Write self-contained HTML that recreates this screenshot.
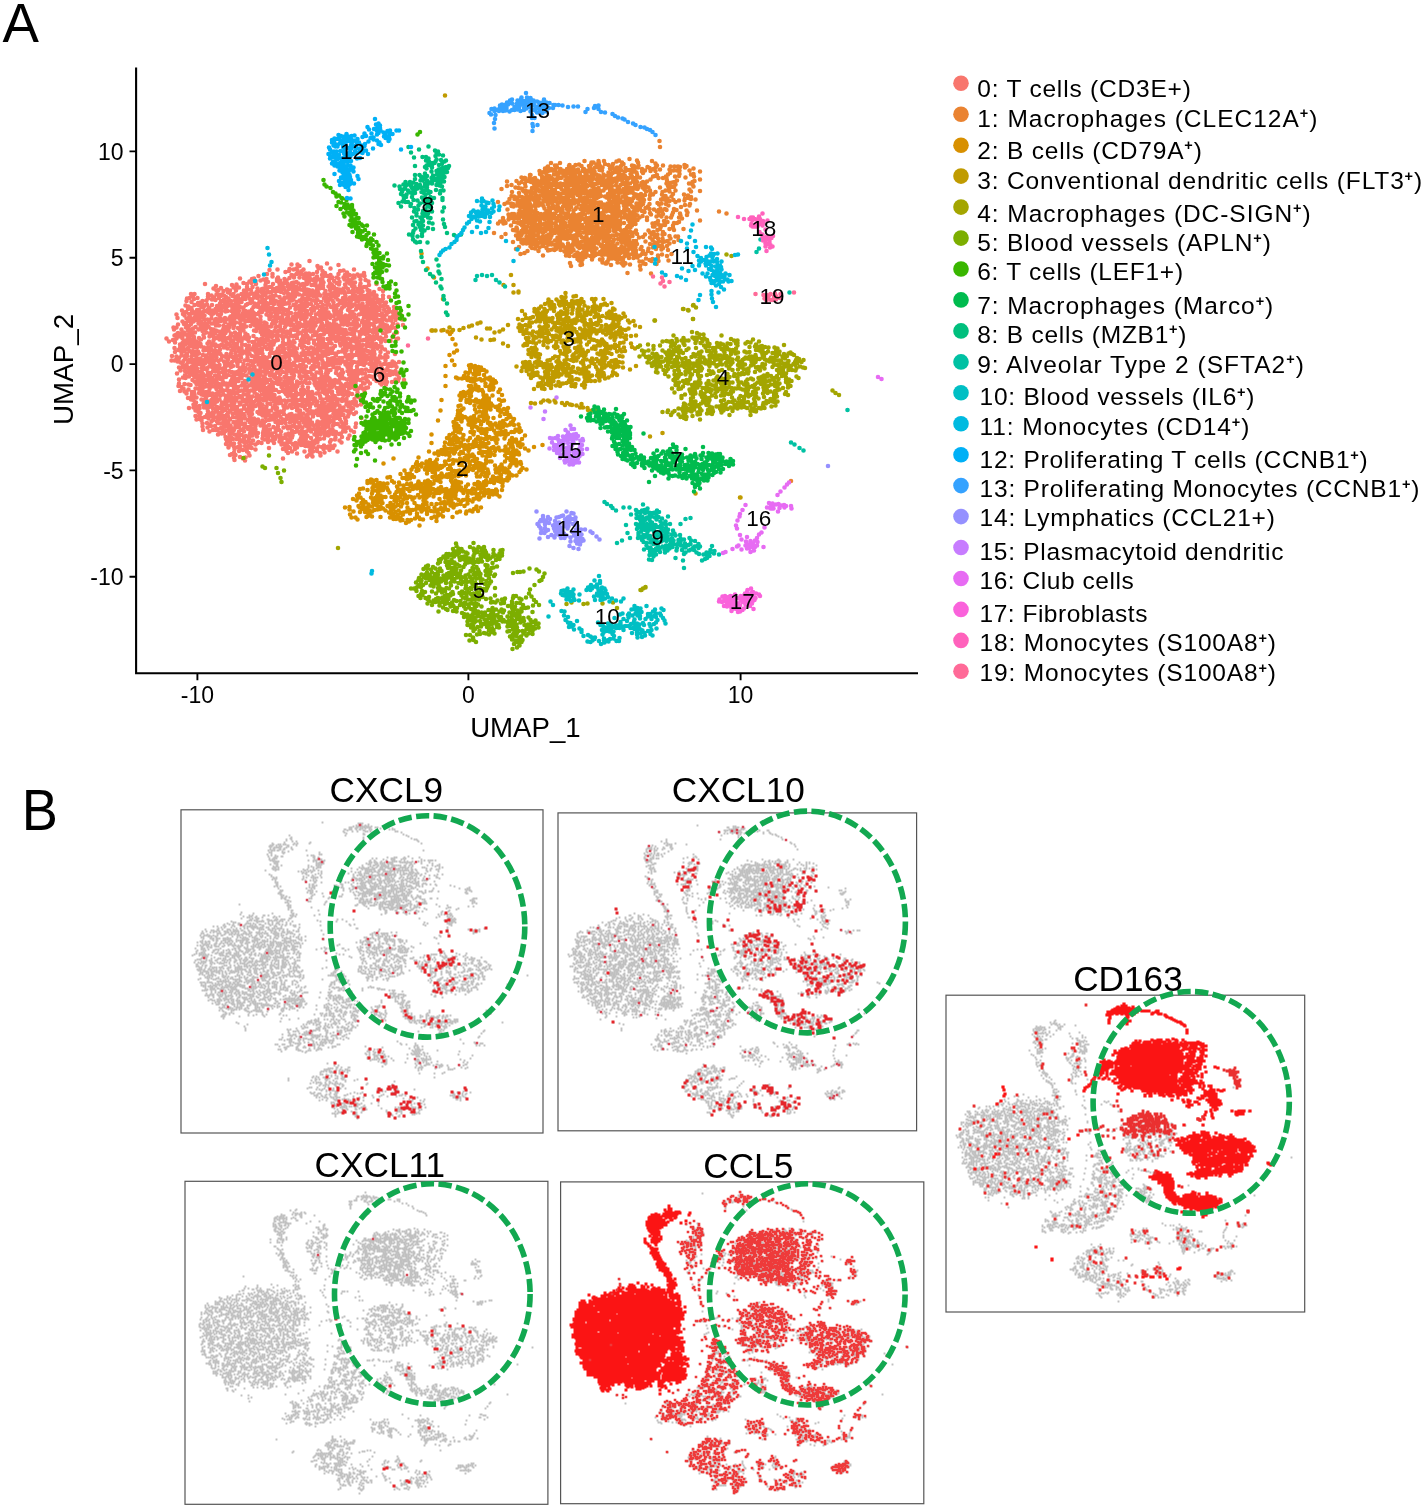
<!DOCTYPE html>
<html lang="en"><head><meta charset="utf-8"><title>UMAP clusters and chemokine expression</title>
<style>html,body{margin:0;padding:0;background:#fff}svg{display:block}text{font-family:"Liberation Sans", Arial, sans-serif;fill:#000}</style></head>
<body>
<svg width="1424" height="1508" viewBox="0 0 1424 1508">
<rect width="1424" height="1508" fill="#fff"/>
<text x="2.6" y="41.6" font-size="54.6">A</text>
<text transform="translate(21.7 829.8) scale(.957 1)" font-size="56.6">B</text>
<path d="M136.1 67.5V673.2H918" fill="none" stroke="#000" stroke-width="2.1"/>
<path d="M129.5 151.4H136M129.5 257.8H136M129.5 364.1H136M129.5 470.4H136M129.5 576.7H136M197.4 673.2V680.3M468.4 673.2V680.3M740.6 673.2V680.3" stroke="#000" stroke-width="1.9" fill="none"/>
<text x="123.6" y="159.7" font-size="23" text-anchor="end">10</text>
<text x="123.6" y="266.1" font-size="23" text-anchor="end">5</text>
<text x="123.6" y="372.4" font-size="23" text-anchor="end">0</text>
<text x="123.6" y="478.7" font-size="23" text-anchor="end">-5</text>
<text x="123.6" y="585.0" font-size="23" text-anchor="end">-10</text>
<text x="197.4" y="703.2" font-size="23" text-anchor="middle">-10</text>
<text x="468.4" y="703.2" font-size="23" text-anchor="middle">0</text>
<text x="740.6" y="703.2" font-size="23" text-anchor="middle">10</text>
<text x="525.4" y="737.4" font-size="27.6" text-anchor="middle">UMAP_1</text>
<text transform="translate(73.2 369.5) rotate(-90)" font-size="27.8" text-anchor="middle">UMAP_2</text>
<g fill="none" stroke-linecap="round" stroke-width="4.6">
<path stroke="#F8766D" d="M327 263.5h0m-17.5-2.5h0m-32 8.5h0m12-.5h0m2-4.5h0m2 5h0m3-1h0m1-4h0m2 1.5h0m4 3.5h0m14-3.5h0m1 2.5h0m2.5-1h0m9.5 1h0m8-3.5h0m15.5 4.5h0m10 3.5h0m-3 2.5h0m-3.5-1h0m-4 1h0m-4-.5h0m-2.5-2.5h0m-2 2.5h0m-1.5-4.5h0m-3.5 .5h0m-1.5 3h0m-8 1h0m-5.5-2h0m-2.5-2h0m-.5 4h0m-5-3h0m-4 2h0m-4-.5h0m-3 0h0m-2.5 1.5h0m-1.5-4h0m-1.5 3h0m-2-1.5h0m-1-2h0m-1 3.5h0m-2.5 1.5h0m-2.5-.5h0m-2.5-4h0m-3.5 1h0m-13 2h0m-3-4h0m-2.5 4h0m-27 4.5h0m9.5 3h0m2.5-2.5h0m2-.5h0m1.5 2.5h0m3-5h0m2 4.5h0m3-1h0m3-.5h0m6-2.5h0m4.5 2.5h0m0 2h0m1-3.5h0m2 3h0m4.5-1.5h0m2 1.5h0m3-2.5h0m4.5-.5h0m5.5 0h0m4.5 .5h0m2.5-1h0m0 4h0m2.5-3h0m0 3.5h0m.5-5.5h0m2 3.5h0m2 1h0m1.5-2h0m1.5 1.5h0m.5-3.5h0m2.5 3h0m3-2h0m0 3h0m1.5-4.5h0m3.5 0h0m1.5 4.5h0m1.5-2.5h0m2-.5h0m1.5 3.5h0m3-3.5h0m1.5 1h0m5-1h0m1 2h0m3-3h0m1 3.5h0m4-1.5h0m2-1h0m4.5-1.5h0m1.5 3.5h0m4-3.5h0m1 4h0m3 1.5h0m8 2.5h0m-7.5 1h0m-3 2h0m-2 0h0m-3.5-3.5h0m-.5 2h0m0 2h0m-5-5h0m-.5 4h0m-2-2.5h0m-.5 2h0m-.5-4h0m-2 1.5h0m-2-1.5h0m-2 4.5h0m-.5-2h0m-5.5-2.5h0m-.5 2.5h0m-2.5-1.5h0m-2.5 4h0m-2-2h0m-2-1.5h0m-1.5 3h0m-5-4h0m-.5 3h0m-2-3h0m-.5 2h0m-.5 2h0m-3.5-.5h0m-1-3h0m-1.5 2h0m-2.5 0h0m-4.5-1h0m-3 2.5h0m-1-2.5h0m-2 1h0m-2.5-1.5h0m-2-1.5h0m-.5 5h0m-2-4.5h0m-.5 3h0m-1 2h0m-.5-4.5h0m-1 2.5h0m-3.5-2h0m0 3h0m-3.5-3.5h0m-1 3.5h0m-1-3h0m-.5 2h0m-2-2h0m0 3h0m-6.5-2.5h0m-1.5 3h0m-2 0h0m-1.5-5h0m-2 1h0m-.5 2h0m-9.5-1h0m-3.5 3h0m-1-4h0m-4.5 1h0m0 3h0m-3.5-4h0m-4.5 4.5h0m-2.5-3h0m-3 3h0m-1.5-2.5h0m-16 1h0m-11-2h0m8.5 4.5h0m3 2h0m2-.5h0m2.5-2h0m2.5 3h0m3.5-1.5h0m1 3h0m2-2h0m6 0h0m.5-2.5h0m7.5 2.5h0m2 2h0m2-3h0m3 .5h0m1.5 3.5h0m4-1.5h0m1-3.5h0m1.5 3h0m3-2.5h0m0 3.5h0m2-4h0m0 4h0m3-4h0m.5 3h0m2 1h0m2-.5h0m1.5-2h0m2-1h0m.5 2.5h0m1.5-3.5h0m1.5 1.5h0m.5 1.5h0m2-3h0m0 4h0m3-3h0m0 4h0m2.5-1.5h0m1.5 2h0m1-4.5h0m4 2h0m.5 2h0m1.5-4.5h0m1.5 4h0m.5-2.5h0m2.5-2h0m1 1.5h0m2.5 .5h0m1.5-1h0m0 4h0m2.5-3.5h0m.5 3h0m1.5-2.5h0m1.5 2.5h0m2-2h0m2.5 1.5h0m2-2.5h0m1 3h0m1.5-4h0m3.5-.5h0m1.5 5.5h0m1-2.5h0m4.5-1h0m1-1.5h0m1.5 5h0m1.5-5h0m.5 4h0m2 .5h0m.5-4h0m2 2h0m.5-1.5h0m2 3h0m.5-2h0m1.5-2h0m.5 3h0m4-2.5h0m.5 3h0m2 0h0m2.5-2h0m.5 3.5h0m2.5-2h0m1.5-2.5h0m1 1.5h0m0 2h0m2.5-3h0m1.5 2h0m5-1.5h0m2 1h0m1 2.5h0m3.5-1.5h0m5.5-3h0m3.5 2h0m6 6h0m-6-1.5h0m0 3h0m-6.5-3h0m0 2.5h0m-2-1h0m-1 2h0m-1-4.5h0m-1.5 5h0m-1.5-2.5h0m-1.5-3h0m-1.5 2.5h0m-2-.5h0m-.5 3h0m-2-3h0m-.5 3h0m-.5-5h0m-2 3h0m-1.5 1.5h0m-2-2.5h0m-.5 3.5h0m-2-4h0m0 2.5h0m-3-.5h0m-3.5 1.5h0m-1-3h0m-.5-2h0m-2 4h0m-5-3h0m-.5 4.5h0m-1.5-4.5h0m0 2.5h0m-2.5-1.5h0m-3 1h0m-.5-3h0m-1 5h0m-2.5-4.5h0m0 3.5h0m-1.5-1.5h0m-1 2h0m-3.5-3h0m-1.5-1h0m-2.5 2.5h0m-.5-3h0m-2.5 2h0m-1-2h0m-2 5.5h0m-.5-4.5h0m-1.5 4.5h0m-.5-2h0m-1.5-3h0m-1.5 4.5h0m-2.5-3.5h0m-.5 3.5h0m-3-4.5h0m-2-.5h0m-2 2.5h0m-1.5 2.5h0m-1.5-5h0m-.5 2h0m-1.5 2h0m-2-1.5h0m-1.5 1h0m-2 0h0m-3 2h0m-2-2.5h0m-4-1.5h0m-2.5 3.5h0m-.5-3h0m-2.5 1h0m-3 .5h0m-1.5-3h0m-2.5 1h0m-1 2h0m-2.5-1h0m-2-1h0m0 2.5h0m-3-4h0m-.5 3.5h0m-4-3.5h0m0 5h0m-1.5-2.5h0m-1-2h0m-1.5 2.5h0m-.5 2h0m-1.5-5h0m-1 3.5h0m-1 2h0m-.5-5.5h0m-3 4h0m-.5-2.5h0m-3 1.5h0m-1.5-3h0m-1 2h0m-1.5-1.5h0m-2.5 4h0m-2.5-1.5h0m-2-1.5h0m0 4h0m-2-5h0m-1.5 1.5h0m-1.5 2h0m-.5-3.5h0m-2 0h0m-2.5 3h0m-2 2h0m-.5-4h0m-3.5-1.5h0m0 2.5h0m0 2h0m-10.5-.5h0m-3-4h0m-.5 5h0m-1-3h0m-2-2h0m-1.5 4h0m-2.5 .5h0m-1.5 7h0m1-4.5h0m5 1h0m3 3h0m3.5-2h0m.5 2h0m2-2.5h0m2-1.5h0m0 3.5h0m2 1h0m2-5h0m.5 4h0m5 .5h0m3.5-5h0m4.5 3.5h0m1-2.5h0m0 4.5h0m2.5-4h0m1.5 2.5h0m2-2.5h0m1.5 3h0m2 1h0m.5-4.5h0m1 3.5h0m3-4h0m.5 3h0m3 1.5h0m.5-4h0m2.5 1h0m4.5 3h0m1.5-1h0m3-3h0m0 2h0m1.5-3h0m0 2h0m2.5 1.5h0m3.5 .5h0m1.5-2.5h0m2 1h0m.5-2h0m2.5 2.5h0m.5-3h0m.5 5h0m1-2h0m2 1h0m2-1h0m.5-3h0m1.5 2.5h0m1.5 1.5h0m1-3.5h0m2.5 1h0m1 3h0m2-2.5h0m.5 2.5h0m3-3.5h0m0 3h0m2.5-.5h0m2.5 0h0m.5-2.5h0m2.5-.5h0m1.5 4.5h0m3-3h0m3-1.5h0m1.5 1h0m.5 2h0m3 2h0m.5-2h0m.5-2.5h0m2.5 3h0m3 0h0m1-3.5h0m2 0h0m2 2.5h0m1.5-3h0m0 5h0m3.5-3h0m2 3h0m2.5-4h0m1.5 4h0m1-4h0m1 3.5h0m3.5-4h0m1 2h0m0 3h0m4.5-.5h0m1.5-1.5h0m1-2.5h0m1.5 2.5h0m1-2.5h0m1.5 2h0m.5-2.5h0m1.5 4.5h0m1.5-1.5h0m1.5-2h0m1.5-1h0m0 3.5h0m3.5 .5h0m2-3.5h0m2 0h0m0 4h0m4-1.5h0m0 1.5h0m5-4.5h0m0 2h0m2-1h0m.5 2.5h0m3-2h0m2 2.5h0m2-2.5h0m2-2h0m.5 3h0m2.5-1.5h0m3 3.5h0m1-2.5h0m10.5 5.5h0m-.5 3.5h0m-2-4.5h0m0 3.5h0m-5-1.5h0m-1.5-2h0m-1.5 4.5h0m-2-2h0m-1-3.5h0m-3 1h0m-.5 3h0m-2.5-3h0m-.5 4h0m-2-1h0m-1-2h0m-1.5-2h0m-.5 4h0m-2.5-1.5h0m0 2h0m-2-4.5h0m-2 4h0m-.5-3.5h0m-2 2.5h0m-1 1.5h0m-1.5-2.5h0m-3-.5h0m-1 2h0m-3.5-3.5h0m-2 1.5h0m-.5 4h0m-1.5-5.5h0m-.5 4h0m-4-3.5h0m-2 1.5h0m-1 2h0m-3.5 1.5h0m-1-3h0m-.5-2.5h0m-2 4.5h0m-.5-3h0m-2.5-.5h0m-4.5 1.5h0m-3.5 0h0m-1 1.5h0m-.5-3.5h0m-1.5 4.5h0m-2.5-3.5h0m-2.5 .5h0m-1 2.5h0m-1-4h0m-1 4.5h0m-1-2h0m-4-3h0m0 5h0m-2.5-3h0m-.5 2.5h0m-2-1h0m-.5-3.5h0m-2 3.5h0m-.5-3.5h0m-3.5 0h0m0 3h0m-5.5-1.5h0m-2 2.5h0m-2 0h0m-2.5-1h0m0 2h0m-1.5-3h0m-2-.5h0m0 2h0m-3 1.5h0m-.5-2h0m-2 2h0m-.5-2h0m-1.5-1.5h0m-1 2h0m-1.5-1.5h0m-1.5 1.5h0m-1 2h0m-1.5-4.5h0m-1.5 2.5h0m-1.5-3h0m-2 1h0m-.5 2.5h0m-2-3h0m-2-.5h0m-3 .5h0m-1.5 2.5h0m-3 2h0m-3.5-.5h0m-2-3.5h0m0 2h0m-3.5-2.5h0m-1 3.5h0m-2-3.5h0m-.5 3.5h0m-1.5-4h0m-.5 3.5h0m-2-1.5h0m-1 2.5h0m-4 0h0m-.5-4.5h0m-1 3h0m-.5 2h0m-.5-4.5h0m-3 1h0m-.5 3h0m-2-2.5h0m-1 1.5h0m-1.5-4h0m-1.5 3h0m-3.5 1.5h0m-2 .5h0m-1-3.5h0m-1 2h0m-1.5 1.5h0m-3-3.5h0m0 4h0m-2-4.5h0m-2.5 3h0m-2 0h0m-5 .5h0m-.5-2.5h0m-3-1.5h0m-.5 2.5h0m-6 1.5h0m-5.5 4h0m6.5-.5h0m1.5 1.5h0m1.5-3.5h0m3 2h0m.5 2h0m2-2.5h0m3-1h0m.5 5h0m.5-2h0m2 2h0m1-4h0m1-1.5h0m.5 3.5h0m1-1.5h0m.5 3h0m3-1.5h0m3.5-3.5h0m1.5 1h0m2 2h0m2-1.5h0m2.5-1.5h0m2 2.5h0m1.5 1h0m1.5-1.5h0m9.5 2.5h0m2.5-2h0m1.5-2h0m.5 4h0m1-2.5h0m1 3h0m1.5-4.5h0m0 2h0m2 1h0m2.5-2.5h0m0 4.5h0m1.5-1.5h0m1.5-2h0m1.5 2h0m.5-2h0m2 3h0m.5-2h0m.5-3h0m2.5 .5h0m.5 4h0m3-2.5h0m2-1.5h0m1.5 4h0m1.5-4.5h0m4.5 2.5h0m2.5 1.5h0m2-2.5h0m0 3.5h0m3.5 0h0m1-3.5h0m2 1.5h0m1.5-3h0m3 5h0m.5-3.5h0m3.5 1h0m2-1.5h0m0 2.5h0m3-2.5h0m2 4h0m2-.5h0m.5-3h0m2.5 3h0m1.5-4.5h0m0 3h0m1 2h0m.5-4h0m1.5 2h0m2 0h0m2-1h0m0 3.5h0m3.5-3h0m1.5-1.5h0m4.5 1.5h0m2.5-1.5h0m1.5 2.5h0m1-2h0m1 2.5h0m2-4h0m.5 3.5h0m1.5-3h0m1 4h0m.5-2.5h0m1-1.5h0m1.5 2.5h0m3.5 1h0m1-3h0m1.5 1.5h0m3-1.5h0m0 3h0m2-3.5h0m0 3.5h0m3 .5h0m1.5-1h0m1 1.5h0m3-1.5h0m2.5-1h0m.5-2.5h0m1.5 5h0m.5-2.5h0m1.5 3h0m3-3h0m2-.5h0m2.5-.5h0m.5-1.5h0m0 5.5h0m2-.5h0m.5-4.5h0m.5 2h0m1.5 1.5h0m2-3.5h0m0 3h0m2-3h0m.5 3h0m1 2h0m1.5-5h0m0 4h0m2-2h0m2.5 .5h0m2-1.5h0m0 2.5h0m2.5 0h0m2-1.5h0m2-2.5h0m1.5 5.5h0m2.5-5.5h0m.5 4h0m1 1.5h0m1-4h0m1.5 1.5h0m4-.5h0m1.5 5h0m-5-1.5h0m-1.5 2h0m-2.5 3.5h0m-2-3h0m-4 0h0m-2.5-1.5h0m-2 1.5h0m0 2.5h0m-1.5-3h0m-1 2h0m-1.5-2h0m-2-1.5h0m-.5 3.5h0m-1.5-1h0m-2-2.5h0m-3.5-.5h0m-.5 2.5h0m0 2.5h0m-2-1.5h0m-4-1h0m-.5 1.5h0m-4-2.5h0m-1 4h0m-1-1.5h0m-1-2h0m-1.5 2h0m-3-3.5h0m-2 4h0m-.5-2.5h0m-2 0h0m0 3h0m-2.5-1.5h0m-.5-2.5h0m-1.5 3h0m-1-2.5h0m-2-1.5h0m-2.5 1.5h0m-2 1h0m0 3h0m-4-5.5h0m-1 5.5h0m-2-1.5h0m-1-3.5h0m-2.5 .5h0m-1.5 4.5h0m-1-1.5h0m-.5-4h0m-2 1.5h0m-1.5 2.5h0m-2-4h0m-.5 5.5h0m-1-2h0m-1.5-3.5h0m-1 2h0m0 3h0m-3-.5h0m-3-1.5h0m-.5-2.5h0m-3.5 .5h0m-1.5 4h0m-2.5-.5h0m-1-2.5h0m-2.5-.5h0m-2.5 .5h0m0 2h0m-2.5-4h0m0 2.5h0m-2-1.5h0m-.5 2.5h0m-1.5 1.5h0m-.5-2.5h0m-2.5-.5h0m-.5 1.5h0m-2-3.5h0m-2.5 3.5h0m-1-3h0m-.5 5h0m-2-2.5h0m-3.5-2h0m-3 4.5h0m-2-1h0m-4-2.5h0m0 2.5h0m-3-1h0m-1-2h0m-2 1.5h0m-1.5-3h0m-.5 5.5h0m-.5-3h0m-3 .5h0m-.5-2h0m-3 2.5h0m-1-1.5h0m-2-.5h0m-2 1.5h0m-.5 2h0m-.5-4.5h0m-3.5 4h0m-1.5-4h0m-1.5 2h0m-.5 2h0m-.5-4.5h0m-1.5 3.5h0m-1-3.5h0m-3 1.5h0m-1.5-1.5h0m0 4h0m-2-2h0m-2 1h0m-.5-3h0m-1.5 1.5h0m-1.5 2.5h0m-1.5-3h0m-1 2h0m-1 2.5h0m-2 0h0m-.5-5h0m-2.5 3h0m-1.5-2h0m-2.5 4h0m-.5-4h0m-3.5 2h0m-1.5-1.5h0m-1 3.5h0m-2.5-3.5h0m-2.5 1.5h0m-1.5-3h0m-.5 2h0m-2.5-2h0m-.5 2.5h0m-2-2.5h0m-.5 4.5h0m-3.5-1.5h0m-5-3.5h0m-4 9.5h0m.5 2h0m2.5-2h0m1.5-3h0m3.5 5h0m2.5-5.5h0m1.5 1h0m.5 2.5h0m2.5 1h0m.5-2.5h0m2-2h0m2 4.5h0m2.5-1.5h0m3 2.5h0m2-2h0m1-2h0m1.5-1.5h0m1 5h0m1-2.5h0m1.5 1.5h0m1-4h0m1 2.5h0m2.5 2.5h0m2.5 .5h0m2.5-4h0m1.5-1.5h0m1.5 1.5h0m4.5 0h0m0 3h0m2-1.5h0m1.5 2.5h0m1.5-5h0m.5 3h0m2-3h0m2.5 3.5h0m.5-2h0m4 2h0m1.5 1.5h0m1.5-3.5h0m2.5 2h0m.5-3.5h0m2 2h0m4.5-.5h0m4.5-.5h0m1.5-1.5h0m.5 2.5h0m0 2h0m2.5-4h0m.5 2h0m.5 2.5h0m2 .5h0m.5-3.5h0m2 .5h0m2 2.5h0m.5-2.5h0m3.5 0h0m1-2.5h0m3.5 3.5h0m3-1h0m1.5 .5h0m.5-3h0m4.5 3h0m2.5-2.5h0m3.5 1h0m2-1h0m1 2h0m2.5 2.5h0m.5-3h0m2 1.5h0m2-3h0m1.5 1.5h0m2.5-2h0m1 3h0m3-1.5h0m1 4h0m1-3h0m1.5-2h0m1 4h0m2-3h0m4.5 2.5h0m1-2h0m2 .5h0m3-1h0m1.5 2h0m2-.5h0m0 2h0m2-1.5h0m0 2h0m.5-5h0m1.5 4.5h0m2-1.5h0m1-3h0m1 4h0m.5-2.5h0m1.5 1.5h0m2-3.5h0m1 5.5h0m1-5h0m4 .5h0m2.5 4h0m1-4.5h0m2.5 4h0m1-4h0m2 3h0m2.5-2h0m3 4h0m1.5-5.5h0m0 4.5h0m.5-2.5h0m1.5 3.5h0m.5-4h0m1 2h0m2-1.5h0m0 3.5h0m1.5-5.5h0m2 .5h0m1.5 1.5h0m1.5 3h0m3-1.5h0m2-3.5h0m0 5h0m.5-2.5h0m1.5 2h0m1-1.5h0m1.5-2h0m.5 4h0m1.5-3.5h0m2 2h0m2.5 .5h0m.5-2h0m3.5 2h0m2-3.5h0m5.5 .5h0m-6 7.5h0m-3 2h0m-4.5-3.5h0m-2 .5h0m-2 1.5h0m-2.5 0h0m-5-3h0m-1 4h0m-1-2.5h0m-3-1.5h0m0 2.5h0m-4-1h0m-1.5 1.5h0m-1-1.5h0m-1 2.5h0m-1.5-2h0m-1.5 1.5h0m-2.5 1.5h0m-.5-3h0m-4-1.5h0m-1.5 3h0m-1.5-2.5h0m-1 3h0m-2.5-.5h0m-2.5 .5h0m-.5-2h0m-.5-2h0m-2.5 3.5h0m-3-.5h0m-.5-3h0m-1 5.5h0m-2-3h0m-2.5-1.5h0m-1 3.5h0m-2.5-1.5h0m-.5 2h0m-2.5-4.5h0m-.5 1.5h0m-2-2h0m-.5 2h0m-.5 2h0m-1-3.5h0m-2.5 4.5h0m-1.5-5h0m-2.5 2.5h0m-1.5 2.5h0m-1.5-4h0m-.5 4.5h0m-1-5.5h0m-1.5 1.5h0m-4-1h0m-.5 2.5h0m-2.5-2.5h0m-2 2h0m-2.5 1h0m-1.5-2.5h0m0 3.5h0m-2.5 1h0m-.5-5.5h0m-3.5 0h0m0 5.5h0m-1-2.5h0m-3-1.5h0m-.5 3h0m-1.5-3h0m-2-1.5h0m-.5 2.5h0m-1.5-2.5h0m-2.5 1h0m-.5 4.5h0m-.5-2.5h0m-2 2.5h0m-1-4.5h0m-2.5 3h0m-1.5-2h0m-.5 3.5h0m-1.5-5h0m-.5 2h0m-2.5 1h0m-1-3.5h0m-1 3h0m0 2.5h0m-1.5-1h0m-1.5-2.5h0m-4.5-1h0m-2-.5h0m-6.5 4.5h0m-2-1.5h0m-2-3h0m-3.5 2.5h0m0 2.5h0m-3.5-1.5h0m-1.5-1.5h0m-4 1h0m-2.5-3h0m-3 2.5h0m-.5-2h0m-1 4h0m-.5-2h0m-1-2.5h0m-2 3.5h0m-2-2.5h0m-2.5-1h0m-1 3h0m-1-2.5h0m-2 2.5h0m0 2h0m-.5-4h0m-1.5 2h0m-3.5-1h0m-1.5-2h0m-1.5 4.5h0m-1-4h0m-7.5 1.5h0m-3-.5h0m0 2.5h0m-1-4h0m-1.5 2.5h0m-1.5-2.5h0m-2 4h0m-2-2h0m-2 .5h0m-4 0h0m-1.5 1.5h0m-2 1h0m-8 3h0m2.5 3h0m4-1.5h0m3.5-1.5h0m3.5-2h0m2.5-.5h0m0 2.5h0m1.5 2.5h0m3-1h0m.5-4h0m2 1h0m1 2.5h0m2 1.5h0m1.5-4h0m.5 3h0m4.5-2h0m2 1.5h0m3-2h0m5 4h0m.5-5h0m4 4h0m.5-3h0m2.5 .5h0m2-2h0m1 3.5h0m2.5-3h0m1 4h0m1.5-2.5h0m1 3h0m2.5-3h0m2.5-2h0m0 3.5h0m.5 2h0m2-1h0m1.5-4h0m2.5 2.5h0m1.5-2h0m1 3.5h0m1.5-2.5h0m.5 3.5h0m2-3h0m1.5-2h0m2 2.5h0m1.5 2h0m.5-3.5h0m4.5-1.5h0m3 3h0m3.5 .5h0m2-1h0m3 1.5h0m1-4h0m2 4h0m.5-3h0m2 4.5h0m1.5-4.5h0m1 4h0m3-.5h0m1-2.5h0m1 2h0m3.5-4h0m1.5 2.5h0m1.5-2h0m4 1.5h0m.5 3h0m4-4.5h0m.5 4.5h0m3.5-3h0m3.5 3h0m1.5-2h0m1-3h0m1 3.5h0m1-2.5h0m2.5-1h0m1 4h0m2-1.5h0m3.5 2h0m4-4.5h0m0 3h0m2.5-1.5h0m.5 3h0m2-2h0m0 2h0m4.5-1.5h0m2.5 2h0m1-4h0m2 1.5h0m3 2.5h0m.5-4h0m1 3h0m2-1h0m2-1.5h0m1.5 1h0m1-2.5h0m2 3h0m2-.5h0m2 1h0m1 2h0m2-3h0m1.5-2h0m.5 5h0m1.5-3h0m2.5 3h0m.5-4.5h0m2.5 3.5h0m2-.5h0m3-2h0m2.5-2h0m0 3.5h0m1.5-1.5h0m.5 2h0m2-3.5h0m.5 3h0m1.5-1.5h0m1.5-2h0m2 3h0m1.5-1.5h0m2 1.5h0m3 2h0m.5-4.5h0m4.5 4.5h0m2-4h0m4 2h0m1.5-.5h0m-16.5 8h0m-.5-4.5h0m-2 4h0m-3-2h0m-1 3h0m-2-2.5h0m-.5 2.5h0m-.5-4.5h0m-1.5 1.5h0m0 2.5h0m-3-4.5h0m-.5 2h0m0 2h0m-4-1h0m-1.5 2.5h0m-1.5-2.5h0m-3-2.5h0m-.5 3h0m-4 1h0m-2-1.5h0m-.5 2h0m-1.5-3h0m-2.5-1.5h0m0 2h0m-1 1.5h0m-2-2h0m-.5-2h0m-2 3.5h0m-.5-2h0m-5 2.5h0m-3.5-2.5h0m-2.5-.5h0m-2 2h0m0 2h0m-2-3h0m0 3.5h0m-2-4h0m-1 4h0m-1-2.5h0m-1-1.5h0m-1-1.5h0m-1 5.5h0m-.5-2.5h0m-2-.5h0m-1.5-1.5h0m-3 4.5h0m-2.5-4.5h0m-3.5-1h0m-1 4.5h0m-1.5-3.5h0m-.5 4.5h0m-2-2.5h0m-5.5-2.5h0m-.5 4.5h0m-2-1h0m-1.5-3h0m-1 2h0m-1-2h0m0 4h0m-3.5-3h0m-1.5 3h0m-.5-5h0m-1 3.5h0m-2 1h0m-6-4h0m-.5 2h0m-2-1h0m0 2.5h0m-2 1.5h0m-1-3h0m-3.5-2h0m0 4.5h0m-2-2.5h0m-1-2.5h0m-2 3h0m-1-2.5h0m-2 2.5h0m-2.5-3h0m-.5 4h0m-1.5-4h0m-3.5 3.5h0m-1 2h0m-2.5-2.5h0m-3.5-.5h0m-4.5 2.5h0m-.5-3.5h0m-1.5 4h0m-1-3.5h0m-1-1h0m-.5 4.5h0m-2.5-1.5h0m-1.5-2h0m-2.5-1.5h0m-.5 2.5h0m-2 2.5h0m-2-3h0m-2 1h0m-2.5 .5h0m-2-1.5h0m0 2h0m-3.5-3h0m-.5 2h0m-3.5 2h0m-.5-4h0m-3.5 4h0m-3-1h0m-.5-2.5h0m-2-1.5h0m0 2.5h0m-1.5-3h0m0 5.5h0m-1.5-3h0m-1-2.5h0m-1 5h0m-1-4h0m-1 3h0m-1.5 .5h0m-1-3h0m-3 .5h0m-2.5 2.5h0m-1-3.5h0m-.5 2.5h0m-2-1h0m0 3h0m-5-5h0m-.5 5.5h0m.5 4h0m3.5-2h0m3 2.5h0m1.5-3h0m1.5 2h0m1.5-2h0m2-1.5h0m1.5 3h0m2.5 2h0m1-2h0m1.5 .5h0m1 2h0m2.5-2h0m1 2h0m4.5-3h0m2.5-.5h0m3 0h0m0 3.5h0m2-4.5h0m1 1.5h0m2 0h0m2 .5h0m3.5 1.5h0m.5-3h0m7.5-1h0m3.5 5h0m.5-3h0m3-1h0m1 2.5h0m3.5-2.5h0m.5 2h0m2-3.5h0m1 5.5h0m1-2h0m3 1.5h0m.5-4h0m1 2h0m1.5-2h0m0 4.5h0m2.5-4h0m1-1.5h0m1.5 2h0m1 2h0m1-3.5h0m1.5 4h0m.5-2h0m1 2.5h0m.5-4h0m2 0h0m0 1.5h0m5-1.5h0m3 4.5h0m1-3h0m.5-2h0m2 4.5h0m3-1.5h0m1.5-3h0m.5 2h0m1.5 2h0m2.5-2.5h0m1 2h0m1-3h0m1 4h0m3.5-3.5h0m0 3.5h0m1.5-1.5h0m1.5-1.5h0m.5 3h0m2-1h0m.5-1.5h0m1.5 2.5h0m.5-4.5h0m4.5 5h0m2-2.5h0m3 2h0m.5-5h0m1.5 1.5h0m1 3h0m4-4h0m0 2.5h0m.5 2.5h0m1.5-2.5h0m1.5-1.5h0m0 4h0m3-3h0m2.5 1.5h0m2.5-.5h0m2.5-2h0m1.5 2h0m1.5-3h0m1 4.5h0m.5-3h0m1-2h0m2 5.5h0m3.5-1.5h0m3.5-.5h0m1-2h0m2 3.5h0m1.5-2.5h0m.5-2.5h0m4.5 2.5h0m2.5-2h0m2 0h0m1 3.5h0m2.5-3h0m0 3h0m1.5-1.5h0m0 2.5h0m2.5-3.5h0m0 3.5h0m2-3.5h0m2 1.5h0m2 .5h0m.5 1.5h0m3-3h0m1 1.5h0m3.5-3h0m3 3.5h0m1.5-3.5h0m3 1h0m3 3h0m7 1.5h0m-7.5 3h0m-2-2h0m-1 2.5h0m-3 0h0m-1.5-1.5h0m-1.5 2.5h0m-3 1h0m-1-5.5h0m0 3h0m-1.5 1.5h0m-1-4h0m-1.5 5h0m-.5-2.5h0m-2.5 2.5h0m-1-4h0m-2 1h0m0 2h0m-3-2h0m0 2.5h0m-1.5-4h0m-.5 3h0m-2-3h0m-2.5 0h0m-3 2h0m-.5-3h0m-1 4.5h0m-1.5-3.5h0m-1 4h0m-2.5-2.5h0m-3.5 1.5h0m-2.5 0h0m-3 1.5h0m-.5-4.5h0m-2.5 3h0m-2 .5h0m-3-4.5h0m-.5 5h0m-2.5-3.5h0m-2.5 0h0m-1 1.5h0m-2-1.5h0m0 3h0m-2-3h0m-.5 2.5h0m-2 1h0m-3-2h0m-1-3h0m-2.5 .5h0m-1.5 4.5h0m-1.5-.5h0m-1-3h0m-2-.5h0m-2.5 1.5h0m-2.5 .5h0m-1-1.5h0m-1.5 3h0m-2-3h0m-3-.5h0m-1.5 2h0m-2.5-1.5h0m-1.5 2h0m-2-1h0m-1 2h0m-2.5-.5h0m-.5-2.5h0m-2-1.5h0m0 3.5h0m-2-.5h0m-5.5-.5h0m-2.5 1.5h0m-2.5-1h0m-1 2.5h0m-1-5.5h0m-1.5 4h0m-2 0h0m-1.5-2h0m-1-1.5h0m-1.5 5h0m-.5-3h0m-2.5-.5h0m-4.5-1h0m0 2.5h0m-6.5 0h0m-1-2.5h0m-2.5 4.5h0m-1-3.5h0m-1-2h0m-.5 3h0m-2.5 0h0m-3.5-.5h0m-1 3h0m-1.5-5.5h0m0 3.5h0m-2-1h0m-2.5-.5h0m-1 3.5h0m-.5-5.5h0m-3.5 0h0m-.5 3.5h0m-2.5-1.5h0m-1-2h0m-.5 3h0m-2-2h0m-1.5 3h0m-3-2.5h0m0 2h0m-3-2.5h0m-2.5 3.5h0m-4-3h0m0 2h0m-2.5-2.5h0m-2.5 1.5h0m-4.5-2.5h0m0 2h0m-2 0h0m0 3h0m-3.5-3.5h0m-2.5 2.5h0m-2.5-1.5h0m0 2h0m-4.5-2.5h0m-.5 4.5h0m3 0h0m3 1h0m1-1.5h0m2 2.5h0m2 1.5h0m1-3h0m3 4h0m1.5-2.5h0m1-2.5h0m2 .5h0m1 2h0m1-2.5h0m1 3h0m1 1.5h0m.5-4h0m1.5 2.5h0m1-2h0m1 3h0m3-2h0m.5 2.5h0m2-4.5h0m.5 3.5h0m2-3.5h0m2 2h0m1.5-2h0m.5 4h0m2.5-1h0m1-2.5h0m.5 5h0m3.5-4.5h0m1 4h0m4.5-3.5h0m1 2.5h0m1.5-1.5h0m1 3h0m1.5-2h0m3-1.5h0m2-2h0m2.5 1.5h0m1 2.5h0m2.5-3h0m3.5 3h0m1-3.5h0m3.5-.5h0m0 4.5h0m2.5 1h0m.5-4.5h0m2.5 2h0m2-1.5h0m1.5-1.5h0m1.5 4.5h0m1.5-2.5h0m1 2.5h0m2.5-3h0m0 2.5h0m2.5 .5h0m.5-4.5h0m2 2h0m3 0h0m.5 3.5h0m1-5h0m0 3h0m2.5-3.5h0m.5 3h0m1.5 2h0m.5-2.5h0m.5-2.5h0m2.5 2h0m.5 2.5h0m1.5-2h0m2.5-1h0m.5 2h0m3-1h0m0 1.5h0m.5-4h0m1.5 4h0m1.5 1h0m1.5-2.5h0m1 3h0m1.5-5h0m2 0h0m1.5 4.5h0m2-5h0m1 4h0m.5-2.5h0m2.5-1h0m3 2h0m2.5-2h0m3 2h0m2.5-2.5h0m1.5 3.5h0m4-2.5h0m.5 3.5h0m2-1h0m1.5 2h0m1.5-4h0m.5 3.5h0m1-4.5h0m1.5 2h0m0 2h0m2.5 .5h0m.5-5h0m.5 2.5h0m2.5 1h0m2.5-2h0m.5 2h0m1.5-3h0m1.5 1h0m2.5 3h0m.5-3h0m1.5 2h0m2 0h0m2-2.5h0m.5 2.5h0m2-1.5h0m3 .5h0m2 1.5h0m.5-3h0m2 3h0m1-1.5h0m1.5-1.5h0m0 4h0m1.5-2h0m4 1h0m1.5-3h0m1 2.5h0m0 2h0m3-2.5h0m1.5-1h0m0 3.5h0m3-3h0m1.5 2.5h0m3-1h0m1.5-3.5h0m2 4h0m2-.5h0m3-2.5h0m1 4h0m.5-3h0m1.5 1.5h0m3.5-2h0m1.5 9.5h0m-4-4.5h0m-1 4h0m-4-5h0m-.5 5.5h0m-2-5.5h0m0 5h0m-1.5-3h0m-1.5 2.5h0m-2.5 0h0m-1.5-2h0m-4.5 0h0m-.5 2h0m-3-3.5h0m0 3h0m-2 1h0m-.5-3.5h0m-2.5 3.5h0m-3-1.5h0m-4 .5h0m-2 .5h0m-3-4h0m0 3h0m-2 1.5h0m-4-5h0m0 3.5h0m-2 2h0m-1.5-4.5h0m0 4h0m-5.5-1h0m-3-2h0m-2 0h0m-.5 2h0m-3-3h0m-3 3h0m-2 .5h0m-2 .5h0m-.5-3h0m-3-.5h0m-2 4h0m-1-3h0m-1.5-2h0m-2.5 0h0m-2.5 2.5h0m-1-3h0m-1.5 2h0m-5-1.5h0m-1.5 3h0m-3-2.5h0m-.5 2h0m0 2h0m-3 .5h0m-.5-5h0m-1.5 2.5h0m-1 2.5h0m-3-2h0m-1.5-2h0m-.5 3.5h0m-1-1.5h0m-1-3h0m-1 4.5h0m-1-3h0m-2-1h0m-2.5 .5h0m-.5 2h0m-2.5 2h0m-1-2.5h0m-3-3h0m0 2.5h0m-2 1h0m-1 2h0m-1-3.5h0m-1-2h0m-2.5 0h0m0 3.5h0m-1 2h0m-1-1.5h0m-.5-2.5h0m-2.5 4h0m-1.5-4h0m-1.5 3h0m-2.5 0h0m-2-3.5h0m-1 2h0m-2.5 1h0m-2-1h0m-4-1.5h0m0 3.5h0m-1-1.5h0m-1.5-2.5h0m-1.5 4.5h0m-1-3h0m-1 2.5h0m-1.5-5h0m-4.5 0h0m-2 1h0m-2 4h0m-4-4.5h0m0 2.5h0m-2-.5h0m-3.5-.5h0m-1.5 2.5h0m-1-4.5h0m0 3h0m-1.5 2h0m-1.5-1.5h0m-1 1.5h0m-1-4h0m-2.5-1h0m-2 2h0m-1 1.5h0m-3-2.5h0m0 2h0m-1.5 1.5h0m-.5-2.5h0m-3.5 3.5h0m-1-3h0m-1-1.5h0m-1.5 2h0m-2 2.5h0m-.5-5h0m0 2.5h0m-3 0h0m-1-1.5h0m-3 0h0m0 3.5h0m-3-3.5h0m-1.5 3h0m-1.5-3h0m-2 6h0m6 4h0m2-2.5h0m2-2.5h0m2 .5h0m0 3.5h0m3-2h0m2 1.5h0m1-3.5h0m1 4.5h0m1-1.5h0m1.5 1.5h0m2-5h0m.5 2.5h0m2-.5h0m2 1.5h0m3-3h0m0 3.5h0m2-.5h0m1-2.5h0m4 2.5h0m2 1h0m1.5-2h0m1-2h0m0 4h0m3-4.5h0m.5 5.5h0m1-3h0m1-2.5h0m1 3h0m0 2h0m2.5-2h0m3.5-3h0m0 4h0m2.5-3.5h0m.5 2h0m2-2.5h0m1.5 2h0m2.5 1h0m2.5 0h0m3 .5h0m3-3h0m2 1.5h0m2.5-.5h0m0 2.5h0m2-3.5h0m.5 4h0m1.5-2.5h0m1-1.5h0m1.5 2h0m3 2h0m2-2.5h0m4-1h0m.5 2.5h0m3.5-1h0m0 2h0m1.5-1.5h0m2-2.5h0m3 2h0m3-2.5h0m1.5 5h0m2-3h0m5-.5h0m2.5 2h0m5.5-2h0m0 3h0m2 0h0m2.5-4h0m1 3.5h0m1-2.5h0m1.5-1.5h0m0 4.5h0m3-4.5h0m1.5 2.5h0m3 1h0m1.5-3h0m2 0h0m3 2h0m0 2.5h0m3 0h0m1.5-3.5h0m1 2h0m1-3h0m0 5h0m8-4.5h0m2.5 2h0m2-1.5h0m1.5 1.5h0m1-2.5h0m6 2h0m2.5-1.5h0m.5 4h0m2.5-1.5h0m.5-2h0m2-1h0m0 4.5h0m1-3h0m4-.5h0m3 0h0m1 3.5h0m3-1h0m2 .5h0m3 0h0m1-4.5h0m4.5 3.5h0m.5-3h0m1.5 4h0m2.5-1.5h0m.5-2.5h0m1.5 2.5h0m2 0h0m2 0h0m3-3h0m0 2h0m2-1h0m2 1.5h0m2-1h0m5 6.5h0m-5-2h0m-1 3h0m-2.5-1.5h0m-3.5 2.5h0m-5 0h0m-1-3.5h0m-1 4h0m-1-3.5h0m-2 2h0m-1.5-3h0m-.5 5h0m-3.5-2h0m-2.5-2h0m-4 4.5h0m-2-2h0m-1.5-2h0m-2 4h0m-1.5-5h0m0 4.5h0m-3-3h0m-4-1h0m0 2h0m-.5 2.5h0m-1.5-3.5h0m-1 2h0m-2-1.5h0m-1.5-2h0m-1 5h0m-1.5-4h0m-3-1h0m-2.5-.5h0m-1 5.5h0m-.5-5h0m-1 2h0m-1.5 2h0m-2.5-2.5h0m-1 2.5h0m-2.5-2h0m-1.5 3h0m-.5-5h0m-2 2h0m-2-1.5h0m-.5 4h0m-2.5-2.5h0m-2.5 .5h0m-.5-2h0m-2 4h0m-2-5h0m0 4h0m-1 1.5h0m-.5-3.5h0m-1.5-1.5h0m-3 0h0m0 4.5h0m-3 0h0m-1-3h0m-3 2.5h0m-1.5-4h0m-1.5 4.5h0m-2.5-1.5h0m0 2h0m-3.5-5.5h0m-1.5 2h0m0 3h0m-1-5h0m-1 5.5h0m-.5-4h0m-1.5-1.5h0m-1 3h0m0 2h0m-2.5-2h0m-2 2.5h0m-2-4.5h0m-1 2.5h0m-1-3.5h0m-2 2h0m-1.5-2h0m0 5h0m-3-1h0m-1.5-2h0m-3 0h0m-.5 2.5h0m-2-4.5h0m0 4h0m-2-2.5h0m-1.5 2h0m-1.5 1.5h0m-.5-2.5h0m-.5-2.5h0m-2 2.5h0m-2-2h0m-1 3.5h0m-2.5 1h0m-.5-4h0m-1.5-1h0m-3 4.5h0m-1.5-1.5h0m-2 1.5h0m-1.5-4.5h0m-3 .5h0m0 2.5h0m-3.5-1h0m0 3.5h0m-.5-5.5h0m-1.5 5.5h0m-1-4h0m-1 1.5h0m-2 2.5h0m-3 0h0m-3-1h0m-.5-2.5h0m-2-1h0m-3.5 0h0m-.5 2.5h0m-.5 1.5h0m-2.5-3h0m-1 2.5h0m-.5-4.5h0m-2 3.5h0m-1-2h0m-2 .5h0m-2 1h0m-1-2h0m-1 3.5h0m-.5-4.5h0m-1.5 1h0m-.5 2h0m-3.5 0h0m-2.5 .5h0m-2-1.5h0m-7-2h0m-6.5 1.5h0m0 4h0m-.5 2.5h0m3 1h0m2 1.5h0m1-4.5h0m4 .5h0m0 5h0m2-4.5h0m5 3.5h0m1-4.5h0m1 4.5h0m2.5-4h0m0 3h0m2-3.5h0m.5 2.5h0m0 2.5h0m3-2.5h0m1-2h0m2.5 0h0m0 2h0m.5 2.5h0m2-2.5h0m3 0h0m2 2.5h0m.5-2.5h0m2-2.5h0m0 3h0m2 1h0m1.5-4h0m1.5 .5h0m3.5 2.5h0m4-2h0m2.5 .5h0m0 3h0m3.5 .5h0m.5-2h0m3.5-1.5h0m3 .5h0m.5 3h0m2-2h0m2.5-1.5h0m2 0h0m2.5 0h0m0 3h0m2 .5h0m.5-2.5h0m1-2h0m1 2.5h0m2.5-1h0m.5 3h0m2-1.5h0m.5-3h0m3 3.5h0m2-1h0m.5 2h0m1-4h0m2.5-1h0m0 3.5h0m5-3.5h0m2.5 0h0m1 3h0m1.5 2h0m1-3.5h0m1-1.5h0m2 2.5h0m0 2.5h0m4-2h0m2 .5h0m2-2h0m1 2.5h0m1.5-2h0m5 .5h0m5.5 1h0m7.5-2h0m1.5 2.5h0m1-3h0m.5 4.5h0m2-2.5h0m1-2.5h0m1.5 5h0m.5-4h0m1.5 4h0m1.5-4h0m2.5 4h0m.5-4h0m2.5 1.5h0m2-2h0m2.5 3h0m3.5-.5h0m3-2h0m0 3.5h0m1-1.5h0m1.5-1.5h0m.5-2h0m1.5 1.5h0m1.5 3h0m1.5-4.5h0m.5 3.5h0m3.5-2h0m.5 3.5h0m1-2h0m2.5 1.5h0m2.5-2.5h0m1.5 2.5h0m3.5-.5h0m2-.5h0m13.5-3h0m4.5 0h0m-21.5 7.5h0m-7 .5h0m-5.5 1.5h0m-3-1h0m-1 2.5h0m-1.5-3.5h0m-2-1.5h0m-.5 4.5h0m-1.5-3.5h0m-.5 2.5h0m-1-4h0m-2.5 4h0m-.5-4h0m0 2h0m-6-.5h0m0 2h0m-2.5-2h0m-2-.5h0m-.5 4h0m-2-1.5h0m-2.5-1.5h0m-4 1.5h0m-2 0h0m-4 1h0m-.5-2.5h0m-2 .5h0m-2-1.5h0m0 3h0m-1.5-1.5h0m-2.5-2.5h0m-.5 4h0m-2-1.5h0m-.5-2.5h0m-2 4h0m-3-2h0m0 3.5h0m-2-.5h0m-.5-5h0m-3 2.5h0m0 3h0m-.5-5.5h0m-2.5 2.5h0m-1.5 1.5h0m-1-1.5h0m-2.5-1.5h0m-3.5 1h0m-3-2h0m-1.5 5h0m-1.5-4.5h0m-1.5 1.5h0m-.5 3h0m-2-4h0m0 3.5h0m-2.5-2.5h0m-2.5-.5h0m0 3h0m-2.5 0h0m-1.5-4h0m-3 4h0m-2.5-2h0m-3.5-2h0m-2.5 2.5h0m0 2h0m-1-4.5h0m-1.5 4h0m-2-4h0m-.5 4h0m-2-4h0m-2 .5h0m-2.5 2h0m-2.5 .5h0m-1-2.5h0m-2 3h0m-1.5-3h0m-.5 4h0m-1-3h0m-1.5-2h0m-3.5 .5h0m0 4h0m-2.5-3.5h0m-.5 4.5h0m-1.5-3.5h0m-2.5 1.5h0m0 2h0m-4-2h0m-2 1.5h0m-1-2h0m-1.5-1h0m-.5 3.5h0m-1.5-3.5h0m-2.5 0h0m0 3h0m-2-.5h0m-1.5-3.5h0m-1 2h0m-4.5 1.5h0m-.5-2.5h0m-2 0h0m0 2h0m-5.5-2.5h0m0 2h0m-2-2h0m-4.5-.5h0m8 7h0m3 1.5h0m.5-2.5h0m2 3h0m.5-2h0m2.5-.5h0m5 2h0m2 .5h0m2.5-2h0m2.5 3.5h0m3-1.5h0m1.5-1.5h0m1 2.5h0m.5-4h0m2 2h0m.5 2.5h0m2.5-2h0m6 .5h0m.5-2h0m.5-2h0m2 2.5h0m1 2h0m1.5-3.5h0m0 2h0m1.5 1.5h0m2.5-3h0m1 3h0m2.5-3h0m1-1.5h0m2.5 2h0m.5 3.5h0m2.5-1.5h0m1 1.5h0m1.5-3h0m1 3h0m2.5-3.5h0m0 2.5h0m1.5-4h0m3.5 4h0m.5-3.5h0m1 2h0m1.5 2.5h0m.5-5.5h0m2 3h0m2 1.5h0m1-3h0m1.5 2.5h0m.5-3.5h0m2 2h0m2 1h0m2.5-1h0m.5 2.5h0m1.5-2.5h0m1 2.5h0m1.5-2.5h0m.5 2h0m1.5-3h0m.5 1.5h0m1.5 2h0m3-.5h0m3-4.5h0m1 4.5h0m3 0h0m1-3.5h0m1 2h0m1.5 2.5h0m.5-3.5h0m1.5 2h0m3 0h0m1.5-2h0m.5-2h0m1 3.5h0m1 1.5h0m1.5-1h0m1.5 1.5h0m1-5h0m1 3.5h0m1.5-4h0m1.5 3h0m.5-2.5h0m1.5 5h0m1-3h0m2.5 3h0m2.5-5.5h0m.5 2h0m2 1.5h0m4-1h0m1.5 2h0m.5-3.5h0m2.5 .5h0m0 2.5h0m2-.5h0m1.5-3.5h0m1 2h0m1.5 2.5h0m1.5-1h0m3.5 1.5h0m.5-2.5h0m2.5 2h0m1.5-1.5h0m8 0h0m2-3h0m2.5 1.5h0m2 7h0m-4 1h0m-1-3.5h0m-1 2.5h0m-2.5-2.5h0m-1 1.5h0m-.5 4h0m-1.5-5h0m-1 4h0m-2-4.5h0m0 2.5h0m-3 3h0m-4-2h0m-2-3h0m0 2h0m-3 2.5h0m-.5-3.5h0m-2 1.5h0m0 2.5h0m-1-5.5h0m-1 5h0m-1.5-2h0m-3 2h0m-1-4h0m-1 3h0m-1.5-4h0m0 2h0m-2 2h0m-2-.5h0m-2-3.5h0m0 3.5h0m-4-2h0m-2 3.5h0m-1-3h0m-3 1h0m-3.5-1.5h0m-.5 2.5h0m-2.5-1h0m-2 2h0m-.5-3h0m-1.5 3h0m-.5-3h0m-2.5 0h0m-2.5 1h0m-2.5 2.5h0m-1.5-5h0m-.5 2h0m-2 1.5h0m-2.5-3h0m-3 .5h0m-3 1.5h0m-2 2.5h0m-2.5-3.5h0m-3-.5h0m-1 3h0m-4-1.5h0m-2.5-1.5h0m0 4h0m-2-3h0m-2.5 1.5h0m-1.5-4h0m-.5 2h0m-.5 3h0m-1.5-1h0m-.5-3h0m-2 3.5h0m-2.5-2.5h0m-2.5 2h0m-4-1.5h0m-.5-2h0m-2.5 4.5h0m-2.5-4.5h0m-.5 3h0m-2.5-3.5h0m-1.5 3.5h0m-3 0h0m-.5-3h0m-2.5 1.5h0m-2-1.5h0m-.5 2.5h0m-4.5 2h0m-2.5-3h0m-2 2h0m-1.5-2h0m-1.5 1h0m-.5 2h0m-2-2h0m-1-2h0m-2-1h0m0 5.5h0m-.5-3.5h0m-4 2h0m-1.5 1h0m-2-4.5h0m-.5 3h0m-2-1h0m0 3h0m-4.5 .5h0m6.5 2.5h0m2-1.5h0m1 3.5h0m1-4h0m1 4.5h0m7-4h0m.5 2.5h0m4.5 1h0m.5-4h0m3 3h0m1-2h0m2-1.5h0m0 5h0m2.5-4h0m1 2.5h0m1.5-3h0m1 1.5h0m2-1.5h0m1 4.5h0m2-2.5h0m2-1.5h0m.5 4.5h0m.5-5.5h0m2.5 2h0m0 3h0m1.5-1h0m.5-2h0m3.5 .5h0m0 2h0m3-4h0m2.5 1h0m.5 2h0m1.5 2h0m.5-4h0m2.5 1.5h0m1-1.5h0m5 2.5h0m1.5 1.5h0m1-3h0m1.5-2.5h0m2.5 1h0m0 2.5h0m2 2h0m.5-4h0m2 1.5h0m0 2.5h0m2.5-3h0m3.5 3h0m1-4.5h0m1.5-1h0m.5 3.5h0m2 2h0m1-2h0m2.5 .5h0m1-2h0m.5-1.5h0m7.5-.5h0m5 2.5h0m2.5 3h0m.5-3h0m3.5 3h0m1.5-5h0m2 1.5h0m3.5 1h0m1 2.5h0m1.5-2h0m2 1.5h0m1.5-2.5h0m1 1.5h0m1.5-3.5h0m0 2.5h0m1 2h0m.5-3.5h0m1.5-1.5h0m0 4h0m2.5-3h0m1 3.5h0m2-1h0m.5-3.5h0m1 2.5h0m3-.5h0m1.5 3.5h0m.5-4h0m2 2.5h0m2-1.5h0m2-2.5h0m0 2.5h0m0 2.5h0m2-2h0m2-.5h0m3.5 .5h0m3 0h0m0 1.5h0m2.5-4h0m3 4h0m5.5 5.5h0m-7.5-4h0m-5.5 .5h0m-.5 2h0m-3 1.5h0m-1.5-3h0m-2 0h0m-1.5 4.5h0m-1-2h0m-1.5-3h0m-1 3.5h0m-2-1h0m-.5 2h0m-3.5-2.5h0m-1.5 1.5h0m-2.5-3h0m-1 3h0m-1.5-4h0m-2 3.5h0m-1-2h0m-3-.5h0m-5 1.5h0m-3 3h0m-2-5.5h0m0 4h0m-1.5-2h0m-1 2h0m-2 .5h0m-2-2h0m-3 2h0m-1-3h0m-2 0h0m0 3h0m-3.5-1h0m-.5-3.5h0m-2 .5h0m-.5 1.5h0m-2 0h0m-.5 3h0m-2.5-5h0m-1 5.5h0m-2.5-2.5h0m-2.5-2h0m-2 2.5h0m-1-2h0m-1 4h0m-1.5-3.5h0m-1.5 3.5h0m-.5-4h0m0 1.5h0m-3-1.5h0m-2 1.5h0m-3-1.5h0m-1.5-1.5h0m-3 5.5h0m-4-1h0m-2-4.5h0m-1 4h0m-1.5-1.5h0m-4.5 2h0m-.5-2.5h0m-1-2h0m-2.5 4h0m-1-2.5h0m-1.5 2h0m-1.5-3.5h0m-1 3.5h0m-3-.5h0m-3 2h0m-2-2.5h0m-1-2h0m-1 2.5h0m-.5 2.5h0m-2-3.5h0m-2 1h0m-.5-2h0m-1.5 4h0m-1-4h0m-2 2.5h0m-3-3.5h0m-.5 3h0m-2.5-3h0m-1 2h0m-1 2.5h0m-1.5-3.5h0m-2 2h0m-3 1h0m-2 1h0m-.5-3h0m-3 3.5h0m-1-3.5h0m6 4.5h0m1 3h0m4.5-.5h0m2.5 1.5h0m2-3h0m1.5-1.5h0m4 1.5h0m1 1.5h0m2.5 .5h0m2-.5h0m1-3h0m1.5 4.5h0m.5-3h0m2 1.5h0m1-1.5h0m2 4h0m3-3.5h0m2 3h0m1-3h0m1.5 1.5h0m1-3h0m1 4h0m1-4h0m2 3.5h0m2-.5h0m3-3.5h0m1.5 2h0m2 2.5h0m.5-4h0m1.5 2.5h0m2-1.5h0m.5 2.5h0m1-1.5h0m3.5 0h0m0 3h0m2-5h0m1.5 2h0m1.5-1.5h0m3.5-1h0m0 5h0m6.5-3h0m2.5 2h0m.5-3h0m1.5 .5h0m1.5 1.5h0m4 0h0m4.5-.5h0m.5-2.5h0m2 1h0m2 2h0m1.5-1.5h0m3 1.5h0m.5 2h0m2.5-5h0m1.5 2.5h0m2-1.5h0m0 4h0m1-2h0m1.5-2.5h0m1 3h0m3-1h0m.5 2h0m1.5 1h0m3-1.5h0m.5-2.5h0m2 1h0m1.5 2h0m1.5-3h0m1.5 4h0m.5-4.5h0m1 2h0m2-2.5h0m1.5 2.5h0m2.5-2h0m1.5 4.5h0m.5-4.5h0m0 2h0m2 1h0m2 0h0m4-2h0m1.5 2h0m1.5 1.5h0m1.5-4.5h0m0 2.5h0m10 0h0m-.5 3.5h0m-4.5 3.5h0m-2.5-3h0m-2 .5h0m-1 3.5h0m-2-2.5h0m-.5 2.5h0m-2.5-5h0m-6.5 5h0m-1.5-2h0m-2 0h0m-1.5 2h0m-.5-5h0m-2.5 .5h0m-1.5 2.5h0m-2-2h0m-2 1.5h0m-2 2h0m-.5-5h0m0 2h0m-3.5 1h0m-3 .5h0m-.5 2h0m-1.5-5.5h0m-1 3.5h0m-1.5-3h0m-.5 5h0m-4-4h0m-1 3h0m-3-3.5h0m-.5 4.5h0m-1-3h0m-1.5-1.5h0m-2.5-1h0m-1 4.5h0m-2-3.5h0m-2 1.5h0m-1-2h0m-3.5 1h0m-2.5 4h0m-2-1.5h0m-1-3.5h0m-2 3.5h0m-.5-1.5h0m-2-1.5h0m-3.5 2.5h0m-2 1h0m-1.5-1.5h0m-.5-2.5h0m-2 2h0m-.5-2.5h0m0 5h0m-8-5h0m0 3.5h0m-1.5 1.5h0m-.5-2.5h0m-3 2h0m-.5-3h0m-2-.5h0m0 2h0m-3.5-2.5h0m-.5 5h0m-.5-3h0m-2.5 1.5h0m-2-3h0m0 4.5h0m-3.5-4h0m-1.5 2.5h0m-1-1.5h0m-.5 2.5h0m-2.5-2h0m-1.5 1.5h0m-.5-3.5h0m-2.5-.5h0m0 4.5h0m-2-4h0m-1 3.5h0m-1.5-2.5h0m-3.5 1h0m-1.5 1h0m-1-4h0m-2 4h0m-2-4h0m-1.5 5.5h0m-2-4h0m-4.5 2.5h0m-.5-3.5h0m15.5 8h0m1.5-2h0m2 1h0m2.5 0h0m1.5 3.5h0m2.5 .5h0m1.5-3.5h0m1.5 3.5h0m.5-4h0m3 1h0m2.5 1h0m1.5-2h0m.5 3h0m2.5-1.5h0m2.5 1.5h0m2-.5h0m4-2.5h0m0 2.5h0m2-2.5h0m.5 2h0m3-2.5h0m1.5 3.5h0m1-3.5h0m5 0h0m0 2.5h0m2-3h0m1.5 3h0m1.5-2.5h0m2 2.5h0m2-2h0m1 3.5h0m2.5-5h0m1 3.5h0m4-.5h0m5-.5h0m3-1h0m1 2.5h0m2-2.5h0m.5 4h0m.5-2h0m2.5-3.5h0m5 1.5h0m1.5 2h0m.5-2.5h0m2-1h0m.5 5h0m1-3h0m2 2h0m7-1.5h0m1.5-2.5h0m1 4h0m1.5-2h0m2 .5h0m2-2h0m2.5 3h0m1-3h0m2.5 1h0m0 2h0m2.5-2h0m2 .5h0m2 .5h0m.5 3h0m.5-5.5h0m3 2h0m2-.5h0m1 3.5h0m7.5-1.5h0m4.5-3.5h0m-6 6.5h0m-6.5 4h0m-2-2h0m-4.5-1h0m-4 .5h0m-1 2h0m-6-3.5h0m-4 .5h0m-2.5 3h0m-.5-3.5h0m-1.5 2h0m-1 3h0m-2-2h0m-1.5-3.5h0m-.5 5h0m-2-.5h0m-2.5-4h0m-.5 2.5h0m-1 1.5h0m-2-4h0m0 4h0m-1.5-4.5h0m-1.5 2.5h0m-1 3h0m-3-.5h0m-5-3h0m-1.5 2h0m-1.5-2h0m-.5 3h0m-1.5-5h0m-2 0h0m0 5.5h0m-2-3h0m-2-2.5h0m0 3.5h0m-4.5-2.5h0m-1 4h0m-2-2.5h0m-4-2h0m0 3.5h0m-3.5-2.5h0m-2-1h0m-1 4.5h0m-3-1h0m-1 1h0m-4.5-2.5h0m-1.5 3h0m-2.5-5h0m-.5 2.5h0m-2 1h0m-2.5-3h0m0 3h0m-2-1h0m-2-1h0m-.5 3h0m-3-4h0m-2.5 4.5h0m-1-4.5h0m-3 2h0m-3 0h0m-1-2h0m0 5h0m2.5 3.5h0m1-2.5h0m2.5-.5h0m2 2.5h0m.5 2h0m3.5-2h0m2 2h0m.5-3h0m4.5 0h0m1 3.5h0m3-4h0m0 2h0m2.5 .5h0m4-3.5h0m0 5h0m13.5-1.5h0m12.5-3.5h0m1.5 4.5h0m2.5-2.5h0m.5 2h0m2-2h0m2 1.5h0m2.5-4h0m2 2h0m.5 3h0m1.5-3.5h0m.5 2h0m4-2.5h0m2.5 0h0m2 1h0m2-2h0m1.5 2.5h0m2.5-1h0m1-1.5h0m0 4.5h0m1-1.5h0m3.5 1.5h0m1.5-2h0m3.5 .5h0m1.5 2h0m.5-3.5h0m2.5 2h0m2-1h0m2-.5h0m2.5 2h0m1.5-2.5h0m3 6h0m-8-1.5h0m-5 2.5h0m-4 3h0m-.5-2.5h0m-3-2h0m-4 .5h0m-1.5 2.5h0m-1.5-3.5h0m-.5 4h0m-5-3h0m-7.5 2h0m-5-2h0m-4 1.5h0m-1.5-2h0m-37 4.5h0m-1-2.5h0m-1.5-1.5h0m-4-1.5h0m-4 1h0m-3.5 4h0m-1.5-2.5h0m-2 1.5h0m-2 1h0m4 3h0m.5 2h0m5.5-3h0m3 1.5h0m2 2h0m.5-3h0m37.5 1h0m24-2h0m5.5 0h0"/>
<path stroke="#EA8331" d="M659.5 141h0m.5 6h0m-75.5 14h0m14 0h0m5.5 0h0m12.5 .5h0m2.5-1h0m10.5-1.5h0m7.5 1.5h0m15 .5h0m34.5 5h0m-1.5 1.5h0m-.5-2.5h0m-4.5 2h0m-2-.5h0m-3.5 0h0m-4 0h0m-7.5-1h0m-6 0h0m-1 1.5h0m-.5-3.5h0m-8 3.5h0m-9-1.5h0m-.5-3h0m0 5h0m-2 0h0m-2-1.5h0m-2-.5h0m-8.5-1.5h0m-1.5-1.5h0m-1 3.5h0m-1.5 1.5h0m-2.5 0h0m-4-3.5h0m-.5 2.5h0m0 1h0m-4-2.5h0m-3.5-1h0m-2.5 3.5h0m-2.5-1.5h0m0 1.5h0m-1-4.5h0m-1 4h0m-1.5-2.5h0m-1.5 3h0m-1.5-5h0m-2 0h0m-.5 2h0m-2 1.5h0m-7.5 0h0m-2.5-1.5h0m-3.5 .5h0m-2 2h0m-4-2h0m-.5 1h0m-9-3h0m-3 4.5h0m-.5-2h0m-1.5 0h0m-4-2.5h0m-3 3.5h0m-.5 .5h0m-8 4h0m3 1.5h0m2-1h0m.5-3h0m0 3.5h0m2.5-2h0m0 1.5h0m2.5-1h0m1.5-1.5h0m1 1.5h0m2-.5h0m1-1h0m1 3.5h0m2 1h0m1.5-2.5h0m.5-2h0m.5 3.5h0m1.5-2h0m2.5 .5h0m.5 0h0m0 2.5h0m1.5-4.5h0m1 2.5h0m1-2.5h0m0 3h0m0 1.5h0m1.5-5h0m.5 .5h0m1.5 2h0m3-.5h0m1 2h0m1-1h0m.5-2h0m1 2.5h0m4-2.5h0m0 1.5h0m1-2h0m2 2h0m.5 2h0m1-2.5h0m1.5 1h0m1-2.5h0m.5-1h0m2 2h0m2 1.5h0m5-1.5h0m2.5 .5h0m6.5 2h0m1.5-4h0m1 .5h0m1.5 4h0m2.5-3.5h0m0 1h0m0 1.5h0m1.5-1.5h0m.5 .5h0m1 1.5h0m1-1h0m1-1.5h0m1 0h0m3.5 1.5h0m.5 0h0m.5-3.5h0m0 .5h0m2 1.5h0m2.5 0h0m1.5 3h0m1-3h0m.5-1.5h0m1.5 .5h0m0 2.5h0m2 1h0m5.5-3.5h0m0 2.5h0m1 1.5h0m2-2.5h0m4.5-2.5h0m1 3h0m3-2h0m2 2h0m4.5-1.5h0m9.5 0h0m.5 3.5h0m3.5-2.5h0m3.5 0h0m2.5 0h0m10 0h0m4-2h0m6.5 3h0m0 8h0m-6-3h0m-.5-2.5h0m-2.5 .5h0m-5.5 3h0m-6-3.5h0m-.5 2h0m-4 .5h0m-7-2h0m-1.5 3.5h0m-.5-1.5h0m-3 1.5h0m-4.5 0h0m-1.5-3h0m-2 1h0m-2 .5h0m-2.5 3h0m-10.5-2h0m-2.5 0h0m-.5-3h0m-1.5 3.5h0m-3 0h0m-.5-1.5h0m-1-1.5h0m-.5-1h0m-2 4.5h0m-1-.5h0m-2.5-2h0m-2-.5h0m0 3h0m-.5 0h0m-1.5-4h0m0 3h0m-.5-3h0m-1 5h0m-1-5.5h0m0 2h0m0 2h0m-3 .5h0m-2.5 .5h0m-1 0h0m-1-4h0m-2.5 2h0m-1-1.5h0m-4-1h0m0 1h0m0 1.5h0m-1.5 2.5h0m-1.5-1.5h0m-1 1.5h0m-.5-4h0m-1 2h0m-1.5-3h0m0 5h0m-.5-5h0m-2.5 1h0m0 3h0m-1.5-4.5h0m0 2h0m-2 1.5h0m-1 2h0m-.5-3h0m-1.5 2h0m-1.5-4.5h0m0 2h0m-2 1h0m-.5 2h0m-1.5-1.5h0m-1.5-3h0m0 4h0m-2.5-1h0m-2-1.5h0m-2-2h0m0 2.5h0m-.5-2.5h0m0 5.5h0m-1.5-3h0m-1-1.5h0m-2.5 3h0m0 .5h0m-2.5-2.5h0m-2-1.5h0m-2 3h0m-.5 .5h0m-3-1.5h0m-.5 2.5h0m-1.5-4.5h0m-.5 5h0m-1.5-5h0m-1.5 4.5h0m-1.5-1.5h0m-1.5-1.5h0m-1.5 2h0m-1.5-3h0m0 1.5h0m-1 1.5h0m-1.5 0h0m-2-1.5h0m0 3h0m-2-5.5h0m-5 4h0m-2 1h0m-2.5-4h0m-.5 0h0m-.5 3h0m-4.5 0h0m-.5 0h0m-1.5 1h0m-1.5-1.5h0m-14.5 4h0m4.5 3.5h0m5-4h0m2.5 2.5h0m2.5-1.5h0m3.5 2h0m1-3.5h0m2.5 .5h0m2.5 1h0m3 2h0m1-3h0m1.5 1h0m.5-1.5h0m0 3h0m1.5-2h0m1 2.5h0m2-.5h0m.5-.5h0m2-2h0m1 2.5h0m1-3.5h0m1 2h0m0 .5h0m2-2.5h0m0 5.5h0m.5-2h0m1.5 .5h0m1.5 1h0m.5 0h0m.5-4h0m.5 2h0m.5 0h0m1-2.5h0m.5 3.5h0m.5-1h0m4 .5h0m2 1.5h0m1-1h0m2-4h0m1.5 2.5h0m.5 3h0m.5-5.5h0m1 3.5h0m.5-2h0m0 4h0m1.5-5.5h0m0 4.5h0m1-2.5h0m.5 3.5h0m.5-1.5h0m.5-3.5h0m2.5 2.5h0m0 2.5h0m.5-5.5h0m1.5 3h0m2.5-2.5h0m0 2h0m2.5 1h0m2.5-2.5h0m1 3.5h0m.5-4.5h0m0 5.5h0m3-4.5h0m0 .5h0m1 3h0m0 1h0m1-5.5h0m1.5 4h0m1 0h0m1.5 0h0m1.5-.5h0m1.5-3.5h0m.5 3h0m1.5-1h0m.5-2h0m.5 2h0m0 3h0m1.5-2h0m1-1.5h0m0 4h0m1.5 0h0m.5-5h0m0 1h0m0 4h0m2-5.5h0m0 .5h0m.5 4h0m1.5-1h0m.5 0h0m1.5-1.5h0m3.5 3.5h0m.5-3.5h0m4 3h0m2-3.5h0m0 2.5h0m1.5-1h0m1 .5h0m2-3.5h0m0 5h0m.5-1h0m2.5-.5h0m3-2h0m2 2h0m.5-3.5h0m0 .5h0m1.5 1.5h0m0 3.5h0m4-.5h0m.5-2h0m1.5-1h0m0 3h0m2-1.5h0m2-2h0m19.5 2h0m.5-3h0m3.5 2.5h0m2-.5h0m2-.5h0m1 2.5h0m1.5-4h0m12 3h0m3.5-1.5h0m0 2.5h0m2-3.5h0m5.5 10h0m-6.5-4.5h0m-2.5 5h0m-1.5-2h0m-14 1h0m-1.5-3.5h0m-2.5 0h0m-2 4.5h0m-.5-3h0m-1-2.5h0m-2.5 4.5h0m-5.5-3h0m-10 3h0m-1.5-3h0m-2.5-1h0m0 5h0m-1.5-2h0m-2-2h0m-4.5 .5h0m-.5 1h0m-2-.5h0m-.5-2.5h0m-2.5 5.5h0m-.5-3.5h0m-2.5 0h0m-.5 .5h0m-1 2.5h0m-1 0h0m-1-4h0m-2.5 2h0m-2.5 1.5h0m-2-3h0m-1-.5h0m-1 3h0m-3.5 .5h0m-1.5-4.5h0m-.5 2.5h0m0 2.5h0m-1.5 0h0m-.5-5h0m-.5 2h0m-4 .5h0m-1.5 2h0m-3 1h0m-1-1h0m-1-2.5h0m-.5 .5h0m-1 3h0m-2-2.5h0m-1 2.5h0m-.5-4.5h0m-1.5-1h0m-1 4.5h0m-1.5 1h0m-2.5-5h0m-.5 4.5h0m-1-2.5h0m-1-2.5h0m0 .5h0m-.5 3h0m-1.5-3h0m-.5 4.5h0m-.5-2h0m-.5 2.5h0m-1-4.5h0m-1.5 2.5h0m0 2h0m-.5-5h0m-.5 0h0m-1 4h0m-2 1h0m-.5-4.5h0m-2 3h0m-2 1h0m-2-3h0m-1 3h0m-1-4h0m-2.5 3.5h0m-2-1.5h0m-2-2h0m-1-1h0m-1.5 .5h0m-.5 .5h0m-1.5 3h0m-2.5 1h0m-1-2.5h0m-2-1.5h0m-2.5 2h0m-1-3h0m-1.5 4.5h0m-.5-1.5h0m-.5-1.5h0m-2.5-1.5h0m0 4h0m-1.5 1.5h0m-1-1.5h0m-.5 0h0m-.5-4h0m-1 0h0m-.5 3h0m-.5 2h0m-.5-2.5h0m-2.5-.5h0m-.5 0h0m-1 3.5h0m-2 0h0m-3-.5h0m-.5-4.5h0m-1.5 5h0m-1-1h0m-1-1.5h0m-1-.5h0m-2.5-.5h0m-3-.5h0m-8.5-1.5h0m-5.5 3h0m10 7h0m.5-4h0m2 4.5h0m2.5 1h0m2.5-4.5h0m.5 3.5h0m2.5 .5h0m4-3h0m.5 2.5h0m4-1.5h0m1 1.5h0m1.5-4h0m2-.5h0m.5 2.5h0m0 3h0m1-2h0m1.5 1.5h0m2-1h0m2.5-3.5h0m0 2h0m1-2h0m.5 4.5h0m.5-3.5h0m2.5 3.5h0m.5-5h0m0 2h0m1.5-2h0m.5 .5h0m.5 3h0m1 1.5h0m.5-3h0m.5 3.5h0m.5-3h0m2.5-1h0m3-.5h0m.5 3.5h0m2-1.5h0m1-1.5h0m2-.5h0m2 4.5h0m1-5.5h0m0 2h0m1 2h0m1.5-2.5h0m1.5 1.5h0m1-2.5h0m.5 4h0m1 .5h0m.5-4h0m1 .5h0m3 0h0m0 1.5h0m3 0h0m4-1.5h0m2.5 .5h0m.5 .5h0m0 2h0m2-1.5h0m.5-2.5h0m.5 4h0m2-2h0m.5 2h0m2.5-4h0m0 2.5h0m2-1h0m1 2.5h0m0 .5h0m1.5-2.5h0m1 1.5h0m4 .5h0m1.5 1h0m1-1.5h0m.5-2h0m1 1.5h0m2-1.5h0m0 2.5h0m2-2h0m1 .5h0m.5-2h0m2 4h0m.5 .5h0m1.5-5h0m0 3.5h0m2-3.5h0m2.5 4h0m1.5-3.5h0m1 2h0m1-2.5h0m0 5h0m1.5-4.5h0m3-.5h0m3 1.5h0m2 .5h0m1.5 2h0m2-1.5h0m1.5-1h0m.5 3.5h0m1 0h0m2.5-2.5h0m5 .5h0m.5-2.5h0m2.5 1.5h0m2.5-2.5h0m6.5 2.5h0m.5-2.5h0m1 5h0m2-1h0m6 .5h0m1.5-2.5h0m11 .5h0m4 1h0m3 1.5h0m4.5 2.5h0m-4.5-.5h0m-2.5-1h0m-3.5 .5h0m-.5 2h0m-5.5 0h0m-3.5 1.5h0m-2-2h0m-4 1h0m-2-2.5h0m-1 2.5h0m-2-1.5h0m-3 4h0m-.5-4h0m-3.5 3.5h0m-8-4h0m-5.5 1h0m-.5 2h0m-3-1h0m0 2.5h0m-2 0h0m-.5-5h0m-1.5 5h0m-3-5.5h0m-1.5 3h0m-1.5 1.5h0m-1-3.5h0m-.5 4h0m-1 .5h0m-.5-2.5h0m-2-1.5h0m-1 4h0m-2-1.5h0m-.5 0h0m-1.5-2.5h0m-.5 0h0m-1.5 2.5h0m0 1.5h0m-2-2h0m-.5 0h0m-.5 2h0m-2-5h0m-1 4h0m-2.5-1h0m-1-3h0m0 1h0m-1.5 4h0m-6.5-1h0m-1.5 0h0m-3-4h0m0 4.5h0m-2-3h0m-.5-1h0m0 4.5h0m-.5-2h0m-3-.5h0m0 2h0m-.5-1h0m-1.5 .5h0m-1-3h0m-2-1.5h0m-.5 3h0m-1-3h0m0 3.5h0m-.5-3h0m-1.5 2.5h0m-.5-.5h0m-1.5-2h0m-.5 1.5h0m-1 .5h0m-.5 2h0m-1-2h0m-1 1.5h0m-2 1.5h0m-.5-5h0m-1 2h0m0 2.5h0m-3-2h0m0 2h0m-1.5-4.5h0m0 3h0m0 2h0m-.5-4.5h0m-2 .5h0m-1.5 3.5h0m-.5-5h0m-1.5 1h0m0 2.5h0m-2-3h0m0 .5h0m-.5 3.5h0m-2-4.5h0m0 4.5h0m-1.5-1h0m-.5-2.5h0m-1-1h0m-1 3h0m-1-1h0m-.5-1.5h0m-1.5 1.5h0m0 2h0m-1-1h0m-1.5 2h0m-1-4h0m-1 2.5h0m-2.5-1h0m-1 2.5h0m-3-4.5h0m-1 3h0m-1-2h0m-.5 3.5h0m-2-1.5h0m-1-1.5h0m-2.5-1.5h0m-2-.5h0m0 3h0m-.5 2h0m-1-1.5h0m-.5-1h0m-.5 2.5h0m-1.5-3h0m-.5 3h0m0 .5h0m-.5-5.5h0m-1.5 2h0m0 .5h0m0 3h0m-2 0h0m-.5-2.5h0m-3 2h0m-.5-3.5h0m-2.5-.5h0m-3.5 4.5h0m-1.5-4.5h0m-2 3.5h0m-9.5-.5h0m6.5 2h0m3 5.5h0m4-3.5h0m1.5-2h0m.5 2.5h0m3-1h0m3 .5h0m1 1.5h0m2.5-.5h0m2 2.5h0m1-3.5h0m1 2.5h0m1-2.5h0m0 2.5h0m2-4.5h0m1 4.5h0m0 1h0m.5-3h0m3-1.5h0m1 1.5h0m3-1h0m2.5-1h0m2.5 1.5h0m1 2.5h0m3.5-4h0m1 3h0m3.5-2.5h0m0 3h0m1-2h0m2 3h0m2-3.5h0m.5 1.5h0m2.5 2h0m2.5-2.5h0m2.5-1h0m1.5 2.5h0m0 1h0m.5-3h0m1.5 2h0m1-2.5h0m1 1.5h0m4.5 2h0m1-1.5h0m2-3h0m2 4.5h0m1-3h0m1 3h0m.5-4.5h0m2-.5h0m.5 2.5h0m1 0h0m0 2.5h0m1.5-1.5h0m1 0h0m1 1h0m.5-3h0m1 3h0m1.5-2h0m.5 2h0m1-3h0m.5 2.5h0m2 0h0m.5 1.5h0m1.5-4.5h0m1.5 2h0m1-1h0m2.5-1.5h0m0 5h0m1.5-3h0m2-2h0m0 3.5h0m3 0h0m.5-3.5h0m.5 4h0m2-1.5h0m1 .5h0m2-2h0m0 4h0m1-1h0m1-1.5h0m0 2.5h0m5-5.5h0m.5 2h0m.5 2.5h0m2.5-3.5h0m0 4h0m3.5-4.5h0m1.5 2h0m1 1h0m2 .5h0m.5-1h0m1-3h0m2 3h0m1 1.5h0m.5 0h0m1-3h0m2-1.5h0m2.5 4h0m2.5-1.5h0m1.5-2.5h0m0 5h0m4.5 .5h0m5-5h0m1.5 4h0m4.5 .5h0m1-5h0m2.5 1.5h0m5.5 3.5h0m7-2h0m4-2h0m4.5 .5h0m.5-1.5h0m36.5 9.5h0m-7.5-2h0m-22-1h0m-9.5 2h0m-.5 2.5h0m-.5-4.5h0m-6 5h0m-.5-2h0m-3.5-3.5h0m-3.5 2.5h0m-1 2.5h0m-5.5-5h0m-3.5 4h0m-1-3h0m-2 0h0m-1 4h0m-.5-5h0m-1.5 1.5h0m-6 3h0m-1-1.5h0m-5.5-1h0m-2.5-1h0m-4.5-.5h0m0 5h0m-2-1h0m-1-3h0m-.5-.5h0m0 3.5h0m-1.5-2h0m0 1.5h0m-1 1h0m-1.5-2.5h0m-.5-.5h0m-1-2h0m0 5h0m-2.5-5h0m-1 4h0m0 .5h0m-.5-2.5h0m-.5-1.5h0m-2 1.5h0m-1.5 2h0m-2-2h0m-1 2.5h0m-1-3h0m0 3.5h0m-1.5-3h0m-1-1.5h0m0 4.5h0m-1.5-1h0m-1-2.5h0m-1.5-.5h0m-3.5 0h0m-.5 .5h0m-2 4h0m-1-3h0m-2.5 1h0m0 1h0m-2.5-3h0m-.5-1h0m-2 4h0m-.5-2h0m-.5 2.5h0m-2-3.5h0m0 2h0m-.5-3.5h0m-1.5 2.5h0m-2 0h0m-1-2h0m-2.5 4h0m-1.5-3h0m-1.5-1.5h0m-1 4h0m-2 .5h0m-4 .5h0m-1.5-4.5h0m0 .5h0m0 2.5h0m-.5 1h0m-3 1h0m-1-5.5h0m-1 3h0m-3 .5h0m-2.5-3.5h0m-1.5 3.5h0m-.5-3.5h0m-3.5 1h0m-1.5 2h0m-1 .5h0m-2 1h0m-.5-.5h0m-2-3h0m-.5 3h0m-2 1h0m-.5-2h0m-.5-2h0m-1.5 2.5h0m-4 .5h0m-3.5-1h0m-2-3h0m-.5 3.5h0m-1-2h0m-3.5-1h0m0 3.5h0m-2.5-1.5h0m-1 3h0m-1-3.5h0m-2.5 1.5h0m-.5-2h0m-1.5 1h0m-2-2h0m-1 3h0m0 1h0m-4.5-.5h0m-2 0h0m-3.5 .5h0m-8.5 7h0m3-3.5h0m1 3h0m4.5-1.5h0m.5-3h0m2.5 1.5h0m3 0h0m.5-1.5h0m2 1.5h0m2 .5h0m1-2.5h0m2 .5h0m2 .5h0m0 1.5h0m1.5-.5h0m.5-.5h0m0 3h0m3-3h0m.5 3h0m1.5-2h0m.5 .5h0m1.5-3h0m0 4.5h0m2-2.5h0m.5 3h0m1.5-4.5h0m1 2.5h0m2 .5h0m.5-2.5h0m2.5-1h0m0 2h0m1.5 1.5h0m.5-2h0m2 1h0m1.5 1h0m.5-3.5h0m.5 0h0m1 3.5h0m.5 0h0m1.5-1h0m1.5-2h0m1 2h0m1.5 2h0m.5-3h0m1.5 3h0m.5-4.5h0m2.5 1h0m0 2.5h0m1.5 1h0m1-3h0m2.5 1h0m1-1.5h0m2 .5h0m2 1h0m1.5 1.5h0m1-3h0m.5 .5h0m1.5 2.5h0m1.5-2.5h0m1 2.5h0m1.5-3h0m0 3.5h0m1.5-4h0m2 2.5h0m3-1h0m1.5 2.5h0m1.5 1h0m.5-4h0m2-1.5h0m0 3.5h0m2-2.5h0m0 2.5h0m2.5-3h0m0 4h0m0 1h0m2-3h0m0 1.5h0m2.5-1.5h0m.5 .5h0m1 2.5h0m.5 0h0m2-3h0m.5 2.5h0m1-2h0m1.5-2.5h0m.5 4h0m1-2h0m2-2h0m0 3.5h0m2-.5h0m0 .5h0m1.5-3h0m1 3.5h0m.5-2h0m1 2.5h0m.5-5h0m2 4.5h0m2-3h0m2.5 0h0m3-.5h0m.5 2.5h0m2-.5h0m.5 .5h0m.5-3h0m0 4h0m1.5-4h0m2 1.5h0m3 2h0m2-2.5h0m3-1.5h0m4.5 1.5h0m0 2.5h0m9.5-3.5h0m1.5 4.5h0m3.5-4.5h0m2.5 4.5h0m2.5-3.5h0m4.5 0h0m8 0h0m3 1h0m18 2h0m-21 1.5h0m-2 1h0m-3 0h0m-1 2.5h0m0 2h0m-5.5-5.5h0m-2.5 3h0m-.5-2.5h0m-3 3h0m-1 2h0m-2-3h0m-3-1.5h0m-1 3.5h0m-1.5 0h0m-.5-3h0m-17 .5h0m-1.5-2h0m-2 3.5h0m-1.5 2h0m-.5-4.5h0m-.5-1h0m-1 4h0m-.5 0h0m-1 1.5h0m-3-4.5h0m-4-.5h0m0 2.5h0m-.5 2.5h0m-1.5-1h0m-1-2.5h0m0 3h0m-1-4h0m-2-1h0m-1 3.5h0m-1-2h0m-1.5 0h0m-.5 3.5h0m-2.5-2.5h0m0 3h0m-.5-4h0m-.5 2.5h0m-1.5 0h0m-1.5-1.5h0m-1-.5h0m-2-1.5h0m-3 1h0m0 2.5h0m-1-2h0m0 2.5h0m-3 .5h0m-1-4h0m-1.5 .5h0m0 4h0m-1-1h0m-.5 0h0m-.5-1.5h0m-.5-.5h0m-1 3h0m-.5-5.5h0m-.5 4h0m-1-4h0m-3.5 3h0m-1 1.5h0m-1.5-2.5h0m-.5 1.5h0m-.5-3h0m-.5 3h0m-2-3h0m0 4h0m-1.5-1.5h0m-1-2h0m-.5 3h0m-.5-1.5h0m-2.5 .5h0m-.5-3h0m0 4h0m-3 1h0m-.5-1.5h0m-1-2.5h0m-.5 2h0m-.5 1h0m-2-2.5h0m0 4h0m-1-4h0m-1.5 3h0m-3.5-1.5h0m-.5-2h0m0 4h0m-3-3.5h0m-.5 0h0m-1-1.5h0m0 4.5h0m-1-2h0m-1 2.5h0m-1.5-.5h0m-.5-3.5h0m-.5 4h0m-1.5 .5h0m-.5-3h0m-.5-.5h0m-3 .5h0m-1-2.5h0m0 1h0m0 4h0m-2-2h0m0 1h0m-2-.5h0m-1-3h0m-1 3h0m-.5 2h0m-.5-.5h0m-.5-4h0m-2 4.5h0m-.5-4h0m-2-1h0m-1 4h0m-2.5-4.5h0m-1 2.5h0m-1-2h0m-.5 3h0m-.5-3.5h0m-1 2h0m-2-1h0m-1.5-.5h0m-.5 5h0m-2.5-5.5h0m-3 3.5h0m-5.5-2.5h0m-2 .5h0m-5.5 0h0m-4 9.5h0m19-3h0m2.5 .5h0m1.5-1.5h0m1.5 3.5h0m3-1.5h0m1.5-1.5h0m.5 3h0m1-4h0m1.5 1h0m0 3h0m2.5-.5h0m2-2h0m0 2.5h0m1.5 1h0m1-2h0m.5 1.5h0m2-2.5h0m2-1.5h0m1 4h0m1.5-2.5h0m2.5-2h0m.5 4.5h0m1.5-2.5h0m1 .5h0m1.5-1.5h0m2.5-.5h0m1.5 3h0m2-2h0m2 3h0m1-4h0m1.5 2h0m.5-1.5h0m0 .5h0m1 3.5h0m.5-5.5h0m0 5.5h0m1-3.5h0m0 .5h0m.5 2.5h0m1.5-2h0m1-3h0m0 4.5h0m1-1.5h0m1 1h0m2.5-1h0m.5 0h0m2-2.5h0m.5 2h0m0 .5h0m2-1.5h0m1.5-1.5h0m1.5 2h0m1-2h0m0 5.5h0m1.5-4.5h0m0 3.5h0m.5-2h0m.5 .5h0m1.5-2.5h0m2.5-.5h0m0 4.5h0m2-2.5h0m1 3h0m.5-.5h0m.5-3.5h0m2 1h0m0 3h0m.5-2.5h0m1 1h0m1.5 2h0m1.5-5h0m0 1h0m0 2.5h0m1 1.5h0m1.5-1h0m1.5-2h0m.5-2h0m1 0h0m0 4.5h0m2 0h0m.5-5h0m0 3h0m.5-1.5h0m1 0h0m2 1.5h0m0 2h0m1 0h0m2-2h0m1-2h0m0 2h0m4.5-2.5h0m0 2.5h0m.5-3h0m1 3h0m1.5-2h0m3 .5h0m.5 .5h0m1.5 3.5h0m1-1.5h0m1.5-2h0m0 2h0m4-.5h0m2 .5h0m1.5 1.5h0m2-1h0m2-2h0m12.5 0h0m1.5 2h0m3.5-.5h0m4-2h0m2.5-1h0m3 3h0m6.5-3h0m4.5 1h0m9.5-1h0m-5.5 7.5h0m-2.5 0h0m-5 2h0m-1-2.5h0m-5-2h0m-2 .5h0m0 4h0m-4.5 0h0m-.5-4h0m-1 2h0m-1.5-2h0m-.5 2.5h0m-3-3h0m-1.5 3.5h0m-5-3h0m-2 2.5h0m-4 .5h0m-2-3.5h0m-4.5 2h0m-1-2h0m-1 2.5h0m-1.5 .5h0m0 2.5h0m-2-5.5h0m-.5 3h0m-1.5-.5h0m0 3h0m-.5-.5h0m-.5-4.5h0m-1.5 4.5h0m-.5-4.5h0m-1 2.5h0m-.5-2.5h0m-2.5 4.5h0m-.5-4.5h0m-.5 .5h0m-3 .5h0m0 4h0m-2-4h0m-1.5 1.5h0m-2.5-2h0m-.5 3h0m-3-3h0m-1 2h0m-1.5-1h0m-1 1.5h0m-1.5-.5h0m-.5 2h0m-1.5-4h0m-2 1.5h0m0 1h0m-3.5 0h0m-3.5 2h0m-2-3.5h0m-1 1.5h0m-1 1h0m-3-1.5h0m-1.5-2h0m-2.5-.5h0m-1 3h0m-2-2h0m0 1.5h0m-1.5 0h0m-2.5-2h0m-.5 3h0m-2.5-3h0m-.5 4h0m-1-2.5h0m-.5 2h0m-.5-4.5h0m-.5 4.5h0m-1.5-2.5h0m-1 2h0m-1.5-3h0m-1 3h0m-2-.5h0m-6-2h0m-1 2.5h0m-1-2h0m-.5-1.5h0m0 2h0m-2-1h0m0 3h0m-3-.5h0m-1-1.5h0m-2 3h0m-1-2h0m-1.5 .5h0m-1-3h0m-2 4.5h0m-1-4.5h0m-1 4h0m-2.5-2.5h0m0 2h0m-1-4h0m-2 2.5h0m0 2h0m-.5-.5h0m-1-2h0m-3.5 3h0m-1.5-4.5h0m-1.5 1h0m-1.5 .5h0m-.5 2.5h0m-2-3.5h0m-10.5-1.5h0m-4 3h0m11.5 5h0m8-2h0m.5 2.5h0m1.5 1h0m2.5-2h0m.5-1h0m.5 3h0m2.5-1h0m1-1.5h0m.5 3.5h0m1.5-4h0m.5 3.5h0m2.5-.5h0m2-1.5h0m.5 3h0m.5-1.5h0m3-1.5h0m.5 .5h0m1 2h0m1-3h0m.5-1h0m0 2h0m1.5-.5h0m1 1.5h0m2-2.5h0m.5 3.5h0m1.5-.5h0m1-1.5h0m0 2h0m3.5-4h0m0 4.5h0m2.5-5h0m.5 2.5h0m2-1.5h0m.5 3h0m2 .5h0m.5 1h0m5-2h0m0 2h0m2 0h0m3-1.5h0m.5-3.5h0m.5 4h0m1.5-3.5h0m0 2h0m1.5-3h0m0 3.5h0m.5 1h0m2 .5h0m.5-2.5h0m2-1h0m2 4h0m2-3.5h0m2 2.5h0m.5-1.5h0m.5-.5h0m0 2h0m2.5-1h0m.5-3.5h0m2.5 3.5h0m1-3h0m1 1h0m1.5-.5h0m.5 2h0m0 .5h0m3.5 1h0m1.5-3.5h0m2.5 4.5h0m.5-5.5h0m.5 .5h0m0 2h0m2.5-2h0m0 4.5h0m2 .5h0m1-2.5h0m1-2h0m.5 4.5h0m3.5-2h0m3.5-3h0m1 2h0m1.5-1h0m2 2h0m3-3h0m0 5h0m1-3h0m3 3h0m.5-3h0m.5-1.5h0m1.5 4h0m1-4h0m1 3h0m8.5-2.5h0m4.5 2.5h0m2.5-4h0m.5 4.5h0m2-2h0m1.5 3h0m1-2h0m1.5-2h0m3 4h0m1-3.5h0m2-.5h0m2.5-.5h0m2 2.5h0m4.5-1.5h0m4.5-2h0m-10.5 10h0m-1-4h0m-4 2h0m-1.5 1.5h0m-2.5-3.5h0m-3 3h0m-3-1.5h0m-4.5 1h0m-.5 2.5h0m-5 0h0m-1.5-4h0m-1 2h0m-4.5 1.5h0m-.5-3.5h0m-2.5-1h0m0 4.5h0m-1-2h0m0 .5h0m-1.5-2.5h0m-1.5 2h0m-1 1.5h0m-.5 0h0m-3-2.5h0m-.5 1.5h0m-1.5 0h0m-1-2.5h0m-.5 2h0m0 2h0m-1.5-1.5h0m-2.5 2h0m-1.5-3.5h0m-.5 2.5h0m-2.5-.5h0m-.5 2h0m-.5-2.5h0m-2.5-2.5h0m-.5 2h0m-1.5 1h0m-2 2h0m-1-5h0m0 2h0m-1.5 1h0m0 .5h0m-1.5-4h0m-4.5 2.5h0m-2-.5h0m0 2.5h0m0 .5h0m-.5-4h0m-2 0h0m0 4.5h0m-2-5.5h0m-.5 2h0m0 1.5h0m-1.5-1.5h0m-1-1h0m-.5 4h0m-1.5-1.5h0m-.5 .5h0m-1-2h0m-2-2h0m-.5 .5h0m-1.5 1.5h0m-.5-.5h0m-1.5-1h0m-4 3.5h0m0 .5h0m-1-4h0m0 2h0m-3-.5h0m0 2h0m-2 1.5h0m-.5-4h0m-.5 4h0m-1-2h0m-1 2h0m-1-5h0m-3 3.5h0m-.5-3h0m0 1h0m-3-1.5h0m-1 2.5h0m-.5-3h0m-1 4h0m-1.5-.5h0m-3 .5h0m-2 .5h0m-1.5-2.5h0m-3.5-2h0m-3.5 1.5h0m-1 3.5h0m-2.5-5h0m-1 2.5h0m-3-.5h0m-1.5-1.5h0m-3 4.5h0m-8.5-4h0m-3 2h0m4.5 5h0m4-1h0m18.5 2.5h0m23 0h0m2.5-2h0m.5-.5h0m.5 3h0m1.5-4h0m3 4h0m1-1h0m2.5-2.5h0m0 4h0m3-2.5h0m2 1.5h0m.5-3h0m.5 .5h0m1 3.5h0m1 .5h0m1-3.5h0m.5 2h0m3.5 .5h0m1.5-1h0m1.5-2h0m0 3.5h0m2-1.5h0m1-1.5h0m2.5 .5h0m1-2h0m1 1h0m1 2h0m2.5-.5h0m1.5-2.5h0m1 2.5h0m1.5-2.5h0m0 4h0m1.5-1h0m.5-.5h0m1-1h0m2 2h0m.5-3h0m.5 2h0m.5 3h0m.5-2.5h0m.5-1.5h0m.5-1.5h0m.5 5.5h0m1-3.5h0m1-2h0m0 4h0m1.5-3h0m2.5-1h0m.5 5.5h0m1-5h0m.5 2h0m0 1.5h0m2-1.5h0m.5-1.5h0m2 1.5h0m3-.5h0m1.5 1h0m1 2h0m1-3.5h0m1.5 3.5h0m0 .5h0m2.5-2h0m2-1.5h0m3.5 0h0m6-1h0m6.5 2.5h0m0 2h0m4-3h0m5 1.5h0m4.5-2h0m-3 6.5h0m-10 .5h0m-6-2h0m-1 2h0m-2-1h0m-3.5-1.5h0m-2.5 5h0m-1-2h0m-3 0h0m-6-3.5h0m-4.5 0h0m-3.5 5.5h0m-.5-.5h0m-2-3.5h0m-.5 1h0m-1 2.5h0m-.5-5h0m-2 1h0m-1.5 3.5h0m-1.5-3.5h0m-2-1h0m-2 .5h0m-3.5 1h0m-1 2.5h0m-.5 0h0m-.5 1.5h0m-1 0h0m-3-4.5h0m0 3.5h0m-2.5-3h0m-8 0h0m-9.5 0h0m-1 0h0m0 3h0m-2.5-4.5h0m0 2.5h0m-1.5-1.5h0m-7.5 4h0m1 3h0m9.5-1h0m1.5-.5h0m29 .5h0m11.5-1h0m1 1.5h0m6.5-1h0m10 1.5h0m.5 3.5h0m5-5.5h0m11 0h0m-5.5 9.5h0m-23.5-.5h0m163.5 208h0"/>
<path stroke="#D89000" d="M421.5 253.5h0m6 15h0m6.5 9h0m9 21.5h0m8.5 33h0m-1.5 2h0m-2.5-2.5h0m-6-1h0m-10 0h0m21 8.5h0m3 5.5h0m-1.5 8h0m3-2h0m-7.5 4.5h0m2.5 5.5h0m2.5 4.5h0m14.5 .5h0m2-.5h0m15.5 6.5h0m-2.5-1.5h0m-2.5 0h0m-.5-2.5h0m-1.5 2h0m-.5 2h0m-.5-4.5h0m-2.5 2h0m-1-3h0m0 4.5h0m-1.5-3h0m-3.5 1h0m0 3h0m-24.5-5.5h0m0 10h0m10.5 1.5h0m8-1.5h0m1.5-3.5h0m2.5 4.5h0m.5-4h0m5 1h0m2 1.5h0m1.5-3.5h0m2 2h0m5 1h0m6 2.5h0m6 5h0m-1-1.5h0m-1.5 2.5h0m-.5-4h0m-1.5 3h0m-2-3h0m-2-1h0m-2 0h0m0 5h0m-1.5-3.5h0m-2.5 .5h0m-1.5-1.5h0m-3 .5h0m-2.5 1.5h0m-.5-2h0m-1.5 2.5h0m-.5-3h0m-1.5 2.5h0m-1-2h0m-2 1h0m-2-2h0m-3.5 .5h0m-4 0h0m-12.5 7.5h0m23.5 0h0m2 0h0m3 2.5h0m1.5-3.5h0m.5 4.5h0m2.5-2.5h0m7-1h0m3.5 1h0m1.5-2h0m1 3h0m1.5 1.5h0m.5-2h0m6.5 2h0m2 5.5h0m-3.5-3h0m-6 3.5h0m-3-5.5h0m-3 5.5h0m-3-.5h0m-.5-3h0m-1-2h0m-3.5 .5h0m-6.5 0h0m-1 2h0m-1-2.5h0m-1 3.5h0m-.5-2h0m-2.5 1.5h0m-2.5-1h0m-1 3.5h0m-1.5-2.5h0m-1.5 2.5h0m-18 4.5h0m19 0h0m1-2h0m3.5-2h0m1.5 4h0m2 1.5h0m1-5h0m0 2h0m1.5-2.5h0m0 5h0m3.5 0h0m1.5-1.5h0m3 1.5h0m4-1h0m1-1.5h0m2 0h0m3 0h0m0 3h0m10-2h0m2.5 1.5h0m2.5-.5h0m-4 4.5h0m-2.5 1.5h0m-2 .5h0m-3-1.5h0m-1.5-2h0m-1.5 1.5h0m0 2h0m-2.5-.5h0m-1-4.5h0m-.5 2h0m-1 2h0m-1-2.5h0m-1.5 3.5h0m-1.5-4h0m0 2.5h0m-1.5 1.5h0m-1.5-4.5h0m-3 3h0m-4.5-2.5h0m-3.5-1h0m-6 3.5h0m-2 .5h0m-18 4.5h0m17.5 0h0m0 3h0m2 0h0m1.5-3.5h0m2-1.5h0m11.5 1h0m1.5 3h0m3-1h0m3 1h0m1.5-1.5h0m1.5-2.5h0m.5 3h0m1.5-3h0m3 1h0m7.5 .5h0m1.5-1h0m1 3h0m1-1.5h0m2.5-1.5h0m2 .5h0m1 2h0m1-3.5h0m6 11h0m-3.5-2h0m-1-2h0m-1 2.5h0m-1.5-3.5h0m-.5 5h0m-2-5h0m-4.5 2h0m-6.5 2h0m-5.5-.5h0m-1.5-2.5h0m-2-1h0m0 2.5h0m-.5 2h0m-2-2.5h0m-2.5 .5h0m-2.5 3h0m-2 0h0m-1-3.5h0m-1 2h0m-2-.5h0m-3.5 1h0m-2.5-1.5h0m-3-1h0m0 3h0m-2-2.5h0m-1 2.5h0m-1.5-3h0m-1.5 3h0m-18 1.5h0m15.5 1.5h0m3 1.5h0m5-2h0m7-1h0m0 4h0m1-1.5h0m1 2h0m1-2.5h0m1-2h0m1 4h0m2-2.5h0m4-1h0m1.5 3.5h0m2.5-3.5h0m4-1h0m.5 3h0m2 2h0m.5-2h0m2 2h0m3-1.5h0m1 2h0m3 0h0m.5-3h0m1 1.5h0m2-3h0m1.5 2.5h0m2.5 2h0m3-1h0m1-2h0m2-1.5h0m1 4h0m4.5-.5h0m2.5 6.5h0m-1.5-3h0m-2 2.5h0m-2-1h0m-10 1.5h0m-2.5-4h0m-1 4.5h0m-2-3.5h0m-2.5-.5h0m-3.5 3h0m-2-3h0m-2 1.5h0m-3 0h0m-3 .5h0m-2.5-.5h0m-1 2h0m-2-1h0m-1-2.5h0m-2-1h0m-3.5-.5h0m0 2h0m-11 1h0m-2.5-3h0m-1.5 2.5h0m-.5-2.5h0m-1.5 5h0m-.5-3h0m-.5-2h0m-22.5 8.5h0m18 .5h0m3.5-1.5h0m2.5 2.5h0m2.5-4h0m2 .5h0m3.5 2.5h0m7-3h0m3 2.5h0m.5-2.5h0m4 5h0m3.5-4h0m2 0h0m2.5 2h0m.5-3h0m3 5h0m6-4h0m1 3h0m2.5-3.5h0m1.5 2h0m2.5-.5h0m2.5 0h0m0 2h0m2.5-2h0m3.5-2h0m2.5 0h0m5.5 0h0m5.5 3.5h0m-3 3.5h0m-2.5 3.5h0m-2 1h0m-1.5-4h0m-1 2h0m-1.5-1h0m-1.5-2.5h0m0 5h0m-2-2.5h0m-1 3h0m-4.5-5h0m-7 1h0m-1 3.5h0m-1-2.5h0m-2-2.5h0m-2 1h0m-3 4h0m-1.5-4h0m-2.5 0h0m-1.5 4h0m-2-4.5h0m-.5 4h0m-.5-2.5h0m-4-.5h0m0 3h0m-2-1h0m-4-3.5h0m-2 2.5h0m-4.5-1h0m-1-1.5h0m-1.5 4.5h0m-2.5-3.5h0m-1.5-1h0m0 4h0m-3-1.5h0m-.5-2.5h0m-2 3.5h0m-1.5-.5h0m-.5-2h0m-2.5-1h0m-2 4.5h0m-13.5 .5h0m13 3.5h0m3 2.5h0m1.5-5h0m1.5 4.5h0m1-4.5h0m2 .5h0m0 4.5h0m3-2.5h0m0 2.5h0m2.5-1.5h0m1.5-2.5h0m2.5 1h0m1.5 3h0m.5-4h0m1 2.5h0m2.5-.5h0m.5-2h0m.5 4h0m3-4.5h0m.5 2.5h0m2.5-1h0m2.5 0h0m1.5 2.5h0m2-3.5h0m1.5 1.5h0m2.5-2.5h0m1 3h0m2.5 2h0m2.5-1h0m2-1h0m2.5 2h0m2.5-1.5h0m7-1h0m0 2h0m3 1h0m2.5-3h0m1.5-.5h0m.5 2h0m5-2.5h0m1.5-1h0m1 2.5h0m2-2.5h0m2.5 4h0m9-1.5h0m8.5-2h0m-14 5.5h0m-9.5 4h0m-.5-2h0m-1.5 1.5h0m-.5-3.5h0m-1.5 2.5h0m-2-2h0m-2 3h0m-1.5-1h0m-3-2h0m0 2h0m-1.5 2.5h0m-1-5h0m-4 0h0m-5 .5h0m-.5 4h0m-3.5-1.5h0m-.5-2h0m-3 1.5h0m0 2h0m-1.5-3h0m-2.5 0h0m-1 3.5h0m-1.5-4h0m-2 1.5h0m-6.5 1.5h0m-4-3.5h0m0 4h0m-2 .5h0m-3.5-2.5h0m-2-1h0m-1.5 2h0m-4.5-2h0m-1 1.5h0m-2.5-2.5h0m-2 2h0m-2 .5h0m-2 1h0m-.5-4.5h0m0 2h0m-2.5 2h0m-1-4h0m-1 2h0m-2 3h0m-.5-3.5h0m-3.5 2h0m-5.5-2h0m-35.5 7h0m25-1h0m8 4h0m3.5-1.5h0m5.5 1.5h0m1.5-2h0m8 2h0m4-1.5h0m.5-4h0m3.5 4h0m3 .5h0m4-2h0m1 2h0m3 1h0m.5-3.5h0m.5 2h0m3 .5h0m.5-3h0m2-1.5h0m2 4.5h0m1.5-4h0m.5 4.5h0m2.5-2h0m9 1h0m.5-3h0m3 4.5h0m.5-5.5h0m1.5 5.5h0m13.5 0h0m2-3.5h0m2 .5h0m1.5 2h0m.5-3.5h0m2.5-.5h0m0 2.5h0m2.5 1h0m5 4h0m-.5-2h0m-2.5 .5h0m-1.5 3h0m-1-3.5h0m-.5 1.5h0m-2-.5h0m-2.5 2h0m-1 2h0m-7.5 0h0m-.5-2.5h0m-1.5 2.5h0m-5-1.5h0m-9-2.5h0m-1.5 3h0m-2-1.5h0m-1.5 2.5h0m-.5-3.5h0m-1 2h0m-1-2.5h0m-.5 4.5h0m-2-3.5h0m-2 2h0m-4-1h0m-.5-2h0m-1.5 4.5h0m-3 0h0m-3.5-2.5h0m-2-2.5h0m0 2.5h0m-6.5-1.5h0m-3 2h0m-4-1.5h0m-2 1.5h0m-2 1.5h0m-1.5-1h0m-2 1.5h0m-2-3.5h0m-1.5 3.5h0m-2-2.5h0m-.5 2.5h0m-.5-4.5h0m-2 2.5h0m-.5 2h0m-.5-5.5h0m-3 2h0m0 3.5h0m-4-4h0m-.5 3h0m-2.5-1.5h0m-2-3h0m-1 2h0m-3 3h0m-29.5-3.5h0m21 7h0m5.5 3h0m1.5-4h0m5 1.5h0m.5-3h0m1.5 2h0m6.5-.5h0m2 4h0m1.5-3.5h0m3.5-.5h0m.5 2.5h0m2-1h0m.5 2h0m3-3.5h0m2.5-1.5h0m1 5.5h0m6.5-4.5h0m3 0h0m1 3h0m2.5-1h0m1.5 2.5h0m1.5-2.5h0m2-.5h0m0 2.5h0m4-1h0m.5-2h0m2 3h0m2-2h0m3-2h0m2 1h0m2-2h0m1.5 5.5h0m2.5-3h0m1.5-1.5h0m2.5 .5h0m0 2.5h0m1.5-4h0m1.5 5h0m1.5-3.5h0m.5 2h0m.5 2h0m7-4h0m.5 3h0m1.5-4h0m1.5 2.5h0m.5 2h0m1-4.5h0m1.5 1h0m2 2.5h0m1-3.5h0m1 4h0m1.5-2h0m1.5 2h0m10.5-.5h0m1.5-2h0m1.5-2h0m4 1.5h0m-10 6h0m-4 0h0m-2-1h0m-1.5 1h0m0 3h0m-1.5-1h0m-6.5-2.5h0m0 3h0m-2.5-.5h0m-3.5 .5h0m-2-1.5h0m-2 3h0m-4-3h0m-2-.5h0m-3.5-1.5h0m-1.5 2h0m-3 0h0m-11-1h0m-5-.5h0m-2.5 1h0m-4 0h0m-2.5 1.5h0m-.5-3h0m-1.5 2h0m-.5-2.5h0m-2 3h0m-.5-2.5h0m-2 2h0m-2.5-1h0m-1 2h0m-2-1.5h0m0 3h0m-2.5-1.5h0m-1.5-1.5h0m-3 1h0m-18.5 0h0m-2-2h0m-2 3.5h0m-1-2h0m-2 3h0m-.5-5.5h0m-1.5 4h0m-2.5 0h0m-2-4h0m-10.5 3h0m-2.5 .5h0m-16.5 2h0m-3.5 1.5h0m0 2h0m3-.5h0m2.5-2h0m.5 3h0m3-3.5h0m1.5 3.5h0m2-.5h0m3.5 .5h0m.5 2h0m3.5-2h0m4.5-2.5h0m2 1.5h0m5 0h0m.5 2h0m4 1h0m3.5-1.5h0m4-.5h0m4.5 2h0m2.5-2h0m.5-2h0m2.5 2.5h0m3.5-.5h0m.5-2h0m1.5 .5h0m1 2h0m.5-3.5h0m2 1.5h0m.5 3.5h0m3-2h0m1-3h0m3.5 0h0m2.5 1.5h0m10.5-1.5h0m1 1.5h0m1 2h0m2.5-3.5h0m.5 2h0m2.5-.5h0m0 3.5h0m2.5-3h0m7 2h0m6.5-.5h0m2.5 0h0m1-2h0m1.5 1h0m1 1.5h0m3.5-2.5h0m0 3.5h0m2-5h0m0 4.5h0m1.5-2.5h0m3-.5h0m2-1.5h0m1.5 2.5h0m1-2.5h0m3.5 .5h0m2.5 1h0m1.5 1h0m1-2.5h0m2-.5h0m2 .5h0m-5 5.5h0m-.5 4h0m-5 1h0m-1-1.5h0m-2 1.5h0m-2 0h0m-3.5-1h0m-4-.5h0m-3-1h0m-1.5-2h0m-1 2h0m-1.5-1.5h0m-2 3h0m-2.5-1.5h0m-1 1.5h0m-3.5 1h0m-2.5-4.5h0m-.5 3.5h0m-2 0h0m-2 .5h0m-.5-3h0m-2.5 2h0m-1.5-2.5h0m-1.5-1h0m-1 4.5h0m-.5-2h0m-1.5-1.5h0m-1.5 3h0m-2.5 1h0m-2-2h0m-2 .5h0m-2.5 2h0m-1-4.5h0m0 2h0m-2.5-.5h0m0 2h0m-3.5-.5h0m-2-1h0m-2 1h0m-1.5-1.5h0m-1.5-2.5h0m0 5h0m-1-3.5h0m-1-1.5h0m-1.5 2h0m0 2h0m-2-2.5h0m-1.5 2h0m0 2h0m-.5-4h0m-2-1.5h0m-1.5 2.5h0m-3.5-2h0m-.5 2.5h0m-2.5-2.5h0m-1 4.5h0m-2-2h0m-3-.5h0m-2.5 1h0m-2 2h0m-2-2.5h0m-1-2.5h0m-9 3.5h0m-1-2h0m-4 0h0m0 2h0m-2-3h0m-.5 3.5h0m-2.5-4h0m-.5 3.5h0m-2.5-4h0m-.5 4.5h0m-1-4.5h0m-1 2h0m0 3h0m-5-1h0m-4.5-1.5h0m-3 .5h0m-3 6.5h0m2-2h0m1.5 4h0m10.5 0h0m1-4h0m5 2.5h0m1-3.5h0m2.5 3h0m2.5 1.5h0m2.5 0h0m4-4.5h0m2 4.5h0m3 .5h0m.5-3h0m1.5-2.5h0m0 5h0m3.5 0h0m1-3h0m2.5-2h0m1 4.5h0m.5-1.5h0m4 1.5h0m2 .5h0m3.5 .5h0m3.5-2.5h0m1.5 2.5h0m3-1h0m1.5-3h0m1 3h0m1.5-2.5h0m0 3.5h0m2.5-2h0m1.5-2.5h0m3 3.5h0m1-3h0m2.5-.5h0m2.5 0h0m5.5 4.5h0m.5-2.5h0m.5-2h0m2.5 2.5h0m.5 2h0m1.5-3h0m.5-2h0m1.5 4h0m1-2.5h0m2 1h0m.5-3h0m7.5 1h0m4 3.5h0m.5-3.5h0m4 .5h0m3.5 0h0m1.5 3.5h0m2-3h0m1.5 3.5h0m.5-5h0m3 .5h0m0 2.5h0m3-2.5h0m2-1h0m0 5h0m1-3h0m3 .5h0m2-1.5h0m2 1.5h0m2.5 2h0m-20.5 3h0m-3.5-1h0m-2 .5h0m-1 2.5h0m-3.5-1.5h0m-1.5 3.5h0m-1.5-4h0m-3 .5h0m-2 1.5h0m-2.5-1.5h0m-3-2h0m-2.5 5.5h0m-1.5-3.5h0m-.5 2h0m-2 0h0m-.5-2h0m-2 3.5h0m-2-1.5h0m-2.5 .5h0m-1.5 1h0m-1-4.5h0m-13 3.5h0m-1.5-3.5h0m-.5 3.5h0m-1-2h0m-9 2.5h0m-2-3.5h0m-5.5-1h0m0 4.5h0m-3.5-3.5h0m-1 4h0m-2-2h0m-2-3h0m-2.5 3h0m-1.5-1h0m-4 2.5h0m-8 0h0m-1-3h0m-1.5 2h0m-.5-3h0m-2 3.5h0m-1-3h0m-1 2.5h0m-.5-4h0m-2 4.5h0m-.5-3.5h0m-7 3h0m-2.5-2h0m-1.5 3h0m-4-5h0m-1 2.5h0m-3.5-1.5h0m-8 8.5h0m4.5-.5h0m0 2.5h0m9-3.5h0m1 1.5h0m2.5-.5h0m0 2h0m1.5-4h0m.5 2.5h0m2 2h0m2-2.5h0m.5-2.5h0m3.5 2h0m2.5-2h0m2.5 1h0m.5 4h0m2.5-.5h0m.5-2.5h0m2.5 2h0m4.5-2.5h0m3 2h0m.5-2.5h0m2.5-.5h0m0 4h0m2-2.5h0m2.5-1.5h0m3 1.5h0m6.5 1h0m8 2h0m1.5-3.5h0m0 2.5h0m2.5-2h0m1 2.5h0m2.5-4.5h0m0 2.5h0m2 2h0m1.5-4.5h0m2 3h0m3-3.5h0m3 3.5h0m2-3.5h0m2.5 5.5h0m2-1.5h0m3.5-4h0m0 5.5h0m.5-2h0m5.5-2h0m3 2h0m1-2h0m2.5-1h0m3.5-.5h0m4 2h0m9.5 3h0m2.5-2.5h0m0 2h0m4.5-1h0m-3 3.5h0m-5.5 .5h0m-2.5-1h0m-3.5 1h0m-.5 2h0m-6-2h0m-3 1h0m-9-2.5h0m-5 1h0m-2.5 3.5h0m-2.5 1h0m-.5-3.5h0m-2-2h0m-1.5 1.5h0m-3-.5h0m-4 .5h0m0 2.5h0m-4.5-4h0m-1 1.5h0m-4.5 2h0m0 2h0m-4.5-5.5h0m-2 0h0m-.5 3.5h0m-3.5-2h0m-3 1h0m-.5 2h0m-2-1.5h0m-2.5-2.5h0m-1 4.5h0m-2-3h0m-2.5 2h0m-2-2.5h0m0 2h0m-2-1h0m-3.5-2h0m-11-.5h0m-2.5 1.5h0m-2.5-1h0m0 4h0m-2.5-2h0m-2-.5h0m-5 0h0m-6.5-.5h0m-3.5 3h0m1.5 3h0m4 0h0m2 2h0m9-2.5h0m1.5-1h0m4 .5h0m8.5 .5h0m9.5 .5h0m3.5 1.5h0m.5-2.5h0m2 2.5h0m1-2h0m1.5 1.5h0m2-1h0m0 3h0m2-.5h0m5 0h0m1.5 1.5h0m2-1.5h0m4-1.5h0m4-1h0m1 1.5h0m3 .5h0m8.5-1.5h0m3-1.5h0m2 1h0m0 3.5h0m6.5-4.5h0m9.5 .5h0m-33 8.5h0m-13.5-2.5h0"/>
<path stroke="#C09B00" d="M445 95.5h0m66 179.5h0m2.5 10h0m-10 0h0m10 7.5h0m5-1h0m0 1h0m47 .5h0m38 6h0m-8 0h0m-3.5 0h0m-10.5 0h0m-5.5-3h0m-2.5 .5h0m-8 .5h0m-3 2h0m-1-2h0m-5 2.5h0m-8 0h0m-3.5 4.5h0m3-1.5h0m1.5 3h0m2-3.5h0m2.5 3h0m4.5-3.5h0m.5 2.5h0m1 1.5h0m1.5-4h0m2.5-.5h0m0 2.5h0m0 2h0m2-4h0m1.5 2.5h0m3 0h0m1.5-3h0m1 3h0m2-2.5h0m1.5 2h0m1-2.5h0m1.5 0h0m1 3h0m1-2h0m2.5 0h0m1 3.5h0m9.5-4h0m.5 3.5h0m6.5 0h0m2.5-.5h0m1.5-1h0m2 1.5h0m4.5-2h0m81.5 2.5h0m-5 4.5h0m-5-1h0m-68.5 .5h0m-1.5-1h0m-3.5 3h0m-9.5-4h0m-.5 2.5h0m-3-3.5h0m-1 3h0m-3-2.5h0m0 2.5h0m-.5 2h0m-4-4h0m-.5 3.5h0m-5-1.5h0m-3 1.5h0m-.5-4h0m-1.5 2.5h0m-4.5-2h0m-.5 2.5h0m-3.5-3.5h0m-1.5 4h0m-2.5-2h0m-4 3h0m-6.5-4h0m-.5 3.5h0m-1.5-2.5h0m-1-2.5h0m-1 2.5h0m-3.5 2.5h0m-2.5-2h0m-3.5-2.5h0m-2 2h0m-2.5 1.5h0m-2-1h0m0 2.5h0m-12.5-.5h0m3 3.5h0m8 2.5h0m4-2.5h0m1-2h0m0 4h0m3-2h0m1.5-2h0m.5 3.5h0m2.5-.5h0m.5-3h0m11 2.5h0m1.5-1.5h0m1.5 3h0m2.5-2.5h0m2.5-1.5h0m1.5 3h0m1-2.5h0m4.5 .5h0m5.5-1.5h0m0 2h0m0 2.5h0m2.5-2.5h0m1.5 3h0m2.5-1h0m.5-3h0m2 2h0m2-2h0m2 1h0m4 3h0m1-4h0m1 3h0m1.5-1.5h0m.5 2h0m4-.5h0m4 1.5h0m.5-4h0m2 2h0m2.5-3.5h0m.5 2.5h0m0 3h0m3.5-2.5h0m1 2h0m2.5-.5h0m4.5-3h0m1.5 3h0m68 2.5h0m-38 1.5h0m-21.5 .5h0m-4 1.5h0m-1.5-2h0m-6.5-2.5h0m-2 1.5h0m-1 2h0m0 2h0m-.5-5h0m-3 .5h0m-1.5 2h0m-3.5-3h0m-9.5 3h0m-1.5-2.5h0m0 2h0m-1 2.5h0m-2 0h0m-5-.5h0m-.5-2.5h0m-5.5 2.5h0m-.5-3h0m-1.5 2h0m-1.5-1h0m-4 0h0m-2 2.5h0m-.5-3.5h0m-2 3h0m-.5-2h0m-2 1h0m-2-3.5h0m-1 3h0m-2-2h0m-1.5 3h0m-2-2.5h0m-2 4h0m-2-5.5h0m0 3h0m-1.5 2h0m-3.5-.5h0m-.5-4.5h0m-1 2h0m-2.5-1.5h0m0 3h0m-2.5-.5h0m-.5-3h0m-1 4.5h0m-1-3h0m-3.5-.5h0m-.5 2.5h0m-2.5-2h0m-1.5 2h0m-4 1h0m-1.5-4.5h0m-1 4.5h0m-.5-4h0m-3-.5h0m-3.5 2h0m-4.5-1h0m-37.5 3.5h0m-3 1h0m-28 4h0m14 .5h0m5.5-1.5h0m3-1h0m15 3h0m3 0h0m13 1h0m5-4.5h0m10.5 2.5h0m1-3h0m2.5 1.5h0m0 2h0m3.5-3h0m1 4.5h0m1.5-4h0m2 1h0m9.5 0h0m3.5 1h0m0 2h0m1.5-2.5h0m1.5-2.5h0m2 1.5h0m3.5 3.5h0m2.5-2.5h0m1-2h0m2 3h0m3.5 0h0m1.5-4h0m2 5h0m.5-3.5h0m1.5 1h0m1.5-1.5h0m0 3h0m2 1.5h0m1-2h0m1-2.5h0m1 3h0m2 1h0m5.5-.5h0m4.5-3.5h0m0 4h0m2.5-5h0m1.5 2h0m1 3.5h0m1.5-3.5h0m1 2.5h0m2 .5h0m.5-5h0m2.5 1h0m3.5 4h0m1-3h0m4 2.5h0m.5-3.5h0m3 1.5h0m.5 3h0m1.5-3.5h0m.5 3.5h0m1-5.5h0m1 4.5h0m1-4h0m.5 2.5h0m2-1h0m3 1.5h0m2.5 2h0m6-1h0m6.5-3h0m5 1.5h0m-4 8.5h0m-10 0h0m-.5-5.5h0m-3.5 3.5h0m-3-3h0m0 4h0m-3-2h0m-.5 2.5h0m-3-1.5h0m-.5 2h0m-2-2h0m-2.5-2h0m-1.5 3h0m-2.5-4h0m-.5 2h0m-4-1.5h0m-2-.5h0m-.5 3h0m-1.5-2h0m-3.5 .5h0m-1 2h0m-1-2h0m-1 3.5h0m-1-5h0m-.5 3h0m-1 2h0m-1.5-3.5h0m-1.5 1.5h0m-.5-3h0m-1.5 4h0m-3 0h0m-1.5-2.5h0m-4.5 0h0m0 2h0m-2 .5h0m-3.5-1h0m-1.5-2.5h0m-2 1h0m-1-2h0m-1.5 4h0m-1.5-2.5h0m-2.5-1h0m-.5 5h0m-7-1.5h0m-1-1.5h0m-1-2.5h0m-1 3h0m-3.5-1h0m0 3h0m-2.5-4.5h0m-1 3.5h0m-2-1.5h0m-4-1h0m-.5 4h0m-.5-2h0m-3 0h0m-2-.5h0m-3.5 1h0m-.5-2.5h0m-3-.5h0m-20.5 .5h0m-5 1h0m-35-2.5h0m-6.5 0h0m-9.5 0h0m-8 .5h0m-3 0h0m43.5 7h0m5.5 2h0m9 .5h0m3.5-.5h0m32-1.5h0m1 1.5h0m.5 2h0m1-3.5h0m5 1.5h0m1.5-2.5h0m1.5 .5h0m3 4h0m1-5h0m3.5 5h0m.5-3.5h0m1.5 2.5h0m1-3h0m.5 1.5h0m3.5 2h0m1.5-5h0m1 3h0m4-1.5h0m2 1.5h0m.5-2.5h0m3 4h0m4.5-2h0m0 2h0m.5-4.5h0m2.5 4h0m2.5 0h0m2-.5h0m2.5 2h0m1-4h0m1.5 2.5h0m1.5-2.5h0m2.5-1.5h0m1.5 2.5h0m4.5-1h0m2 2h0m2 .5h0m3 1h0m4 0h0m1-1.5h0m1 1.5h0m7.5-3.5h0m3-1h0m1 3.5h0m1-2.5h0m5-1h0m4 1h0m1.5 1.5h0m5-3h0m1 11h0m-1-3.5h0m-7 4h0m-.5-5h0m-3.5 .5h0m-1.5 3h0m-3.5-1.5h0m-3.5 2h0m-3 0h0m-2-2.5h0m-.5 3h0m-1.5-4.5h0m0 2.5h0m-2-2h0m-2.5 2.5h0m-1-2.5h0m-1.5 2.5h0m-3.5 1h0m-5-4.5h0m-2 2.5h0m-6.5-2h0m0 4h0m-2 0h0m-4.5-4.5h0m-5.5 5h0m-2 0h0m-1.5-5h0m-1.5 4.5h0m-2-4h0m-4 4.5h0m-1-5h0m-.5 2.5h0m-2 2h0m-6-4h0m-.5 5h0m-4-2.5h0m-7.5-1.5h0m-1 4h0m-2-5h0m-3.5-.5h0m-2.5 3h0m-2-1h0m-1.5 1.5h0m-15.5 .5h0m-5-2.5h0m25.5 6.5h0m3-2h0m.5 4.5h0m1-1.5h0m3 2h0m.5-3.5h0m19-1.5h0m4.5 3h0m1 2.5h0m3.5-5h0m.5 3h0m2.5-2h0m0 2.5h0m2-1h0m5.5-3h0m1 4.5h0m1-2.5h0m3 0h0m0 2h0m2.5-2.5h0m1 2.5h0m2.5 1h0m2-2h0m4-2.5h0m3.5 .5h0m2 4.5h0m3.5-2.5h0m3 .5h0m1-1.5h0m1.5 2h0m2-3.5h0m.5 4.5h0m1.5-4.5h0m4.5-.5h0m2 3.5h0m3-2h0m1.5 2h0m3.5-.5h0m10-2.5h0m-12.5 8h0m-3-.5h0m-8-2h0m-5 4h0m-1.5-4h0m-.5 3h0m-2 .5h0m-.5-3.5h0m-2.5 .5h0m-3 4.5h0m-4.5-.5h0m-5.5 1h0m-1-4.5h0m-1.5 1.5h0m-.5-2.5h0m-2 1h0m-2 .5h0m-1.5 2h0m-2 0h0m-1 2h0m-1.5-5h0m0 3.5h0m-1-2h0m-5.5 3.5h0m-.5-3.5h0m-2.5-2h0m-5.5 3h0m-3.5-.5h0m-2 1.5h0m-13-3.5h0m-1 3.5h0m-.5-4h0m-2.5 2.5h0m-2-2.5h0m-2.5 3h0m-.5-2h0m-2.5-1h0m-5.5 8.5h0m1 2h0m1.5-2.5h0m1 3.5h0m2-1.5h0m1-2h0m1 2.5h0m4.5-2h0m2-1h0m.5 2.5h0m1-4h0m1.5 5h0m1-2.5h0m2 2.5h0m1.5-1h0m2.5 0h0m.5-3.5h0m2.5-.5h0m1 4.5h0m5.5-3h0m1.5 4h0m.5-5h0m1.5 2.5h0m2.5 2.5h0m1-1.5h0m1-3.5h0m2 3.5h0m2 1h0m2.5-5h0m2.5 1h0m3-.5h0m4.5 2h0m2-2h0m0 2h0m.5 2.5h0m7-4h0m1 2h0m1-2.5h0m2 3.5h0m3.5-3h0m1.5 2.5h0m2-3.5h0m0 4.5h0m2.5-1.5h0m.5-2h0m2.5 4.5h0m2-2.5h0m1 2h0m1.5-4h0m2.5-.5h0m.5 2.5h0m1.5-3h0m1 3h0m2-1h0m3.5 .5h0m13.5 3.5h0m-6 3.5h0m-7-2h0m-4.5-1h0m-3 .5h0m-2-.5h0m0 1.5h0m-2.5-1.5h0m-6.5 1h0m-2.5-.5h0m-.5 3h0m-2 1h0m-2-1.5h0m-1.5-2.5h0m-7-.5h0m-2.5 4.5h0m-.5-3h0m-3 1h0m-.5 2h0m-2.5-1.5h0m-2-1h0m-4 3h0m-1-4.5h0m-2 2h0m-2-.5h0m-2-.5h0m-1 3.5h0m-.5-2h0m-2.5-2h0m-.5 2h0m-3-2h0m-1.5 3h0m-1.5-3.5h0m0 4.5h0m-.5-2.5h0m-4-2h0m-1.5 2h0m-1.5-3h0m-.5 5h0m-1.5-2.5h0m-1.5-1h0m-2 0h0m-7-.5h0m-4-1h0m0 3.5h0m-3-2.5h0m0 2.5h0m-2-1h0m-1 2.5h0m-1-3.5h0m-3 0h0m-1 3.5h0m-5-4.5h0m12.5 8h0m2.5 .5h0m1-2.5h0m.5 3.5h0m2-1h0m.5-2h0m2-.5h0m0 2.5h0m3 2.5h0m4 0h0m.5-5.5h0m.5 3h0m3-1h0m0 3h0m3.5 .5h0m1-5.5h0m0 2.5h0m2 2.5h0m1.5-2h0m2 1.5h0m.5-3h0m2.5 1h0m2-2h0m3 3h0m2.5-2h0m.5 3h0m2-4.5h0m0 5h0m5-4.5h0m3.5 1h0m2 0h0m2.5 3.5h0m1-4h0m1 3.5h0m1.5-2h0m.5-2h0m1.5 4h0m2-1h0m5 0h0m1-2.5h0m1.5 1.5h0m1.5 2h0m2.5-3.5h0m.5 2h0m4.5 2.5h0m3.5-2h0m1-3.5h0m2.5 1.5h0m1.5 1.5h0m-12 3.5h0m-5.5 2h0m-.5-2.5h0m-4 3h0m-4 0h0m-2-2.5h0m-1.5 2.5h0m-2-2h0m-.5 2h0m-1 2h0m-5.5-3.5h0m-2-.5h0m-4 1h0m-2.5 2h0m-1-1.5h0m-2.5 2.5h0m-3.5 .5h0m-2.5 0h0m-2-1.5h0m-5-1h0m-3-1.5h0m0 3.5h0m-2.5-4h0m0 2.5h0m-5-1h0m-2 2.5h0m-2.5 .5h0m-7.5-5.5h0m3 11h0m4-3h0m3-.5h0m1 3h0m1-3h0m1.5 3.5h0m1-5h0m3 1h0m2.5 3h0m.5-3h0m4.5 .5h0m4 .5h0m11.5 0h0m.5-2h0m3 2.5h0m.5-2.5h0m6.5 1h0m2.5 2.5h0m.5-2.5h0m-41.5 15.5h0m4.5 0h0m1.5 1h0m5-1h0m28.5 7h0m-1.5-3.5h0m-1.5 3.5h0m-3.5-2h0m-4.5-.5h0m-2-.5h0m-3-1.5h0m-2 2h0m-3-2h0m-6.5-.5h0m-14.5 0h0m-6 1h0m-4-.5h0m56.5 5h0m.5 2h0m4 .5h0m3.5-1h0m1 3h0m53.5 24h0m12.5-3.5h0m33 60.5h0m44.5 4h0m.5 0h0"/>
<path stroke="#A3A500" d="M726.5 254.5h0m5 1.5h0m-38 49h0m2.5 2.5h0m-7.5 3h0m-5-1.5h0m9.5 10h0m-38.5 1.5h0m67 15h0m-18-1h0m-4 0h0m-2.5-1.5h0m-5-1h0m-18.5 3.5h0m-11 6h0m4-.5h0m2.5 .5h0m3-.5h0m4.5-2h0m.5 2h0m4.5-.5h0m2-2.5h0m0 2h0m2 .5h0m3 0h0m4-3h0m2 1.5h0m1.5-1.5h0m.5 3h0m2.5-3h0m3 1.5h0m.5 2h0m2-2.5h0m2.5 1.5h0m24-1h0m3 1.5h0m3.5 0h0m15.5-1h0m6 2h0m25 3.5h0m-9.5 2.5h0m-6 0h0m-3.5-.5h0m-3-1h0m-2 .5h0m-3 1h0m-1-3h0m-1 2h0m-4.5-4h0m-1 4.5h0m-2-5h0m-2 1.5h0m-8-.5h0m0 2.5h0m-1.5-2h0m-5.5 .5h0m-3-.5h0m-.5 4h0m-2-1h0m-2-2h0m-2.5-1h0m-1 3.5h0m-2-1.5h0m-.5-2.5h0m-7.5 1h0m-.5 2.5h0m-1.5-4.5h0m-.5 3.5h0m-1.5 2h0m-1.5-2h0m-3.5-2.5h0m-5 0h0m-11 2h0m-1-1.5h0m-4.5 3h0m-4-3h0m-.5 2h0m-3-1.5h0m-.5 2.5h0m-11-1h0m-6.5 .5h0m-5.5-1.5h0m-8 1h0m-2 1.5h0m4 3.5h0m2.5 1h0m4-1h0m4 3h0m1-4.5h0m9 1.5h0m3 2h0m3.5-2h0m0 3h0m2-1.5h0m2.5-2h0m2.5-2h0m.5 3h0m2-1.5h0m.5 3.5h0m1.5-2.5h0m2.5 2.5h0m3.5-3h0m2-1.5h0m7.5-.5h0m3 4.5h0m2.5-1h0m5.5-.5h0m2.5 0h0m1.5 2h0m2-5h0m1 2.5h0m1.5-2.5h0m0 4h0m6-3h0m2 1.5h0m1-1.5h0m0 3.5h0m2.5-3.5h0m2 .5h0m2 2.5h0m1.5-2h0m2 1h0m1 2.5h0m.5-5h0m2 4h0m6.5-1h0m2 1h0m3-.5h0m6.5-2h0m3.5 .5h0m2 1.5h0m1-2h0m1.5 3h0m2 0h0m2-1.5h0m4.5 1.5h0m3.5-2h0m1.5-2.5h0m2 3h0m9 2h0m2-1h0m8.5 6.5h0m-2-1h0m-3-3h0m-2-1h0m-5 2h0m-2 2.5h0m-1-4.5h0m-1.5 2.5h0m-3.5-2.5h0m-2 2h0m-1.5-1.5h0m-1.5 3.5h0m-3-.5h0m-1.5 2h0m-4.5 0h0m-1-3.5h0m-1.5-1.5h0m0 3h0m-3 1.5h0m-3 .5h0m-.5-2.5h0m-.5-2h0m-2.5 3.5h0m-1.5-2h0m-1.5 2.5h0m-.5-2.5h0m-2 2h0m-2-1h0m-1.5 1.5h0m-6-1.5h0m-1 2h0m-4.5 0h0m-1.5-5.5h0m-1.5 3.5h0m-2 0h0m-1-1.5h0m-1 2h0m-1-2.5h0m-2 3h0m-2-3h0m-2 0h0m0 4h0m-1.5-2.5h0m-1.5-2h0m-1.5 .5h0m-1 2h0m-3.5-2h0m0 3.5h0m-6-1.5h0m-2 0h0m-1.5-2.5h0m-.5 3.5h0m-2.5-4h0m-1.5 2h0m-2-2.5h0m-2 3h0m-6 1h0m-3.5 1h0m-3-2h0m-2 0h0m-3.5-3h0m-2 0h0m0 2h0m-.5 2h0m-1.5-2.5h0m-2 2h0m-.5-3h0m-1 4.5h0m-4.5-2h0m-3.5 .5h0m-.5-2h0m-1-1.5h0m-1 5h0m-1-2.5h0m-3.5 1.5h0m-2-1.5h0m0 3h0m-3-2.5h0m-2.5-2.5h0m-4 2h0m8 6h0m4 1h0m2.5-1.5h0m.5 2h0m1.5-2h0m0 3.5h0m2-5.5h0m2 3.5h0m.5-2h0m2.5 0h0m4.5 0h0m.5 3.5h0m1.5-4.5h0m0 2h0m3 0h0m2.5-2.5h0m1 3.5h0m1-3.5h0m1 3h0m4 2.5h0m.5-3h0m3 2h0m.5-2.5h0m1.5 3h0m1.5-4h0m2.5 2.5h0m2.5 0h0m3.5-2.5h0m0 3.5h0m2 1h0m.5-4.5h0m1 1.5h0m2.5 0h0m1.5-2.5h0m.5 3.5h0m2-2h0m1 3h0m1.5-3h0m2 1.5h0m2 .5h0m1-3.5h0m3 5h0m2-1h0m.5-3h0m1.5 3.5h0m4-1.5h0m.5 2.5h0m1-4.5h0m2 1h0m1.5 2h0m1.5-1.5h0m5.5 2.5h0m1-3.5h0m1 2.5h0m2.5-4h0m0 3.5h0m2.5 1h0m6 1h0m.5-4h0m2 3h0m2-2.5h0m7 2h0m2.5 .5h0m2-4h0m2.5 1h0m2.5 0h0m1.5 1.5h0m.5 2h0m.5-4.5h0m2.5 0h0m.5 4.5h0m1.5-4.5h0m.5 4h0m1.5-4h0m2.5 3h0m2.5 0h0m2.5-2.5h0m0 4h0m5-1h0m1.5-2h0m.5 3h0m.5-5h0m1 3.5h0m1-2.5h0m3.5 1h0m2-2h0m1.5 8h0m-2-.5h0m-3-1h0m-3.5 1.5h0m-1 2.5h0m-3.5-.5h0m-1-4h0m-1.5 2h0m-1 2h0m-3-3.5h0m-2.5 3.5h0m-.5-2.5h0m-3 .5h0m-2.5 2h0m-4.5-3h0m-8 1.5h0m-3-2h0m-1.5 4h0m-1.5-1.5h0m-.5-2h0m-2 .5h0m-7.5 1h0m0 3h0m-2.5-2h0m-2.5-.5h0m-1-3h0m-2 1h0m-2.5 2.5h0m-5.5 .5h0m-3-3.5h0m-.5 2h0m-7 1.5h0m-3 1h0m-2.5-4.5h0m-4 5h0m-3-5.5h0m-.5 4.5h0m-7-2h0m-1-1.5h0m0 3.5h0m-2 0h0m-.5-2h0m-1.5-2.5h0m-2 5h0m-1.5-5h0m-1 2h0m-3 2.5h0m-.5-3.5h0m-2 2.5h0m-1.5 2h0m-1-4.5h0m-5.5 4h0m-.5-4.5h0m-.5 2h0m-3.5-2.5h0m0 5h0m-2.5-4h0m-4 2h0m-1.5 2h0m-.5-5h0m-2.5 4h0m-2.5-3.5h0m-3 0h0m-1.5 2h0m-4.5-2.5h0m4 6h0m1.5 .5h0m7.5 1.5h0m3.5 2.5h0m6-2h0m2 1h0m2-1h0m0 2h0m2.5-2.5h0m4.5 .5h0m4-2h0m1 4h0m1.5-2h0m6-2h0m0 2.5h0m1 2h0m2-1h0m6-1h0m3.5-1h0m3-1h0m4 3.5h0m10-2.5h0m2 3h0m4.5-1h0m.5-2h0m3 3.5h0m1-3.5h0m2 .5h0m1.5-1.5h0m2 1h0m2.5-1.5h0m1.5 1h0m7-1.5h0m5.5 5.5h0m2-1h0m1.5-1h0m3 1h0m.5-2.5h0m3.5 2h0m6 0h0m2-3h0m1.5-1h0m1.5 1h0m0 3h0m1.5-.5h0m.5-2h0m2 0h0m0 4h0m10.5-1h0m2 1.5h0m-7 3h0m-2.5-1.5h0m0 2.5h0m-3-2.5h0m0 2.5h0m-6.5 1.5h0m-1-4.5h0m-1.5 3.5h0m-2 .5h0m-.5-5h0m-.5 2h0m-2-.5h0m-2.5 1h0m-2.5 1h0m-2.5-2h0m0 4h0m-3-2.5h0m-2 .5h0m-1-3.5h0m-1 4.5h0m-4.5-3h0m-2-1h0m-3.5 1h0m-1.5 2h0m-4.5 1h0m-3-.5h0m-1-2.5h0m-5 3h0m-3.5 1h0m-.5-2h0m-1-3.5h0m-1 2.5h0m-1.5-1.5h0m0 4.5h0m-2 0h0m-1-5h0m-.5 3h0m-.5 2h0m-2.5-2h0m-2-3.5h0m0 3.5h0m-3-1h0m-5 .5h0m-2 2.5h0m-6-.5h0m-1-3.5h0m-1 2h0m-3.5 1h0m-5-3.5h0m-1.5 2h0m-.5 2.5h0m-1.5-3.5h0m-2 3h0m-1.5-2h0m-4 1.5h0m-1.5-4.5h0m-2 4h0m-.5-3.5h0m-1.5 1.5h0m-1.5 8.5h0m3.5-3.5h0m2.5 .5h0m.5 3.5h0m2.5-.5h0m2-2h0m6.5 3h0m2.5-4.5h0m.5 2.5h0m1.5-1.5h0m1 2h0m2-2.5h0m.5 2h0m2-2.5h0m3 3h0m3 0h0m.5 1.5h0m1-4h0m2.5 3.5h0m1-4.5h0m2.5 1h0m2.5 3.5h0m.5-4h0m1.5 3.5h0m2.5 .5h0m1.5-2h0m2 2.5h0m.5-3h0m2.5 1h0m0 2h0m2.5-2.5h0m2.5 1h0m3 .5h0m2 0h0m2-3h0m1.5 3h0m2.5 1h0m1.5-5h0m2.5 3.5h0m1-4h0m2.5 3h0m2.5-1h0m1.5 1.5h0m1-3h0m3 4h0m3-4.5h0m2.5 3.5h0m1.5-2h0m1 2h0m2.5-1.5h0m2.5-1.5h0m4 1.5h0m2.5 1.5h0m.5-2.5h0m1.5 4.5h0m3.5-1.5h0m5-3.5h0m0 3h0m2.5-1.5h0m48.5 9h0m-3.5-2h0m-3-2.5h0m-44.5 4.5h0m-2-3h0m-1 2h0m-8-3.5h0m-1 3h0m-1-2.5h0m-1 2.5h0m-3.5-2h0m-3 1.5h0m-.5-3h0m-2 1.5h0m-1-1.5h0m-1 3.5h0m-7-.5h0m-.5-2.5h0m-1 4.5h0m-1.5-3h0m-2.5 3h0m-2.5-5h0m0 4h0m-2 .5h0m-.5-3.5h0m-12.5 .5h0m-2 0h0m0 2h0m-2.5 .5h0m-2.5-.5h0m-2 2h0m-1.5-3h0m-1.5 3h0m-3.5-4.5h0m-2 2h0m-3.5 2.5h0m-.5-5.5h0m-1 2h0m-3-1h0m-3 2.5h0m-3.5-1.5h0m-.5 2.5h0m-5-1h0m-.5-2h0m-2-.5h0m0 4h0m-2-1.5h0m-1-2.5h0m-5 3.5h0m-10.5-2h0m7 3.5h0m0 2h0m9.5 .5h0m0 2.5h0m2-3.5h0m2.5 4h0m6.5-4.5h0m1 3.5h0m1.5-1.5h0m1-2h0m1.5 3h0m2-2h0m.5 2h0m6.5-3h0m5 4h0m3-1h0m8-2.5h0m2.5 3h0m4.5-2h0m1.5-2.5h0m2 5h0m1.5-4h0m0 2h0m4.5-2.5h0m5.5 2.5h0m2.5-2h0m2 1.5h0m5.5-1.5h0m2.5 4h0m4-2h0m2 2.5h0m1.5-5.5h0m.5 2.5h0m2.5-2h0m.5 5h0m-2 4h0m-.5-3h0m-3.5 4h0m-3-4.5h0m-2.5 1.5h0m-2.5-.5h0m-.5 2h0m-.5 2h0m-7-2h0m-.5-3h0m-1.5 1.5h0m-3 1.5h0m-2.5-3h0m-3 .5h0m-.5 4.5h0m-1-3.5h0m-2 4h0m-.5-5h0m0 2h0m-3-2h0m-.5 3.5h0m-3-1h0m0 2.5h0m-2.5-5.5h0m-1.5 5.5h0m-2-5.5h0m-2.5 2h0m-.5 3h0m-3.5-2.5h0m-3 2h0m-2.5 0h0m-4.5 1h0m-2.5-1h0m-1-4h0m-2 2.5h0m-2.5-2.5h0m-3 1h0m-2 1.5h0m-3 1.5h0m-.5-2h0m-3-2.5h0m0 4h0m-.5-2h0m-2 .5h0m-4 2.5h0m-.5-2.5h0m-1.5-1h0m-.5 3h0m-21 5.5h0m5 0h0m.5-1.5h0m4.5 2h0m2-1.5h0m4-2.5h0m3.5 .5h0m1 2h0m1.5-2.5h0m1 4.5h0m1.5-2.5h0m2.5 0h0m.5-2h0m1.5 3h0m2.5-2h0m3.5 3h0m2-.5h0m.5-3.5h0m1.5 2h0m5.5 3h0m1-3.5h0m1.5 3h0m1-4h0m2 .5h0m.5 2h0m7-3h0m1 2h0m.5 2h0m1.5-4.5h0m.5 2.5h0m4-1.5h0m5 2h0m5-2.5h0m9.5-.5h0m3.5 3h0m1-3h0m2 .5h0m.5 2.5h0m2-1.5h0m0 2h0m3-3.5h0m2 .5h0m3.5-.5h0m-14 7h0m-21 0h0m-17.5-1h0m-12 0h0m0 5.5h0m-2.5-5h0m-5 1.5h0m-6 1h0m-.5 2h0m-2-1h0m-.5-3.5h0m-3 2.5h0m-2-2.5h0m-7.5 .5h0m-333 133h0m307.5 39h0m0 .5h0m-5 2.5h0m1 0h0m1.5-1.5h0m-76.5 15.5h0m5-1.5h0m12 1.5h0m4-.5h0m15 0h0m10.5-1h0m4 5.5h0"/>
<path stroke="#7CAE00" d="M269 455.5h0m-25.5 2.5h0m19 8.5h0m2.5 1.5h0m11.5 0h0m1.5 5h0m6-2.5h0m-3.5 7.5h0m1 4h0m174.5 61.5h0m17.5-.5h0m29 7h0m-2 .5h0m-7-.5h0m-8.5 .5h0m-1-3.5h0m-2.5 1.5h0m0 2.5h0m-3-4h0m-1.5 2.5h0m-3 1h0m-.5-2h0m-3.5-1.5h0m-7 4.5h0m-1.5-2.5h0m-3-.5h0m0 2.5h0m-2-5h0m-.5 5.5h0m-2 0h0m-1-2.5h0m-9.5 7.5h0m3-2.5h0m1 3.5h0m1.5-3.5h0m2 1.5h0m2-2h0m1 3h0m1-3.5h0m2 1.5h0m2-1.5h0m.5 4.5h0m2-.5h0m2.5-.5h0m2-4h0m.5 5h0m1-4h0m6 2.5h0m1-2.5h0m3-1.5h0m3 3h0m3.5 1h0m.5-2.5h0m1 3.5h0m.5-4.5h0m2.5 3h0m4.5 1h0m.5-3h0m2 2h0m2.5 1h0m1.5-3h0m.5 3h0m2-3.5h0m0 2.5h0m-2.5 3.5h0m-3.5 1h0m-3.5 3h0m-2.5-4.5h0m-2 0h0m-.5 1.5h0m-5.5 1.5h0m-1-3h0m-2.5 3.5h0m-.5-2.5h0m-3 2.5h0m-1.5-3.5h0m-.5 2h0m-2.5 1.5h0m-1-3.5h0m-1.5 4h0m-1-2.5h0m-1.5 1h0m-3-2h0m-2.5 1h0m-5.5 2.5h0m-2 .5h0m-1-3h0m-2 3.5h0m-1-1.5h0m-3-3.5h0m0 3.5h0m-4.5-3h0m-1 3h0m-1-2h0m-1 3.5h0m-14.5 5.5h0m2.5-2.5h0m1.5 2h0m.5-3h0m3 4h0m2-2.5h0m2.5 1.5h0m4.5 0h0m7-3h0m1 2.5h0m2-.5h0m3 .5h0m2.5-3h0m1 4h0m1-4.5h0m2 1.5h0m4 1h0m1.5-2.5h0m7.5 3.5h0m1-4h0m3 3h0m1.5 2.5h0m7.5-4.5h0m1.5 3h0m.5-2.5h0m0 4h0m4-1.5h0m2-.5h0m3.5-1h0m32.5 2h0m7 1h0m8 4h0m-5.5-2h0m-15.5 0h0m-3.5 .5h0m-2.5 0h0m-4.5 1h0m-18 1.5h0m-4.5-3h0m-.5 2.5h0m-2-1.5h0m-2 2.5h0m-.5-4h0m-5 3h0m-1.5-2h0m-.5 2.5h0m-3-1.5h0m0 2.5h0m-2-5.5h0m0 4h0m-3-3h0m-2 3.5h0m-3 1h0m-4.5-5h0m-1 2.5h0m-2.5 2h0m-1.5-2.5h0m-2-2h0m0 3.5h0m-1.5 1h0m-1-3.5h0m-1.5 4h0m-1-2.5h0m-2 1h0m-3.5 1.5h0m-2-4.5h0m-3.5 .5h0m0 3h0m-3-.5h0m-3-1.5h0m-2.5 2.5h0m-2.5-2.5h0m-1.5 2h0m-4 0h0m-3 5.5h0m.5-2h0m2.5 2.5h0m2-3.5h0m2.5 1.5h0m1-2.5h0m2 2h0m.5 2h0m2-1h0m1-1.5h0m0 3h0m2.5-4.5h0m0 4h0m2-2.5h0m1 3h0m2-2h0m1 3h0m2.5-3.5h0m.5 2h0m2 0h0m.5-4h0m2.5 1.5h0m3 .5h0m0 2.5h0m2-1.5h0m.5 2.5h0m2.5-4h0m3.5-1h0m.5 3h0m1.5-2h0m3.5 1.5h0m4-2h0m0 4.5h0m2.5-3h0m0 3h0m4-3h0m3.5-2h0m.5 2.5h0m2 .5h0m4 1.5h0m2-5h0m.5 2h0m2 3.5h0m3-5.5h0m45.5 5h0m2-1h0m1.5-3h0m-8.5 8h0m-45-1.5h0m-1.5 2.5h0m-3-2h0m-4-2h0m-5 2h0m-1-1.5h0m-.5 3.5h0m-2-2h0m-5.5-2h0m-1 3.5h0m-3-3.5h0m-1.5 2h0m-3-1h0m-1.5 4.5h0m-6-2h0m-.5-2.5h0m-4.5 0h0m-7 3h0m-.5-2.5h0m-2 0h0m-2-.5h0m-1 3.5h0m-1.5-3h0m-1.5 2h0m-4.5-2.5h0m-3 2h0m-2-2h0m0 4h0m-1.5-2h0m-1.5 1.5h0m-1.5 1h0m-.5-5h0m-5 6h0m3 0h0m2.5 2.5h0m5.5 0h0m3 1h0m7-.5h0m4 2h0m2-5.5h0m.5 2.5h0m2-2h0m1.5 4h0m1-3h0m2 2h0m1.5-3.5h0m2.5 .5h0m2 5h0m1.5-1.5h0m7 1h0m2.5-1.5h0m0 2h0m3.5-5h0m0 4.5h0m2-4h0m1.5 3.5h0m1.5-4.5h0m1 1h0m2 4.5h0m3-5.5h0m.5 4h0m2 1h0m1-5h0m1 2h0m2.5-1h0m2.5 1.5h0m1-2.5h0m8 0h0m34 5.5h0m1-4h0m1.5 7h0m-5.5 1h0m-4.5 2h0m-2-1h0m-3.5-2.5h0m-2.5 0h0m-.5 2h0m-8 .5h0m-3 1h0m-7-4h0m-4.5 3h0m-4.5 .5h0m-3.5-2h0m-2-1.5h0m-1.5 4h0m-1-4h0m-3 4h0m-.5-3h0m-2 0h0m-1 3h0m-.5-5.5h0m-3 5.5h0m-1.5-3.5h0m-1.5 2h0m-2-.5h0m-1.5-2h0m-8.5-1.5h0m-2.5 1.5h0m-2 3.5h0m-1-4h0m-1.5 3.5h0m-1-2.5h0m-2.5 1.5h0m-1.5 1h0m-3-.5h0m-2 1h0m-7-2h0m-1.5 2h0m-2-1h0m-3-3h0m-1.5-1h0m-.5 2h0m0 2h0m-2-2h0m9 7.5h0m1.5-2.5h0m3 4h0m.5-2.5h0m1-2h0m2 1.5h0m2.5-.5h0m1.5 4h0m1.5-3h0m2-.5h0m2 2h0m.5-4h0m2 3h0m2.5 1h0m2-1.5h0m.5 2h0m1.5-4.5h0m2.5 1h0m3.5 4h0m.5-4h0m2 3h0m2.5-1.5h0m3 2h0m2.5-1h0m2 0h0m3.5 0h0m2 1h0m13-2h0m2-.5h0m2.5 .5h0m2-2h0m3.5 3h0m3-3h0m0 2.5h0m7.5 2.5h0m.5-4h0m0 2h0m4.5-.5h0m3.5 0h0m3 2h0m10 .5h0m1-5.5h0m2 2h0m3 3h0m-11 2.5h0m-2.5 .5h0m-2 0h0m-2 .5h0m0 3h0m-4-1h0m-2.5-4h0m-.5 2.5h0m-1.5 2h0m-1-3h0m-4-2h0m-4 4.5h0m-2.5-1h0m-2 2h0m-3.5-2h0m-3 2h0m-.5-3.5h0m-1 2.5h0m-3-.5h0m-7-3.5h0m-3.5 5h0m-1.5-5.5h0m-1.5 0h0m0 4h0m-.5-2h0m-3.5 1h0m-2-1.5h0m-3.5 1.5h0m-1.5-2.5h0m-7 1.5h0m-.5 3.5h0m-1.5-3h0m-1.5-2.5h0m-.5 5h0m-2.5-4.5h0m-3 3.5h0m-1.5-1h0m-3-1.5h0m-4.5 4h0m23.5 1.5h0m2 1h0m0 3h0m3.5-2.5h0m2.5 2h0m2.5-2h0m1-2.5h0m0 5h0m2.5-4h0m1 3.5h0m1.5-1h0m2.5 1.5h0m.5-4.5h0m2 3h0m1.5-3h0m.5 2.5h0m3 1h0m2.5-2h0m0 2.5h0m2.5-2.5h0m.5 3.5h0m1.5-2h0m2-.5h0m1 2h0m2.5 0h0m2-4.5h0m4.5 4h0m2-4h0m2 4.5h0m.5-3h0m3 1.5h0m1-2h0m.5 4h0m3-4h0m0 2.5h0m9 1.5h0m4-5.5h0m6 11.5h0m-3-3h0m-2 1.5h0m-2 0h0m-1-2h0m-6.5 1h0m-.5-3h0m-3 4.5h0m-.5-3h0m-3-.5h0m-2 2h0m-1.5 2h0m-1.5-3.5h0m-.5 4h0m-2.5-3h0m-1 2.5h0m-3-1.5h0m-1.5-1.5h0m-1 1.5h0m-3-1.5h0m-3 2h0m-2-2h0m-1 2.5h0m-1.5-2.5h0m-2-1.5h0m0 4.5h0m-2 0h0m-1-3.5h0m-1.5 3.5h0m-1-3.5h0m-3.5 4h0m-1-2.5h0m-4 0h0m-1.5-2h0m0 3.5h0m-2-1.5h0m-2-.5h0m-2.5-2.5h0m-.5 3.5h0m0 3.5h0m3.5 0h0m0 2.5h0m2-1.5h0m2 3h0m2.5-2h0m3.5-.5h0m3-2.5h0m3 .5h0m0 2.5h0m1.5-1h0m2 3.5h0m1.5-5.5h0m0 4h0m4.5-3.5h0m.5 2.5h0m1.5-2h0m.5 2.5h0m8.5-1h0m3.5-.5h0m2 3h0m2-3h0m0 2.5h0m1.5-4h0m.5 3h0m7.5-2.5h0m2 4h0m1-2h0m.5-2.5h0m2.5 .5h0m0 2.5h0m2 1.5h0m1-2h0m1.5 1.5h0m1-4.5h0m2.5 3.5h0m-6 3.5h0m0 3h0m-2.5-4h0m-1.5 3.5h0m-2 2h0m-2-4h0m-1 2h0m-1-2.5h0m-4 0h0m-1.5 2h0m-.5-2.5h0m-2.5 2h0m-1.5 2.5h0m-3-4h0m-2 .5h0m-13 2h0m-1-3.5h0m-1.5 2h0m-3-1.5h0m0 4h0m-3-1h0m-2-.5h0m-4 1h0m-.5-3h0m-2.5 3.5h0m-3.5-3.5h0m-3.5 4h0m-4 0h0m3.5 5.5h0m3.5-3h0m.5 2.5h0m36.5-3.5h0m2 3h0m.5-2h0m3 3h0m1-4.5h0m2 4.5h0m1-2h0m1.5-2h0m1.5 3.5h0m-1 2h0m-2 3.5h0m-1.5-3h0m-1 5h0m-3-3.5h0m-38-2h0m36.5 7h0"/>
<path stroke="#39B600" d="M417.5 134.5h0m2.5-2.5h0m-96.5 48h0m1 4.5h0m6 3.5h0m-4-1.5h0m6.5 5.5h0m2.5 1.5h0m1 3h0m2.5-1h0m7.5 4.5h0m-4-1.5h0m-1-.5h0m-.5 4.5h0m-2.5-.5h0m-2 4h0m4 3h0m3.5-2h0m.5-3h0m1 2.5h0m.5 2h0m1.5-4h0m1 1.5h0m0 1.5h0m1.5 1h0m2-3.5h0m0 2h0m4 7h0m-2.5-3.5h0m-.5 4h0m-3-2h0m-.5 2h0m-2.5-2h0m-3.5 1h0m1 3h0m6 4h0m1-3h0m3 2h0m0 2h0m2-3.5h0m2 0h0m8.5 7.5h0m-4 .5h0m-1.5-1.5h0m-2.5-2h0m-1.5 1h0m-1 2.5h0m-.5-4h0m-.5 2h0m-2.5 1.5h0m-.5-3.5h0m-1 4.5h0m-2-1.5h0m3 7h0m3.5-3.5h0m2 2h0m0 2.5h0m.5-5h0m2.5 3h0m1.5 .5h0m2.5-1.5h0m3.5 3h0m5.5 1.5h0m-3 4h0m-4.5-3.5h0m-.5 4h0m-1.5-.5h0m-1.5-1.5h0m-1 2.5h0m-2-4.5h0m-1 2h0m-2-.5h0m10 7.5h0m1-3h0m2-1h0m.5 2h0m0 2h0m2-4h0m.5 5.5h0m3.5-3.5h0m2 3.5h0m-2 4h0m-4-.5h0m-1.5-.5h0m-4.5-2.5h0m7 6.5h0m0 5h0m1-3h0m1 2.5h0m1.5-4h0m.5 4h0m2-4h0m4 3.5h0m3.5-3h0m1 6.5h0m-5-1.5h0m-2-.5h0m-.5 4.5h0m-1.5-3.5h0m0 2.5h0m-2 2h0m-4.5 .5h0m2.5 3.5h0m3 0h0m2-1.5h0m0 3.5h0m2.5-2h0m.5-3.5h0m1.5 1.5h0m1.5-.5h0m3 .5h0m-2.5 5h0m-4.5 1.5h0m-2.5 2.5h0m-.5-2.5h0m-1.5-2h0m-.5 3h0m-.5-1.5h0m-1.5 1h0m-1.5 1.5h0m0 3.5h0m4 0h0m3 1h0m1.5 .5h0m9 2.5h0m4.5 2.5h0m-6 1.5h0m-.5-2.5h0m-1.5 4.5h0m-.5-1.5h0m-3.5 .5h0m-1-4.5h0m-6 .5h0m9.5 6h0m3.5 0h0m5.5 5h0m1.5-3h0m1.5 6h0m-3 .5h0m-4 3.5h0m5.5 2.5h0m2.5-1h0m9.5 4h0m-7.5 4.5h0m-1-2.5h0m-3 0h0m2.5 5.5h0m2.5 2.5h0m6.5-1.5h0m-4 5h0m-4.5-1h0m-2 8h0m7 1h0m-9 4.5h0m-15.5-1.5h0m8.5 10.5h0m4-4.5h0m2.5 5.5h0m0 3.5h0m-3.5 .5h0m.5 5h0m3.5 1h0m5.5-.5h0m2 11h0m3 7.5h0m-5-.5h0m-1 3h0m3 0h0m0 3h0m2 8h0m-3 0h0m-6.5-1h0m-40.5 3.5h0m29 2h0m1.5 1h0m4 .5h0m4.5-2.5h0m3 2.5h0m5.5-4h0m1 1.5h0m-4 6.5h0m-3-1.5h0m-4.5-.5h0m-2 2.5h0m-5.5-1.5h0m-1.5 2h0m-2.5-3.5h0m-.5 3h0m-15.5-.5h0m-3 1.5h0m-4.5 .5h0m3.5 5h0m2-1.5h0m1-3h0m9 3h0m1.5 1.5h0m3-1.5h0m0 2h0m2-2h0m2-3h0m2 5.5h0m4-5.5h0m3 5h0m2-3.5h0m2-.5h0m0 3.5h0m1.5-2h0m4-2h0m0 5h0m7 0h0m1-2h0m.5-2.5h0m2.5 3.5h0m3.5 0h0m-3.5 2h0m-6 5h0m-3-2.5h0m-1.5 2.5h0m-3-3h0m-.5-2.5h0m-5 4.5h0m-1.5-1.5h0m-2.5-2h0m0 4h0m-8.5-.5h0m-6.5 1h0m-2.5-3.5h0m-1 3h0m-1.5-2h0m-2-2.5h0m-.5 4.5h0m-1.5-4.5h0m4 8.5h0m7 2h0m2.5-2h0m2 2h0m2 .5h0m2.5-3h0m1-2.5h0m1 5h0m2-.5h0m3 0h0m1-2h0m2.5 1h0m.5 2h0m.5-5h0m4 2.5h0m2.5 2h0m4-2h0m1.5-3h0m.5 3h0m3 0h0m2.5-1h0m2.5 4.5h0m-7.5 5h0m-3.5-.5h0m-5-.5h0m-.5-.5h0m-1 0h0m-1.5 0h0m-.5 1.5h0m-2.5-4h0m0 4h0m-3.5 0h0m-1-2.5h0m0 2.5h0m-1-3.5h0m-1-1.5h0m-.5 3h0m-.5-1.5h0m0 2h0m-2.5-1.5h0m-1-1.5h0m0 4h0m-1.5-2.5h0m-1 .5h0m-6 1h0m-1.5-.5h0m-.5-3h0m-.5 4.5h0m-5.5-2.5h0m-5.5 1h0m.5 5.5h0m2 1.5h0m2-3h0m.5 4h0m1.5-1h0m1-1h0m.5-1.5h0m2 3.5h0m.5-4.5h0m.5 2h0m1-1h0m1-1h0m.5 4h0m1-1.5h0m0 1h0m.5-4h0m0 1.5h0m2 .5h0m.5 .5h0m1 1.5h0m.5-4.5h0m0 2.5h0m.5 2h0m1.5-2h0m1.5 1.5h0m1 1.5h0m1-3.5h0m0 2.5h0m.5-4.5h0m0 2.5h0m.5-2.5h0m3 3.5h0m2-1.5h0m.5-.5h0m0 4h0m2-1.5h0m.5-3.5h0m1 3h0m.5-3.5h0m0 3h0m2 .5h0m0 1.5h0m1.5-2h0m.5 2h0m1.5-4h0m.5 .5h0m2.5 1.5h0m0 2.5h0m.5-2.5h0m3.5 0h0m2.5 8h0m-5-3h0m-1.5 2.5h0m-2.5-4.5h0m0 1.5h0m-1 1h0m0 3h0m-2.5-.5h0m-.5-2.5h0m-1-2h0m-.5 3h0m-1.5-3h0m-4 1h0m0 3h0m-1.5-1.5h0m-2.5-2.5h0m0 4h0m-.5-1.5h0m-2-2h0m-.5 4h0m-1-.5h0m-.5-1h0m-.5-3h0m-1 5h0m-.5-5h0m-.5 2h0m-1-2h0m-1.5 2h0m-2.5 .5h0m-.5-1.5h0m-1.5 1.5h0m0 2h0m-.5-3.5h0m-2 1.5h0m0 1.5h0m-1-3h0m-2-.5h0m-.5 2.5h0m-.5-1h0m-1 3h0m-11 5.5h0m7-.5h0m2-3.5h0m.5 .5h0m1 4h0m.5-5.5h0m1.5 2.5h0m0 2h0m3-3.5h0m0 .5h0m0 1.5h0m.5 2h0m2-4.5h0m0 2h0m2 2h0m1-3.5h0m0 1.5h0m0 1h0m1 1h0m1 .5h0m.5-2h0m.5-2h0m0 4h0m1-3.5h0m0 2.5h0m1 1h0m.5-2h0m1-1h0m.5-.5h0m.5 4h0m1-2.5h0m1.5-2.5h0m1 0h0m1 2h0m1.5-1h0m0 .5h0m.5 3h0m1.5-3h0m.5 1.5h0m.5-2.5h0m0 4.5h0m.5 0h0m2.5-4.5h0m1-1h0m0 3.5h0m2 2h0m.5-4.5h0m1.5 1h0m2.5-.5h0m2.5-1h0m3 1h0m1.5 2.5h0m-5.5 2h0m-8 1h0m-.5 .5h0m-6.5 .5h0m-4 .5h0m-3-.5h0m-4-.5h0m-1.5 0h0m-1 0h0m0 2.5h0m-3-2.5h0m-2.5-1h0m-2.5 1.5h0m-2 1.5h0m-2-2h0m-1.5 .5h0m-.5 0h0m-1.5 1.5h0m-1.5 1.5h0m-1.5-1h0m-3-2.5h0m.5 5.5h0m1 4.5h0m1-4.5h0m4.5 1.5h0m1.5-2.5h0m17.5 3.5h0m11.5-3h0m7.5-.5h0m-31 10h0m-2-2.5h0m-5 1.5h0m-7-1.5h0m3 7.5h0m18 1.5h0m-19 5h0"/>
<path stroke="#00BB4E" d="M598 407.5h0m-3.5-1h0m-4 7h0m3-4h0m1.5 3h0m3 1h0m.5-4h0m2 2.5h0m2 1h0m1.5-3.5h0m1 4h0m9.5 0h0m1.5-4.5h0m8 5h0m-1.5 2h0m-.5 2h0m-2-1.5h0m-1.5 1.5h0m-1-3h0m-.5 2h0m-4.5 .5h0m-1.5-3h0m-1 5h0m-1-5.5h0m-1 3.5h0m-1-2.5h0m0 4.5h0m-1.5-2h0m-.5 2h0m-1-4h0m-2 3h0m-3-2.5h0m0 3h0m-3-2.5h0m-6 .5h0m-1.5-2.5h0m-1.5 3.5h0m-6-1.5h0m7 4h0m2.5 0h0m3-.5h0m3 1.5h0m3.5-.5h0m.5 3h0m2-3h0m0 2.5h0m1.5-2h0m2-.5h0m4 .5h0m1.5 2.5h0m.5-3.5h0m1.5 0h0m0 3.5h0m1.5-1.5h0m1 1.5h0m3.5-3.5h0m.5 4.5h0m1.5-2h0m2-1h0m1.5 2.5h0m2-4h0m3.5 6.5h0m-1.5 3h0m-1.5-3h0m-2 3h0m-1.5-2.5h0m-1.5-1h0m-1.5 3h0m-2.5 .5h0m-.5-2.5h0m-2 2h0m-.5 2h0m-1-5h0m-2 2h0m-.5 2h0m-2.5-3.5h0m-1.5 4.5h0m-1-4.5h0m-2 .5h0m-4.5 .5h0m11.5 4.5h0m.5 4h0m2.5-1.5h0m0 2h0m3.5-2.5h0m.5-2h0m3.5 3h0m.5-3.5h0m1.5 2h0m1.5-1.5h0m.5 2.5h0m2 2h0m1.5-4h0m0 2h0m13.5-1.5h0m-13.5 4.5h0m-1 5.5h0m-2-3h0m-1-2.5h0m0 4.5h0m-2-4h0m-.5 4.5h0m-1-2h0m-3.5-3h0m-2 0h0m-2 5.5h0m-1-2h0m-2-3h0m.5 7.5h0m3 3h0m.5-3h0m2.5 3.5h0m.5-5.5h0m1.5 5h0m2-3.5h0m2 4h0m2-4h0m.5 3.5h0m2 .5h0m1-3h0m2 .5h0m38 2h0m3-4.5h0m.5 2.5h0m3 0h0m9 2h0m17.5-2h0m17 7h0m-2 0h0m-2.5 .5h0m-3.5-1h0m-1 2h0m-2.5-2.5h0m-5.5 0h0m-.5 2.5h0m-2 0h0m-5.5-1.5h0m-4.5 1.5h0m-8.5-1h0m-5.5-4.5h0m0 2.5h0m-4 2.5h0m-1-2.5h0m-2.5 2h0m-1.5-3h0m-1.5 3h0m-3-3h0m-1.5 2h0m-4.5-3h0m-3.5 3h0m-12.5 2h0m-5.5-2h0m-1-3.5h0m-2 5h0m-1.5-5h0m-2 5.5h0m-2-2h0m-1.5-2.5h0m-2.5 2h0m-5 1.5h0m-.5-2.5h0m3.5 4h0m1.5 3h0m2.5-3h0m.5 3.5h0m2 1h0m3-1.5h0m1-2h0m1 4h0m1.5-2.5h0m3-1.5h0m1.5 2.5h0m1-2h0m1.5 2h0m3-2h0m0 2.5h0m4.5 1.5h0m2.5-3.5h0m2 0h0m.5 3h0m1.5-4.5h0m2 3h0m1.5-3.5h0m2.5 5h0m3 0h0m1-3.5h0m1 2h0m4-2.5h0m2.5 2h0m2.5 .5h0m.5-2.5h0m2-1h0m1.5 3.5h0m1-2h0m0 3.5h0m1.5-1h0m.5 1.5h0m1-3.5h0m4-.5h0m1.5 3h0m2.5-3h0m0 2.5h0m2-3.5h0m2.5-.5h0m1 2.5h0m5 .5h0m5-1.5h0m1 2.5h0m1.5-4h0m2 2.5h0m2 2h0m1.5-3.5h0m1 4.5h0m1.5-5h0m0 2.5h0m2.5-1h0m.5 2h0m2.5-2.5h0m0 3.5h0m4 .5h0m4-2.5h0m.5 2h0m2 0h0m0 3.5h0m-2.5-1.5h0m-1.5 3h0m-.5-4h0m-3 2h0m-4 1h0m-2.5-1.5h0m0 2.5h0m-2-.5h0m-2 1.5h0m-2-3.5h0m-1 3.5h0m-3-2h0m-2.5-1h0m0 3.5h0m-2-5h0m0 4h0m-2-2.5h0m-.5 2h0m-2-1h0m-.5 2h0m-2-3h0m-2.5-2h0m0 5.5h0m-.5-2h0m-2 1h0m-.5-2.5h0m-.5-2h0m-2 4h0m-2-1.5h0m-1 2h0m-1.5-1.5h0m0 2.5h0m-4.5-4h0m0 2h0m0 2h0m-2.5-2h0m-2 1.5h0m-1.5-4.5h0m-2-.5h0m-1 4h0m-2-2.5h0m-1.5 1.5h0m-1.5-3h0m-.5 2h0m-1 3h0m-3.5-2h0m-3 1h0m-2-1h0m-.5-2.5h0m-2.5 1h0m-.5 3h0m-2-3h0m-1.5 2h0m-2-2h0m-2.5-1.5h0m-1.5 2.5h0m-1.5-1h0m0 2h0m-5-2.5h0m-2.5 1h0m0 3h0m-1.5-1.5h0m-2-1.5h0m13.5 4h0m7.5 2.5h0m4-2h0m2.5 2h0m2.5-2.5h0m0 4.5h0m2-4.5h0m.5 2.5h0m0 3h0m1.5-1h0m1.5-1.5h0m2-1h0m0 3h0m2-4h0m2 .5h0m4 0h0m2-1h0m1 4h0m1-3h0m2.5-.5h0m3 0h0m0 4h0m3-2.5h0m1-2.5h0m1.5 4h0m.5-3.5h0m.5 5h0m.5-3h0m5.5 1.5h0m.5-3h0m3-1h0m1 2h0m5 0h0m.5 3h0m1.5-2.5h0m2-1.5h0m2 2h0m0 2h0m2-1h0m3-3h0m1.5 3.5h0m2.5-3.5h0m-10.5 6h0m-4 .5h0m0 2h0m-2-2h0m-1.5 2.5h0m-.5-3.5h0m-2.5-.5h0m0 4h0m-2 1.5h0m-2-1h0m-.5-2.5h0m-2.5-1.5h0m-.5 4.5h0m-1-2.5h0m-1.5 2h0m-2.5-2.5h0m-3 2.5h0m-1.5-3h0m-1-1.5h0m-1.5 4h0m-1.5-2h0m-2.5 .5h0m-3.5-1h0m-2.5 .5h0m-3-.5h0m-1 3h0m-13.5-2.5h0m-6 6h0m43.5 1h0m2.5 2h0m2.5-3.5h0m1 3.5h0m1-2h0m4.5-2.5h0m3.5 0h0m-7.5 8h0m-5-1.5h0m-1 4.5h0"/>
<path stroke="#00BF7D" d="M408.5 147h0m10.5 2.5h0m9.5-3h0m14.5 9h0m-4-1h0m-1-3h0m-1.5 1.5h0m-1.5-2.5h0m-24 2h0m3 5h0m8.5-.5h0m3.5 0h0m0 3.5h0m2.5-2h0m.5 3h0m6.5-5.5h0m0 5.5h0m1-2h0m4.5 .5h0m3.5 1.5h0m1.5-1h0m3 5.5h0m-3 1h0m-3 .5h0m-1-4h0m-3 1.5h0m-4.5-2h0m-2.5 0h0m0 2h0m0 2.5h0m-2.5-2.5h0m-1-1.5h0m-2 2h0m-1.5 1.5h0m-10-1h0m10 7.5h0m1.5-5h0m5 3h0m5-.5h0m2-1.5h0m0 3.5h0m1-2h0m1.5-2h0m1 3h0m1 1.5h0m2-3.5h0m0 2.5h0m2-.5h0m1-4h0m-3.5 9h0m-3 2h0m-.5-3.5h0m-1 2h0m-2.5 1h0m-.5-4h0m-2.5 4h0m-1.5-3h0m-1.5 2.5h0m-4.5-2h0m-1.5 3h0m-1-2h0m-3.5-.5h0m-1.5-1.5h0m-4.5 0h0m0 4h0m-20.5 6.5h0m9-1h0m2-2.5h0m.5 3.5h0m3-1h0m1-2.5h0m3.5 .5h0m3 1.5h0m3.5 1h0m.5-4.5h0m2 0h0m2.5 3h0m2-3h0m.5 4h0m2-2h0m2.5-1h0m0 2h0m4-3h0m.5 4.5h0m2-3.5h0m1 4h0m1-2.5h0m3.5-1.5h0m-.5 9h0m-1.5-4h0m-1.5 4.5h0m-4.5-1h0m-8 1h0m-1-3.5h0m-2.5-1h0m0 4.5h0m-3-3h0m-3.5-1.5h0m-.5 2h0m-2-2h0m0 3h0m-2 .5h0m-1.5-2h0m-1-2h0m-3 4.5h0m-3-2h0m-2 1h0m-3-.5h0m-.5-2.5h0m1.5 7.5h0m1-2h0m1.5 4h0m2.5 1h0m.5-2.5h0m4-2h0m1.5 4.5h0m.5-3h0m2.5-1h0m6.5-1h0m.5 5.5h0m2-4.5h0m1 4.5h0m.5-2.5h0m3.5-2h0m1.5-1h0m0 5h0m9.5-3.5h0m2.5 4.5h0m0 2h0m-8.5-2h0m-2 5h0m-1.5-3.5h0m-1.5 1.5h0m-2-1.5h0m-1 4h0m-2-1h0m-.5-2.5h0m-3.5 3.5h0m-2.5-3h0m-4-.5h0m-5.5 2h0m-2.5 0h0m-1.5-3.5h0m-1.5 3h0m-4 1.5h0m2.5 3.5h0m9.5-.5h0m.5-2h0m3.5 4h0m3.5 1.5h0m.5-4h0m6.5 4h0m2.5-3h0m1.5-2.5h0m1 2h0m1 1.5h0m13 0h0m-1.5 4h0m-10.5 0h0m-4 0h0m0 2h0m-2 2h0m-1-3.5h0m-2-1h0m-.5 2.5h0m-6 0h0m0 2h0m-2.5-4h0m-2 6h0m2.5 4h0m2-.5h0m4-3.5h0m1.5 1.5h0m1 2h0m.5-5h0m4.5 1.5h0m2.5 .5h0m12.5 1.5h0m2 7.5h0m-1-3h0m-11.5-.5h0m-3.5-1h0m-6 3h0m-2.5-3h0m-.5 4.5h0m-1.5-2.5h0m-5.5 .5h0m0 8h0m.5-2h0m2-2.5h0m5.5 1.5h0m1-2h0m0 5.5h0m2.5-3h0m3.5-2.5h0m5 1h0m14 4h0m14 1.5h0m-4.5 2h0m-2.5-1.5h0m-32 1h0m-4.5 .5h0m-4.5 3h0m-.5-3.5h0m-3.5-1.5h0m6 7h0m1.5 1h0m3.5-.5h0m7.5 .5h0m-6.5 8.5h0m.5 6h0m15 2.5h0m-13.5 2.5h0m15.5 3.5h0m1 8h0m-1-2h0m-8.5 2.5h0m-4-4h0m7 6.5h0m8.5 2.5h0m-1 7.5h0m-4.5-4h0m5.5 6h0m2.5 11h0m-.5-3.5h0m3.5 7.5h0m-1 9h0m1.5 2.5h0"/>
<path stroke="#00C1A3" d="M760.5 239.5h0m-1.5 9h0m-2.5 3.5h0m-264.5 23h0m-10 0h0m-6.5 5h0m1.5-4h0m10 0h0m9 4h0m9 6.5h0m-5.5-4h0m290 10h0m58 117.5h0m-56.5 32.5h0m3.5 2h0m5 3.5h0m4 2.5h0m-199 51.5h0m2.5 2h0m4 2h0m1.5 2h0m11-.5h0m6 0h0m13.5-3h0m4.5 4h0m11.5 3.5h0m-2-1.5h0m-.5 5h0m-1.5-3h0m-2 .5h0m-2.5 0h0m-2-.5h0m-1.5-1.5h0m-2 2h0m-.5-3h0m-2.5 .5h0m-1.5 2.5h0m-2-1h0m-2 2h0m-.5-4h0m-5 4.5h0m-15-4h0m20.5 7.5h0m3-1h0m.5 2.5h0m1 2h0m1.5-4.5h0m.5 2h0m2 1h0m2-2.5h0m2.5-1h0m0 3.5h0m2.5-3.5h0m3 1h0m1.5 2h0m2-2.5h0m2 4.5h0m1.5-3h0m3.5 3h0m2.5-5h0m17.5 2.5h0m5-1h0m-10 6h0m-10.5 0h0m-4 .5h0m-2.5-1h0m-1.5 4h0m-1-2h0m-3 1.5h0m-2.5-2h0m-3 0h0m-.5-2.5h0m-2.5 2h0m0 2.5h0m-2.5-3h0m-1 2.5h0m-2-1h0m-.5-2.5h0m-1.5 2h0m-2 1.5h0m-1-2h0m-1.5 1h0m-1.5-1.5h0m-10 1h0m1.5 8h0m9.5-4h0m1.5 4h0m2.5-5h0m0 3.5h0m2.5-3.5h0m1.5 2h0m1.5-1h0m1 3h0m2.5-2.5h0m2.5-.5h0m1.5 2.5h0m.5-3.5h0m1.5 5h0m2.5-1h0m2.5 1.5h0m.5-4h0m2.5 1.5h0m2-3h0m1.5 4.5h0m.5-3h0m5 1h0m1.5 3h0m15 4.5h0m-5.5 1.5h0m-3.5-1h0m-.5-3.5h0m-4.5 .5h0m-3.5 3h0m-.5-4h0m-2.5 5h0m-1.5-3h0m-1.5 2h0m-.5-4h0m-1.5 1h0m-2 2h0m-3-1h0m-2-.5h0m-.5 2.5h0m-1.5-3h0m-1 4h0m-2 0h0m-2-3.5h0m-1.5 2.5h0m-1-2h0m-.5-2h0m-3 3h0m-.5-2.5h0m-1.5 3h0m-2-1.5h0m-1.5-1.5h0m-.5 3h0m-8 0h0m-13 5h0m5-2.5h0m20-.5h0m1.5 2h0m3 1h0m0 2.5h0m4-3h0m3 1.5h0m1-2.5h0m2.5 .5h0m.5 3h0m3.5-3.5h0m1.5-1h0m3.5 5h0m.5-4.5h0m3 4h0m1.5-2.5h0m.5 2.5h0m2-4.5h0m0 3.5h0m3.5 .5h0m1.5-4.5h0m0 2.5h0m2-.5h0m.5 3.5h0m4-2h0m3.5 1.5h0m2-1h0m.5-3.5h0m4 .5h0m3.5 3h0m16 7h0m-2.5-5h0m-1.5 4h0m-10.5-3.5h0m-1.5 1.5h0m-1.5-2h0m-2.5 .5h0m-.5 3.5h0m-1-2h0m-2 1.5h0m-2 1h0m-3.5-3h0m-2-1.5h0m-1.5 4h0m-5-2h0m-.5 2.5h0m-4-3.5h0m-3 1.5h0m-2 2h0m-.5-2.5h0m-2-1h0m-.5 2.5h0m-2-3h0m-2.5 1.5h0m-2-1h0m0 3h0m-2-1.5h0m-1 2.5h0m-2.5-1h0m-2-2.5h0m-.5 4h0m-2-3.5h0m-4 1.5h0m5.5 5.5h0m3-2h0m1 3.5h0m2.5-2h0m4-2.5h0m5 .5h0m19 1.5h0m1.5-1.5h0m11 0h0m2.5 1.5h0m4.5 .5h0m2.5 0h0m.5-2h0m3 3.5h0m.5-3.5h0m4 1h0m5 1h0m-12 3.5h0m-2 1h0m-3 1.5h0m-19 0h0m-7.5-2.5h0m-23.5 2h0m-3-.5h0m35 8.5h0"/>
<path stroke="#00BFC4" d="M594.5 580.5h0m4.5-4.5h0m1 5h0m2 6.5h0m-2-4.5h0m-2.5 4.5h0m-.5-3h0m-2 2h0m-2.5 .5h0m-1.5-2h0m-1 2h0m-2 .5h0m-27 6h0m.5-2.5h0m2-.5h0m2 2h0m1-2.5h0m.5 3.5h0m.5-5h0m2.5 3.5h0m2 0h0m1.5-2.5h0m13 .5h0m4 0h0m1.5-1.5h0m5 5h0m1.5-3.5h0m1 3h0m1.5-3h0m1.5 3h0m2-4.5h0m0 5h0m1-3h0m18 8h0m-11.5 0h0m-4-1.5h0m-1-3h0m-2 4.5h0m-2.5-1.5h0m0 2.5h0m-1-4.5h0m-1 2h0m-3-1.5h0m-3.5 1h0m-14.5-2h0m-6 0h0m0 3.5h0m-2.5-2h0m-2 3.5h0m-1.5-3.5h0m-1 3.5h0m-2-4h0m-2-.5h0m-12 6.5h0m2.5 3.5h0m18-4h0m3.5-1h0m4.5 .5h0m16-.5h0m5.5 0h0m9 1.5h0m6.5-1h0m5 1h0m42.5 8.5h0m-2-1.5h0m-6.5 1h0m-2 2h0m-6.5-5.5h0m-6 2.5h0m-1.5 1.5h0m-1.5-2h0m-3-2h0m-.5 3h0m-2.5 .5h0m-67 2h0m-3-.5h0m-13 5.5h0m15.5-1h0m4 1.5h0m52-2.5h0m2.5-1h0m5.5 1.5h0m.5 2.5h0m.5-4h0m3.5 2h0m3-2h0m1-1.5h0m1 3.5h0m.5-2h0m2 2.5h0m1.5-4h0m6.5 2h0m0 2.5h0m2-2.5h0m0 2.5h0m4-.5h0m2-2.5h0m0 3.5h0m4-3.5h0m1 2h0m4.5 8h0m-1-3h0m-1.5-2.5h0m-5.5 2h0m-1.5 2.5h0m-4.5-3.5h0m-6 0h0m-2.5 4h0m-3-4.5h0m-3 5h0m-2.5-4h0m-.5 2h0m-7-.5h0m-3.5-2h0m-3 3h0m0 1h0m-6-5h0m-6.5 5.5h0m-10-1h0m-21-1.5h0m-6.5 2h0m-2.5-.5h0m-2.5-2.5h0m3.5 7h0m.5-2h0m2 1.5h0m2-1.5h0m.5 4.5h0m5.5-1h0m21-3.5h0m2.5 1h0m2.5 1.5h0m3-1.5h0m0 2h0m2.5 .5h0m.5-4h0m3 2.5h0m1.5-1.5h0m.5 2.5h0m1.5-2.5h0m1.5 2.5h0m1.5-1.5h0m2 0h0m2.5-.5h0m3 0h0m2 2h0m.5-4h0m2 4h0m1.5-4h0m0 5h0m2-2h0m2.5 1h0m.5-3.5h0m1 5h0m3.5-4.5h0m5.5-1h0m1 2.5h0m3.5-2.5h0m2.5 4.5h0m-4 7h0m-1-5.5h0m-1 4h0m-2.5-3h0m-3 4.5h0m-.5-2.5h0m-2-2.5h0m-2 3h0m-3-3.5h0m-.5 2.5h0m0 2h0m-5-1.5h0m-8.5-3h0m-10 1.5h0m-1 2.5h0m-3-2.5h0m-3.5-.5h0m-2.5 1.5h0m-1 2h0m-.5-4.5h0m-14 5h0m-6.5-5h0m0 2h0m2 4h0m4 5.5h0m3-5h0m1.5 1h0m.5 3h0m2-1.5h0m.5-1.5h0m4 3.5h0m5-2.5h0m0 2h0m2 0h0m2.5-.5h0m0 1.5h0m1.5-2.5h0m3.5-.5h0m.5-2.5h0m2.5 5h0m2.5 0h0m.5-3h0m18-.5h0m4.5-.5h0m-37.5 5.5h0m-3.5 1.5h0m-10.5-2h0"/>
<path stroke="#00BAE0" d="M492.5 200.5h0m-4 2.5h0m-2-.5h0m-3-1.5h0m-1.5-2.5h0m-.5 3h0m-4.5-.5h0m4.5 4.5h0m1 4h0m1-2h0m2-1h0m0 3h0m6.5-1h0m1.5-4.5h0m.5 2.5h0m5.5 0h0m-.5 3.5h0m-5.5 1.5h0m-2 1.5h0m-2.5-.5h0m-1-2h0m-1 3h0m-3.5 0h0m-1.5-1.5h0m-1.5 3.5h0m-2-1h0m-.5-3h0m-2.5 .5h0m-2-1.5h0m-2.5 2h0m-2 3.5h0m2.5 3h0m1-2.5h0m2.5 1h0m1-1.5h0m1 4.5h0m2-4h0m1 5h0m2.5-5.5h0m2.5 1h0m5 0h0m202.5 7.5h0m-203-2.5h0m-12.5 5h0m-8-5h0m-2 1.5h0m-2.5 4h0m-3 5.5h0m1.5-3h0m9 2h0m9 1h0m5-1h0m2.5-4h0m202.5 2.5h0m-1.5 6.5h0m-230-2h0m-2.5 2h0m-5.5 7h0m3-2h0m2-2h0m49.5 1h0m175 0h0m6 2.5h0m8-2.5h0m17 8h0m-1-1.5h0m-5-.5h0m-10 0h0m-9 1.5h0m-32.5-1.5h0m-137 2.5h0m-68-2h0m-4 1.5h0m-2.5 1.5h0m-175.5-2.5h0m1.5 6.5h0m170.5 .5h0m1.5-2.5h0m252.5-.5h0m4 4h0m9 1h0m3-1.5h0m1.5-2h0m1.5 4h0m.5-2h0m1-1.5h0m3.5-.5h0m17.5 1.5h0m3-.5h0m-16.5 7h0m-4.5-2.5h0m0 3h0m-1.5-1h0m-2 .5h0m-3 0h0m-3.5-.5h0m-1.5 2.5h0m-1-3.5h0m-3.5-2h0m0 3.5h0m-1.5 1.5h0m-.5-2.5h0m-43.5-1h0m-.5 4h0m-141.5-2.5h0m-242 1h0m-1.5 3.5h0m412 3h0m10.5-2.5h0m6.5-.5h0m7 0h0m3 3.5h0m.5-5h0m2 2h0m4 .5h0m2-1.5h0m0 4h0m2.5-3.5h0m1 1.5h0m.5 2.5h0m8 5.5h0m-4-1.5h0m-4 1.5h0m-1.5-2.5h0m-2.5 2h0m-1-2h0m-2-1h0m-.5 2h0m-1.5 1.5h0m-1-5h0m-4 3.5h0m-5 0h0m-7.5-3.5h0m-6.5 1h0m-23 4h0m-3.5-2.5h0m-398 2h0m-9 6.5h0m422-5h0m4 1.5h0m5 2.5h0m20-3.5h0m4 1.5h0m.5 2h0m1.5 1h0m3-5h0m0 5h0m1.5-4h0m0 3h0m2.5-4h0m0 4h0m.5-2h0m2-1h0m1.5 4.5h0m1.5-5.5h0m.5 3.5h0m2.5 0h0m1 2h0m3-.5h0m-10.5 6h0m-1-5h0m-1 2h0m-3 1.5h0m-2.5-2.5h0m-2 0h0m0 8h0m7 1.5h0m5.5-3h0m-12 9h0m-.5-4h0m-11.5 .5h0m-1.5 5h0m14.5 2h0m3 5h0m-463.5 67.5h0m-4 5h0m-41.5 22.5h0m165 169h0m-.5 2.5h0"/>
<path stroke="#00B0F6" d="M375 119h0m1 5.5h0m2.5-1h0m1.5 2h0m19 5h0m-2.5 0h0m-6.5 0h0m-2.5 .5h0m-7-.5h0m-.5-2.5h0m-2-1.5h0m-1 4.5h0m-.5-2.5h0m-2.5 .5h0m-5 .5h0m-1.5-2.5h0m-29 8h0m.5 2h0m2-1h0m3.5 .5h0m2-2.5h0m1.5 2.5h0m3.5-.5h0m3-.5h0m8 1.5h0m2-3.5h0m1.5 2.5h0m5.5-2.5h0m2 4h0m3.5-3h0m1.5-1.5h0m5-.5h0m.5 4h0m1-3h0m2 3h0m2-.5h0m.5-2h0m3 0h0m-3 5h0m-1 2h0m-3-3h0m-6 4.5h0m-2.5-2h0m-3.5-1h0m-3-1.5h0m-2 3.5h0m-9.5 1h0m-1.5-3.5h0m-1 3h0m-2.5-1.5h0m-2 2h0m-1-3h0m-2 1.5h0m-1-2h0m-2 1h0m0 2h0m-2-3h0m0 3.5h0m-1.5-2h0m-2.5-1h0m0 3.5h0m-3-4h0m-2.5-.5h0m-.5 2.5h0m-2-1h0m0 2.5h0m-3 5h0m1 2h0m3.5-4h0m1.5-1.5h0m.5 2.5h0m2 0h0m.5-2h0m4.5-.5h0m.5 3h0m1.5 1.5h0m1.5-2h0m2.5 1.5h0m2.5-3h0m.5 3.5h0m1-2.5h0m3.5-.5h0m0 2.5h0m2 .5h0m2.5 1h0m1-4h0m3 .5h0m.5-2h0m8 4.5h0m5.5-4.5h0m2.5 1h0m20 4.5h0m10-2.5h0m-43 7h0m-2-3.5h0m-2.5 0h0m-1 2.5h0m-2.5-1h0m-3 1h0m-2-1.5h0m-2 2.5h0m-3-2h0m-2 1.5h0m-4-3h0m0 3h0m-3.5-2.5h0m-1.5 4h0m-2.5-3.5h0m0 3.5h0m-2.5-3.5h0m0 2h0m-2.5-2h0m-1.5 4h0m-1.5-1.5h0m1.5 4.5h0m2-1h0m2-1.5h0m1.5 2h0m0 3.5h0m1.5-4.5h0m0 2.5h0m2-1.5h0m3 2h0m1-2h0m0 3.5h0m2.5-5.5h0m0 4.5h0m3-4h0m.5 2h0m1.5-2.5h0m.5 5h0m6-2.5h0m3-.5h0m-6.5 9.5h0m-3-2h0m-2.5 0h0m-.5-3.5h0m-1 5h0m-2-1h0m-1-2h0m-2.5 2h0m-.5-3.5h0m-2 1.5h0m-1 2.5h0m-3-1h0m-1.5-3.5h0m-1 1.5h0m7.5 7h0m1.5-2h0m1.5 4h0m1-2h0m.5-2h0m1 3.5h0m2.5-2h0m1 3h0m1-3h0m1.5-2h0m2.5 3.5h0m5 7.5h0m-1-3h0m-7.5 1h0m-.5-2h0m-2.5 2.5h0m-.5-3h0m-1 5h0m-2-3.5h0m-1 2h0m-1.5-.5h0m-6.5-3.5h0m4.5 7h0m1 4h0m1.5-2.5h0m2.5 2.5h0m1-3.5h0m1.5 1.5h0m1-3h0m1.5 2h0m1 2h0m1-4h0m0 2h0m3 1.5h0m-5.5 2.5h0m0 4h0m-3-3h0m5 11.5h0m-3.5-.5h0"/>
<path stroke="#35A2FF" d="M526 93h0m-16 7.5h0m2-1h0m5.5 1h0m3.5-1.5h0m.5-1.5h0m2.5 3.5h0m2 .5h0m1-4h0m1 4h0m2.5-3.5h0m0 2h0m3 .5h0m3.5 1h0m7-2h0m54.5 6h0m-2 1h0m-1.5-.5h0m-17 .5h0m-4.5 0h0m-5.5 .5h0m-5.5-1.5h0m-4-.5h0m-3.5 0h0m-1.5 0h0m-4-2h0m-3-.5h0m0 2h0m-2 0h0m-2-2h0m-1 3h0m-2-1h0m-.5-2h0m-1.5 4h0m-3.5-4.5h0m0 3h0m-3-2.5h0m-.5 5h0m-.5-2.5h0m-3 1.5h0m-1-3h0m-2 4h0m-.5-2.5h0m-2-2h0m-1.5 2h0m-1-3h0m-1 4h0m-1.5-2h0m-2 3h0m-2.5-3.5h0m-4 1h0m-1-2h0m-1 2h0m-2 1h0m-2-1h0m-2 1h0m-10.5 7.5h0m2-4h0m3-.5h0m0 2.5h0m2.5-1h0m2 1h0m.5-2.5h0m2.5-.5h0m1 3h0m1.5-3h0m1 2.5h0m1-2.5h0m3 3.5h0m2.5-1.5h0m2.5 0h0m3-.5h0m1.5-1.5h0m1.5 3h0m3.5-1h0m2.5-1.5h0m4 3h0m3-2h0m1.5 1h0m1-2h0m1 4h0m2.5-4h0m.5 3h0m2-3h0m.5 4.5h0m2-5h0m2 3.5h0m2.5-3.5h0m4 0h0m32.5 4h0m2-3h0m6.5-1h0m4.5 1h0m2.5 3h0m4 .5h0m19.5 7h0m-2-1h0m-4.5-1h0m-3-1.5h0m-2.5-2h0m-78 4h0m-2.5-3h0m0 3h0m-36.5-3h0m-.5 4h0m-4-4.5h0m3 8.5h0m38.5 1h0m5 1h0m90.5-3h0m5 1.5h0m2.5 1.5h0m14.5 5h0m-3-1h0m-2.5-1.5h0m-4-.5h0m-107.5-.5h0m-.5 4.5h0m-38-2.5h0m158 3.5h0m3 3h0"/>
<path stroke="#9590FF" d="M828 466h0m-254.5 47.5h0m-2-.5h0m-5-1.5h0m-3.5 4h0m-26.5-4h0m3.5 10h0m1-1.5h0m2-4h0m0 2h0m1 3.5h0m2-1h0m2-3.5h0m2 2h0m5 2h0m1.5-3.5h0m2.5-.5h0m2.5-1h0m3.5 3.5h0m2 .5h0m.5-2.5h0m1.5 2h0m.5-3h0m2 2.5h0m2.5 0h0m1.5-1.5h0m0 3.5h0m2 5h0m-2-1.5h0m-2.5-.5h0m-3.5-1.5h0m-1 3.5h0m-2.5-3.5h0m-1.5 3.5h0m-4.5 1.5h0m-.5-3h0m-.5-2h0m-2.5 3h0m-1-2h0m-2.5 2h0m-4-2.5h0m-4 1.5h0m-6 1.5h0m-1.5-2h0m3 4h0m.5 5h0m.5-2.5h0m1.5 2h0m1.5 .5h0m.5-5h0m1 3h0m2-1h0m6-1.5h0m1 2.5h0m1.5-2.5h0m1 3.5h0m2-3h0m0 2.5h0m2.5-3h0m0 3.5h0m2 1.5h0m3.5-5h0m5 3.5h0m3.5-2.5h0m.5 2h0m1.5 1.5h0m.5-3.5h0m1.5 1.5h0m1-1.5h0m4 0h0m5.5 2h0m2 1.5h0m7 6.5h0m-3-3h0m-14 2.5h0m-1-4.5h0m-1.5 3h0m-2-1.5h0m-1.5 2.5h0m-.5-4.5h0m-2 1.5h0m-3.5 2h0m-4-2h0m-2 2.5h0m-3.5 0h0m-1-2.5h0m-2-1h0m-2 0h0m-1.5 3h0m-3-2.5h0m-3.5 2h0m-8.5 1.5h0m31 3h0m5-.5h0m1.5 2.5h0m1.5-3h0m.5 2h0m1 2h0m1-3h0m2.5-1h0m-5 8.5h0m-5-1h0m-4-2h0"/>
<path stroke="#C77CFF" d="M556.5 397.5h0m-26 10h0m14.5 4h0m-1.5 7.5h0m27 6.5h0m3.5 3.5h0m-2.5 0h0m-6 1h0m-7.5 6h0m5 .5h0m3 1h0m1-2h0m1-3h0m2 2.5h0m1 2.5h0m2.5-3h0m0 3h0m2-1h0m.5-2.5h0m2 2h0m5 4.5h0m-.5-1.5h0m-2 1.5h0m-4-2h0m-3 4h0m-.5-2h0m-1 2.5h0m-2.5-4h0m-1.5 4h0m-.5-2h0m-2-1.5h0m-2 0h0m0 4h0m-.5-2h0m-1.5-.5h0m-2.5 2.5h0m-.5-3.5h0m-3-2h0m-3 .5h0m-.5 4h0m-2-4.5h0m-.5 10.5h0m4.5-2h0m1-1.5h0m1 3h0m1.5-3h0m1.5 4h0m1-3.5h0m1 3.5h0m1.5-4h0m0 2.5h0m4 .5h0m2-1h0m2.5 2.5h0m1-4h0m7.5 3h0m.5-4h0m2 .5h0m0 4.5h0m5-.5h0m-4.5 5h0m-2.5 0h0m-1-3.5h0m-1.5 3h0m-3-2.5h0m-.5 2h0m-4.5-1h0m-.5 2h0m-2-4h0m-.5 5h0m-1-3h0m-1 1.5h0m-4 1.5h0m-.5-4h0m-3-1h0m0 3h0m-3-3h0m6 8h0m4.5 2.5h0m2.5-2.5h0m.5 3h0m2.5-4h0m1 3.5h0m2 0h0m1-4h0m2.5 4h0m1.5-2h0m1.5-2.5h0m-.5 6.5h0m-3 0h0m-3 2h0m-1.5-2h0m-2 2h0m-4.5-2h0"/>
<path stroke="#E76BF3" d="M878 377h0m3.5 2h0m-94.5 105.5h0m2-2h0m-4.5 5h0m-4 4h0m-3 3.5h0m-5 8.5h0m-3.5-.5h0m-23.5 2h0m21.5 2.5h0m3.5 1h0m.5-2.5h0m2-1h0m.5 3.5h0m2.5-4h0m2.5-.5h0m1 4h0m1.5-2.5h0m3-.5h0m.5 2.5h0m1.5-1.5h0m5 0h0m.5 2.5h0m-13.5 3h0m-35.5-1.5h0m-2.5 4h0m-2.5 6.5h0m2-4h0m25 11h0m-28.5-2h0m1 3h0m24.5 4h0m-2.5 2h0m-2 3.5h0m-10-1h0m-5.5 2.5h0m-1.5-4.5h0m-1.5 10.5h0m7 0h0m.5-4h0m1 2.5h0m2.5 0h0m1-3h0m.5 1.5h0m2 1.5h0m0 1.5h0m2-5h0m2 5h0m.5-3.5h0m6 5h0m-8.5 0h0m-1 3.5h0m-2.5-3.5h0m-2 1h0m-2-1.5h0m-.5 2h0m-5.5 1h0m-4.5-3h0m-4.5 2.5h0m-9.5 4h0m2.5-1h0m25 0h0"/>
<path stroke="#FA62DB" d="M745 593.5h0m2-1.5h0m.5-2h0m3.5-1.5h0m.5 4.5h0m1.5-1h0m3 1.5h0m4 2.5h0m-1-1.5h0m-3.5 3.5h0m-2 0h0m-1-3h0m-1 3h0m-2-.5h0m-1.5-3h0m-1 3.5h0m-3-2.5h0m0 3h0m-3.5-2.5h0m-.5 2.5h0m-3.5-.5h0m-1.5-3.5h0m-1.5 5h0m-1-2.5h0m-1.5 2.5h0m-.5-3.5h0m-2 1h0m-3.5-1h0m-.5 2.5h0m-2-2h0m-3 3h0m-.5 2h0m3 .5h0m2-1h0m3 2.5h0m.5-3h0m2 1h0m0 4h0m2-2.5h0m1 2.5h0m.5-4h0m1.5 4h0m.5-4.5h0m.5 2.5h0m2.5 0h0m2 2h0m.5-5h0m2 1.5h0m3 2.5h0m.5-4h0m2 2.5h0m1.5-2.5h0m2.5 3h0m.5-2h0m2-1.5h0m-1 9h0m-3.5-3h0m-6 2.5h0m-1.5 1.5h0m-2.5 1.5h0m-1.5-3h0m-2-2.5h0m0 3h0m-3-.5h0m-2 0h0m0 2.5h0m-4.5-4.5h0m-3-.5h0m14 6h0"/>
<path stroke="#FF62BC" d="M762.5 213.5h0m-24.5 3.5h0m6 2h0m5.5 0h0m1.5-1.5h0m1.5 2.5h0m.5-2.5h0m2 1.5h0m2.5 .5h0m0 2h0m1.5-5h0m1 2.5h0m3 2h0m4.5-.5h0m-4 2.5h0m-1 2.5h0m-2.5-3.5h0m-.5 2h0m-2 2.5h0m-1.5-2.5h0m-1.5 2.5h0m-2 0h0m-1-3h0m-.5 2h0m8.5 6.5h0m6-2.5h0m7.5 6.5h0m-1.5 2h0m-2-1h0m-2 2h0m-.5-2.5h0m-2.5 1h0m-2-3h0m0 2.5h0m.5 3.5h0m2 .5h0m.5 2.5h0m3.5 .5h0m.5-4h0m0 2h0m1 3h0m2 1.5h0m-2.5 1h0m-3.5 3.5h0m-1-4.5h0"/>
<path stroke="#FF6A98" d="M653 276.5h0m9 1h0m1 3.5h0m6.5 1h0m-5 4.5h0m-4-3h0m114.5 10h0m19-1h0m-13.5 1.5h0m-.5 4h0m-4-2h0m0 3.5h0m-2-2.5h0m-3.5-3h0m-1.5 1.5h0m-1 2h0m-1.5-2.5h0m-1.5 1.5h0m-.5 2h0m-1-3.5h0m-8-1h0m11 6.5h0m4.5-.5h0m2 0h0m-345 38.5h0m-20 7h0"/>
</g>
<g font-size="22.5" text-anchor="middle">
<text x="276.5" y="369.6">0</text>
<text x="598.3" y="221.5">1</text>
<text x="462.3" y="476.3">2</text>
<text x="568.7" y="345.8">3</text>
<text x="722.9" y="385.1">4</text>
<text x="479.0" y="598.1">5</text>
<text x="379.0" y="382.2">6</text>
<text x="676.6" y="466.8">7</text>
<text x="427.7" y="212.4">8</text>
<text x="657.6" y="545.1">9</text>
<text x="607.2" y="624.2">10</text>
<text x="682.2" y="263.8">11</text>
<text x="352.6" y="158.8">12</text>
<text x="537.6" y="118.4">13</text>
<text x="569.2" y="536.0">14</text>
<text x="569.2" y="457.8">15</text>
<text x="758.8" y="525.9">16</text>
<text x="742.3" y="609.0">17</text>
<text x="763.8" y="235.8">18</text>
<text x="772.0" y="303.7">19</text>
</g>
<g font-size="24.5">
<circle cx="961" cy="83.3" r="7.8" fill="#F8766D"/><text x="977.2" y="97.4" textLength="213.7" lengthAdjust="spacing">0: T cells (CD3E+)</text>
<circle cx="961" cy="114.2" r="7.8" fill="#EA8331"/><text x="977.2" y="126.5" textLength="340.2" lengthAdjust="spacing">1: Macrophages (CLEC12A<tspan font-size="14.5" font-weight="bold" dy="-8.5">+</tspan><tspan dy="8.5">)</tspan></text>
<circle cx="961" cy="145.2" r="7.8" fill="#D89000"/><text x="977.2" y="158.9" textLength="224.6" lengthAdjust="spacing">2: B cells (CD79A<tspan font-size="14.5" font-weight="bold" dy="-8.5">+</tspan><tspan dy="8.5">)</tspan></text>
<circle cx="961" cy="176.1" r="7.8" fill="#C09B00"/><text x="977.2" y="189.0" textLength="444.9" lengthAdjust="spacing">3: Conventional dendritic cells (FLT3<tspan font-size="14.5" font-weight="bold" dy="-8.5">+</tspan><tspan dy="8.5">)</tspan></text>
<circle cx="961" cy="207.1" r="7.8" fill="#A3A500"/><text x="977.2" y="221.7" textLength="333.4" lengthAdjust="spacing">4: Macrophages (DC-SIGN<tspan font-size="14.5" font-weight="bold" dy="-8.5">+</tspan><tspan dy="8.5">)</tspan></text>
<circle cx="961" cy="238.1" r="7.8" fill="#7CAE00"/><text x="977.2" y="251.1" textLength="293.6" lengthAdjust="spacing">5: Blood vessels (APLN<tspan font-size="14.5" font-weight="bold" dy="-8.5">+</tspan><tspan dy="8.5">)</tspan></text>
<circle cx="961" cy="269.0" r="7.8" fill="#39B600"/><text x="977.2" y="280.1" textLength="205.9" lengthAdjust="spacing">6: T cells (LEF1+)</text>
<circle cx="961" cy="299.9" r="7.8" fill="#00BB4E"/><text x="977.2" y="314.3" textLength="296.0" lengthAdjust="spacing">7: Macrophages (Marco<tspan font-size="14.5" font-weight="bold" dy="-8.5">+</tspan><tspan dy="8.5">)</tspan></text>
<circle cx="961" cy="330.9" r="7.8" fill="#00BF7D"/><text x="977.2" y="342.7" textLength="209.3" lengthAdjust="spacing">8: B cells (MZB1<tspan font-size="14.5" font-weight="bold" dy="-8.5">+</tspan><tspan dy="8.5">)</tspan></text>
<circle cx="961" cy="361.9" r="7.8" fill="#00C1A3"/><text x="977.2" y="372.9" textLength="326.6" lengthAdjust="spacing">9: Alveolar Type 2 (SFTA2<tspan font-size="14.5" font-weight="bold" dy="-8.5">+</tspan><tspan dy="8.5">)</tspan></text>
<circle cx="961" cy="392.8" r="7.8" fill="#00BFC4"/><text x="979.5" y="405.3" textLength="275.0" lengthAdjust="spacing">10: Blood vessels (IL6<tspan font-size="14.5" font-weight="bold" dy="-8.5">+</tspan><tspan dy="8.5">)</tspan></text>
<circle cx="961" cy="423.8" r="7.8" fill="#00BAE0"/><text x="979.5" y="435.2" textLength="269.9" lengthAdjust="spacing">11: Monocytes (CD14<tspan font-size="14.5" font-weight="bold" dy="-8.5">+</tspan><tspan dy="8.5">)</tspan></text>
<circle cx="961" cy="454.7" r="7.8" fill="#00B0F6"/><text x="979.5" y="468.1" textLength="388.2" lengthAdjust="spacing">12: Proliferating T cells (CCNB1<tspan font-size="14.5" font-weight="bold" dy="-8.5">+</tspan><tspan dy="8.5">)</tspan></text>
<circle cx="961" cy="485.6" r="7.8" fill="#35A2FF"/><text x="979.5" y="497.4" textLength="439.9" lengthAdjust="spacing">13: Proliferating Monocytes (CCNB1<tspan font-size="14.5" font-weight="bold" dy="-8.5">+</tspan><tspan dy="8.5">)</tspan></text>
<circle cx="961" cy="516.6" r="7.8" fill="#9590FF"/><text x="979.5" y="526.4" textLength="295.4" lengthAdjust="spacing">14: Lymphatics (CCL21+)</text>
<circle cx="961" cy="547.5" r="7.8" fill="#C77CFF"/><text x="979.5" y="560.1" textLength="303.9" lengthAdjust="spacing">15: Plasmacytoid dendritic</text>
<circle cx="961" cy="578.5" r="7.8" fill="#E76BF3"/><text x="979.5" y="589.0" textLength="154.3" lengthAdjust="spacing">16: Club cells</text>
<circle cx="961" cy="609.4" r="7.8" fill="#FA62DB"/><text x="979.5" y="622.1" textLength="167.9" lengthAdjust="spacing">17: Fibroblasts</text>
<circle cx="961" cy="640.4" r="7.8" fill="#FF62BC"/><text x="979.5" y="651.2" textLength="296.4" lengthAdjust="spacing">18: Monocytes (S100A8<tspan font-size="14.5" font-weight="bold" dy="-8.5">+</tspan><tspan dy="8.5">)</tspan></text>
<circle cx="961" cy="671.3" r="7.8" fill="#FF6A98"/><text x="979.5" y="681.3" textLength="296.4" lengthAdjust="spacing">19: Monocytes (S100A8<tspan font-size="14.5" font-weight="bold" dy="-8.5">+</tspan><tspan dy="8.5">)</tspan></text>
</g>
<g>
<rect x="181.0" y="809.8" width="362.0" height="323.2" fill="#fff" stroke="#555" stroke-width="1.2"/>
<path transform="translate(.5 .5)" fill="none" stroke="#c0c0c0" stroke-width="1.9" stroke-linecap="square" d="M377 827h0m-2 0h0m-4-1h0m-1 1h0m-1 0h0m-1-3h0m0 2h0m-1 1h0m-1-1h0m-1-1h0m-1 1h0m0 1h0m-2-4h0m0 3h0m-1-1h0m-1-2h0m0 3h0m-1-1h0m-1-2h0m0 3h0m-1 1h0m-1-2h0m0 2h0m-3-1h0m-2 1h0m-1 0h0m-1 0h0m-27-5h0m21 9h0m1-2h0m0 3h0m1-3h0m1 4h0m1-3h0m2-1h0m1 0h0m1 0h0m1 2h0m3-3h0m1 0h0m0 1h0m1 2h0m2-2h0m1-1h0m0 1h0m2-1h0m1 2h0m0 3h0m1-3h0m1-2h0m0 3h0m2 0h0m2-2h0m1 2h0m1-2h0m9-1h0m4 0h0m5 1h0m3-1h0m0 1h0m2 0h0m1 2h0m2 0h0m4 1h0m15 7h0m-2 0h0m-3-1h0m-3-2h0m-2-1h0m-3-1h0m-39 0h0m-1 0h0m0 3h0m0 2h0m-18-4h0m-54 2h0m0 2h0m-1-1h0m-1-3h0m-3 4h0m-16 6h0m2-2h0m0 2h0m1-1h0m3 1h0m2-1h0m2 0h0m3 0h0m1-2h0m1 2h0m1-4h0m1 5h0m1 0h0m4-4h0m1 3h0m1-1h0m2-2h0m0 3h0m0 1h0m1-2h0m12 0h0m1-1h0m53-1h0m54-1h0m1 1h0m3 2h0m2 7h0m-117 0h0m-14-1h0m-1-2h0m0 1h0m-3-2h0m0 5h0m-2-4h0m-2 1h0m0 1h0m-1 0h0m-1 2h0m-1-5h0m-1 1h0m0 2h0m-1-3h0m0 3h0m-1-2h0m0 3h0m-1-3h0m0 3h0m-1-4h0m0 1h0m-2 0h0m0 1h0m0 2h0m-1-2h0m-1 2h0m-1-4h0m0 4h0m-1-3h0m0 1h0m0 1h0m-1-3h0m-1 4h0m-1 4h0m1 2h0m1-4h0m2 0h0m0 2h0m0 1h0m3 2h0m1-2h0m0 2h0m2-1h0m4 0h0m1-4h0m0 4h0m1-3h0m1-1h0m23 3h0m4 0h0m2 0h0m0 2h0m1-1h0m4 1h0m1-5h0m0 2h0m2 0h0m66 3h0m7 0h0m2 0h0m8 0h0m4-1h0m11 1h0m16 3h0m-3 0h0m0 3h0m-1-3h0m-1 0h0m-1 2h0m-1-2h0m-4 0h0m-3-1h0m0 1h0m0 1h0m0 2h0m-3-2h0m-4 2h0m-2-5h0m0 3h0m-1 1h0m0 1h0m-1-1h0m-1 0h0m-2-1h0m0 1h0m-1 1h0m-1-5h0m0 4h0m-1-2h0m0 2h0m-1-4h0m-1 4h0m-1-3h0m-1 2h0m0 1h0m-1-1h0m-3 0h0m-2-2h0m0 2h0m-1-2h0m-1-1h0m0 3h0m0 2h0m-1-5h0m0 1h0m0 3h0m-1 0h0m0 1h0m-1-1h0m-2 0h0m0 1h0m-1-3h0m-2 2h0m0 1h0m-1-4h0m-1 4h0m-1-2h0m0 1h0m-1 0h0m0 1h0m-3 0h0m-1-5h0m0 4h0m-1-1h0m-1-1h0m0 2h0m-2-4h0m-1 4h0m-1-2h0m0 1h0m0 2h0m-1-2h0m0 2h0m-3 0h0m-42-3h0m-1 1h0m0 2h0m-1-2h0m0 1h0m-1-3h0m0 2h0m0 2h0m-1-1h0m-1-3h0m0 3h0m0 1h0m-1-5h0m0 5h0m-1-4h0m-1 1h0m0 1h0m0 2h0m-1-3h0m-1-2h0m-1 2h0m0 1h0m-5-1h0m-30 1h0m-1 1h0m-1-4h0m0 3h0m0 1h0m-1-1h0m0 2h0m-1-4h0m0 3h0m0 1h0m-1-5h0m0 3h0m-1-2h0m0 1h0m-2 0h0m-1-2h0m0 1h0m1 5h0m2 4h0m1-2h0m0 3h0m1-2h0m1 0h0m0 1h0m1-3h0m0 1h0m0 3h0m1-5h0m0 2h0m1 1h0m0 2h0m3-4h0m22 4h0m4 0h0m1-4h0m0 2h0m3-1h0m2 1h0m0 2h0m3-4h0m0 3h0m1-1h0m1-2h0m0 2h0m1-3h0m1 2h0m0 1h0m1-3h0m30 4h0m6 1h0m2-2h0m2 1h0m1-3h0m0 1h0m0 3h0m1-2h0m1 1h0m1 1h0m1-1h0m1 1h0m1-5h0m0 3h0m0 1h0m2-3h0m0 1h0m0 3h0m1 0h0m1-2h0m1-2h0m0 3h0m0 1h0m1-4h0m0 3h0m0 1h0m1-5h0m1 0h0m0 3h0m1-1h0m1-1h0m1 4h0m1-2h0m0 1h0m0 1h0m1-4h0m0 2h0m0 1h0m1-4h0m0 3h0m0 2h0m1-4h0m0 4h0m1-5h0m0 2h0m0 3h0m1-4h0m0 2h0m1-1h0m1 0h0m0 1h0m1-3h0m0 2h0m0 2h0m1 0h0m1 0h0m1-4h0m0 3h0m1-2h0m1 0h0m0 2h0m1-2h0m0 2h0m0 1h0m0 1h0m1-1h0m0 1h0m1-4h0m0 4h0m2-4h0m0 3h0m1 0h0m1-3h0m0 2h0m2 0h0m0 2h0m1-2h0m1-2h0m0 2h0m1-2h0m0 1h0m0 2h0m2 0h0m1-1h0m1-2h0m1-1h0m1 3h0m0 1h0m0 1h0m1-4h0m0 1h0m0 3h0m3 0h0m7-2h0m2 0h0m2 1h0m1-3h0m3 4h0m1-1h0m1-3h0m3 1h0m1 3h0m1-4h0m1 4h0m1-5h0m0 2h0m0 2h0m3-1h0m0 7h0m-4-3h0m-1 3h0m-3 1h0m-4-5h0m-1 5h0m-2-4h0m-1-1h0m-1 3h0m-4 1h0m-1 1h0m-2-2h0m-1-1h0m-1-2h0m0 4h0m-1-1h0m-1 2h0m-1-3h0m-1-1h0m0 2h0m-1-2h0m0 1h0m0 3h0m-1-3h0m0 2h0m-1-2h0m-1-2h0m0 4h0m0 1h0m-2-5h0m0 3h0m-1-3h0m-1 0h0m0 3h0m0 1h0m-1-3h0m0 1h0m0 2h0m-1-4h0m-1 5h0m-1-5h0m0 1h0m0 1h0m0 2h0m-2-4h0m-1 1h0m0 1h0m-2 2h0m0 1h0m-1-5h0m0 2h0m0 1h0m-1 1h0m-1-4h0m0 4h0m-1-3h0m0 4h0m-1-5h0m0 3h0m0 1h0m-1-3h0m0 4h0m-1-2h0m-1-2h0m0 4h0m-1-3h0m0 2h0m-1-3h0m0 3h0m-1-4h0m0 1h0m0 4h0m-1-4h0m0 4h0m-1-2h0m0 2h0m-1-1h0m-2-3h0m0 3h0m0 1h0m-1-5h0m0 3h0m0 2h0m-1-3h0m0 3h0m-2-4h0m0 4h0m-1-4h0m0 4h0m-2-3h0m0 3h0m-1-5h0m0 1h0m0 3h0m-1 1h0m-1-5h0m0 1h0m0 4h0m-1-2h0m-1-2h0m0 2h0m-1-3h0m0 3h0m-1-2h0m0 1h0m-1 1h0m0 1h0m0 1h0m-3-1h0m-1-3h0m0 2h0m0 2h0m-1-1h0m-1-2h0m-1 3h0m-2-3h0m-2 2h0m-2-3h0m-3 2h0m-27-2h0m0 2h0m-1 2h0m-2-5h0m0 3h0m-3 1h0m-1-4h0m-2 1h0m0 4h0m-1-3h0m-1-2h0m-2 1h0m0 4h0m-2-3h0m0 2h0m-1-4h0m0 3h0m-1-3h0m-1 2h0m-1 1h0m-1-2h0m-3 0h0m-23-1h0m-4 5h0m-2-1h0m-4-4h0m6 6h0m1 3h0m1-2h0m1 1h0m1 2h0m1-3h0m0 1h0m26 1h0m1-3h0m0 2h0m2 2h0m1-3h0m4 3h0m1-3h0m2-1h0m0 2h0m0 2h0m2-3h0m0 1h0m0 3h0m1-1h0m1-3h0m4 0h0m18 1h0m0 1h0m2 1h0m10 0h0m1-2h0m1-2h0m1 1h0m1 1h0m1 0h0m0 2h0m1-1h0m2-1h0m0 2h0m1-2h0m1 1h0m0 1h0m1-4h0m0 1h0m0 3h0m1-3h0m1 1h0m0 1h0m2-3h0m0 1h0m0 4h0m1 0h0m1-5h0m0 3h0m0 1h0m2-3h0m0 3h0m0 1h0m1-5h0m0 2h0m0 2h0m1-4h0m0 1h0m0 1h0m1 1h0m1-1h0m0 1h0m1-3h0m2 3h0m1 1h0m1-4h0m0 1h0m0 4h0m1-3h0m0 1h0m0 1h0m1 1h0m2-1h0m1 0h0m1-4h0m0 2h0m0 1h0m1 0h0m1-2h0m0 1h0m0 3h0m1-4h0m0 2h0m0 2h0m1-3h0m0 2h0m1 0h0m0 1h0m1-4h0m1 1h0m0 1h0m0 2h0m1-3h0m1-2h0m0 4h0m3 1h0m1 0h0m1-3h0m1-1h0m1-1h0m0 4h0m1-1h0m0 2h0m1-4h0m0 3h0m2-1h0m1 1h0m1-4h0m0 2h0m0 3h0m2-3h0m0 3h0m1-4h0m0 2h0m2-3h0m0 2h0m0 3h0m2-2h0m0 1h0m1-2h0m0 1h0m0 2h0m1-5h0m2 2h0m0 3h0m4-1h0m1-2h0m1-2h0m0 4h0m2 0h0m1-1h0m2-1h0m5 3h0m2-5h0m0 1h0m1 0h0m2 1h0m30 9h0m-15-1h0m-4-1h0m-14 0h0m-1-1h0m-5 0h0m-4 0h0m-1-1h0m-2 0h0m-1 1h0m0 2h0m-3 0h0m-1-3h0m0 2h0m-1-3h0m-1 1h0m0 2h0m-1 2h0m-1-4h0m-1 0h0m-1 4h0m-1-5h0m0 4h0m-1-4h0m0 3h0m-1 0h0m0 1h0m-1 0h0m-1 0h0m-1-3h0m0 2h0m-2 1h0m-1-3h0m0 2h0m0 1h0m-1 0h0m-1-4h0m0 2h0m0 2h0m-1 0h0m0 1h0m-1-3h0m-2 3h0m-1-2h0m-1-3h0m-1 2h0m0 1h0m-1 2h0m-1-2h0m0 1h0m-1-2h0m0 2h0m0 1h0m-1-2h0m-1-3h0m0 3h0m-1-3h0m0 1h0m0 3h0m-2-2h0m0 2h0m-1-3h0m0 3h0m-1-4h0m-1 5h0m-1-1h0m-1-4h0m-1 0h0m0 1h0m0 1h0m0 1h0m-1-2h0m-1 3h0m-1-2h0m-1 0h0m0 2h0m-1-4h0m0 5h0m-1-4h0m0 2h0m-1 2h0m-1-4h0m0 3h0m-1-4h0m0 4h0m0 1h0m-1-2h0m0 1h0m-1-3h0m-1-1h0m-3 0h0m0 3h0m0 2h0m-1-3h0m0 1h0m-1-3h0m0 5h0m-1-4h0m0 1h0m0 2h0m-1-4h0m0 1h0m0 2h0m-1-2h0m0 4h0m-1-1h0m-1 1h0m-1-4h0m0 3h0m-2 1h0m-2-5h0m0 4h0m-1 0h0m-1-2h0m-3-2h0m-3 0h0m-3 2h0m0 2h0m-1-2h0m0 3h0m-1-4h0m-2 3h0m-1 1h0m-1-2h0m-1 2h0m-1-2h0m-13-3h0m-5 3h0m-1-3h0m-1 0h0m0 4h0m-1-2h0m0 3h0m-1-3h0m0 2h0m-3-2h0m0 2h0m0 1h0m-29-1h0m-3-4h0m0 1h0m0 2h0m0 1h0m-1-3h0m0 2h0m-1-3h0m-1 4h0m4 2h0m0 5h0m1-1h0m1-2h0m0 1h0m0 2h0m1-2h0m1-1h0m24-2h0m1 4h0m1-2h0m1 0h0m1 0h0m0 2h0m0 1h0m1-5h0m0 5h0m1-3h0m0 2h0m2-4h0m2 3h0m6 2h0m9 0h0m1-2h0m5-2h0m6-1h0m0 2h0m6-2h0m1 2h0m0 1h0m2-2h0m1-1h0m0 4h0m3-4h0m0 3h0m2 1h0m1-4h0m1 0h0m0 1h0m0 4h0m1-5h0m0 2h0m1-1h0m0 4h0m1-2h0m0 2h0m1-5h0m0 4h0m1 0h0m1-4h0m0 3h0m0 1h0m1-3h0m0 2h0m0 2h0m1-2h0m1-2h0m0 3h0m0 1h0m1-2h0m0 2h0m1-4h0m0 2h0m1-3h0m0 2h0m0 3h0m2-5h0m0 1h0m0 4h0m1-5h0m0 1h0m2 4h0m1-5h0m0 4h0m0 1h0m1 0h0m1-5h0m0 4h0m1 0h0m1-4h0m0 1h0m0 2h0m0 1h0m1-4h0m0 2h0m0 3h0m1-2h0m1-3h0m0 1h0m0 1h0m0 1h0m0 1h0m1 0h0m0 1h0m2-3h0m0 2h0m1-2h0m0 1h0m0 2h0m1 0h0m1-4h0m0 2h0m1-2h0m1 2h0m0 2h0m1-4h0m1-1h0m0 1h0m1 1h0m0 2h0m1-4h0m1 3h0m0 1h0m1-4h0m1 1h0m0 2h0m1-1h0m1-2h0m0 1h0m0 2h0m0 2h0m1 0h0m1-4h0m0 1h0m0 3h0m1-5h0m1 3h0m1 2h0m1-4h0m0 3h0m1-3h0m0 1h0m0 1h0m0 2h0m1-1h0m1-4h0m0 3h0m2-3h0m4 1h0m2 2h0m2 0h0m1 1h0m1 1h0m2-3h0m0 1h0m0 1h0m4-1h0m2 0h0m1-1h0m1-2h0m5 3h0m21-3h0m6 1h0m0 3h0m1-1h0m0 2h0m1-5h0m0 1h0m0 4h0m2-4h0m0 1h0m1 0h0m1 1h0m5 7h0m-2 0h0m-1 0h0m0 1h0m-1 0h0m-35-1h0m-6 0h0m-1 0h0m-6 1h0m-2 0h0m-2-3h0m0 1h0m0 1h0m-1-1h0m-1-1h0m-1-1h0m-1 2h0m-1 1h0m-2 1h0m-1-2h0m-1-2h0m0 1h0m-3-1h0m-2 0h0m0 1h0m0 2h0m-1-2h0m0 1h0m-1-3h0m0 1h0m0 3h0m-1-1h0m0 2h0m-1-4h0m-1-1h0m0 1h0m-1 3h0m-1-3h0m-1 2h0m0 2h0m-1-4h0m0 2h0m-1-3h0m0 4h0m-1-2h0m0 3h0m-1-5h0m0 1h0m0 2h0m0 1h0m0 1h0m-1-3h0m0 3h0m-1-3h0m-1 2h0m-1-2h0m-1-2h0m0 2h0m-1-1h0m0 1h0m-2 2h0m-1-3h0m0 1h0m-1-2h0m0 3h0m0 2h0m-1-4h0m0 3h0m-2-3h0m0 2h0m-1-2h0m-1 2h0m0 1h0m-1-3h0m0 1h0m-1 2h0m0 1h0m-1-4h0m0 1h0m0 1h0m0 2h0m-1-5h0m0 1h0m0 4h0m-1-5h0m0 2h0m-3-2h0m0 4h0m0 1h0m-1 0h0m-1-4h0m-2 4h0m-1-3h0m0 3h0m-1-5h0m-1 1h0m0 1h0m-1 3h0m-1-4h0m0 1h0m0 2h0m0 1h0m-1-1h0m0 1h0m-1-1h0m-1-4h0m-1 1h0m-1 3h0m-2-3h0m0 3h0m-1-4h0m-12 0h0m-1 2h0m-2 0h0m-4 0h0m-6 1h0m-1 1h0m-5-2h0m-9-2h0m-2 1h0m-1 1h0m0 2h0m-2 0h0m-20-1h0m-3-1h0m-1 1h0m0 2h0m-1-1h0m-1-3h0m-1 2h0m-1-3h0m0 1h0m0 1h0m0 2h0m-1-4h0m-41 10h0m46-2h0m2-2h0m0 2h0m0 3h0m1-5h0m0 3h0m0 2h0m2-4h0m0 4h0m18-4h0m2 0h0m14 3h0m1-2h0m1-1h0m29 4h0m1 0h0m1-1h0m2-4h0m0 2h0m1-2h0m0 2h0m2 0h0m0 1h0m1-3h0m0 2h0m0 2h0m1-2h0m0 3h0m1-4h0m0 2h0m2-2h0m1 1h0m0 1h0m1-2h0m1 0h0m0 1h0m0 3h0m1-3h0m0 3h0m2 0h0m1-2h0m0 2h0m1-4h0m1 3h0m1-2h0m2 2h0m1-2h0m0 1h0m0 1h0m0 1h0m2-3h0m0 2h0m0 1h0m1-4h0m0 1h0m1 0h0m0 1h0m1 0h0m0 1h0m1-3h0m1 3h0m1-3h0m0 3h0m0 1h0m1-4h0m0 1h0m0 2h0m1 0h0m0 1h0m1-5h0m0 2h0m1-2h0m0 2h0m0 2h0m1-3h0m0 3h0m1-3h0m0 1h0m2-2h0m0 2h0m0 3h0m1-2h0m0 2h0m1-5h0m0 1h0m1-1h0m0 3h0m0 2h0m1 0h0m1-5h0m0 1h0m1 4h0m1-3h0m1 3h0m1-5h0m0 5h0m1-5h0m0 1h0m0 3h0m0 1h0m1 0h0m1-5h0m0 3h0m2-2h0m0 2h0m0 1h0m0 1h0m1-1h0m3 1h0m2-4h0m1 3h0m1-2h0m1 0h0m1 2h0m1-1h0m1-1h0m0 1h0m2-2h0m0 2h0m1-2h0m1 2h0m10 1h0m11 1h0m23-5h0m2 0h0m0 2h0m0 1h0m2-2h0m0 1h0m2 1h0m-3 3h0m-5 0h0m-10 2h0m-2 1h0m-6-2h0m-1 3h0m-1-3h0m0 4h0m-2-3h0m-4 3h0m-3-5h0m-13 3h0m-2-1h0m-2 3h0m-3-4h0m-1 4h0m-1-5h0m-1 1h0m0 3h0m-1-4h0m0 5h0m-1-4h0m-1 1h0m-1 1h0m-1 0h0m-1-2h0m0 3h0m-2 0h0m-2-1h0m-1-3h0m-1 0h0m0 1h0m0 3h0m-1-4h0m0 1h0m0 2h0m-1-2h0m0 1h0m0 1h0m-1-2h0m0 1h0m-1-1h0m-1-1h0m0 2h0m-2-2h0m0 1h0m0 1h0m-1 2h0m-1-3h0m0 3h0m-1-3h0m-1 1h0m-1-2h0m0 1h0m0 2h0m-1-3h0m0 2h0m-1 1h0m-1-1h0m-1-1h0m-1 0h0m-1 0h0m0 3h0m-1 0h0m0 1h0m-1-4h0m0 2h0m-1-1h0m-1-2h0m-2 1h0m0 2h0m-1-3h0m0 2h0m-11 0h0m-2-2h0m-48 4h0m-7-3h0m-19 3h0m-1 0h0m-1-3h0m-2 0h0m0 2h0m-48 5h0m1-2h0m2 4h0m4 1h0m2-2h0m0 2h0m2-1h0m1-1h0m1-2h0m2 4h0m1-1h0m6 1h0m1-2h0m1 0h0m4 0h0m4-2h0m1 4h0m1-1h0m2 1h0m3-1h0m11-1h0m1-3h0m0 5h0m1-3h0m0 2h0m1-3h0m0 2h0m2 1h0m1-2h0m18 1h0m5-1h0m62 0h0m4-1h0m1-1h0m10 0h0m1 1h0m1-1h0m5 0h0m2 1h0m1-1h0m0 2h0m3-1h0m6 0h0m1 0h0m20 4h0m2-3h0m1 2h0m2-4h0m0 2h0m3 0h0m3 0h0m0 2h0m1 1h0m1-3h0m0 3h0m1-4h0m0 2h0m1-1h0m1 2h0m3 3h0m0 3h0m-1-4h0m0 3h0m-1-2h0m0 2h0m-1-1h0m0 2h0m-1-4h0m0 3h0m0 2h0m-1-4h0m-1 0h0m0 1h0m0 2h0m-1 1h0m-1-4h0m0 3h0m0 1h0m-1-3h0m-2 0h0m-17 3h0m-3-1h0m-5-4h0m-66 1h0m-7 2h0m-4-2h0m-5 0h0m-1 2h0m-16 0h0m-3-1h0m-25 1h0m-2-3h0m0 5h0m-1-5h0m-1 2h0m-2 2h0m-2-3h0m-2 0h0m0 2h0m-1-2h0m-1 1h0m-1 1h0m-1 2h0m-1-4h0m0 3h0m-1-2h0m0 3h0m-1-4h0m-1 1h0m-2 1h0m0 2h0m-1-3h0m-2 0h0m-1-1h0m0 2h0m0 1h0m0 1h0m-1-4h0m-2 4h0m-2-2h0m-1-1h0m-1 1h0m-2 0h0m-1-3h0m-1 0h0m0 2h0m0 2h0m-1-3h0m0 2h0m-2-1h0m-1 3h0m-1-5h0m-1 2h0m-1-1h0m0 4h0m-1-3h0m-1 3h0m-1-2h0m-1 2h0m-5-5h0m-2 5h0m-1 0h0m-3-1h0m-2 0h0m-2-1h0m-4 2h0m-22 6h0m8-3h0m4 0h0m0 3h0m1-1h0m3-1h0m1 2h0m1-4h0m1-1h0m0 3h0m1-1h0m2 3h0m1 0h0m1-5h0m0 5h0m2-2h0m1-2h0m1-1h0m0 5h0m1-3h0m2 2h0m2-4h0m2 1h0m0 3h0m3-2h0m1-1h0m0 2h0m0 1h0m1-4h0m2 2h0m0 2h0m2-2h0m1-2h0m0 2h0m1 1h0m1-2h0m0 1h0m0 2h0m1-1h0m0 2h0m1-3h0m0 1h0m1-3h0m0 3h0m1-1h0m1 1h0m0 1h0m2-4h0m0 4h0m1-4h0m0 3h0m1 1h0m0 1h0m1-4h0m0 2h0m1-2h0m0 1h0m0 3h0m3-2h0m2 0h0m0 2h0m1-5h0m0 5h0m1-4h0m2-1h0m0 4h0m1 0h0m1-2h0m0 1h0m1-2h0m0 4h0m1-3h0m1 2h0m1 0h0m1-4h0m1 4h0m1-2h0m0 1h0m0 1h0m1-4h0m1 5h0m2-4h0m1-1h0m1 5h0m3-5h0m3 1h0m1 1h0m1-1h0m0 1h0m3 3h0m1-5h0m0 3h0m21-2h0m29-1h0m1 1h0m4-1h0m2 4h0m1 0h0m22 1h0m44-5h0m2 1h0m22 2h0m0 2h0m2-5h0m1 0h0m1 1h0m17 4h0m7 0h0m4 0h0m5-1h0m-5 3h0m-2-1h0m-1 2h0m-1 0h0m-2-2h0m0 1h0m0 2h0m-25 0h0m-1-2h0m-6 1h0m-2 3h0m-43-3h0m0 3h0m-1 0h0m-3 0h0m-1-3h0m-4 1h0m0 2h0m-1-2h0m-2 0h0m0 1h0m-1-1h0m-1 1h0m-1-1h0m-3-2h0m0 3h0m0 1h0m-2 0h0m-1-2h0m0 1h0m-1-2h0m-2 1h0m0 2h0m-2-1h0m-47 0h0m-2-4h0m-22 4h0m-1-3h0m-2 0h0m-2 3h0m-1-4h0m-1 3h0m-1-1h0m-1 1h0m-1-2h0m-1 1h0m-1-1h0m0 1h0m0 1h0m-1 1h0m-2-2h0m-1-2h0m0 2h0m0 3h0m-1-4h0m-1 2h0m0 2h0m-2-5h0m-1 3h0m0 2h0m-1-2h0m0 1h0m0 1h0m-1-3h0m0 3h0m-1-5h0m0 2h0m0 2h0m-1-3h0m0 2h0m0 1h0m-1-1h0m-1-3h0m-1 1h0m0 1h0m-1-2h0m-2 5h0m-1-2h0m0 2h0m-1-2h0m-1-2h0m-1 2h0m-2-1h0m0 3h0m-1-2h0m-2-3h0m0 2h0m0 2h0m-1-2h0m-1 1h0m-1-1h0m0 3h0m-5-3h0m0 3h0m-1-2h0m-1-2h0m0 2h0m-1-3h0m0 4h0m-2-1h0m0 1h0m-1-2h0m0 1h0m-1-2h0m-1 2h0m-1-3h0m0 5h0m-1-5h0m0 4h0m-2 1h0m-1-4h0m0 1h0m0 2h0m0 1h0m-1-5h0m0 4h0m-1-3h0m-1-1h0m0 3h0m-1-3h0m0 1h0m0 3h0m-1-3h0m-1 2h0m-1-1h0m0 1h0m0 1h0m-1-4h0m-1 4h0m-1-2h0m-1-1h0m0 1h0m-2-1h0m0 2h0m-1-2h0m0 3h0m-2 1h0m-1 0h0m-1-2h0m-1-2h0m-1-1h0m0 3h0m-1 0h0m0 1h0m0 1h0m-1-4h0m-2 0h0m-1-1h0m0 2h0m0 3h0m-2-5h0m-1 2h0m-1 3h0m-2-1h0m-1-3h0m0 4h0m-2 0h0m-1-2h0m-1-2h0m-1 2h0m-1 2h0m0 6h0m1-4h0m1 3h0m1-4h0m0 2h0m2 3h0m3-5h0m0 5h0m1-5h0m0 5h0m1-3h0m1-2h0m0 1h0m1 2h0m1-1h0m0 2h0m2-4h0m1 1h0m0 1h0m0 2h0m0 1h0m1-3h0m0 2h0m2-2h0m2 3h0m2-3h0m0 1h0m0 1h0m1-2h0m0 2h0m1-2h0m0 2h0m2-3h0m0 2h0m1-1h0m0 3h0m1-1h0m0 1h0m1-3h0m1 2h0m1-4h0m0 5h0m4-2h0m0 2h0m1-5h0m0 1h0m1 3h0m2-3h0m0 3h0m0 1h0m2-3h0m0 1h0m0 2h0m1-4h0m0 1h0m0 2h0m1-1h0m1-2h0m1 1h0m0 2h0m1-2h0m0 2h0m1-1h0m1-3h0m3 1h0m0 3h0m0 1h0m1 0h0m1-4h0m0 2h0m0 1h0m0 1h0m1-5h0m0 3h0m0 1h0m1-2h0m0 2h0m1-2h0m0 2h0m2-1h0m1-3h0m1 1h0m1-1h0m0 4h0m1 1h0m1-1h0m0 1h0m1-4h0m0 4h0m2-2h0m0 1h0m0 1h0m3-5h0m0 2h0m0 3h0m3-2h0m0 2h0m1-4h0m1-1h0m0 5h0m1-3h0m1 0h0m1-2h0m4 1h0m0 3h0m2-2h0m0 1h0m0 1h0m1 0h0m0 1h0m1-4h0m0 1h0m0 3h0m1-3h0m1 3h0m1-3h0m1-2h0m0 2h0m0 2h0m1 0h0m2-4h0m0 4h0m0 1h0m2-1h0m1-3h0m2-1h0m0 2h0m1 1h0m2-2h0m0 1h0m0 2h0m4-4h0m0 4h0m18-1h0m37 1h0m3 1h0m1-4h0m1 3h0m1-3h0m0 2h0m0 2h0m1-1h0m1-1h0m0 2h0m1 0h0m1-3h0m2-1h0m1 1h0m2 1h0m0 1h0m3-3h0m0 2h0m1-1h0m0 3h0m1-5h0m2 0h0m2 2h0m0 1h0m1-3h0m0 2h0m0 2h0m1-3h0m0 4h0m1-2h0m0 2h0m2-5h0m0 2h0m0 1h0m1 1h0m1-1h0m1 2h0m1-2h0m1 1h0m0 1h0m4-2h0m1 0h0m0 2h0m1-2h0m0 1h0m2 0h0m0 1h0m4-1h0m0 1h0m28-4h0m2 1h0m4-2h0m-2 7h0m-18 0h0m-7 4h0m-2-1h0m-7-3h0m0 4h0m-1-1h0m-1 1h0m-1-2h0m-1-3h0m-1 4h0m-1 0h0m-4-3h0m0 2h0m-1 0h0m-4 0h0m0 1h0m-1-2h0m-2-1h0m-3 0h0m-1 0h0m0 4h0m-1-1h0m-1 0h0m-1-3h0m0 1h0m0 3h0m-1-3h0m0 2h0m-2 1h0m-2-2h0m0 1h0m0 1h0m-1 0h0m-1-5h0m-1 0h0m-1 2h0m0 2h0m-1-3h0m0 2h0m0 2h0m-1 0h0m-1-4h0m0 1h0m-1 3h0m-1-3h0m-3-2h0m0 2h0m0 3h0m-2-5h0m0 4h0m-3 1h0m-1-5h0m-17 2h0m-2 1h0m-6 2h0m-7 0h0m-22-4h0m-2 2h0m0 2h0m-1-4h0m-1-1h0m-1 1h0m0 3h0m-1-4h0m-1 1h0m0 3h0m-1-3h0m0 3h0m-1-1h0m0 2h0m-1-2h0m0 2h0m-1-4h0m0 1h0m-1-2h0m-1 0h0m0 4h0m-1-4h0m0 3h0m-1 0h0m-1-2h0m0 3h0m-1 0h0m0 1h0m-1-5h0m0 3h0m0 1h0m-1-3h0m-2 0h0m0 2h0m-1-3h0m0 1h0m0 1h0m0 1h0m0 2h0m-1-3h0m-1-2h0m0 4h0m-1-2h0m-1-2h0m0 1h0m0 3h0m-3-3h0m0 1h0m0 1h0m-1-3h0m0 5h0m-1-4h0m0 2h0m-1-2h0m0 2h0m-1 2h0m-1-2h0m0 2h0m-1-3h0m-2 2h0m-1-4h0m0 2h0m0 1h0m0 1h0m-1 1h0m-1-3h0m-1-2h0m0 3h0m0 1h0m-1-4h0m0 4h0m-1-3h0m0 4h0m-1-3h0m0 2h0m-1-4h0m0 5h0m-1-3h0m-1 1h0m0 1h0m-1-4h0m-1 2h0m0 2h0m0 1h0m-2-1h0m-2-4h0m-1 0h0m-1 2h0m0 1h0m0 2h0m-1-5h0m0 1h0m-1 0h0m-1 4h0m-2-5h0m0 3h0m-1-2h0m0 2h0m-1-3h0m0 4h0m-1 1h0m-1-2h0m0 1h0m-1 0h0m-2-1h0m-1-2h0m0 1h0m-1 2h0m-1-1h0m-1-2h0m-1 0h0m0 1h0m-1 0h0m-1 1h0m-1-3h0m0 1h0m-2-1h0m-1 3h0m-1-2h0m0 3h0m-1 0h0m-1-4h0m-1 1h0m-1 1h0m-1 2h0m-2-3h0m0 3h0m-1-3h0m0 1h0m0 2h0m-1-2h0m0 1h0m-3 0h0m0 2h0m-1 0h0m-1-4h0m-1 2h0m0 1h0m-1-2h0m0 3h0m-1-5h0m0 3h0m-1-2h0m-1 1h0m-1 1h0m-1-3h0m0 1h0m0 3h0m-1-4h0m0 5h0m-1-2h0m-3-3h0m0 3h0m-2 3h0m1 3h0m0 2h0m1-3h0m2 3h0m2-4h0m0 3h0m1-4h0m0 4h0m1-3h0m0 1h0m1-2h0m0 4h0m1-2h0m3-1h0m4 3h0m1-2h0m0 1h0m1-1h0m1-1h0m0 4h0m1-4h0m0 4h0m1-1h0m1-3h0m0 1h0m1 3h0m1-5h0m0 5h0m1-1h0m0 1h0m2-3h0m0 2h0m3-2h0m0 3h0m1 0h0m1-4h0m0 3h0m1-2h0m0 1h0m0 2h0m1-1h0m2-3h0m2-1h0m0 5h0m1-5h0m0 2h0m1 1h0m0 2h0m2-5h0m0 4h0m1-3h0m0 1h0m1 0h0m1 1h0m1 0h0m1 2h0m2-5h0m0 4h0m1-4h0m0 2h0m1 2h0m1-3h0m0 2h0m1-1h0m1-1h0m1 3h0m1-4h0m1 1h0m0 2h0m1-1h0m1 3h0m4-5h0m0 1h0m0 4h0m1-5h0m4 5h0m1-2h0m1-2h0m1 1h0m0 3h0m1-5h0m0 2h0m0 1h0m1-3h0m0 4h0m1-4h0m0 1h0m0 2h0m0 2h0m1-3h0m0 2h0m1-1h0m1 2h0m1-3h0m1-2h0m0 4h0m1-2h0m0 1h0m0 2h0m1-3h0m0 3h0m2-3h0m0 2h0m0 1h0m1-4h0m2 2h0m0 1h0m1-4h0m0 2h0m1-2h0m1 0h0m0 1h0m1-1h0m0 1h0m0 1h0m1 3h0m1-3h0m1 3h0m2-4h0m1-1h0m1 0h0m0 2h0m0 3h0m1-5h0m0 2h0m0 2h0m1-3h0m1 0h0m1 3h0m1-1h0m0 1h0m1 1h0m1 0h0m16-4h0m5-1h0m3 3h0m1-2h0m1-1h0m0 5h0m3-5h0m7 5h0m6-5h0m1 0h0m2 2h0m3-1h0m10 0h0m1 2h0m1-3h0m0 2h0m0 3h0m1-3h0m2 1h0m3 0h0m1-2h0m0 3h0m1-4h0m0 1h0m1 1h0m0 3h0m1-1h0m1-1h0m1-3h0m0 4h0m1 1h0m1-4h0m0 3h0m1 0h0m1-3h0m0 2h0m0 1h0m0 1h0m2-5h0m1 2h0m1 2h0m0 1h0m1-2h0m1-1h0m2 0h0m0 2h0m2-3h0m0 2h0m0 2h0m1-5h0m0 2h0m0 2h0m1 1h0m1-4h0m0 2h0m1-3h0m0 2h0m0 1h0m0 1h0m2-4h0m0 1h0m2 0h0m1-1h0m3 1h0m0 2h0m1-3h0m1 0h0m0 2h0m0 1h0m0 1h0m1-4h0m0 4h0m1-2h0m0 1h0m0 1h0m2-3h0m0 3h0m1-4h0m0 2h0m1 2h0m1-3h0m0 2h0m1-3h0m3 3h0m27-1h0m2 2h0m1 0h0m2-1h0m1 2h0m8-2h0m4 2h0m10 0h0m15 4h0m-7 1h0m-2 0h0m-1-1h0m0 2h0m-2 0h0m-2-2h0m-2-2h0m0 3h0m-2-2h0m-4-2h0m-2 5h0m-1-3h0m-1 0h0m-1 2h0m0 1h0m-1-2h0m0 2h0m-1-3h0m0 3h0m-1-1h0m-2 0h0m-1 0h0m-2-2h0m0 1h0m-1-2h0m0 2h0m-1 1h0m-1-1h0m-1-1h0m-2-2h0m0 1h0m-4-1h0m-1 0h0m0 5h0m-1-5h0m0 3h0m-1-3h0m-1 5h0m-1-5h0m-1 2h0m0 1h0m-1 2h0m-1-3h0m-4-1h0m-1 2h0m-3 0h0m-7 0h0m-1 1h0m-1 0h0m-1 0h0m-4-3h0m-2 0h0m0 4h0m-2-3h0m0 2h0m-2-1h0m0 1h0m-1-1h0m-1-1h0m-1-1h0m0 1h0m0 3h0m-1-5h0m0 2h0m-2-1h0m0 2h0m-1 2h0m-1-5h0m-1 0h0m0 4h0m-2-2h0m-3-1h0m0 2h0m0 2h0m-2 0h0m-1-5h0m-1 0h0m-2 4h0m-1 1h0m-2-5h0m0 1h0m-3 0h0m0 3h0m-1-1h0m-1-3h0m-2 4h0m-1-4h0m-1 2h0m-4 2h0m-1-4h0m0 1h0m0 3h0m-1-3h0m-1 4h0m-1-2h0m-9 0h0m-2-1h0m-6-2h0m-4 0h0m-40 1h0m0 2h0m-2 0h0m-1-3h0m-2 5h0m-2-2h0m-2 1h0m-2-2h0m-1 0h0m0 1h0m-2 0h0m0 2h0m-1 0h0m-1-5h0m0 2h0m0 2h0m-1-1h0m-1-2h0m-1 0h0m0 2h0m-1 0h0m-1 0h0m-1-1h0m-1 2h0m-1-3h0m0 2h0m-1 2h0m-1-2h0m-1-3h0m-1 0h0m-1 3h0m-1-1h0m0 3h0m-1-5h0m0 2h0m-1 0h0m0 2h0m0 1h0m-1-3h0m0 2h0m-1-4h0m0 2h0m-1-2h0m0 3h0m0 1h0m-1-3h0m-1 2h0m0 1h0m0 1h0m-1-5h0m0 2h0m-1 2h0m-2-3h0m-3 0h0m-1-1h0m-1 4h0m-1 1h0m-1-5h0m0 4h0m-1-3h0m-1-1h0m0 3h0m-2 2h0m-1-2h0m0 2h0m-1-2h0m-1-3h0m0 5h0m-3-1h0m-1-3h0m-1 1h0m0 3h0m-1-5h0m0 3h0m-1-1h0m-1-1h0m-1-1h0m0 5h0m-1-3h0m0 2h0m-1-3h0m-1 0h0m0 2h0m-2-3h0m0 4h0m0 1h0m-1 0h0m-1-3h0m-1 0h0m-1-2h0m-1 2h0m0 2h0m0 1h0m-2-4h0m0 3h0m0 1h0m-1-5h0m0 1h0m-2 0h0m0 3h0m-1-4h0m-1 4h0m-1 1h0m-3-2h0m-3-2h0m0 3h0m0 1h0m-3-5h0m-1 2h0m-1-1h0m0 3h0m-1-4h0m0 2h0m-1 0h0m0 2h0m-1-4h0m0 3h0m-1-1h0m-1-2h0m0 4h0m-1-4h0m0 5h0m-1-4h0m0 4h0m-2 0h0m-3-5h0m-2 1h0m2 7h0m1-2h0m1 4h0m1 0h0m0 1h0m1-3h0m2 1h0m1-2h0m0 1h0m1 3h0m1-4h0m0 2h0m1-1h0m1-1h0m0 1h0m0 3h0m1-5h0m0 5h0m3-5h0m1 2h0m0 1h0m1-2h0m0 3h0m1-2h0m2 1h0m1-3h0m1 0h0m1 2h0m2 1h0m1-1h0m1 1h0m1-3h0m0 3h0m1 0h0m1-2h0m0 1h0m0 3h0m2-3h0m0 3h0m1-5h0m2 2h0m0 1h0m1-3h0m0 5h0m4-4h0m0 1h0m0 3h0m1-4h0m1-1h0m1 3h0m1 2h0m2-5h0m0 1h0m0 2h0m2 0h0m1-3h0m0 3h0m1-1h0m0 2h0m1-3h0m1-1h0m0 4h0m1-1h0m1-1h0m1-1h0m0 1h0m0 3h0m1-4h0m1 1h0m1-1h0m0 3h0m1 1h0m1-2h0m1-2h0m0 1h0m0 3h0m1-5h0m0 2h0m0 3h0m1-4h0m0 3h0m2-3h0m0 4h0m1-5h0m1 1h0m0 3h0m1-3h0m0 1h0m0 2h0m0 1h0m1-3h0m0 2h0m1-1h0m1-1h0m0 3h0m1-5h0m1 1h0m0 3h0m3 1h0m1-3h0m0 2h0m1-4h0m0 5h0m1 0h0m1-2h0m1-2h0m1-1h0m0 4h0m2-4h0m0 1h0m0 2h0m0 2h0m4-5h0m0 2h0m0 1h0m0 2h0m1-4h0m0 2h0m0 1h0m1 0h0m0 1h0m1-3h0m1-2h0m0 4h0m1-4h0m1 2h0m1 2h0m3-1h0m2-1h0m0 1h0m0 2h0m1-4h0m0 2h0m2-3h0m0 5h0m2-5h0m27 0h0m36 2h0m0 1h0m1-3h0m2 1h0m1 2h0m4 2h0m1 0h0m2-2h0m1 0h0m1 0h0m0 2h0m1-5h0m0 1h0m2-1h0m0 1h0m0 4h0m1-5h0m3 4h0m0 1h0m1-4h0m0 2h0m1 0h0m0 2h0m1-5h0m2 1h0m1 1h0m1-2h0m1 5h0m1-1h0m3-2h0m1 3h0m1-4h0m2-1h0m0 3h0m1-2h0m1 0h0m0 4h0m1 0h0m2-5h0m1 2h0m1-2h0m0 3h0m9-3h0m1 2h0m1-2h0m2 3h0m0 1h0m1-3h0m2 3h0m1-2h0m0 1h0m0 2h0m2-5h0m1 1h0m1 1h0m0 2h0m0 1h0m1 0h0m1-5h0m0 1h0m0 1h0m1-1h0m1 4h0m4-4h0m2 4h0m2-2h0m1 0h0m3-3h0m0 3h0m0 2h0m1-2h0m1 2h0m2-5h0m0 2h0m2 0h0m1-2h0m0 2h0m1 2h0m1-2h0m1 2h0m1-2h0m1 0h0m3 2h0m2 0h0m2 1h0m2-2h0m1 1h0m1-4h0m0 3h0m1 2h0m2-2h0m3-1h0m0 1h0m1-2h0m0 2h0m1-3h0m1 5h0m2 0h0m1-5h0m1 3h0m1-3h0m0 1h0m0 4h0m1-2h0m0 2h0m1-1h0m3-3h0m1 0h0m1 1h0m2 2h0m2 1h0m1 4h0m-2-3h0m0 2h0m-2 1h0m-1-3h0m-1 1h0m0 3h0m-1-2h0m-1-1h0m-1 1h0m-2 2h0m-1-1h0m-1-2h0m0 3h0m-2-4h0m0 3h0m-4 0h0m-2-1h0m0 2h0m-1-2h0m0 2h0m-1-1h0m-1 2h0m-3-2h0m0 2h0m-1-4h0m0 4h0m-7-5h0m-1 2h0m0 1h0m-1-3h0m0 2h0m-4 3h0m-1-3h0m-1-2h0m-1 0h0m0 5h0m-1-4h0m0 3h0m-3-4h0m-1 0h0m0 2h0m-1-1h0m0 1h0m0 3h0m-1-3h0m-1-2h0m-3 1h0m0 1h0m-1-1h0m0 4h0m-2-3h0m-1 0h0m0 3h0m-2-4h0m0 1h0m0 2h0m-3-4h0m0 1h0m-3-1h0m-1 1h0m0 1h0m-1 0h0m-1-2h0m0 3h0m0 2h0m-1-5h0m0 1h0m-1-1h0m0 2h0m-2-2h0m-8 4h0m-4-4h0m-4 0h0m0 2h0m0 1h0m0 2h0m-2-5h0m0 1h0m-1 1h0m-1-2h0m0 3h0m-2-2h0m0 3h0m-2-2h0m0 2h0m-1-3h0m-1-1h0m-2 2h0m0 3h0m-1-2h0m0 1h0m-1-4h0m-1 0h0m-1 4h0m-1-1h0m0 2h0m-1 0h0m-1-3h0m-1 3h0m-1-4h0m0 2h0m-1 0h0m0 2h0m-1-4h0m-2-1h0m0 3h0m-1-1h0m-1 0h0m0 3h0m-2-3h0m-1 0h0m0 3h0m-1-4h0m-1 4h0m-1-2h0m-2-2h0m-1 0h0m0 1h0m0 3h0m-1-5h0m-1 4h0m-2-4h0m0 1h0m0 2h0m-1-2h0m0 4h0m-1-5h0m0 1h0m-1 2h0m0 2h0m-17 0h0m-3-3h0m-1 1h0m-1 1h0m-1-1h0m-1 2h0m-8-4h0m-4 1h0m-20 2h0m-1 1h0m-2-4h0m-1-1h0m0 5h0m-1 0h0m-1-4h0m0 1h0m0 2h0m-1-3h0m-1 3h0m0 1h0m-1-4h0m0 2h0m0 1h0m-2 1h0m-1-5h0m0 2h0m-1 3h0m-1-2h0m-3-3h0m-1 1h0m-1 0h0m-1 0h0m0 3h0m-1-4h0m0 2h0m0 2h0m-3-4h0m0 2h0m-1-1h0m-1 1h0m-1-1h0m-1-1h0m-2 3h0m-1-2h0m0 2h0m0 1h0m-1-4h0m0 2h0m-2 2h0m-1 0h0m0 1h0m-2-4h0m-1 4h0m-1-4h0m0 1h0m0 1h0m0 2h0m-2-3h0m-2 1h0m-2-1h0m-1 2h0m0 1h0m-1-4h0m0 2h0m-1 1h0m0 1h0m-1-3h0m-2-2h0m-1 1h0m0 3h0m-1-1h0m0 1h0m-2-4h0m0 1h0m-1-1h0m0 5h0m-1-2h0m0 1h0m-1-4h0m0 3h0m-2 0h0m-1-3h0m0 2h0m0 3h0m-1-3h0m0 1h0m-1-3h0m0 2h0m-1-1h0m0 3h0m-1-3h0m0 2h0m-1 2h0m-1-4h0m0 2h0m0 1h0m0 1h0m-2 0h0m-2-1h0m-1-3h0m0 4h0m-2-4h0m0 2h0m0 1h0m-1-2h0m-2 3h0m-2-3h0m-1-2h0m0 5h0m-1-4h0m0 3h0m-1-2h0m-1-1h0m0 3h0m0 1h0m-1 0h0m-2-4h0m0 2h0m0 2h0m-2-4h0m0 3h0m0 1h0m-1-3h0m0 3h0m-1-4h0m-1 2h0m0 2h0m-1-5h0m0 4h0m-1-2h0m-1 1h0m-1 2h0m-1 0h0m-1-4h0m0 4h0m-1-2h0m0 2h0m-1-1h0m-2-3h0m0 2h0m-1 0h0m0 2h0m-1-4h0m0 2h0m-1-3h0m0 4h0m-1-1h0m-1-3h0m3 8h0m1-1h0m2-1h0m0 2h0m2 1h0m1 2h0m1-4h0m1 3h0m1-4h0m0 2h0m1 1h0m0 2h0m2-4h0m0 2h0m1-3h0m0 1h0m0 3h0m1-2h0m2 1h0m1-3h0m2 0h0m0 5h0m1-4h0m3 0h0m0 2h0m0 1h0m1-1h0m0 2h0m1 0h0m1-5h0m0 4h0m1-3h0m0 1h0m1 3h0m1-1h0m1-3h0m2-1h0m0 5h0m1-5h0m0 5h0m2-5h0m1 4h0m2-2h0m0 1h0m1-3h0m1 3h0m0 2h0m2-5h0m0 1h0m0 4h0m1-4h0m0 1h0m2 2h0m0 1h0m3-3h0m0 3h0m1-5h0m1 3h0m1-3h0m0 3h0m1-1h0m1 3h0m1-1h0m1-4h0m0 5h0m1-4h0m0 4h0m1-4h0m1 1h0m0 3h0m3-5h0m1 1h0m0 1h0m0 1h0m0 2h0m2-2h0m0 1h0m1-2h0m1 0h0m0 2h0m1-4h0m0 3h0m0 2h0m1-4h0m0 3h0m1-2h0m1 2h0m2-4h0m1 1h0m0 4h0m1-5h0m0 3h0m0 2h0m1-4h0m1 2h0m1 0h0m1-3h0m1 0h0m0 2h0m1-1h0m0 4h0m1-5h0m0 5h0m2-2h0m1-3h0m0 5h0m1-2h0m1 0h0m1 1h0m1-2h0m2-1h0m0 2h0m1 1h0m2 0h0m1-3h0m1 2h0m1 1h0m2 0h0m1-4h0m1 0h0m0 3h0m0 2h0m1-3h0m0 2h0m3-1h0m0 2h0m25-2h0m2 0h0m1-2h0m1 2h0m1-3h0m0 2h0m0 1h0m2-3h0m0 3h0m0 1h0m1 0h0m1-1h0m1 0h0m1 1h0m1-1h0m1 0h0m0 2h0m1-3h0m1 0h0m0 1h0m2 1h0m16-4h0m1 1h0m1 0h0m1 0h0m1 0h0m1 4h0m1-3h0m1 2h0m1-3h0m1 3h0m1-2h0m1 1h0m0 2h0m2-4h0m0 1h0m2 3h0m1 0h0m2-4h0m1 3h0m1-2h0m1 1h0m3 0h0m1-3h0m2 2h0m1 2h0m1-3h0m0 3h0m1-3h0m1 3h0m2-4h0m0 4h0m3-3h0m0 2h0m2-1h0m1-1h0m2-1h0m1 1h0m22-1h0m2 2h0m2 1h0m1-3h0m0 3h0m1-2h0m0 1h0m1 3h0m1-5h0m1 4h0m1-3h0m0 2h0m6-2h0m0 1h0m1 3h0m4-5h0m2 0h0m1 2h0m1-1h0m0 3h0m1 1h0m1 0h0m2-3h0m1 0h0m0 3h0m2 0h0m1-5h0m1 3h0m1 1h0m1-4h0m1 0h0m1 4h0m1-1h0m2 0h0m1 0h0m2 1h0m0 1h0m1-3h0m0 2h0m1-3h0m1 0h0m0 4h0m1-4h0m0 3h0m2-3h0m1 1h0m2 1h0m0 2h0m1 0h0m1-4h0m1-1h0m1 0h0m0 2h0m0 2h0m2 0h0m43-1h0m-43 4h0m-1-1h0m0 1h0m-2 4h0m-3-4h0m-1 4h0m-2-5h0m-2 1h0m0 2h0m-1 1h0m-1-1h0m0 2h0m-1-5h0m-2 3h0m-1-3h0m0 5h0m-1-1h0m-2-1h0m-1 0h0m-1 0h0m-3-1h0m-2 2h0m-1 0h0m0 1h0m-1 0h0m-1-3h0m0 1h0m-2 1h0m-1-2h0m-1 0h0m-3-2h0m0 3h0m-1-1h0m-2 0h0m-3-2h0m-1 0h0m0 1h0m0 4h0m-1-4h0m0 1h0m-1-1h0m0 2h0m0 2h0m-1-3h0m0 1h0m-6-1h0m-1-2h0m0 4h0m-2-2h0m-40-2h0m-1 2h0m-1-2h0m-3 1h0m-7 0h0m-4 1h0m-4-2h0m-1 0h0m0 2h0m-19 0h0m-1 2h0m-2-3h0m-1 1h0m-1-2h0m0 1h0m-2 0h0m-1 3h0m-1-1h0m-1-2h0m-2-1h0m0 2h0m-2 1h0m0 1h0m-2 0h0m-1 0h0m-9-3h0m-20-1h0m-2 2h0m-3 2h0m-1-1h0m-2-1h0m-2 1h0m0 2h0m-6-3h0m-1 0h0m-1 2h0m-3-2h0m0 2h0m-1-4h0m0 2h0m-3 2h0m-1-4h0m-1 3h0m-1 2h0m-1-2h0m-1 1h0m0 1h0m-2-5h0m-1 1h0m0 4h0m-1-2h0m-1 0h0m0 2h0m-1 0h0m-1-3h0m-1-2h0m-1 2h0m-1-2h0m0 2h0m-1-2h0m-1 5h0m-1-1h0m-1-1h0m-1 1h0m-3-1h0m0 2h0m-1-4h0m-1 1h0m0 2h0m-1-3h0m0 2h0m-1-2h0m-1 2h0m-1-1h0m0 2h0m-1 1h0m-1-5h0m0 2h0m0 1h0m-1-2h0m-1 3h0m-3-1h0m-1-1h0m-1-1h0m0 1h0m0 1h0m-1 1h0m-1-3h0m0 3h0m0 1h0m-1-3h0m-1-1h0m0 2h0m-1 2h0m-1-4h0m0 3h0m-1-4h0m-2 0h0m0 4h0m0 1h0m-1 0h0m-1-3h0m0 1h0m-1-3h0m-1 3h0m-1-2h0m0 1h0m0 2h0m-2-2h0m0 1h0m-1 2h0m-1-2h0m-1-2h0m0 2h0m-2-3h0m0 3h0m0 2h0m-1-2h0m-1-3h0m-1 1h0m0 4h0m-2-4h0m-1 4h0m-1-5h0m0 4h0m-1 0h0m-1 0h0m-1-3h0m0 1h0m-1-2h0m0 3h0m0 1h0m-2 1h0m-1-1h0m-1 0h0m-2 0h0m0 1h0m-1-5h0m0 4h0m-2-3h0m3 6h0m2 0h0m0 1h0m2-1h0m0 2h0m0 2h0m2 0h0m1-3h0m1 0h0m1-1h0m0 2h0m0 1h0m0 1h0m1-2h0m0 2h0m1-3h0m0 2h0m1-3h0m0 4h0m1-4h0m0 3h0m1-4h0m0 2h0m1 0h0m1-2h0m0 4h0m1 0h0m1-4h0m0 1h0m1 4h0m1-5h0m0 3h0m0 2h0m1-3h0m0 1h0m1 2h0m1-2h0m1-2h0m1-1h0m0 3h0m1-2h0m0 2h0m1-1h0m0 3h0m1-4h0m1 2h0m1-1h0m0 2h0m1-4h0m0 3h0m0 1h0m1-1h0m0 2h0m1-3h0m0 3h0m1-5h0m0 3h0m0 1h0m1-2h0m0 3h0m1-4h0m1-1h0m1 1h0m1-1h0m0 2h0m1-1h0m1 0h0m0 2h0m1-2h0m0 2h0m1-2h0m0 1h0m1 2h0m2 0h0m2 1h0m2-5h0m0 2h0m0 2h0m1-4h0m1 2h0m0 2h0m2-4h0m0 1h0m0 1h0m0 2h0m1-1h0m2-1h0m1-2h0m1 3h0m1-2h0m0 2h0m1 0h0m1-3h0m1 1h0m0 3h0m1-2h0m2 3h0m1-4h0m0 2h0m1 2h0m3-3h0m0 1h0m2-2h0m0 2h0m1-3h0m1 0h0m0 2h0m0 1h0m0 2h0m4-3h0m0 1h0m0 2h0m1-5h0m0 5h0m2-5h0m0 3h0m0 2h0m1-5h0m0 2h0m0 1h0m1 0h0m1 2h0m1-1h0m1-2h0m1 0h0m3-2h0m3 0h0m1 3h0m2-2h0m0 1h0m2 3h0m1-2h0m3 0h0m1-1h0m24 0h0m0 3h0m1-5h0m0 1h0m1-1h0m1 3h0m1 0h0m1-3h0m0 4h0m2-1h0m1 0h0m1 0h0m1 1h0m2 0h0m0 1h0m2-4h0m0 2h0m1-3h0m0 4h0m0 1h0m5-5h0m13 4h0m6-1h0m2-1h0m1 1h0m2 0h0m4 1h0m1 1h0m1-1h0m2 1h0m1 0h0m2 0h0m49-4h0m1 3h0m3-3h0m0 2h0m1 0h0m0 2h0m2-2h0m2-2h0m0 3h0m1-2h0m1-2h0m0 2h0m0 2h0m1 1h0m1-4h0m0 2h0m1-3h0m2 1h0m2-1h0m0 3h0m2-3h0m0 2h0m4 1h0m2 1h0m2-4h0m0 3h0m0 1h0m1-4h0m0 2h0m0 2h0m1 0h0m1-4h0m1 0h0m0 5h0m2-3h0m0 1h0m1-2h0m0 4h0m1-4h0m2 3h0m0 1h0m1-5h0m1 3h0m1 0h0m1-1h0m1-2h0m0 3h0m1 2h0m1-5h0m29 0h0m-36 6h0m-2 1h0m-1 0h0m0 1h0m-1-1h0m-2 3h0m-1-4h0m-2 0h0m-3 0h0m0 1h0m-3-1h0m-1 4h0m-3-4h0m-1 2h0m-1-2h0m-1 0h0m-2 0h0m-1 0h0m0 1h0m0 2h0m-1-1h0m-3-1h0m0 1h0m-1 2h0m-1-4h0m-5 0h0m0 2h0m0 3h0m-1-5h0m0 1h0m0 1h0m-1-1h0m-1 0h0m-1 3h0m-26 1h0m-1 0h0m-1-1h0m0 1h0m-1-4h0m-1 3h0m-1 0h0m-1 0h0m-1 0h0m-3-1h0m-1-3h0m0 4h0m0 1h0m-1-4h0m0 2h0m0 2h0m-1-5h0m0 3h0m-2 0h0m0 2h0m-1-5h0m-27 0h0m-9 5h0m-1-1h0m-1-3h0m-1 0h0m0 3h0m-2-3h0m0 1h0m0 1h0m-5-3h0m-4 0h0m0 5h0m-1-5h0m0 5h0m-3 0h0m-4-4h0m0 4h0m-1-3h0m0 3h0m-1-2h0m-1-1h0m0 3h0m-8-3h0m-13 0h0m-1 0h0m-1 0h0m-1 0h0m-2 1h0m-1-3h0m-2 1h0m-2 1h0m-1 3h0m-1 0h0m-1-4h0m0 2h0m-1 1h0m-1-1h0m0 2h0m-1-5h0m0 3h0m-1-1h0m-3-2h0m-2 0h0m0 5h0m-5-2h0m-1-2h0m0 3h0m-1-1h0m-2-1h0m-1 0h0m-1 0h0m0 2h0m-1-1h0m-2 0h0m-1-3h0m0 3h0m0 2h0m-1-5h0m0 2h0m-2-2h0m0 2h0m-1-2h0m0 3h0m0 1h0m-2-3h0m0 3h0m-1-3h0m0 2h0m-1-1h0m-2 0h0m0 3h0m-1-5h0m0 4h0m-1 0h0m-1-2h0m-1-1h0m-2 2h0m-1-3h0m0 2h0m0 3h0m-1-5h0m0 4h0m-2-3h0m0 3h0m-1 0h0m0 1h0m-1-5h0m0 5h0m-1-1h0m-1-2h0m0 1h0m-1-1h0m-1 2h0m-1-2h0m-1-1h0m0 2h0m-2 2h0m-1-3h0m0 1h0m0 2h0m-1-5h0m0 1h0m0 2h0m-1-2h0m-1-1h0m0 4h0m0 1h0m-1-3h0m-1 1h0m-2-3h0m0 1h0m-1 1h0m0 2h0m-1-4h0m0 1h0m0 4h0m-1-3h0m-1 3h0m-2-3h0m-1-2h0m0 4h0m-1-2h0m0 1h0m-2-2h0m0 2h0m0 2h0m-2-4h0m0 3h0m0 1h0m-1-3h0m-1 0h0m0 3h0m-1-1h0m-2-4h0m0 2h0m-2 2h0m0 1h0m-1-1h0m0 1h0m-1-5h0m0 1h0m0 1h0m-1 2h0m-1 1h0m-2 0h0m-1-5h0m0 3h0m-1 2h0m-1-5h0m-2 0h0m6 7h0m0 3h0m2-1h0m1 0h0m1 1h0m1-3h0m1 3h0m3-1h0m0 2h0m1-2h0m0 2h0m1-4h0m0 4h0m1-2h0m1-3h0m0 4h0m2-2h0m1 0h0m0 2h0m1-4h0m0 1h0m0 2h0m1-3h0m0 1h0m0 2h0m1 0h0m1-3h0m0 3h0m0 2h0m2-3h0m1-1h0m0 3h0m1-4h0m0 3h0m1 0h0m0 1h0m3 0h0m1-2h0m0 2h0m1-3h0m1 0h0m0 3h0m3-3h0m1 1h0m1-1h0m0 2h0m0 2h0m1-3h0m0 1h0m1-2h0m1 2h0m1 2h0m1-3h0m0 3h0m1-5h0m1 2h0m0 1h0m0 1h0m1-4h0m0 5h0m1-5h0m0 5h0m1-2h0m0 1h0m1 1h0m1-5h0m1 1h0m1 0h0m1 3h0m1-1h0m2 0h0m1-1h0m1-2h0m0 3h0m1-2h0m0 3h0m2-3h0m1-1h0m0 3h0m1 1h0m1-2h0m0 1h0m1-3h0m2 2h0m2 0h0m0 2h0m1 1h0m1 0h0m3-2h0m3-3h0m0 3h0m1 0h0m1-1h0m1 0h0m0 1h0m1 1h0m1-2h0m0 3h0m1-5h0m0 1h0m0 2h0m0 1h0m0 1h0m2-3h0m0 1h0m0 2h0m1-3h0m0 1h0m0 1h0m1-1h0m1-1h0m0 1h0m0 1h0m0 1h0m1-5h0m0 4h0m1-1h0m1-1h0m0 2h0m1-3h0m0 2h0m1-3h0m0 3h0m1 1h0m1-4h0m0 3h0m1-1h0m0 2h0m0 1h0m1-2h0m1 2h0m15-4h0m7 1h0m2 2h0m1-3h0m1-1h0m0 2h0m3-2h0m0 1h0m0 2h0m0 1h0m1-2h0m1 1h0m1-2h0m0 1h0m0 2h0m1-3h0m0 4h0m1-4h0m1 2h0m1-3h0m0 2h0m2-1h0m0 2h0m1 1h0m3-1h0m0 1h0m1 1h0m1-3h0m0 1h0m0 2h0m1-3h0m0 3h0m2-5h0m0 4h0m2-1h0m1 1h0m3 1h0m24-1h0m8-4h0m0 1h0m1 0h0m2 0h0m2-1h0m1 2h0m0 1h0m0 2h0m1-5h0m1 0h0m0 5h0m1-5h0m0 2h0m3-1h0m1 1h0m0 1h0m0 1h0m1-4h0m0 5h0m1-1h0m4 1h0m1 0h0m25-5h0m1 0h0m7 1h0m-33 8h0m0 2h0m-1-5h0m-1 0h0m0 3h0m-1-2h0m0 2h0m0 2h0m-1-2h0m-2-3h0m0 5h0m-1-4h0m0 2h0m0 1h0m-1-4h0m-1 1h0m0 1h0m0 3h0m-2-4h0m-14 4h0m-2-1h0m-1-4h0m-2 3h0m0 1h0m-1 1h0m-1-1h0m-2 0h0m-4 1h0m-12-2h0m-5-1h0m-1 3h0m-2-3h0m-1 2h0m0 1h0m-1-3h0m-1 1h0m-1 2h0m-1-3h0m-1-2h0m0 5h0m-1 0h0m-1-5h0m0 4h0m-1-4h0m0 5h0m-1-2h0m-2-2h0m-1-1h0m-1 5h0m-1-3h0m-2-1h0m0 4h0m-3-2h0m-2-1h0m-1-1h0m0 4h0m-1-1h0m-1-2h0m0 3h0m-2-2h0m0 2h0m-8-2h0m-10-2h0m-1 1h0m-2 3h0m-2-4h0m0 2h0m-1-3h0m0 1h0m0 1h0m0 2h0m-1-4h0m0 1h0m0 2h0m0 2h0m-2-4h0m0 1h0m0 1h0m0 1h0m-1-2h0m0 1h0m-1-3h0m0 2h0m-2-1h0m-1 0h0m0 3h0m-1 0h0m-1 0h0m0 1h0m-1-3h0m0 1h0m0 1h0m-1-2h0m-1-1h0m0 1h0m-2-2h0m0 1h0m-1 1h0m0 2h0m0 1h0m-5-4h0m0 3h0m-1-3h0m-1 2h0m0 2h0m-2-4h0m-1 0h0m0 3h0m-2-1h0m-1 1h0m-1-1h0m-1 0h0m-1-1h0m-1 0h0m0 1h0m-1-3h0m0 3h0m-1-1h0m-1 1h0m-1-1h0m0 3h0m-1-1h0m0 1h0m-1-4h0m0 2h0m-2-2h0m0 4h0m-2-4h0m0 2h0m0 1h0m0 1h0m-2-4h0m0 1h0m0 1h0m0 2h0m-1-3h0m-1-1h0m-1-1h0m-2 1h0m0 1h0m-1 1h0m-2 0h0m0 2h0m-3-5h0m-1 0h0m0 3h0m-1-2h0m-1 1h0m0 2h0m-1-4h0m0 3h0m-1-2h0m0 4h0m-1-5h0m-1 0h0m0 1h0m0 2h0m0 2h0m-1 0h0m-2-3h0m0 2h0m-1-4h0m0 2h0m-1-2h0m0 2h0m-1-1h0m-1 4h0m-1-5h0m-1 5h0m-1-2h0m-1-3h0m-1 1h0m0 1h0m-1 1h0m0 2h0m-1-2h0m-1-1h0m0 3h0m-3-4h0m0 4h0m-1-4h0m0 1h0m-1 0h0m-1 0h0m-1-2h0m-3 1h0m7 7h0m1-2h0m1 0h0m1 2h0m1 1h0m2 1h0m1-4h0m0 5h0m2-4h0m1 4h0m1-5h0m1 2h0m0 2h0m1-4h0m1 2h0m0 3h0m1-4h0m2 0h0m3 0h0m2-1h0m3 1h0m1-1h0m0 2h0m1 0h0m1 1h0m1-3h0m0 3h0m1 1h0m2-1h0m2-1h0m1 0h0m1-1h0m1 0h0m0 2h0m1-1h0m0 1h0m1 0h0m1-2h0m1 2h0m1-1h0m1 2h0m5-1h0m1-3h0m0 1h0m4-1h0m8 5h0m1-4h0m0 1h0m1-2h0m0 3h0m1-3h0m0 2h0m3-2h0m3 1h0m3-1h0m2 0h0m3 2h0m19-1h0m4 4h0m2 0h0m4-5h0m0 2h0m0 3h0m2-4h0m1 1h0m0 2h0m1-1h0m1-3h0m0 5h0m2 0h0m2-3h0m1-1h0m0 2h0m1 0h0m2-1h0m1-1h0m0 2h0m1-1h0m0 2h0m3 0h0m1-1h0m1-3h0m0 4h0m4-1h0m0 1h0m2 1h0m1-5h0m0 3h0m1 0h0m1-3h0m0 1h0m1 1h0m0 1h0m1 1h0m1-2h0m6 2h0m7 0h0m1-3h0m1 2h0m1-1h0m0 3h0m1-3h0m1 3h0m1-5h0m0 1h0m0 2h0m2 1h0m2 1h0m4-3h0m0 2h0m1 1h0m15-5h0m0 3h0m1-1h0m0 1h0m1 2h0m2-2h0m1-2h0m0 4h0m1-5h0m0 1h0m0 2h0m1 2h0m3 0h0m16 0h0m2-3h0m0 2h0m57-2h0m2 2h0m2 1h0m-33 6h0m-1 0h0m-2 0h0m-4-4h0m-1 4h0m-1 0h0m-1-4h0m0 1h0m-1-1h0m-1 2h0m0 1h0m-2-3h0m0 1h0m-1 0h0m0 2h0m-3-3h0m-1 2h0m-1-1h0m0 2h0m-1-1h0m-2 0h0m-1-1h0m0 2h0m0 1h0m-1-2h0m0 1h0m0 1h0m-1-3h0m-1 1h0m-1 1h0m-1-3h0m-2-1h0m0 2h0m0 2h0m-4-2h0m-2-1h0m0 2h0m-6-1h0m0 2h0m-2-1h0m-1-2h0m-1 1h0m0 3h0m-1-1h0m-1 1h0m-1-5h0m0 1h0m0 3h0m-1-2h0m-1 0h0m0 2h0m-2-2h0m-18-1h0m0 1h0m-1 2h0m-1-4h0m-1 5h0m-1-2h0m-1-3h0m0 1h0m-1 1h0m-1-1h0m-2-1h0m-2 1h0m-17 1h0m-1-1h0m-1 0h0m0 3h0m-1-4h0m0 3h0m0 1h0m-1-3h0m0 4h0m-1-4h0m-1 0h0m0 2h0m-6-3h0m-1 5h0m-1-5h0m0 1h0m0 1h0m0 3h0m-2-1h0m-1-2h0m-1-2h0m-1 1h0m-2 4h0m-2-3h0m-1-2h0m0 2h0m0 1h0m0 2h0m-1-3h0m-1 3h0m-1-4h0m-1-1h0m0 1h0m-2 4h0m-1-4h0m-1-1h0m-1 1h0m0 1h0m0 3h0m-3-4h0m-3 3h0m0 1h0m-3 0h0m-1-5h0m-16 4h0m-9 1h0m-3-4h0m-3 0h0m-2 3h0m-2-4h0m-13 0h0m-2 2h0m-1-1h0m-1-1h0m-6 0h0m-3 1h0m-5-1h0m0 1h0m-9 1h0m-10-2h0m-4 0h0m-1 2h0m-1-2h0m0 3h0m0 1h0m-1-3h0m-1 1h0m15 6h0m2 1h0m9 1h0m33-3h0m23 3h0m3 0h0m1-2h0m1-1h0m1 2h0m1-2h0m1-1h0m0 2h0m2 1h0m0 1h0m1-4h0m1 1h0m0 1h0m1-2h0m0 1h0m0 3h0m0 1h0m1-1h0m1-3h0m1 2h0m0 1h0m1-2h0m5 1h0m0 2h0m3-1h0m2-3h0m1 3h0m0 1h0m2-2h0m1-2h0m0 2h0m1-1h0m0 2h0m1-1h0m2-3h0m0 1h0m1-1h0m0 3h0m6-2h0m1 3h0m2-1h0m1-1h0m2 2h0m1-2h0m0 3h0m2-5h0m1 0h0m0 1h0m1-1h0m1 5h0m1-4h0m20-1h0m2 1h0m5-1h0m24 1h0m1 1h0m1 0h0m1-2h0m2 0h0m0 2h0m1-1h0m1 2h0m1-3h0m2 0h0m0 2h0m2-2h0m0 3h0m2 0h0m1-2h0m0 2h0m1 1h0m0 1h0m1-5h0m0 4h0m2-2h0m1 2h0m1-2h0m1-1h0m0 3h0m1-1h0m0 2h0m2-2h0m1-2h0m0 2h0m1-2h0m0 3h0m1-2h0m1-2h0m0 4h0m1-4h0m0 1h0m0 2h0m1-2h0m1 2h0m0 2h0m1-4h0m0 1h0m1-1h0m1 1h0m1-1h0m0 3h0m2-2h0m0 1h0m2-1h0m0 3h0m1-5h0m0 2h0m1 1h0m1-2h0m0 2h0m2-2h0m1-1h0m0 2h0m2-1h0m45 1h0m-18 8h0m-1 1h0m-37-5h0m0 1h0m-1 0h0m-1-1h0m0 2h0m-1-2h0m0 4h0m-2-1h0m-1 1h0m-1-3h0m-1 2h0m-3-3h0m-3 1h0m-2 0h0m-6-1h0m-3 1h0m-3 4h0m-63-4h0m-2-1h0m-1 1h0m-1 1h0m0 2h0m-1-1h0m-1 1h0m-1-4h0m0 4h0m-1-2h0m0 2h0m-2-2h0m0 3h0m-1-4h0m0 2h0m-2-3h0m0 1h0m-1 0h0m0 3h0m-1 0h0m-2-3h0m0 4h0m-1-5h0m0 1h0m0 3h0m0 1h0m-5-4h0m-3 0h0m-1 0h0m-1-1h0m0 4h0m0 1h0m-2-3h0m0 1h0m0 1h0m-1-4h0m0 1h0m-1 1h0m-3-2h0m-1 1h0m0 2h0m0 1h0m-1-3h0m0 1h0m-1 1h0m-1-1h0m-1 2h0m-1 0h0m-1 0h0m-1 1h0m-2-1h0m-1 1h0m-2-4h0m-1 4h0m-1-4h0m-1-1h0m-1 2h0m-1 0h0m-1-2h0m-3 5h0m-1-1h0m-1-2h0m-1 3h0m-2 0h0m-3-2h0m-2 1h0m0 1h0m-1-2h0m-42-1h0m0 2h0m-1-4h0m38 8h0m0 3h0m6-5h0m0 3h0m1-2h0m1 2h0m1 1h0m1-1h0m1-1h0m2 0h0m0 1h0m1 1h0m3-3h0m0 3h0m0 1h0m3-3h0m1 0h0m1-2h0m0 2h0m1 1h0m1-2h0m1 1h0m1-2h0m1 2h0m1-1h0m1 0h0m0 2h0m1-1h0m0 1h0m0 2h0m1 0h0m1-2h0m1 0h0m0 1h0m2-1h0m0 2h0m1-1h0m1-1h0m0 1h0m1-2h0m2 2h0m3 0h0m1-4h0m0 1h0m0 2h0m0 2h0m1-5h0m0 5h0m3-4h0m1 3h0m1-1h0m1-3h0m0 3h0m2 0h0m1 0h0m0 2h0m2-4h0m0 1h0m1 0h0m1-2h0m0 2h0m1-2h0m1 4h0m1 0h0m1-1h0m2-1h0m0 3h0m3-4h0m90-1h0m0 1h0m0 3h0m2-4h0m1 2h0m36 3h0m1-1h0m2-3h0m1 10h0m-1 0h0m-1 0h0m-4 0h0m-1 0h0m-1-1h0m-11 1h0m-3-4h0m-45 4h0m-15 0h0m-3-2h0m-49-3h0m-5 1h0m-3-1h0m-3 0h0m-4 0h0m0 2h0m-1 0h0m0 2h0m-1 1h0m-1-3h0m-1 1h0m0 1h0m-1-2h0m-1-1h0m-1-1h0m0 4h0m-1-2h0m0 1h0m0 2h0m-1-4h0m0 1h0m-1 2h0m-1-3h0m0 3h0m-1-1h0m-1 1h0m-1-3h0m-3-1h0m0 4h0m-3-1h0m0 2h0m-1-3h0m-1-2h0m-1 1h0m-2 0h0m0 3h0m-2-4h0m-1 0h0m-1 4h0m-1-4h0m0 2h0m-3-1h0m0 4h0m-1-2h0m-1-2h0m0 1h0m0 3h0m-1 0h0m-2 0h0m-1-5h0m-1 4h0m-2-3h0m0 2h0m-1-3h0m0 2h0m0 2h0m0 1h0m-1-4h0m0 2h0m0 1h0m-2-3h0m-3 1h0m-3-1h0m-2 0h0m-4 5h0m2 0h0m1 5h0m1-3h0m1 3h0m2-5h0m1 0h0m1 0h0m0 3h0m1 0h0m0 2h0m1-1h0m1-2h0m1 0h0m2-1h0m2 0h0m4 2h0m0 2h0m1-3h0m0 1h0m1-2h0m0 4h0m1-5h0m4 3h0m1-1h0m1 1h0m4-2h0m0 3h0m1-4h0m0 1h0m2-1h0m0 1h0m2-1h0m0 2h0m0 2h0m3-4h0m0 5h0m1-2h0m0 2h0m1-4h0m0 3h0m1-4h0m0 4h0m1 1h0m1-5h0m0 1h0m1 0h0m5 2h0m4-1h0m0 1h0m2-1h0m1 0h0m2-2h0m2 0h0m26 2h0m3 3h0m2 0h0m4 0h0m3 0h0m5-2h0m19-3h0m5 0h0m3 4h0m5-2h0m0 1h0m1-2h0m0 4h0m2-4h0m0 2h0m0 2h0m1-2h0m0 2h0m1 0h0m3-3h0m0 3h0m54-4h0m3 0h0m5 0h0m-12 10h0m-13-4h0m-1 3h0m-21-4h0m-10 3h0m-3 0h0m0 2h0m-1-3h0m-2 2h0m-1-4h0m-1 2h0m0 1h0m-1-2h0m0 4h0m-1-2h0m-1-2h0m0 3h0m-1-4h0m0 3h0m0 1h0m-1-2h0m0 1h0m-1-2h0m0 3h0m-1-4h0m0 4h0m-1-1h0m-4 1h0m-23 0h0m-1-3h0m-1 2h0m-2-2h0m0 1h0m0 3h0m-1-3h0m-1 2h0m-2 1h0m-1-3h0m-1 1h0m0 1h0m0 1h0m-1-4h0m0 3h0m-4-3h0m0 2h0m0 2h0m-2-4h0m-1 3h0m-1-1h0m-49-3h0m-6 0h0m-2 0h0m-2 1h0m-1 1h0m-3-1h0m-2-1h0m-1 0h0m-1 0h0m-17 1h0m86 6h0m0 1h0m1 0h0m1-1h0m1 3h0m2-1h0m2-2h0m0 2h0m2-3h0m0 3h0m1-3h0m0 1h0m1 1h0m0 3h0m1-2h0m3-2h0m0 2h0m1-3h0m1 1h0m1-1h0m0 4h0m1-1h0m0 2h0m2-5h0m3 2h0m2 2h0m14-2h0m8 2h0m1-4h0m1 0h0m0 3h0m0 2h0m1-5h0m0 3h0m1-3h0m0 5h0m2-3h0m1 2h0m1-2h0m1 2h0m1-1h0m1-3h0m0 2h0m0 2h0m0 1h0m2-2h0m1-3h0m1 2h0m0 1h0m7 2h0m23-2h0m4 1h0m6-2h0m-3 4h0m0 5h0m-1-3h0m-1 0h0m-2-2h0m0 3h0m-2 2h0m-2-2h0m-11 2h0m-1-2h0m-5 0h0m-1-1h0m0 2h0m-1-1h0m-1 0h0m0 2h0m-2-3h0m-1 0h0m0 3h0m-3-2h0m-2-3h0m-2 2h0m-1-1h0m0 1h0m-1 0h0m-1-2h0m0 2h0m-1 1h0m-1 0h0m-1-3h0m-1 5h0m-1-1h0m-1-2h0m-1 3h0m-1-4h0m-2 2h0m-1-2h0m0 4h0m-10-5h0m-19 1h0m-1 0h0m0 1h0m-1-1h0m-1-1h0m-1 4h0m-1-4h0m-32 5h0m-1 0h0m-7 0h0m-3-2h0m-1 2h0m-1 0h0m-1-4h0m-1 2h0m-7-2h0m-7 9h0m1-1h0m2 0h0m1-2h0m1 1h0m1-1h0m0 2h0m1-2h0m1-1h0m1 1h0m0 2h0m1-3h0m0 3h0m0 1h0m1-1h0m1-3h0m0 4h0m2 0h0m1-2h0m0 3h0m1-4h0m3 1h0m0 2h0m0 1h0m1-4h0m2 1h0m0 3h0m2-2h0m1-2h0m2 0h0m0 2h0m0 1h0m2-2h0m69-2h0m0 2h0m1 3h0m2-5h0m0 1h0m13 4h0m1-5h0m7 5h0m2-1h0m4-3h0m2 0h0m2 0h0m2-1h0m11 0h0m-31 9h0m-68 2h0m-9 0h0m-11-3h0m-1 0h0m-1 1h0m-1 2h0m-1-4h0m0 2h0m0 2h0m-1-4h0m0 3h0m-4-2h0m0 2h0m-2-3h0m0 3h0m-4-3h0m0 1h0m-2 2h0m-1-3h0m-1 0h0m0 4h0m-1-5h0m0 3h0m0 1h0m-1 1h0m-1-2h0m-1 0h0m-1-3h0m-2 0h0m-1 5h0m-1-2h0m-2-1h0m0 3h0m-1-1h0m-2-2h0m-1 1h0m-24 1h0m0 2h0m22 3h0m1-3h0m2 2h0m2-2h0m1 2h0m0 1h0m2-1h0m1 3h0m1-3h0m0 2h0m1-1h0m2 2h0m2-3h0m0 1h0m0 2h0m1-5h0m0 4h0m2 1h0m1-4h0m0 2h0m1-1h0m2 1h0m1-3h0m1 4h0m1-2h0m0 2h0m0 1h0m1-4h0m1 2h0m2 1h0m1-1h0m2 1h0m1 1h0m2-5h0m0 1h0m9-1h0m12 4h0m1-1h0m25 1h0m2-3h0m72 9h0m-1-2h0m-2 3h0m-49-2h0m-17 0h0m0 2h0m-1-4h0m-1 2h0m0 1h0m0 1h0m-2-5h0m0 1h0m-2 1h0m-1-2h0m0 1h0m-2 2h0m-3 2h0m-3-1h0m0 1h0m-3-3h0m-1 1h0m0 1h0m-1-1h0m-15-1h0m-17 0h0m-3-2h0m-2 2h0m-2 0h0m-1-1h0m0 3h0m-1-4h0m-1 5h0m-2-3h0m0 2h0m-1 0h0m-3 0h0m-1-3h0m-2 3h0m0 1h0m-1-5h0m-1 2h0m-2 1h0m-1 1h0m-2-1h0m-2-2h0m-1 2h0m-5-2h0m-2 0h0m-2 1h0m3 4h0m1 1h0m2 0h0m1-1h0m0 3h0m2 0h0m0 2h0m1-3h0m0 1h0m1-2h0m1 0h0m0 4h0m1-4h0m1 2h0m1 1h0m2 1h0m1-2h0m1-1h0m0 3h0m3-3h0m1-2h0m0 1h0m0 3h0m1 1h0m2 0h0m1-3h0m1-2h0m0 4h0m1-4h0m0 2h0m0 2h0m1-4h0m0 5h0m2 0h0m5-2h0m1 0h0m2-1h0m3-1h0m3 3h0m1-4h0m3 1h0m2 4h0m1-4h0m2-1h0m1 5h0m2-2h0m7 0h0m1 2h0m6-5h0m0 4h0m2-1h0m2-1h0m4 2h0m5-4h0m0 2h0m2-2h0m1 0h0m0 2h0m1-2h0m0 4h0m3-1h0m2 0h0m1-1h0m3 1h0m1-2h0m11 4h0m33-2h0m2-3h0m0 3h0m1-3h0m0 1h0m0 4h0m1-3h0m0 2h0m0 1h0m1 0h0m2-5h0m0 5h0m1-2h0m0 1h0m1-3h0m0 3h0m0 1h0m1 0h0m2-4h0m0 2h0m1 1h0m2-2h0m0 3h0m1-4h0m4-1h0m-10 7h0m0 1h0m-3-1h0m-1 0h0m-32 0h0m-1 2h0m-2 2h0m-1-3h0m0 3h0m-2 0h0m-1 0h0m-3-5h0m0 5h0m-2-5h0m0 2h0m-1 1h0m-2-2h0m-1 3h0m0 1h0m-4-1h0m-1-4h0m-25 2h0m0 2h0m-1-2h0m-6 3h0m-8-3h0m-2 3h0m-2-5h0m-1 2h0m-1 3h0m-2-2h0m0 1h0m-1-2h0m-1-2h0m0 3h0m-2 2h0m-1-3h0m-1 1h0m-1-2h0m0 1h0m0 3h0m-1 0h0m-1-4h0m0 3h0m-1-2h0m-1-2h0m0 5h0m-2-4h0m0 4h0m-4-1h0m-1-2h0m0 3h0m-1-5h0m0 1h0m-1 1h0m-1-1h0m0 4h0m-1-5h0m0 4h0m-2 0h0m0 1h0m-4-5h0m-1 2h0m-4-1h0m-3 1h0m13 7h0m2-2h0m0 3h0m1-3h0m1 1h0m1 3h0m1-4h0m2-1h0m0 3h0m1-1h0m1 1h0m0 2h0m1-3h0m1-1h0m0 2h0m1-2h0m1 1h0m0 2h0m1 1h0m2-3h0m2 0h0m3 0h0m1-1h0m0 2h0m0 2h0m1-5h0m0 5h0m1-4h0m0 1h0m2-2h0m0 4h0m2-1h0m1 2h0m1-3h0m1-1h0m0 1h0m0 3h0m1-2h0m1 2h0m12-4h0m3 3h0m14-1h0m2 2h0m1-2h0m1 2h0m1-2h0m0 2h0m1 0h0m1-1h0m1 0h0m1-2h0m1 2h0m4 1h0m1 0h0m1-5h0m0 1h0m1 2h0m0 2h0m1-2h0m0 2h0m2-2h0m0 1h0m3-1h0m0 1h0m1-4h0m2 2h0m0 3h0m3-5h0m1 3h0m-6 3h0m0 3h0m-1-1h0m-2 1h0m-1-1h0m-1 0h0m0 2h0m-2 0h0m-2-2h0m-9-1h0m0 2h0m-2-2h0m0 4h0m-2-4h0m-1-1h0m0 3h0m-4 2h0m-1-1h0m-1 0h0m-1-1h0m-2 0h0m-1-3h0m0 1h0m-23-1h0m-1 0h0m-1 2h0m-4 3h0m-1-3h0m0 2h0m-2-2h0m0 1h0m0 1h0m-1 0h0m-2-3h0m-6 1h0m-1-1h0m-1-1h0m-2 2h0m-1 0h0m-2-1h0m0 1h0m-1 1h0m-2-2h0m0 3h0m-1-1h0m-2 0h0m3 3h0m20 0h0m2 2h0m32-2h0m6 2h0m3-2h0m1 0h0m5 0h0"/>
<path fill="none" stroke="#d84a58" stroke-width="2.5" stroke-linecap="square" d="M360 825h0m56 37h0m-29 0h0m-65 0h0m-3-3h0m75 10h0m-8 5h0m-33 6h0m17-3h0m57 2h0m-121 3h0m50 6h0m24 7h0m-5 4h0m-68 1h0m94 8h0m-4 5h0m9-1h0m9 1h0m-174 12h0m136 8h0m-54 6h0m45 0h0m27-3h0m-26 9h0m-102 8h0m59 0h0m64-5h0m-6 7h0m-180 3h0m177 12h0m-120 6h0m132-3h0m-135 7h0m-8 7h0m-28 4h0m79 5h0m-4 10h0m-12-4h0m-57 5h0m40 2h0m222 4h0m-132 8h0m-47 10h0m-10 6h0m9-4h0m28 1h0m139 9h0m-168 2h0m2 0h0m104 14h0m44 6h0m-23 2h0m-16-4h0"/>
<path fill="none" stroke="#e5252a" stroke-width="3" stroke-linecap="square" d="M339 879h0m-8 14h0m89 11h0m-66 7h0m92 2h0m3 7h0m-3 1h0m40 7h0m-10 3h0m-5-1h0m-24 1h0m-6 1h0m8 4h0m-9 14h0m1 2h0m11-1h0m2 7h0m-2 1h0m-23 0h0m-1-3h0m-12 7h0m10 2h0m12-2h0m5 0h0m1 2h0m2-1h0m3-4h0m1 4h0m1 1h0m2-3h0m6 2h0m-17 2h0m-2 2h0m-1-2h0m-3 4h0m-11 0h0m-2-2h0m2 4h0m4 3h0m43 0h0m-7 4h0m-12 0h0m-3 2h0m-13 2h0m-2 0h0m3 2h0m1 4h0m8-5h0m7 4h0m-2 2h0m-11 3h0m-4-1h0m-3-1h0m-48 4h0m3 2h0m-5 10h0m-8 4h0m29 0h0m38 0h0m-11 8h0m-21-1h0m-2-1h0m-3-2h0m-24 6h0m42 0h0m5 3h0m2-3h0m8 0h0m7 0h0m-7 6h0m-1-1h0m1 10h0m-69 13h0m10 1h0m-1 2h0m-10 6h0m13-1h0m2 4h0m-49 2h0m0 9h0m7 1h0m24 6h0m-20-3h0m-19 1h0m139 13h0m-1-2h0m-69-1h0m-1 2h0m-2-3h0m0 1h0m-3 2h0m-1-2h0m-1 2h0m-7 1h0m-2-1h0m-17-1h0m-24 0h0m0 2h0m-8-1h0m35 6h0m13-3h0m14 2h0m3 0h0m1-2h0m2 0h0m8 1h0m5 4h0m41-5h0m5 5h0m2-4h0m8 6h0m-53-1h0m-4 4h0m-2 0h0m-4 0h0m-26-2h0m-20-1h0m-4 1h0m-1 3h0m-2 0h0m-4-1h0m-2-1h0m-6 0h0m-6 5h0m5-1h0m2-1h0m15 1h0m9 4h0m37-5h0m1 4h0m2 1h0m1-1h0m2-3h0m1 3h0m2 1h0m9-5h0m1 3h0m-6 3h0m0 2h0m-2 0h0m-16-2h0m-6 4h0m-1-1h0m-35 0h0m-9-1h0m-1-1h0m-1 2h0m15 4h0m31-1h0m6 2h0m9-2h0"/>
<ellipse cx="427.5" cy="926.4" rx="97.3" ry="110.7" fill="none" stroke="#12A850" stroke-width="5.6" stroke-dasharray="13.3 4.42"/>
<text x="329.6" y="802.3" font-size="35.2">CXCL9</text>
</g>
<g>
<rect x="558.0" y="812.9" width="358.6" height="317.9" fill="#fff" stroke="#555" stroke-width="1.2"/>
<path transform="translate(.5 .5)" fill="none" stroke="#c0c0c0" stroke-width="1.9" stroke-linecap="square" d="M738 827h0m-1 0h0m-2-1h0m-2 0h0m0 1h0m-5 0h0m-1 0h0m-30-2h0m22 7h0m5-2h0m0 3h0m1-3h0m0 1h0m2-1h0m0 3h0m2-4h0m1 2h0m0 1h0m1-3h0m0 1h0m1 0h0m0 1h0m0 2h0m1-4h0m1 1h0m0 1h0m0 1h0m1-4h0m0 1h0m0 2h0m1-3h0m1 2h0m0 3h0m1-1h0m1-2h0m1 0h0m0 2h0m1-4h0m0 1h0m0 3h0m2-4h0m0 1h0m1-1h0m0 5h0m2-2h0m4-1h0m4 1h0m3 0h0m2-1h0m4 2h0m0 1h0m4-3h0m1 0h0m1 2h0m1 1h0m12 6h0m-1-2h0m-3-1h0m-2-1h0m-1-1h0m-3 0h0m-32 0h0m-2 1h0m0 2h0m-17-2h0m-1 4h0m-54 0h0m-14 6h0m9-4h0m3 2h0m2-2h0m0 1h0m0 3h0m1-2h0m0 2h0m2-1h0m2 0h0m0 1h0m4-2h0m11 1h0m52-4h0m0 4h0m52-2h0m1 1h0m3 1h0m3 5h0m-2-3h0m-123 2h0m-1-2h0m0 3h0m-1-3h0m0 1h0m-2 4h0m-4-3h0m-1-1h0m-1 2h0m-5-1h0m-1 2h0m-1-4h0m-1 2h0m0 2h0m0 1h0m-3-4h0m0 1h0m0 1h0m-1-1h0m0 2h0m-1-2h0m-1-2h0m0 1h0m-1 1h0m-1 1h0m0 2h0m-2 2h0m0 4h0m1-2h0m1 0h0m1-3h0m2 2h0m1 0h0m0 1h0m1-2h0m1 4h0m1-2h0m0 2h0m1-5h0m0 1h0m2 2h0m1-2h0m1 0h0m0 2h0m3-1h0m1 2h0m2-3h0m23 4h0m6-3h0m0 3h0m2-1h0m1 1h0m117 6h0m-4-1h0m0 1h0m-3-1h0m0 1h0m-7-1h0m-6-3h0m-6 1h0m0 2h0m-2 0h0m-5-1h0m-1-1h0m0 2h0m-1-3h0m0 4h0m-1-3h0m0 3h0m-2-2h0m0 1h0m0 1h0m-1 0h0m-2-2h0m-2 2h0m-1-3h0m0 2h0m0 1h0m-1-2h0m-3 0h0m-1 1h0m-2-3h0m-5 4h0m-2-1h0m-4-1h0m-4-1h0m-48 3h0m-1-4h0m0 4h0m-5-3h0m-1 1h0m-1 1h0m0 1h0m-1-1h0m-1 0h0m-1 1h0m-5-5h0m0 4h0m-25-4h0m-2 0h0m-1 5h0m-1 0h0m-1-5h0m-2 1h0m0 3h0m-1-4h0m0 1h0m0 1h0m0 1h0m-1-1h0m-1 1h0m-1-1h0m0 2h0m-1 0h0m-1-4h0m0 2h0m-1-2h0m2 8h0m2-1h0m1 3h0m1-3h0m0 1h0m0 2h0m0 1h0m2-5h0m0 4h0m1-4h0m0 3h0m1 2h0m32-1h0m2-2h0m0 3h0m1-5h0m2 4h0m1 1h0m2-5h0m0 3h0m0 2h0m2-3h0m0 3h0m1-3h0m0 2h0m37 1h0m3-2h0m0 1h0m2 1h0m2-4h0m1 3h0m0 1h0m1-3h0m0 2h0m1-3h0m0 2h0m1-3h0m0 1h0m1 4h0m1-5h0m0 5h0m1-5h0m0 3h0m1-3h0m0 2h0m0 3h0m1-3h0m0 2h0m0 1h0m1-4h0m0 1h0m0 3h0m1-4h0m1 0h0m0 3h0m1-3h0m1-1h0m0 1h0m1 2h0m0 1h0m1-3h0m0 3h0m1-3h0m0 1h0m0 2h0m1-4h0m0 1h0m0 3h0m2-3h0m0 3h0m1-4h0m0 4h0m1-3h0m0 2h0m0 2h0m1-5h0m0 1h0m1 2h0m1-3h0m1 1h0m0 2h0m1 0h0m0 1h0m1-4h0m0 3h0m0 2h0m1-4h0m0 3h0m0 1h0m1-2h0m2-1h0m0 1h0m0 1h0m1-1h0m1 2h0m2 0h0m1-4h0m0 1h0m0 2h0m1-4h0m0 3h0m0 1h0m1-1h0m0 2h0m1-5h0m0 1h0m1 3h0m1-4h0m0 2h0m1-2h0m0 2h0m0 2h0m1-4h0m1 2h0m0 3h0m2-1h0m1-4h0m0 2h0m4 3h0m1-1h0m1 0h0m2-4h0m0 5h0m3-1h0m0 1h0m1-5h0m2 1h0m1 3h0m2-3h0m0 1h0m0 2h0m3 0h0m3-1h0m1 0h0m0 1h0m3-3h0m0 4h0m-3 1h0m0 3h0m-1-1h0m-1-1h0m0 4h0m-6-5h0m-1 2h0m0 1h0m-2-2h0m0 2h0m-2-3h0m-3 4h0m-5 0h0m0 1h0m-1-5h0m0 3h0m-1 2h0m-1-4h0m0 3h0m-1-2h0m-1 2h0m-1-3h0m0 2h0m0 1h0m-2 0h0m-1 0h0m-1-4h0m0 2h0m-1 0h0m-1-1h0m0 1h0m0 2h0m-2-1h0m0 1h0m-1-3h0m0 1h0m0 3h0m-1 0h0m-2-2h0m-1-3h0m0 2h0m-1-2h0m0 3h0m-1-2h0m0 4h0m-1-5h0m0 1h0m0 1h0m-1-2h0m-1 4h0m-1-2h0m-1-2h0m0 3h0m-1-1h0m0 3h0m-2-5h0m0 2h0m0 1h0m-1 0h0m0 2h0m-1-2h0m0 1h0m-1-4h0m0 3h0m-2-3h0m0 1h0m0 1h0m-1 1h0m-1-3h0m0 1h0m0 1h0m-1-2h0m0 1h0m-1-1h0m0 3h0m-1-3h0m0 3h0m-1-1h0m-1-1h0m-2-1h0m0 2h0m0 1h0m-1-2h0m-1 1h0m0 2h0m-1-3h0m0 1h0m-1 2h0m-1-4h0m0 2h0m-1 3h0m-1-4h0m0 2h0m0 2h0m-1-5h0m0 2h0m-1-1h0m0 2h0m0 2h0m-1-5h0m0 4h0m0 1h0m-1-1h0m-3-2h0m0 1h0m-3-2h0m0 3h0m-2 0h0m-2-2h0m-2 1h0m-29-3h0m-1 3h0m-1 0h0m-1-3h0m-1 0h0m0 5h0m-3-4h0m-1 1h0m-1-1h0m-1-1h0m-1 2h0m0 2h0m-2-2h0m0 3h0m-1-4h0m0 4h0m-1-1h0m-2 1h0m-1-4h0m0 1h0m0 2h0m-1-2h0m0 3h0m-4-3h0m-19-1h0m-1 0h0m-3-1h0m0 1h0m0 2h0m-3-1h0m-3 4h0m2 1h0m0 1h0m1 0h0m0 3h0m3-1h0m1-1h0m25-3h0m1 2h0m1-1h0m4 0h0m0 3h0m2 0h0m2-1h0m0 1h0m1-2h0m0 1h0m1 1h0m1-1h0m0 2h0m1-5h0m1 3h0m3-2h0m1 3h0m16 1h0m2 0h0m1-2h0m0 2h0m4 0h0m3 0h0m6-3h0m1 0h0m1 1h0m0 1h0m2-4h0m0 2h0m1 1h0m1-3h0m0 5h0m1-3h0m1-2h0m0 5h0m1-5h0m0 2h0m0 1h0m1-3h0m0 2h0m1-2h0m0 3h0m0 1h0m1 0h0m1-1h0m2-3h0m1 1h0m1-1h0m0 1h0m0 3h0m1-2h0m0 2h0m1-4h0m0 1h0m0 2h0m1-2h0m0 2h0m0 2h0m1-1h0m1-4h0m0 2h0m0 1h0m1-1h0m1 2h0m1-1h0m1-3h0m0 2h0m0 1h0m0 2h0m1-5h0m0 5h0m1-1h0m1-4h0m0 3h0m1 2h0m1-4h0m1-1h0m0 2h0m0 2h0m1-4h0m1 4h0m0 1h0m1-4h0m0 2h0m1-3h0m0 2h0m0 2h0m1 1h0m1-5h0m0 1h0m0 2h0m0 1h0m0 1h0m1-4h0m1-1h0m0 1h0m0 3h0m1-3h0m0 2h0m3-1h0m0 1h0m1-1h0m0 2h0m1-4h0m0 2h0m0 1h0m0 2h0m1-5h0m0 1h0m0 2h0m1-2h0m1 2h0m0 2h0m1-5h0m1 4h0m1 1h0m1-4h0m0 1h0m1-2h0m0 3h0m0 2h0m1-1h0m2-1h0m2-1h0m0 2h0m1-3h0m0 1h0m1 1h0m1-1h0m0 2h0m0 1h0m1-5h0m3 1h0m1-1h0m3 1h0m1 2h0m0 1h0m2 0h0m1 1h0m1-4h0m3 4h0m2-4h0m2 1h0m1 1h0m1-3h0m0 4h0m2 0h0m2-4h0m12 11h0m-14-1h0m-3-4h0m-1 4h0m0 1h0m-3-3h0m-2 2h0m-1-1h0m-3-2h0m-1 3h0m-1-1h0m-2-2h0m-1-1h0m0 4h0m-2-1h0m-2-2h0m0 4h0m-2-2h0m-1 1h0m-1-4h0m0 1h0m0 2h0m-1-3h0m0 4h0m-1-4h0m-1 2h0m-2-2h0m0 5h0m-1-5h0m0 1h0m0 2h0m-1 0h0m0 1h0m-1-2h0m0 2h0m0 1h0m-2-3h0m0 3h0m-1-5h0m0 1h0m0 2h0m-1-1h0m0 3h0m-1-3h0m0 1h0m-1 1h0m-1-4h0m0 1h0m0 1h0m-1 0h0m0 2h0m-1-3h0m0 2h0m0 2h0m-1-3h0m-2 0h0m0 1h0m0 1h0m-1-2h0m-1 0h0m0 1h0m0 1h0m0 1h0m-1-5h0m0 1h0m0 2h0m-1-3h0m0 2h0m-1 0h0m0 2h0m-1-4h0m-1 1h0m0 1h0m-1 1h0m-2-1h0m0 1h0m-1-3h0m0 4h0m-2-3h0m0 2h0m0 1h0m-1-3h0m0 2h0m-2-1h0m0 1h0m-1 1h0m-1-2h0m-1 2h0m0 1h0m-1-4h0m-2 1h0m-1-2h0m0 1h0m-1 3h0m-1-4h0m0 3h0m-3 2h0m-1-1h0m-2-4h0m0 3h0m-1-3h0m0 2h0m-1-2h0m0 3h0m0 2h0m-1-5h0m0 2h0m0 2h0m-1 1h0m-1-4h0m0 1h0m-1-2h0m-1 1h0m-1 1h0m-1-1h0m-3-1h0m-2 2h0m-3 0h0m0 2h0m-1-1h0m0 2h0m-1-5h0m-1 0h0m-1 2h0m0 1h0m-1 0h0m0 2h0m-1-4h0m0 4h0m-3 0h0m-2 0h0m-12-3h0m-6 2h0m-1-3h0m-1 1h0m-1-2h0m0 3h0m-1-3h0m0 4h0m0 1h0m-1-5h0m-1 1h0m0 2h0m-1 2h0m-1-3h0m-2 0h0m-4 0h0m-22 2h0m-1-3h0m0 1h0m-1 0h0m-1 3h0m-1-5h0m0 2h0m-1 0h0m-1 1h0m-2-2h0m6 5h0m1 0h0m0 3h0m0 1h0m1 0h0m1-2h0m0 2h0m1-2h0m0 2h0m25-2h0m2 2h0m1 1h0m1-3h0m1 0h0m0 1h0m1-3h0m1 0h0m0 2h0m3 3h0m5 0h0m10 0h0m2-4h0m0 3h0m3-1h0m1-2h0m1 3h0m1-3h0m1 0h0m1-1h0m6 4h0m1-2h0m1 3h0m2-2h0m1-3h0m1 0h0m0 4h0m1-3h0m0 1h0m1-2h0m0 2h0m0 2h0m0 1h0m1-4h0m0 1h0m1-1h0m0 3h0m1-3h0m0 4h0m1-4h0m0 1h0m1 0h0m0 1h0m1-3h0m0 2h0m1 3h0m1-5h0m0 3h0m0 1h0m1-3h0m1 1h0m0 3h0m1-4h0m0 4h0m1-4h0m0 1h0m0 3h0m2-5h0m0 2h0m0 1h0m1-2h0m0 2h0m0 2h0m1-5h0m0 2h0m0 1h0m0 2h0m1-3h0m1-1h0m0 2h0m1 0h0m1 0h0m0 2h0m1 0h0m1-3h0m0 2h0m1-3h0m0 1h0m1-2h0m0 1h0m0 3h0m1-2h0m1-1h0m0 3h0m1-4h0m0 4h0m1-3h0m0 2h0m0 1h0m1-4h0m0 3h0m1-3h0m1 0h0m0 2h0m1 2h0m1-1h0m0 1h0m0 1h0m1-3h0m0 3h0m1-2h0m1-2h0m1 3h0m0 1h0m1-5h0m0 3h0m0 1h0m1-2h0m1 2h0m1-1h0m1 0h0m0 2h0m1 0h0m1-2h0m1-3h0m0 1h0m0 3h0m1-4h0m0 2h0m0 2h0m1-4h0m0 3h0m0 1h0m1 0h0m1 1h0m1-5h0m1 1h0m0 2h0m1-3h0m0 2h0m0 1h0m0 1h0m1-4h0m0 1h0m1-1h0m2 1h0m0 2h0m4 0h0m2-3h0m2 4h0m1-1h0m2-3h0m0 1h0m1 2h0m0 1h0m1-2h0m1 2h0m2-4h0m2 5h0m1-3h0m0 2h0m1-2h0m3-2h0m6 3h0m23-1h0m1 3h0m1-3h0m1 3h0m1-1h0m0 1h0m1-1h0m1-4h0m0 3h0m5 8h0m-5 0h0m-3-5h0m-1 0h0m-38 0h0m-4 0h0m0 3h0m-1-3h0m0 5h0m-1-4h0m0 1h0m-1 0h0m-1 3h0m-2-1h0m-1-2h0m0 1h0m-7 0h0m-2-3h0m0 1h0m0 2h0m-1-3h0m0 1h0m-1 1h0m0 1h0m-2-3h0m0 2h0m0 3h0m-1-5h0m0 4h0m-1-2h0m0 3h0m-1-4h0m-1 4h0m-1-4h0m0 1h0m0 1h0m-1-2h0m0 2h0m-1-3h0m0 3h0m0 1h0m-1-2h0m0 3h0m-1-1h0m-1-3h0m0 3h0m-1-4h0m0 3h0m0 1h0m-1-2h0m0 2h0m-1-3h0m-1-1h0m0 1h0m0 1h0m-1-2h0m0 1h0m0 3h0m-1-2h0m-1-1h0m-2-1h0m0 1h0m0 2h0m-1-3h0m0 4h0m0 1h0m-1-3h0m-1-2h0m0 2h0m0 3h0m-1-4h0m0 2h0m0 2h0m-1-2h0m-1-2h0m-1-1h0m0 3h0m-1 1h0m0 1h0m-1-5h0m0 4h0m0 1h0m-1-4h0m0 1h0m-1-1h0m0 1h0m-2 0h0m0 1h0m0 2h0m-1-5h0m0 1h0m0 1h0m0 3h0m-1-3h0m-1-1h0m0 2h0m-1 0h0m-2 1h0m-1-4h0m0 2h0m0 3h0m-1-5h0m0 3h0m-1-2h0m0 3h0m-1 0h0m-1-1h0m-1 0h0m-1-1h0m0 2h0m-1-1h0m0 2h0m-2-1h0m-1-3h0m-1 1h0m-4 2h0m-5 0h0m-10-1h0m-5 1h0m0 1h0m-4 0h0m-3-1h0m-6-2h0m-3-1h0m-2-1h0m0 4h0m-1-3h0m-3 2h0m-1 2h0m-21-5h0m-1 2h0m-1-2h0m-1 3h0m-1 0h0m0 1h0m-1-2h0m-2-2h0m2 6h0m1 0h0m2 0h0m0 1h0m1 0h0m1 0h0m0 3h0m2 0h0m4 0h0m16-2h0m1 1h0m2 0h0m1-3h0m12 5h0m4-3h0m23 0h0m3 1h0m2-2h0m1-1h0m0 5h0m2-2h0m1-1h0m1-1h0m1-1h0m0 2h0m0 3h0m1-3h0m1-1h0m1 3h0m1-1h0m1-3h0m0 1h0m0 2h0m1-1h0m0 1h0m2-2h0m0 1h0m1-2h0m0 4h0m1 0h0m1-2h0m0 2h0m1 1h0m1-5h0m1 2h0m0 2h0m1 1h0m1-4h0m1-1h0m0 3h0m0 2h0m1-5h0m0 4h0m2-4h0m0 2h0m0 2h0m1-4h0m0 3h0m1-1h0m0 2h0m0 1h0m1-2h0m0 2h0m1-5h0m3 3h0m0 1h0m1-1h0m1 2h0m1-5h0m0 2h0m1 0h0m1 1h0m1 1h0m1-2h0m1 0h0m1-2h0m0 3h0m0 2h0m1-5h0m0 2h0m1 3h0m1-4h0m2 0h0m0 2h0m1-1h0m0 1h0m0 2h0m1-3h0m1-2h0m0 1h0m0 2h0m1 1h0m1-4h0m0 1h0m0 2h0m0 2h0m2-3h0m0 3h0m1-3h0m0 2h0m3-4h0m0 5h0m2-3h0m4 3h0m2 0h0m1-2h0m3 2h0m1-4h0m0 2h0m2-3h0m0 3h0m3-1h0m4-2h0m3 5h0m31-5h0m1 2h0m0 3h0m1-4h0m1 0h0m0 2h0m0 1h0m-1 3h0m-5 1h0m-9 1h0m-3 1h0m-6-1h0m-2 0h0m0 1h0m0 1h0m-2-1h0m-1 1h0m-3 0h0m-2-1h0m-1-2h0m-10 1h0m-2-2h0m-3 0h0m0 2h0m-2 1h0m0 1h0m-1-5h0m-1 0h0m-1 2h0m-1-2h0m-1 5h0m-3-1h0m-1 1h0m-1-4h0m-1 4h0m-1-5h0m0 3h0m-1-3h0m-1 1h0m0 2h0m-1 0h0m-1-3h0m-1 2h0m-1-2h0m0 2h0m0 1h0m0 1h0m-1-4h0m0 4h0m-1-3h0m0 4h0m-2-1h0m-1-2h0m0 1h0m0 1h0m-1-3h0m0 1h0m-2-1h0m-1 2h0m-1 0h0m-1-2h0m0 3h0m-1-2h0m0 1h0m-1-3h0m-1 1h0m-1 1h0m0 1h0m0 1h0m-1 0h0m-1 0h0m-1-4h0m0 3h0m0 2h0m-2-2h0m-1-2h0m-1 1h0m-1 1h0m0 1h0m-4-4h0m0 1h0m-2-1h0m-1 1h0m-1 0h0m-1 0h0m-1-1h0m0 1h0m-2 3h0m-2-4h0m0 1h0m-3-1h0m-4 2h0m-4-2h0m-35 4h0m-9-3h0m0 2h0m0 2h0m-18 0h0m-1-2h0m-1 2h0m-1-4h0m0 2h0m-1-3h0m0 2h0m0 3h0m-1-5h0m-47 3h0m3 8h0m6 0h0m4-2h0m1 0h0m2 2h0m2-4h0m4 2h0m0 2h0m2-1h0m3-2h0m5 1h0m17 1h0m1 1h0m1-4h0m0 2h0m0 2h0m1-1h0m2-1h0m1 0h0m16-2h0m1 4h0m1 0h0m5-2h0m35-2h0m27 2h0m4 0h0m1-3h0m0 3h0m8-3h0m1 2h0m2 0h0m1-2h0m0 1h0m4 1h0m1-2h0m2 0h0m0 3h0m1-1h0m7 3h0m1-4h0m0 1h0m4-1h0m2 1h0m1-1h0m0 1h0m5-1h0m11 2h0m3-3h0m0 2h0m1-1h0m5 2h0m0 2h0m2-4h0m0 3h0m1-4h0m0 5h0m1-2h0m4 5h0m-1 3h0m-1-2h0m-1-1h0m0 1h0m-1-2h0m0 4h0m-1-2h0m0 2h0m-1-2h0m-1-3h0m0 2h0m-2 2h0m-3-3h0m-7-1h0m-12 1h0m-4 2h0m-1-2h0m-76 2h0m-2-1h0m-3 1h0m0 2h0m-16-1h0m-1-3h0m-1-1h0m-2 3h0m-22-3h0m-2 4h0m-1-3h0m0 3h0m-3-2h0m0 2h0m-6 1h0m-1-2h0m-2-1h0m0 2h0m-2-2h0m-1-1h0m0 2h0m-2-3h0m0 4h0m-3-1h0m-3 1h0m-1 1h0m-1-4h0m-1-1h0m-1 3h0m0 2h0m-2-4h0m0 4h0m-2 0h0m-2-1h0m-1-1h0m-2-3h0m-1 2h0m-1-1h0m-2 2h0m-1-1h0m-1-2h0m-1 5h0m-1-1h0m-2 1h0m-1-2h0m-1 2h0m-3-5h0m-1 2h0m-2 0h0m0 3h0m-2-2h0m-2 1h0m0 1h0m-1-1h0m-6 0h0m-12 5h0m3 0h0m3 1h0m1 1h0m1-4h0m0 3h0m1-1h0m1 2h0m5-4h0m1-1h0m2 3h0m1-2h0m1 2h0m3 0h0m1-3h0m1 5h0m2-2h0m0 2h0m1-4h0m0 3h0m1-1h0m1-1h0m0 2h0m1-2h0m2-2h0m1 1h0m0 1h0m0 3h0m2-5h0m0 2h0m1-2h0m0 2h0m2 2h0m1-2h0m0 1h0m1-2h0m0 3h0m1-2h0m1-1h0m0 3h0m1-4h0m0 4h0m1-2h0m3 0h0m0 2h0m0 1h0m2-5h0m0 1h0m1 1h0m1 3h0m1-3h0m1-1h0m0 3h0m1-2h0m1 0h0m1 2h0m1-4h0m0 5h0m1 0h0m1-2h0m1-1h0m1-2h0m0 4h0m1-3h0m0 4h0m1-5h0m0 1h0m0 1h0m1 0h0m0 2h0m2 0h0m0 1h0m1-4h0m0 2h0m0 1h0m3-1h0m0 1h0m1-4h0m4 1h0m2-1h0m1 5h0m1-3h0m0 1h0m1-3h0m0 2h0m0 1h0m1-3h0m0 3h0m3 1h0m20-2h0m1 1h0m27-3h0m1 2h0m1 0h0m4-1h0m68 0h0m2 1h0m22 3h0m1-5h0m1 2h0m2 1h0m2-3h0m0 4h0m32 2h0m-2 0h0m-4 0h0m-2 3h0m-1-1h0m-2-2h0m0 1h0m-1 1h0m-1 0h0m0 1h0m-1-2h0m-4-1h0m-69 5h0m-5-2h0m-1 0h0m-4 2h0m-1-2h0m-3 2h0m-1 0h0m-3 0h0m-1-3h0m0 2h0m-1-1h0m0 1h0m-2 0h0m-1-1h0m-2 2h0m-2 0h0m-1 0h0m-12-5h0m-3 0h0m-31 5h0m-1-2h0m-21 2h0m-1-3h0m0 3h0m-1-5h0m-2 4h0m-3-3h0m0 2h0m-2 2h0m-1 0h0m-1-4h0m0 1h0m-1 1h0m-1-3h0m-1 4h0m-1-2h0m-2-1h0m-1-1h0m0 3h0m-1-3h0m0 4h0m-1-1h0m0 1h0m-2-3h0m-1 3h0m-1-1h0m0 2h0m-1-5h0m0 1h0m-2 4h0m-1-4h0m0 4h0m-1-3h0m0 1h0m-1-3h0m0 1h0m-2 1h0m-1 2h0m-1 0h0m-1-4h0m0 3h0m-1-2h0m0 4h0m-2-3h0m0 2h0m-1 1h0m-2-5h0m0 1h0m-1 1h0m-1-2h0m0 4h0m-1-4h0m0 5h0m-2-1h0m-1-4h0m-1 0h0m0 2h0m0 2h0m-2-4h0m0 4h0m-2-3h0m0 4h0m-1-3h0m-3 0h0m-2-1h0m-1 0h0m0 2h0m-1-3h0m0 2h0m0 1h0m0 2h0m-2-1h0m0 1h0m-2-1h0m-1 1h0m-1-2h0m-1-3h0m0 2h0m-1-2h0m0 3h0m0 2h0m-1-1h0m-1-3h0m-1 2h0m-2-3h0m0 5h0m-1-1h0m-1-3h0m0 2h0m-1-1h0m0 3h0m-1-5h0m0 1h0m-1 3h0m-2-2h0m-2-1h0m0 3h0m-1-3h0m0 3h0m-1-3h0m-1 2h0m-1-1h0m-1-1h0m0 2h0m-2-3h0m0 2h0m-5 0h0m-2-1h0m-1 1h0m-2 1h0m0 1h0m-2 5h0m1 2h0m1-5h0m0 4h0m1-3h0m0 4h0m1 0h0m1-3h0m0 1h0m1-3h0m2 0h0m0 3h0m0 1h0m0 1h0m1-4h0m0 4h0m1-5h0m0 4h0m1-4h0m1 3h0m0 1h0m2-1h0m1 2h0m2-4h0m0 2h0m0 2h0m1-5h0m0 3h0m1-1h0m1-1h0m0 3h0m1-1h0m2 0h0m1-1h0m0 2h0m1-3h0m0 4h0m1-2h0m0 2h0m3-4h0m0 1h0m1-2h0m0 3h0m0 2h0m1-5h0m0 4h0m1 0h0m0 1h0m1-4h0m0 2h0m2 2h0m1-4h0m0 3h0m1-3h0m0 2h0m0 1h0m2-3h0m0 4h0m2 0h0m2-5h0m0 2h0m0 1h0m1-1h0m1-2h0m1 0h0m0 3h0m1 0h0m1 0h0m1 1h0m0 1h0m1-3h0m3-1h0m2 1h0m0 2h0m1-3h0m0 3h0m0 1h0m1-2h0m1 2h0m1-5h0m1 2h0m0 2h0m0 1h0m2-2h0m0 2h0m1-5h0m0 1h0m1 2h0m1 0h0m1-1h0m1 0h0m1-2h0m0 4h0m1-3h0m2 2h0m1-2h0m0 1h0m0 3h0m1-5h0m0 5h0m1-2h0m1-1h0m1-1h0m1-1h0m0 3h0m1-2h0m0 1h0m0 2h0m1-4h0m0 5h0m1 0h0m1-3h0m1-1h0m0 4h0m1-3h0m0 1h0m0 2h0m1-3h0m0 3h0m1-2h0m0 1h0m1-3h0m0 3h0m0 1h0m2-1h0m1-3h0m0 3h0m1-1h0m1-2h0m0 4h0m1-4h0m0 2h0m1 2h0m1-4h0m0 1h0m1-2h0m0 4h0m1-3h0m0 1h0m2 2h0m1-3h0m0 2h0m0 2h0m1-3h0m0 2h0m0 1h0m1 0h0m1-2h0m0 2h0m21 0h0m41-3h0m1 1h0m0 2h0m1-1h0m2-2h0m1 2h0m1-1h0m1-1h0m1-1h0m1-1h0m0 1h0m1 4h0m1 0h0m1-2h0m1 2h0m1-5h0m1 4h0m2-4h0m0 5h0m1-3h0m2 1h0m0 1h0m1 1h0m2-5h0m0 4h0m1-1h0m1 1h0m1 1h0m1-4h0m0 2h0m1-3h0m0 3h0m1-2h0m0 4h0m1-4h0m1-1h0m2 0h0m4 5h0m32-3h0m2 1h0m3-3h0m1 2h0m9-1h0m-11 7h0m-17 0h0m-10 1h0m-2 1h0m-2-4h0m-3 0h0m0 1h0m0 2h0m0 1h0m-1-4h0m-1 4h0m-1-3h0m0 3h0m-1 1h0m-1-5h0m-1 1h0m0 4h0m-2 0h0m-1-4h0m0 1h0m-1-2h0m-3 3h0m-2-3h0m-1 0h0m0 5h0m-1-3h0m-2 0h0m-1 2h0m-1-2h0m0 1h0m-1 0h0m-2 0h0m0 2h0m-1-3h0m-2-2h0m0 4h0m-1-3h0m0 2h0m-2 2h0m-1-4h0m0 1h0m0 1h0m-1 0h0m-1 2h0m-1-5h0m0 1h0m-2 1h0m-3 1h0m-1-2h0m0 2h0m-1 0h0m-1-2h0m-3 1h0m0 3h0m-1 0h0m-1-3h0m-19 2h0m-2 1h0m-32-3h0m-1-2h0m0 2h0m-1-1h0m-2 0h0m0 1h0m-1 2h0m0 1h0m-1-4h0m0 1h0m-3 0h0m0 3h0m-1-5h0m0 2h0m-1 0h0m0 1h0m0 1h0m-2-4h0m-1 0h0m0 1h0m0 3h0m-2-3h0m0 3h0m-1-3h0m0 4h0m-1-4h0m0 4h0m-1-3h0m0 2h0m-2 1h0m-1-2h0m-1-1h0m0 2h0m-1-3h0m0 4h0m-1-5h0m0 3h0m-1-2h0m-1 1h0m-1-2h0m0 5h0m-1-5h0m0 2h0m-1-2h0m0 1h0m0 4h0m-1-3h0m-2-2h0m-1 0h0m0 1h0m-1-1h0m0 3h0m0 1h0m-2 1h0m-1-5h0m0 3h0m0 1h0m-1-3h0m0 1h0m-1 1h0m-1 1h0m0 1h0m-2-4h0m0 1h0m0 2h0m-1-1h0m0 2h0m-2-4h0m0 3h0m-2 0h0m-1-1h0m0 2h0m-3-3h0m0 1h0m0 2h0m-1-4h0m0 1h0m-1-2h0m0 1h0m0 3h0m-1-2h0m0 1h0m0 1h0m-1-3h0m-1 2h0m0 1h0m-1-3h0m-1 0h0m-2 2h0m0 1h0m-3-1h0m0 1h0m-2-2h0m-2 3h0m-1-5h0m0 3h0m-1-2h0m0 1h0m-2 0h0m0 1h0m-2-2h0m0 1h0m0 2h0m-1-2h0m0 3h0m-1-5h0m0 1h0m0 3h0m-1-3h0m-2 1h0m0 3h0m-1-2h0m-1-2h0m0 4h0m-1-3h0m-1-1h0m-1 1h0m0 3h0m-1-4h0m0 2h0m-1 0h0m0 1h0m-3-4h0m0 1h0m-3 1h0m-2-2h0m0 3h0m-1 1h0m-2-4h0m0 3h0m-2 1h0m-1-3h0m0 2h0m0 2h0m-1-4h0m0 4h0m-1-5h0m0 4h0m-4 3h0m1-1h0m0 3h0m0 1h0m1 1h0m1-4h0m0 2h0m0 2h0m1-2h0m1-3h0m1 5h0m1-2h0m0 2h0m1-1h0m1 1h0m2-4h0m1-1h0m1 2h0m1 1h0m1-3h0m1 5h0m1-3h0m0 2h0m1-3h0m0 4h0m1-3h0m0 1h0m2 1h0m1-3h0m1 1h0m0 1h0m0 1h0m2-4h0m0 2h0m1 3h0m1-5h0m1 3h0m0 1h0m0 1h0m2-1h0m3-4h0m1 5h0m4-4h0m0 1h0m2 1h0m1 0h0m1 0h0m0 2h0m1-5h0m0 2h0m0 3h0m2-1h0m1-2h0m1 2h0m1-4h0m0 4h0m1-4h0m0 4h0m1-3h0m0 2h0m1-3h0m0 2h0m0 3h0m1-3h0m0 2h0m2 0h0m1-4h0m0 5h0m1-4h0m1-1h0m0 2h0m1 1h0m1 2h0m2-5h0m0 2h0m0 3h0m2-5h0m0 1h0m0 1h0m1-1h0m0 1h0m1 2h0m1-1h0m0 2h0m1-5h0m0 1h0m0 4h0m3-4h0m1-1h0m0 3h0m1-3h0m0 1h0m0 3h0m0 1h0m1-5h0m0 1h0m1-1h0m0 2h0m1-1h0m0 2h0m1-3h0m0 4h0m2-3h0m0 2h0m0 2h0m1-2h0m1 1h0m1-3h0m1 1h0m0 1h0m1-2h0m0 4h0m1-3h0m2 1h0m0 2h0m1-4h0m0 2h0m2-3h0m0 2h0m1-1h0m2 0h0m0 2h0m0 2h0m2-3h0m0 1h0m1-2h0m0 1h0m1 1h0m3-3h0m1 0h0m0 2h0m1 3h0m2-5h0m0 3h0m4-3h0m14 2h0m4-1h0m4 0h0m19 2h0m3-1h0m1-1h0m9-1h0m0 2h0m2 1h0m3-1h0m0 2h0m1 1h0m1-2h0m0 2h0m1-3h0m0 2h0m1 1h0m1-5h0m0 1h0m0 1h0m0 2h0m1-1h0m1-2h0m0 2h0m0 2h0m1-1h0m1-3h0m3 1h0m0 3h0m1-5h0m0 5h0m1-3h0m2 3h0m1-1h0m1-4h0m1 1h0m1 2h0m1 1h0m2 0h0m1-3h0m0 1h0m0 3h0m1-2h0m1-2h0m0 2h0m1 0h0m0 1h0m0 1h0m1-4h0m1 1h0m1 1h0m3-1h0m0 1h0m2-1h0m1-1h0m0 4h0m1-4h0m1 4h0m1-2h0m0 2h0m1-5h0m0 2h0m0 2h0m2-3h0m1 3h0m0 1h0m2-4h0m3 3h0m18 0h0m11 0h0m0 1h0m37 6h0m-7-1h0m-1 0h0m-4-4h0m-1 4h0m-2-1h0m-4-1h0m0 2h0m-5 1h0m-1-1h0m0 1h0m-1-2h0m0 2h0m-1-1h0m-1-2h0m-1 3h0m-4-4h0m0 3h0m-1 1h0m-1-1h0m-1-2h0m-2 3h0m-1-5h0m-3 1h0m0 4h0m-1-4h0m0 2h0m-1-2h0m0 2h0m-1-2h0m-1 3h0m-1-4h0m0 1h0m0 4h0m-1-2h0m0 1h0m-2 0h0m-1-3h0m-7 3h0m-6 0h0m-1 1h0m-2 0h0m-1-2h0m0 2h0m-3-5h0m-1 2h0m0 3h0m-2-1h0m-2-1h0m0 2h0m-1-1h0m-1 1h0m-1-1h0m0 1h0m-1 0h0m-1-4h0m0 1h0m0 1h0m-2 1h0m-1-3h0m0 3h0m-4-2h0m-1 1h0m-2-3h0m-1 2h0m0 2h0m-1 0h0m-1-4h0m0 5h0m-4-5h0m0 1h0m0 3h0m-3-2h0m-2 0h0m0 1h0m-1 1h0m-2-3h0m-1 1h0m0 3h0m-2-5h0m0 1h0m-2 0h0m-1 2h0m-4-1h0m-1-2h0m0 3h0m-1 0h0m0 1h0m-14-4h0m-2 1h0m-4 0h0m-12 2h0m-12-3h0m-10 4h0m-4-4h0m-3 4h0m-2-3h0m-3-1h0m0 5h0m-1-1h0m-1 1h0m-1-2h0m0 1h0m-1-4h0m0 4h0m-1-4h0m0 2h0m0 1h0m-1-2h0m-1-1h0m0 4h0m-1-3h0m-4 1h0m0 2h0m-1-4h0m0 5h0m-1-3h0m0 2h0m-1-1h0m-1-3h0m-1 0h0m0 3h0m0 1h0m-1-4h0m0 3h0m-2-3h0m-1 1h0m-1 3h0m-1 1h0m-1-4h0m0 4h0m-1-3h0m0 1h0m-1 2h0m-1-5h0m0 1h0m-1 4h0m-1-2h0m-1 2h0m-1-4h0m-1 1h0m-2-1h0m0 1h0m-1 3h0m-1-5h0m0 4h0m-1-4h0m0 5h0m-1-4h0m0 3h0m-1-4h0m0 5h0m-2-4h0m0 1h0m-1 0h0m-1-1h0m0 1h0m0 1h0m0 1h0m-3 0h0m-1 0h0m-2-3h0m-1 1h0m-1 1h0m-1-2h0m0 4h0m-1-2h0m-1-2h0m0 1h0m0 2h0m-1-1h0m-1 2h0m-1-4h0m0 2h0m-1-3h0m0 3h0m-1-1h0m0 2h0m-1-2h0m-3-2h0m0 3h0m-2-3h0m0 1h0m0 2h0m-1-2h0m-1-1h0m0 3h0m-1 0h0m-1-1h0m0 3h0m-1-5h0m-1 3h0m-1-3h0m0 2h0m0 3h0m-1-5h0m0 5h0m-1-2h0m-2-3h0m-1 3h0m0 1h0m-1-3h0m-1 3h0m0 1h0m-1-4h0m-3 4h0m-1-5h0m0 3h0m-1-1h0m0 1h0m-1-1h0m0 3h0m-1-4h0m0 1h0m-1-1h0m0 1h0m0 2h0m0 1h0m-1-5h0m0 3h0m-2-2h0m-1 0h0m-1-1h0m0 4h0m-1-1h0m0 2h0m-1-5h0m-2 1h0m-2 1h0m-1-2h0m5 9h0m1 1h0m2-3h0m0 2h0m1-3h0m1 2h0m0 3h0m2-5h0m0 2h0m0 3h0m1-4h0m1 1h0m1 0h0m1 3h0m1-5h0m1 3h0m0 1h0m1 1h0m1-5h0m0 2h0m0 1h0m0 1h0m0 1h0m1-3h0m0 2h0m2 0h0m2-3h0m0 1h0m1 1h0m2-1h0m0 3h0m2-5h0m1 0h0m0 4h0m0 1h0m1-4h0m0 1h0m0 2h0m1 1h0m1-4h0m1 1h0m3-1h0m0 2h0m0 1h0m3-3h0m0 3h0m0 1h0m1-4h0m0 1h0m0 1h0m0 2h0m1-1h0m1-4h0m1 5h0m1 0h0m1-5h0m0 4h0m1 0h0m2-2h0m0 2h0m1-3h0m0 1h0m0 2h0m0 1h0m1-2h0m0 2h0m1-4h0m1 3h0m1-4h0m0 2h0m0 2h0m1-1h0m1-3h0m0 2h0m0 1h0m0 1h0m1-4h0m0 1h0m2 4h0m1-2h0m0 1h0m1 0h0m1-2h0m0 3h0m1-2h0m1-1h0m0 2h0m1-4h0m0 1h0m0 2h0m0 2h0m1-3h0m1-1h0m0 1h0m1 3h0m1-5h0m0 3h0m0 2h0m1-5h0m0 5h0m2-2h0m1-2h0m0 2h0m1-1h0m0 3h0m2-5h0m0 2h0m1 0h0m0 2h0m0 1h0m1-2h0m0 2h0m1-1h0m2-3h0m0 3h0m1-4h0m0 2h0m1 3h0m1-2h0m1-3h0m0 2h0m2-1h0m1 2h0m1-3h0m0 1h0m0 2h0m0 1h0m1-4h0m0 4h0m1-4h0m0 5h0m1-4h0m1 0h0m1 4h0m1-5h0m0 2h0m0 3h0m1-1h0m0 1h0m2-4h0m0 2h0m1 1h0m1 0h0m1-1h0m1 1h0m2-3h0m1 0h0m3 0h0m22 2h0m4-3h0m34 3h0m2-1h0m1-2h0m0 3h0m1-1h0m0 2h0m0 1h0m1-2h0m4 2h0m1-1h0m3 0h0m1-3h0m0 1h0m2 0h0m1-2h0m0 1h0m0 2h0m0 2h0m1-5h0m1 5h0m1-2h0m0 1h0m1-3h0m0 3h0m1 0h0m1-4h0m1 3h0m1-2h0m0 3h0m1-2h0m3 3h0m1-5h0m1 2h0m2-2h0m0 2h0m0 2h0m0 1h0m1-1h0m1-4h0m0 1h0m0 1h0m0 2h0m2-2h0m1 0h0m2-1h0m1 2h0m1-3h0m1 4h0m9-4h0m0 2h0m3 2h0m2-4h0m2 5h0m2-5h0m0 4h0m2-3h0m0 4h0m1-5h0m1 1h0m0 3h0m1-2h0m2 2h0m0 1h0m1-5h0m0 2h0m1-2h0m0 5h0m1-3h0m1 2h0m1-4h0m3 2h0m1 1h0m0 1h0m1-3h0m1 0h0m0 2h0m0 1h0m1 0h0m2-3h0m1 2h0m0 2h0m1-3h0m1-2h0m0 3h0m0 1h0m1-3h0m1 2h0m0 1h0m0 1h0m1-2h0m1 2h0m1-5h0m0 1h0m0 2h0m0 1h0m1-1h0m1 1h0m2 1h0m2-1h0m0 1h0m2 0h0m1-4h0m1 1h0m1 3h0m1 0h0m1 0h0m2-2h0m0 1h0m1-4h0m0 5h0m1-4h0m1-1h0m0 2h0m0 1h0m0 1h0m4 0h0m2-4h0m1 2h0m2 2h0m1 1h0m2-3h0m2 0h0m0 1h0m3 2h0m2 5h0m-1-4h0m0 3h0m-2-3h0m0 1h0m-1-1h0m0 2h0m0 2h0m0 1h0m-2-2h0m0 2h0m-1-5h0m-1 1h0m-2 2h0m0 2h0m-1-5h0m0 2h0m-1-2h0m0 2h0m-1-2h0m0 5h0m-1-5h0m0 2h0m-2-2h0m-2 2h0m0 2h0m-1-2h0m-1 3h0m-1-2h0m0 1h0m-1-4h0m0 3h0m-1-1h0m-1-2h0m-2 4h0m-1-2h0m0 3h0m-1-4h0m-1 2h0m-2 1h0m-2 1h0m-1-3h0m-1 1h0m0 1h0m-1-2h0m-2 0h0m0 3h0m-1-5h0m0 5h0m-1-3h0m-3-1h0m-1-1h0m0 2h0m0 1h0m-1-3h0m-1 1h0m-1 0h0m0 3h0m-1-1h0m0 2h0m-1-1h0m-2-3h0m0 4h0m-2-2h0m0 2h0m-1-3h0m0 2h0m-1-2h0m0 3h0m-1-2h0m-2 0h0m-1-2h0m-2 0h0m0 2h0m-1-3h0m-1 2h0m0 2h0m-3-1h0m-1-3h0m0 1h0m-1 2h0m-1-1h0m-1-1h0m-1 1h0m-7 1h0m-3 2h0m-3-4h0m0 2h0m-2 0h0m-2-3h0m0 1h0m-2 1h0m0 1h0m-3 0h0m-1 2h0m-1-4h0m-1-1h0m0 4h0m-1-1h0m-1-3h0m-1 1h0m-1 2h0m-1 2h0m-1-3h0m-1-1h0m0 3h0m0 1h0m-2-1h0m-1-4h0m-1 0h0m0 3h0m0 2h0m-1-1h0m-1-2h0m0 2h0m-2 0h0m-1-2h0m0 1h0m0 1h0m-3-1h0m0 1h0m-2-2h0m-1 0h0m0 2h0m-1-4h0m0 1h0m0 4h0m-2-3h0m-1-1h0m-2-1h0m-2 4h0m-1-1h0m-1-3h0m-1 0h0m0 2h0m0 1h0m-1-2h0m0 1h0m-1 3h0m-2-2h0m-16 2h0m-1-2h0m0 2h0m-1-2h0m-1 1h0m-1-1h0m0 2h0m-3-3h0m-8-2h0m-21 5h0m-2 0h0m-1-5h0m-2 1h0m0 4h0m-1-5h0m0 2h0m-1-1h0m0 2h0m-1-1h0m0 2h0m0 1h0m-1-5h0m-1 2h0m0 3h0m-1-1h0m-1-3h0m-1-1h0m0 4h0m0 1h0m-1-4h0m-1 2h0m-1-3h0m0 2h0m0 3h0m-1-3h0m0 3h0m-1 0h0m-1-5h0m-1 5h0m-1-5h0m0 2h0m0 3h0m-1 0h0m-1 0h0m-1-5h0m-1 1h0m0 2h0m0 1h0m-1-3h0m-1 0h0m-1-1h0m-1 0h0m-1 0h0m-1 0h0m-1 1h0m-3 0h0m0 1h0m-1-2h0m0 5h0m-1-4h0m0 1h0m0 2h0m0 1h0m-1-3h0m-2-1h0m-2 0h0m0 2h0m-1 0h0m-1-3h0m0 4h0m-3-4h0m0 4h0m-1-2h0m-1 2h0m-1-4h0m0 3h0m-1-3h0m0 2h0m0 2h0m-1-3h0m0 1h0m-1-1h0m-2 3h0m-1-4h0m-1 1h0m-1-1h0m0 2h0m-1-1h0m0 4h0m-2-4h0m0 2h0m0 1h0m-1 0h0m-1-1h0m0 1h0m-1-4h0m0 4h0m-1-2h0m0 3h0m-1-5h0m0 2h0m0 1h0m-2-1h0m-1 3h0m-1-5h0m0 3h0m-2-3h0m0 2h0m-1 2h0m-1-1h0m-1-3h0m0 5h0m-1-2h0m-2 0h0m-1-3h0m-1 3h0m-1-2h0m0 2h0m-2-1h0m-1-2h0m0 4h0m-1 0h0m-1-2h0m0 2h0m-3-3h0m0 3h0m0 1h0m-2-5h0m0 3h0m-1 2h0m-1-5h0m-1 2h0m0 2h0m-1 0h0m0 1h0m-1-5h0m0 5h0m-2-4h0m-1 0h0m-1-1h0m-2 2h0m0 3h0m-2-4h0m0 1h0m0 1h0m-1 0h0m0 2h0m-2-5h0m-2 0h0m4 10h0m3-4h0m1 0h0m2 0h0m0 4h0m1-4h0m0 2h0m2 0h0m1-2h0m0 4h0m0 1h0m1-4h0m0 2h0m0 1h0m0 1h0m1-1h0m1-2h0m0 2h0m1 0h0m1-4h0m0 3h0m1-1h0m0 2h0m1-2h0m0 2h0m0 1h0m2-5h0m1 4h0m2-3h0m0 2h0m1-2h0m1-1h0m3 5h0m2-5h0m0 1h0m2 1h0m1 2h0m2-3h0m1 1h0m0 1h0m1-3h0m0 2h0m1-1h0m0 2h0m1-3h0m0 1h0m0 4h0m1-3h0m0 2h0m1-3h0m0 2h0m0 2h0m1-1h0m1-4h0m0 2h0m1-2h0m0 5h0m1-4h0m0 1h0m2 1h0m1 1h0m0 1h0m2-3h0m0 3h0m1-4h0m0 2h0m0 2h0m3-2h0m1-3h0m1 0h0m0 5h0m1-5h0m0 3h0m1-1h0m1 0h0m0 2h0m1-3h0m0 1h0m1 1h0m1-3h0m2 2h0m1-2h0m1 0h0m0 3h0m1-3h0m0 1h0m0 1h0m0 2h0m1-2h0m2-2h0m0 4h0m1-1h0m1 1h0m1 0h0m0 1h0m1-5h0m1 4h0m1-3h0m1-1h0m0 1h0m3-1h0m0 1h0m1-1h0m0 3h0m0 1h0m1-4h0m0 4h0m1-2h0m0 2h0m0 1h0m1-4h0m1 3h0m1-4h0m0 3h0m1-3h0m2 5h0m1-3h0m1 0h0m2 3h0m1-5h0m1 2h0m0 3h0m1-5h0m0 1h0m0 3h0m0 1h0m1-4h0m0 2h0m0 2h0m2-5h0m1 0h0m0 5h0m1-1h0m1 0h0m1-4h0m1 0h0m1 0h0m0 4h0m19-2h0m5 1h0m3 0h0m2-3h0m0 3h0m1-3h0m0 2h0m0 2h0m2-3h0m0 2h0m1-1h0m0 1h0m1-3h0m1 1h0m1 3h0m3-4h0m0 3h0m1 0h0m0 1h0m2 0h0m1 0h0m15-3h0m1 0h0m0 2h0m3-3h0m0 1h0m3 3h0m1-4h0m0 1h0m0 2h0m1-2h0m0 1h0m0 1h0m1 1h0m1-3h0m0 2h0m1-3h0m0 4h0m1-3h0m1 1h0m1-1h0m1-1h0m2 2h0m1-1h0m0 1h0m0 3h0m1-1h0m2-4h0m2 1h0m1 0h0m1 4h0m1-3h0m1-1h0m1 4h0m4-4h0m0 3h0m2-3h0m4-1h0m0 2h0m21-2h0m8 1h0m0 2h0m0 1h0m1-2h0m0 1h0m1-2h0m1 0h0m2 0h0m1 4h0m1-5h0m0 4h0m2 1h0m2-1h0m0 1h0m1-3h0m3-1h0m2-1h0m2 5h0m3-2h0m1 0h0m1 1h0m1 1h0m2 0h0m2-2h0m0 1h0m1 1h0m1-5h0m1 1h0m1-1h0m0 5h0m1-4h0m0 3h0m5-1h0m1 0h0m0 2h0m1-3h0m1 2h0m1-3h0m0 1h0m0 3h0m2-1h0m1-1h0m0 1h0m1-2h0m1-2h0m0 4h0m0 1h0m3-4h0m1 2h0m1 2h0m1-1h0m3-1h0m18 8h0m-2-1h0m-20-3h0m0 1h0m-1 2h0m-2-2h0m-1 1h0m-1-1h0m0 2h0m-1-3h0m0 3h0m-2-4h0m0 4h0m-2-1h0m-1-3h0m0 1h0m-1 4h0m-2-3h0m-1 3h0m-1-3h0m-2 0h0m-1 1h0m-1-1h0m-3-1h0m0 1h0m-1 1h0m-3-1h0m0 2h0m-1-2h0m0 3h0m-1-3h0m0 1h0m-1-3h0m-1 2h0m0 3h0m-1-2h0m-1-1h0m0 2h0m-1-1h0m0 2h0m-1-4h0m-1-1h0m0 3h0m0 1h0m-1-1h0m-1-3h0m0 4h0m-1-2h0m0 3h0m-2-4h0m0 3h0m-1-2h0m-2 0h0m0 2h0m-1-2h0m0 2h0m-1-1h0m0 1h0m-3-2h0m-1 0h0m-1-1h0m0 2h0m-3 0h0m-41-1h0m-1-1h0m-3-1h0m-2 1h0m-4-1h0m-5 2h0m-2-1h0m-1-1h0m-2 1h0m0 2h0m-1-3h0m-19 4h0m-2-1h0m-1-1h0m-1-1h0m-2 0h0m-1 3h0m-1-1h0m-1-1h0m-1 1h0m-1-2h0m-2 2h0m0 2h0m-1-1h0m0 1h0m-1 0h0m-2 0h0m-8-4h0m-18-1h0m-2 0h0m-1 5h0m-1-2h0m0 1h0m-2 0h0m-1-1h0m-3-1h0m-1-2h0m-1 0h0m0 5h0m-6-3h0m-1-2h0m-1 2h0m-1-1h0m-1 2h0m-1-2h0m0 1h0m-1-1h0m-1 1h0m-1-2h0m0 3h0m-1-2h0m0 4h0m-1-4h0m-1 0h0m0 1h0m0 2h0m-1-4h0m0 3h0m-1 1h0m-1-2h0m-2 2h0m0 1h0m-1-4h0m0 3h0m-1-1h0m-1 0h0m-1-2h0m0 3h0m-2-2h0m0 3h0m-1-2h0m0 2h0m-1-5h0m0 1h0m-1 3h0m-1 1h0m-1-5h0m0 4h0m-1 1h0m-1-2h0m-2-3h0m0 3h0m-1-2h0m-1-1h0m0 1h0m0 3h0m-1-2h0m-2-2h0m0 3h0m-1-3h0m0 1h0m0 2h0m0 2h0m-1 0h0m-1-5h0m0 1h0m-1 1h0m-1-2h0m0 4h0m-1-1h0m-1-3h0m-1 0h0m0 4h0m-1-3h0m0 1h0m0 1h0m-3-3h0m0 4h0m-1-3h0m0 2h0m-1-1h0m0 1h0m-2-2h0m0 1h0m0 1h0m-3-2h0m0 3h0m-1-2h0m-1 2h0m-2 0h0m-2-4h0m-1 3h0m0 1h0m-1 1h0m-1-1h0m-1-1h0m-2-3h0m0 4h0m-2-4h0m0 2h0m0 2h0m-1-2h0m-1-1h0m-1 0h0m-1-1h0m0 1h0m0 2h0m0 2h0m-2-4h0m0 3h0m-1-3h0m-1-1h0m-1 4h0m0 1h0m-1-5h0m-1 4h0m-1 1h0m-2-5h0m0 3h0m-1 2h0m-1-5h0m0 4h0m-2-4h0m0 4h0m-1-3h0m5 7h0m3-2h0m0 3h0m0 2h0m1-4h0m0 3h0m2-4h0m1 3h0m0 2h0m1-3h0m0 2h0m1-4h0m0 3h0m1-3h0m0 5h0m1 0h0m1-4h0m0 4h0m1-5h0m0 2h0m2-2h0m1 5h0m1-5h0m0 3h0m0 2h0m1-3h0m1 0h0m1 0h0m2-1h0m0 3h0m1-3h0m1 3h0m0 1h0m1-3h0m0 1h0m1 0h0m1 2h0m1-5h0m0 2h0m0 1h0m1-1h0m0 1h0m0 1h0m1 1h0m1-2h0m0 1h0m2 1h0m1-3h0m1-2h0m0 1h0m0 2h0m1-2h0m1 4h0m1-5h0m0 2h0m0 3h0m1-5h0m1 0h0m0 2h0m0 1h0m0 2h0m1-2h0m1-2h0m0 1h0m0 1h0m0 1h0m1-2h0m0 1h0m0 1h0m2-1h0m0 1h0m0 1h0m1-4h0m1 4h0m1-5h0m0 3h0m1-3h0m0 1h0m1-1h0m2 3h0m0 2h0m1-3h0m0 3h0m2-2h0m2-3h0m0 5h0m1-4h0m0 1h0m1 0h0m3 0h0m0 3h0m2-3h0m1-1h0m0 4h0m1-4h0m1 1h0m0 3h0m2-2h0m0 1h0m0 1h0m3-3h0m2 3h0m1-1h0m1 0h0m1-2h0m1-1h0m1-1h0m1 3h0m3 1h0m0 1h0m2 0h0m1-3h0m2 1h0m1-1h0m2 2h0m2-3h0m0 3h0m1 1h0m2-4h0m0 2h0m1 1h0m0 1h0m1-4h0m0 2h0m4-2h0m0 1h0m0 2h0m3-1h0m24 0h0m2-2h0m0 2h0m0 1h0m2-1h0m1-1h0m0 2h0m3-4h0m0 2h0m0 2h0m1-2h0m0 2h0m1-4h0m1 3h0m1-3h0m18 4h0m2 0h0m3 0h0m1-1h0m6-2h0m0 3h0m4 1h0m1-1h0m2 1h0m5 0h0m46-5h0m0 1h0m1 4h0m1-5h0m0 5h0m2-3h0m1-1h0m2 4h0m2-5h0m0 5h0m2-4h0m0 1h0m0 2h0m1 1h0m1-2h0m1-3h0m2 1h0m2-1h0m2 0h0m0 3h0m1 2h0m4-2h0m2-1h0m1 1h0m0 1h0m0 1h0m2-5h0m0 4h0m1-4h0m0 1h0m0 3h0m1-4h0m0 5h0m2-5h0m0 4h0m0 1h0m1-4h0m1 1h0m2 2h0m0 1h0m2-1h0m1-2h0m1 1h0m1-2h0m1 0h0m0 4h0m-2 1h0m-4 0h0m-1 1h0m-2 1h0m-1-1h0m-2 2h0m-1-2h0m-3 0h0m-5 0h0m-2-1h0m-1 2h0m-1-1h0m0 2h0m-1-3h0m0 2h0m-5-1h0m0 1h0m-1 2h0m-3-2h0m0 2h0m-1 0h0m-3-1h0m-2-1h0m-2-1h0m0 3h0m-5-1h0m-2-1h0m0 1h0m-3 0h0m-18 1h0m-3-3h0m-4 4h0m-1-1h0m-1-2h0m0 2h0m0 1h0m-2-3h0m-1 1h0m0 1h0m-1-4h0m0 3h0m-1-1h0m-2 0h0m0 2h0m-3-3h0m-1 4h0m-33-4h0m-1 1h0m0 2h0m-1 0h0m-3-4h0m0 2h0m-1-2h0m-2 0h0m-1 0h0m0 2h0m-1 3h0m-1-4h0m0 2h0m0 2h0m-1-5h0m0 3h0m-1-3h0m-1 0h0m0 3h0m-2-1h0m0 3h0m-5-4h0m-1 1h0m0 3h0m-1-5h0m-1 4h0m0 1h0m-8-3h0m-16 1h0m-5-2h0m0 2h0m0 1h0m-3 1h0m-1-1h0m0 1h0m-1-4h0m0 4h0m-1-1h0m0 1h0m-1-2h0m-3-2h0m-8-1h0m-1 4h0m-1-3h0m-1 2h0m-1-3h0m0 3h0m0 1h0m-2-2h0m0 3h0m-1 0h0m-1-5h0m0 1h0m0 1h0m0 2h0m-1-1h0m-1-3h0m0 2h0m0 2h0m-1-3h0m0 1h0m-1-2h0m0 2h0m-1-1h0m0 2h0m-1-3h0m0 3h0m0 2h0m-1-5h0m0 4h0m-1-3h0m0 4h0m-2-5h0m0 2h0m-1-2h0m-2 3h0m0 1h0m-4 1h0m-1-3h0m-1 0h0m-1 3h0m-2-4h0m-2 0h0m-1 3h0m-1-4h0m0 2h0m-1 1h0m-1 2h0m-1-2h0m-4-1h0m0 2h0m0 1h0m-1-3h0m-1 0h0m-1 0h0m-1 2h0m-1-1h0m-2-1h0m0 2h0m-1-4h0m-1 0h0m0 2h0m0 2h0m-1-2h0m0 1h0m-1-3h0m0 4h0m0 1h0m-3-5h0m0 3h0m0 1h0m-1-2h0m-1 2h0m-1-2h0m-1-2h0m0 3h0m-2-2h0m0 1h0m-1 1h0m-2 1h0m-1-4h0m0 3h0m-1-2h0m0 3h0m-1-4h0m0 3h0m-1 2h0m-1-4h0m0 4h0m-4-5h0m0 5h0m-1-4h0m-1-1h0m0 1h0m0 1h0m-3-1h0m4 6h0m2 0h0m2-1h0m1 3h0m1 1h0m2-3h0m1 1h0m0 3h0m2-4h0m0 2h0m1-3h0m0 3h0m1-2h0m0 3h0m0 1h0m1-5h0m0 5h0m2-1h0m2-4h0m0 4h0m0 1h0m1-5h0m0 2h0m1 2h0m2 1h0m1-2h0m1-2h0m0 4h0m1-5h0m0 2h0m0 3h0m1-3h0m0 1h0m0 1h0m1-2h0m0 1h0m3 0h0m0 1h0m1-2h0m1-2h0m2 0h0m0 1h0m0 3h0m1-3h0m1 4h0m1-5h0m1 5h0m1-5h0m0 2h0m0 1h0m4 0h0m1-3h0m1 2h0m0 2h0m2-4h0m1 4h0m1-3h0m0 4h0m1-2h0m0 1h0m1-2h0m0 3h0m1-1h0m1-3h0m1 3h0m2-2h0m0 2h0m2-4h0m0 2h0m0 3h0m1-3h0m0 2h0m1-4h0m0 5h0m3-3h0m0 2h0m1-4h0m0 1h0m0 1h0m0 1h0m1-3h0m0 3h0m1-3h0m1 1h0m0 4h0m1-1h0m1-2h0m0 1h0m0 1h0m1-4h0m1 5h0m3 0h0m2-5h0m3 4h0m0 1h0m1-3h0m1-1h0m0 2h0m1-3h0m0 2h0m0 2h0m0 1h0m1-5h0m1 3h0m1-3h0m0 4h0m0 1h0m1 0h0m1-4h0m0 3h0m0 1h0m1-5h0m0 1h0m0 2h0m0 1h0m2-3h0m0 4h0m1-3h0m0 2h0m1-3h0m0 2h0m0 2h0m1-2h0m0 1h0m2-3h0m0 1h0m1 1h0m0 1h0m1-3h0m1 0h0m0 2h0m21-1h0m1-1h0m0 3h0m0 1h0m1-2h0m0 2h0m1-4h0m1 0h0m2-1h0m1 1h0m0 1h0m1 1h0m0 1h0m1-4h0m0 1h0m0 4h0m1-4h0m0 1h0m1 3h0m1-3h0m2-1h0m0 1h0m2-2h0m0 1h0m0 2h0m1 1h0m1 0h0m1-4h0m3 3h0m0 1h0m1 1h0m2-4h0m0 3h0m1-4h0m1 3h0m0 1h0m1-3h0m0 1h0m0 2h0m34-4h0m3 1h0m2 1h0m1-1h0m1 0h0m0 1h0m0 1h0m1-1h0m1-2h0m0 1h0m0 1h0m0 3h0m1-5h0m1 5h0m1-5h0m0 2h0m1-1h0m0 4h0m1-5h0m0 3h0m1-3h0m0 5h0m1-5h0m0 3h0m1-3h0m1 4h0m0 1h0m1-3h0m1 3h0m24-5h0m1 0h0m1 1h0m7 0h0m-33 6h0m0 1h0m0 2h0m-2-3h0m0 2h0m0 2h0m-2-5h0m-1 1h0m0 1h0m0 1h0m-1-3h0m0 5h0m-1-2h0m-1-2h0m0 3h0m0 1h0m-5-5h0m-9 5h0m-2-1h0m-1-1h0m0 1h0m0 1h0m-1-5h0m0 3h0m-1-3h0m-1 3h0m-2-2h0m-1 3h0m-3 1h0m-3 0h0m-12-1h0m-1-3h0m0 4h0m-1-5h0m-4 2h0m-2 1h0m-1 0h0m0 1h0m-1-3h0m0 2h0m-1-3h0m0 3h0m-1-1h0m-1 2h0m-1-3h0m0 4h0m-1 0h0m-1-5h0m-1 0h0m-3 1h0m-1 0h0m-2 1h0m-1-2h0m-1 2h0m-4-2h0m-1 2h0m-1 0h0m0 3h0m-2 0h0m-19-4h0m-1 3h0m-1-2h0m-1 0h0m-1-1h0m0 2h0m0 2h0m-1-5h0m0 2h0m0 1h0m-1-2h0m0 1h0m-1 3h0m-1-3h0m0 2h0m0 1h0m-1-1h0m0 1h0m-1-4h0m0 2h0m-1-3h0m0 4h0m-1-4h0m0 2h0m-1 3h0m-1-5h0m0 1h0m0 1h0m0 1h0m-1-3h0m0 3h0m0 1h0m-1-4h0m0 2h0m0 1h0m0 1h0m-1-4h0m0 4h0m-1-3h0m0 1h0m0 1h0m-1-3h0m0 2h0m0 2h0m-1-2h0m-1-2h0m0 3h0m-1-2h0m-1 1h0m-4 0h0m-3 3h0m-1-5h0m-1 0h0m0 1h0m-1 3h0m-1-1h0m-1-1h0m-1-1h0m0 2h0m-1-3h0m0 3h0m-1-1h0m-1-1h0m-1 1h0m-3-2h0m0 1h0m0 2h0m-1-3h0m0 5h0m-1-5h0m0 3h0m-2-3h0m0 2h0m0 3h0m-1-5h0m-1 1h0m0 2h0m-1 1h0m-1-2h0m0 1h0m-2-2h0m-1-1h0m0 2h0m-2 2h0m0 1h0m-1-3h0m0 2h0m-2-1h0m-1 2h0m-4-3h0m0 2h0m0 1h0m-1-3h0m-1-2h0m-1 1h0m-1-1h0m0 2h0m0 1h0m-1-2h0m0 2h0m-1 2h0m-2-3h0m-1-2h0m0 1h0m0 1h0m-2-1h0m0 1h0m-3-2h0m0 2h0m0 2h0m-3-1h0m0 1h0m-2-3h0m0 4h0m-1-3h0m0 3h0m-1-5h0m0 3h0m-1 2h0m-1-4h0m0 2h0m-2-3h0m-1 0h0m0 2h0m0 1h0m-4-2h0m8 5h0m1 4h0m1-2h0m1 0h0m3-1h0m0 4h0m2-2h0m1 2h0m1-4h0m0 3h0m3 1h0m1-3h0m1-1h0m3-1h0m2 4h0m1-4h0m1 1h0m2 0h0m1 1h0m1 3h0m1-1h0m1-1h0m1-2h0m0 3h0m2-1h0m1-1h0m0 1h0m2-3h0m2 1h0m0 2h0m1-2h0m1 0h0m0 2h0m2-2h0m0 1h0m0 2h0m0 1h0m1-3h0m2 1h0m3 1h0m2-4h0m0 1h0m0 2h0m0 2h0m2-5h0m3 1h0m6-1h0m0 3h0m3-2h0m0 3h0m1-4h0m1 1h0m1-1h0m4 0h0m0 1h0m1-1h0m3 0h0m2 0h0m2 2h0m1-2h0m17 2h0m5 3h0m1-4h0m1 4h0m2-5h0m0 1h0m0 1h0m1 0h0m1-2h0m1 1h0m0 4h0m1-5h0m0 4h0m1-3h0m1-1h0m0 3h0m0 2h0m1-2h0m1 1h0m2-2h0m0 2h0m1-3h0m1 0h0m1 2h0m1 0h0m1-1h0m1 0h0m3 2h0m2-2h0m1-2h0m3 3h0m2 2h0m1-3h0m1-2h0m0 3h0m0 1h0m1-4h0m1 3h0m1-2h0m0 3h0m1-2h0m6 2h0m9-1h0m0 2h0m1-2h0m1-3h0m0 5h0m1-5h0m0 5h0m1-5h0m0 1h0m0 1h0m2 3h0m1-3h0m1 0h0m0 1h0m0 2h0m1-5h0m3 4h0m1-4h0m0 2h0m0 3h0m2 0h0m12-2h0m1-2h0m0 1h0m1 1h0m0 2h0m1-3h0m0 3h0m2-5h0m0 2h0m0 1h0m1-2h0m0 4h0m1-5h0m0 3h0m0 2h0m1-3h0m0 1h0m0 2h0m1 0h0m1 0h0m20-1h0m0 1h0m53-4h0m6 4h0m-33 6h0m-3 0h0m-2-2h0m-1-1h0m-1-1h0m0 2h0m-1-1h0m-2-1h0m-1 2h0m-1 0h0m-2-2h0m0 1h0m-3 1h0m0 1h0m-2-1h0m0 1h0m-2 1h0m-3 0h0m-1-2h0m0 2h0m-1-4h0m0 1h0m-1 1h0m0 1h0m-3-4h0m0 2h0m-2-2h0m0 3h0m0 2h0m-1-4h0m0 4h0m-1-3h0m-1-2h0m-2 1h0m0 4h0m-1-2h0m-1 2h0m-6-4h0m0 2h0m-2 2h0m-1-3h0m-2-2h0m0 2h0m0 2h0m-1-3h0m-1 1h0m-1 0h0m-1-2h0m-17 0h0m0 2h0m-1 2h0m-1 1h0m-1 0h0m-2-5h0m0 1h0m-1 1h0m0 2h0m-1-3h0m-2 2h0m-15-3h0m-6 5h0m-1-5h0m0 3h0m-1-2h0m0 2h0m-2-3h0m0 1h0m0 3h0m-1 1h0m-2-5h0m-3 0h0m0 2h0m-1-1h0m0 4h0m-1-5h0m0 2h0m0 3h0m-1-4h0m-1 4h0m-1-5h0m0 2h0m-1-2h0m-1 1h0m-3 1h0m-1 0h0m-1-2h0m0 2h0m0 1h0m0 2h0m-1-3h0m-1-1h0m-1-1h0m0 5h0m-1-1h0m-2-4h0m0 5h0m-1 0h0m-1-5h0m-1 1h0m-3 0h0m-1-1h0m-1 0h0m0 4h0m-2-3h0m-27 4h0m-4-4h0m-5 3h0m-1-4h0m-8 0h0m-6 1h0m-2 0h0m0 1h0m-3-2h0m0 3h0m-1-3h0m-2 3h0m-1-3h0m-6 0h0m-2 0h0m0 1h0m-8 1h0m-10-1h0m0 1h0m-1 1h0m-5 2h0m13 3h0m6 1h0m4 1h0m61-4h0m0 1h0m1 0h0m0 3h0m1-2h0m1-2h0m3 1h0m0 1h0m0 2h0m1-4h0m0 3h0m1 1h0m1-1h0m1 0h0m1-1h0m0 1h0m3-2h0m2 0h0m4-1h0m2 2h0m0 2h0m1 1h0m2-4h0m1 3h0m1-2h0m1-1h0m1-1h0m0 1h0m0 3h0m1-3h0m0 1h0m1-1h0m0 3h0m1-4h0m0 3h0m1 1h0m0 1h0m4-4h0m0 3h0m0 1h0m1-1h0m1-1h0m0 2h0m1-4h0m1 2h0m0 2h0m1 0h0m2-4h0m2-1h0m0 1h0m2-1h0m0 4h0m0 1h0m1-2h0m2 1h0m21-4h0m4 0h0m24 1h0m1 1h0m2-2h0m3 0h0m0 3h0m1-3h0m3 0h0m0 2h0m0 2h0m1-4h0m0 1h0m0 2h0m1-1h0m0 2h0m2-3h0m1 3h0m0 1h0m1-5h0m0 1h0m0 1h0m1-1h0m0 3h0m1-2h0m0 1h0m1 1h0m2-3h0m0 1h0m0 2h0m2-4h0m0 1h0m2 1h0m0 1h0m1-2h0m1 1h0m0 1h0m1-1h0m0 1h0m0 2h0m1-5h0m0 1h0m0 3h0m3-3h0m0 1h0m1-1h0m0 2h0m0 1h0m1-2h0m1 1h0m0 1h0m1-3h0m1 2h0m1-2h0m2 0h0m0 1h0m1 1h0m1 0h0m3-1h0m1-2h0m1 1h0m27 9h0m-1 0h0m-35-4h0m-2 0h0m0 1h0m0 1h0m-1-1h0m0 2h0m-1-3h0m0 3h0m-1-1h0m-2 1h0m-3-3h0m-3 0h0m0 1h0m0 2h0m-1-3h0m-1 1h0m-1 0h0m-2 0h0m-9 0h0m-65 0h0m-1 0h0m-1-1h0m-1 2h0m-3 1h0m-1-3h0m0 2h0m0 2h0m-1 0h0m-2-2h0m0 3h0m-1-4h0m0 3h0m-1 0h0m-1-3h0m0 4h0m-1-5h0m0 1h0m-3 3h0m-1 1h0m-5-4h0m-3-1h0m0 4h0m-2-4h0m0 4h0m0 1h0m-1-1h0m0 1h0m-1-5h0m0 3h0m-3-2h0m-1-1h0m0 1h0m0 1h0m-1-1h0m0 2h0m0 1h0m-1-2h0m0 2h0m-5-4h0m0 4h0m0 1h0m-1-1h0m-3 1h0m-2-3h0m-1-1h0m0 4h0m-1-5h0m0 2h0m-1-2h0m0 5h0m-2-3h0m-2 3h0m-3-1h0m-2 1h0m-1-3h0m-1 3h0m-3 0h0m-1-2h0m-1 1h0m0 1h0m-3-1h0m0 1h0m-40-3h0m0 2h0m36 6h0m1-2h0m3 1h0m3-3h0m0 1h0m1 2h0m1 0h0m0 1h0m1-1h0m1-2h0m1 1h0m0 1h0m2 0h0m3 2h0m2-5h0m0 3h0m1 2h0m1-5h0m0 2h0m0 2h0m1 1h0m2-4h0m0 2h0m4-3h0m0 5h0m1-3h0m2-2h0m0 3h0m0 2h0m1-4h0m0 4h0m1-3h0m1-2h0m0 3h0m0 1h0m3-2h0m0 1h0m0 1h0m1-2h0m1-1h0m0 2h0m1-1h0m0 3h0m1-3h0m0 2h0m1-1h0m1-1h0m1-1h0m0 1h0m3-2h0m1 1h0m1 2h0m0 1h0m1-3h0m0 2h0m1 0h0m2-1h0m2-1h0m1 1h0m0 3h0m1-5h0m0 2h0m1-2h0m0 4h0m1-2h0m2 2h0m1-1h0m1 0h0m0 2h0m1-1h0m0 1h0m3-5h0m0 2h0m89-2h0m0 1h0m1 3h0m2-2h0m37 1h0m2-2h0m1-1h0m0 11h0m-3 0h0m-4 0h0m-15-5h0m-45 4h0m-15 1h0m-1-1h0m-55-4h0m-4 1h0m-1 1h0m-1-2h0m0 5h0m-1-4h0m-2 1h0m-4 1h0m-3-2h0m0 4h0m-1-5h0m-1 5h0m-1-4h0m0 1h0m0 1h0m-2-2h0m0 2h0m-5-3h0m-1 4h0m-2-4h0m-1 1h0m0 2h0m-1-1h0m-1-1h0m-1 4h0m-2-2h0m-1-3h0m-1 0h0m-3 2h0m0 2h0m-2-4h0m0 4h0m-1-4h0m0 3h0m-1-2h0m0 4h0m-1-1h0m-1-4h0m0 5h0m-1 0h0m-1-5h0m-2 2h0m-1 3h0m-1-2h0m-1 0h0m-1-2h0m0 2h0m-2 1h0m-2-1h0m-1-1h0m0 3h0m-1-5h0m-1 0h0m0 1h0m-1 1h0m-1-1h0m-4 5h0m2 3h0m1 2h0m1-3h0m3-2h0m0 2h0m1-2h0m1 2h0m1-1h0m0 2h0m0 2h0m1-1h0m1 1h0m4 0h0m5-5h0m0 3h0m2-1h0m1 3h0m1-3h0m1 1h0m0 2h0m1-2h0m1-1h0m1-2h0m1 1h0m1 0h0m2 2h0m0 1h0m1 1h0m1-3h0m4-2h0m2 5h0m1-4h0m2 0h0m1 4h0m3-4h0m2 4h0m2-3h0m4 0h0m0 1h0m3-1h0m3 0h0m1-2h0m26 2h0m5 3h0m5 0h0m1 0h0m1-1h0m3 1h0m1-2h0m1 0h0m1 2h0m19-3h0m6-2h0m1 3h0m2-2h0m0 2h0m1-1h0m1 1h0m0 2h0m1 0h0m2-5h0m1 3h0m1 0h0m1 0h0m1 0h0m1-2h0m0 3h0m38 1h0m1-4h0m12-1h0m1 0h0m2 1h0m5-1h0m3 0h0m-12 11h0m-13-4h0m0 4h0m-26-2h0m-5 0h0m-1 2h0m-1-4h0m0 2h0m0 2h0m-2-5h0m0 4h0m0 1h0m-1-4h0m-1 3h0m-2-1h0m-1-1h0m-1 1h0m0 1h0m-1 0h0m0 1h0m-2-5h0m0 3h0m0 2h0m-1-5h0m0 4h0m-1 0h0m-1-1h0m-25 2h0m-3-4h0m-1 2h0m-1-3h0m-1 0h0m0 2h0m-1-1h0m0 4h0m-1-1h0m-1 1h0m-1-1h0m-1-1h0m-1-1h0m0 3h0m-1-4h0m0 4h0m-4-4h0m-1-1h0m-1 0h0m0 5h0m-2-2h0m-49-3h0m-4 0h0m-1 0h0m0 3h0m-3-3h0m-1 1h0m-2 0h0m-2-1h0m-1 1h0m-4-1h0m-16 0h0m85 6h0m0 1h0m1 0h0m1-1h0m1 0h0m0 4h0m3-4h0m0 4h0m2-3h0m2 0h0m1 3h0m1-1h0m2-2h0m1 2h0m1 1h0m1-3h0m2 4h0m1 0h0m3-5h0m3 3h0m12 2h0m2-4h0m5 2h0m1-2h0m1 4h0m1-5h0m1 1h0m2 2h0m2-2h0m0 2h0m1-2h0m0 2h0m0 1h0m2-2h0m0 2h0m1-4h0m0 3h0m1-1h0m0 2h0m1-3h0m0 2h0m2-3h0m0 5h0m1-3h0m2 0h0m0 3h0m1-1h0m5 1h0m22-3h0m1 3h0m3-1h0m4 4h0m-1-2h0m0 3h0m0 2h0m-1-4h0m0 1h0m-1-2h0m0 1h0m-1 2h0m-1-3h0m-3 2h0m-1 1h0m-2 1h0m-10 0h0m-6-1h0m-1-1h0m-3-1h0m-2 2h0m-1-1h0m-1 0h0m0 2h0m-2-3h0m0 2h0m-2-2h0m0 2h0m-3-3h0m0 3h0m-2-3h0m-2 0h0m0 2h0m-1 3h0m-1-4h0m-1 0h0m0 2h0m0 2h0m-1-2h0m-1-2h0m0 1h0m-1 2h0m-1-4h0m-29 1h0m-1 3h0m-4-2h0m-31 3h0m-1 0h0m-9-1h0m0 1h0m-1-2h0m-1 1h0m0 1h0m-1 0h0m-5 0h0m-1-1h0m-2-2h0m-1 3h0m-7 4h0m0 2h0m2-3h0m0 1h0m0 2h0m1-4h0m0 2h0m2-2h0m0 3h0m1-2h0m1 3h0m2-3h0m1 0h0m1 0h0m1-2h0m0 4h0m1-4h0m0 4h0m1-1h0m0 2h0m1-2h0m0 1h0m1-4h0m0 5h0m2-2h0m1-2h0m0 2h0m1 1h0m1-4h0m0 2h0m2 1h0m1 2h0m1-5h0m0 2h0m1-1h0m3-1h0m0 2h0m68-1h0m3 0h0m4-1h0m18 1h0m0 3h0m1-1h0m1-3h0m0 1h0m1 1h0m4-1h0m-88 7h0m-2 2h0m-2 0h0m-1 0h0m-2 1h0m-7-4h0m-1 4h0m-2-3h0m0 2h0m-1 1h0m-1-4h0m0 1h0m0 1h0m0 1h0m-3 1h0m-1-2h0m0 1h0m-2-1h0m0 2h0m-4-5h0m-1 1h0m-1 2h0m-1-2h0m0 4h0m-1-5h0m-1 1h0m-1 1h0m0 1h0m-1-1h0m-1 0h0m-1-1h0m0 4h0m-2-1h0m-1-2h0m-1-2h0m0 4h0m-1-2h0m-1 0h0m-1 1h0m0 1h0m-1-3h0m-1 3h0m-1-3h0m-2 4h0m-1 2h0m1 2h0m0 1h0m0 1h0m1-4h0m0 4h0m1-5h0m2 2h0m1 0h0m0 2h0m1-3h0m1-1h0m1 1h0m1 1h0m2-2h0m0 1h0m1 3h0m2-4h0m1 1h0m0 2h0m1-1h0m0 1h0m1-3h0m0 1h0m1 0h0m4-1h0m1 3h0m1-1h0m0 1h0m1 1h0m2-4h0m1 1h0m0 1h0m2-2h0m0 5h0m1-2h0m3-3h0m19 5h0m2-2h0m2-2h0m22 4h0m3 0h0m1-1h0m75 7h0m-1-1h0m-1 0h0m-3-3h0m-1 1h0m-2 3h0m-1 0h0m-3-1h0m-1 1h0m-4 0h0m-37-5h0m-1 1h0m-1 1h0m-16 0h0m0 2h0m-1-3h0m0 3h0m0 1h0m-1-3h0m0 1h0m-1-1h0m0 1h0m-1-3h0m0 4h0m-1-4h0m-1 0h0m-6 4h0m-4 1h0m-2-3h0m0 2h0m0 1h0m-1-2h0m0 2h0m-1-1h0m-15-3h0m0 4h0m-7 0h0m-1 0h0m-8 0h0m-1-4h0m-3-1h0m0 1h0m-2 0h0m-1 0h0m0 1h0m-2-1h0m0 2h0m-2-2h0m0 3h0m-1-3h0m-1 2h0m-1-2h0m0 4h0m-2 0h0m-4-2h0m0 1h0m-1 0h0m0 1h0m-3 0h0m-1-4h0m0 2h0m-1-2h0m-1 0h0m0 1h0m-2-2h0m-2 5h0m-2-2h0m-1 1h0m-1 0h0m0 1h0m-1-5h0m0 5h0m-1-5h0m0 2h0m-1-1h0m6 8h0m2 1h0m1-3h0m1 0h0m0 1h0m1 0h0m1 0h0m0 2h0m1-4h0m0 2h0m1-1h0m0 2h0m1 0h0m2 0h0m1 1h0m1-3h0m1 1h0m0 3h0m1-4h0m1 2h0m1-3h0m1 0h0m0 2h0m1-1h0m1 2h0m2 1h0m1-1h0m0 1h0m1-3h0m0 2h0m1 2h0m2-4h0m3-1h0m0 2h0m0 3h0m4-2h0m4 1h0m1-2h0m0 1h0m0 1h0m1-4h0m1 3h0m2-3h0m1 1h0m1 3h0m0 1h0m1-5h0m0 5h0m3-1h0m1-3h0m1 1h0m1 2h0m5-2h0m1 2h0m7-3h0m0 2h0m1-2h0m2-1h0m1 1h0m4 2h0m7-2h0m1 2h0m1-2h0m1-1h0m1 0h0m1 2h0m1-2h0m2 1h0m0 4h0m10 0h0m38-4h0m1 1h0m1 2h0m1-3h0m0 3h0m2-3h0m0 3h0m1-3h0m0 1h0m0 2h0m1-2h0m0 1h0m1 1h0m1-4h0m2 0h0m1 1h0m1 2h0m1-3h0m0 1h0m0 3h0m3-4h0m-1 6h0m-7 0h0m0 1h0m-3-1h0m-1 1h0m-31-1h0m-4 0h0m-1 4h0m-1 0h0m-1 0h0m-3-2h0m-1 3h0m-1-3h0m-2-2h0m-1 0h0m-1 2h0m-1 1h0m0 1h0m-2-2h0m-1 1h0m-26-2h0m0 2h0m-8 1h0m-9 0h0m-3-4h0m-1 2h0m0 2h0m-2-4h0m0 4h0m-1-3h0m-1 1h0m-2 2h0m-1-3h0m-1 1h0m-1-2h0m0 4h0m-1-1h0m0 1h0m-1-4h0m0 3h0m-1-1h0m-1-1h0m-1 4h0m-1-1h0m-2-1h0m-1-1h0m-2 0h0m-1-2h0m0 4h0m0 1h0m-2-5h0m-1 3h0m0 2h0m-1-5h0m-1 3h0m0 1h0m-1-2h0m-2-1h0m-2 0h0m-2-1h0m-1 0h0m10 7h0m1 1h0m0 2h0m1-1h0m1-2h0m0 3h0m3-2h0m0 1h0m1-1h0m1-1h0m2 2h0m0 2h0m2-5h0m0 1h0m0 4h0m1-2h0m1 1h0m1-4h0m1 1h0m4-1h0m0 2h0m0 1h0m2-1h0m0 1h0m1 1h0m0 1h0m2 0h0m1-5h0m0 2h0m1 2h0m1-1h0m1-3h0m0 4h0m0 1h0m1-4h0m0 2h0m1-3h0m0 4h0m1-2h0m1 0h0m0 2h0m12-4h0m3 1h0m0 2h0m3-3h0m1 4h0m11-1h0m1 1h0m1 0h0m1 0h0m1-2h0m4 1h0m4 0h0m0 1h0m1-2h0m1 0h0m0 2h0m2-3h0m0 4h0m1-3h0m0 3h0m1-4h0m0 4h0m1-3h0m2 3h0m1-2h0m1-1h0m2 2h0m-2 4h0m-4-1h0m0 1h0m-1 1h0m-2-3h0m0 1h0m0 2h0m-9 0h0m0 2h0m-1 0h0m-2-4h0m-3-1h0m-1 0h0m0 5h0m-2 0h0m-3 0h0m-4-3h0m-1-2h0m-23 0h0m0 1h0m-2 0h0m-3 1h0m0 3h0m-2 0h0m-1-1h0m-1-4h0m0 2h0m-1 1h0m-1-3h0m-1 0h0m-7 0h0m-6 0h0m-3 3h0m-1-1h0m-2 0h0m24 4h0m1 1h0m38-1h0m1 0h0"/>
<path fill="none" stroke="#d84a58" stroke-width="2.5" stroke-linecap="square" d="M743 827h0m-24 5h0m13-1h0m5-1h0m0 3h0m49 7h0m-136 11h0m-1-5h0m-1 10h0m-1 4h0m2 19h0m3 8h0m7 14h0m4 3h0m5 7h0m-70 17h0m55-3h0m16 4h0m181 3h0m-9-2h0m-165 5h0m-87-2h0m26 3h0m4 5h0m7-1h0m33 5h0m-9 0h0m-40 0h0m-11-1h0m16 7h0m31-2h0m56 8h0m-60 2h0m-37-2h0m0 5h0m38-1h0m13 0h0m7 10h0m45 5h0m1 3h0m-69-1h0m-39 2h0m33 9h0m43 2h0m-4-1h0m-2 3h0m44 4h0m-76 6h0m-38 9h0m110-1h0m2 0h0m4-3h0m15 2h0m16 3h0m12-3h0m-102 5h0m-17 0h0m87 6h0m-21 12h0m11 4h0m134 0h0m-189 12h0m6-5h0m17 1h0m28-1h0m136 1h0m-100 8h0m-5-1h0m49 5h0m10 1h0m8 3h0m27 4h0m-2-1h0m-24 1h0m-6-3h0m-5 4h0m24 2h0m8 28h0m3-1h0m-4 3h0m-3 0h0"/>
<path fill="none" stroke="#e5252a" stroke-width="3" stroke-linecap="square" d="M698 863h0m-5-3h0m-10 7h0m11 2h0m1-1h0m83-3h0m3 2h0m32 3h0m-9 2h0m-41-2h0m-70 0h0m0 5h0m-2-5h0m-2 0h0m-4 3h0m-6 1h0m-2 7h0m1-3h0m4 1h0m13-2h0m84 3h0m15-3h0m6 4h0m3-3h0m5-1h0m1 3h0m1-2h0m1 1h0m3 1h0m2-4h0m-6 11h0m-3-3h0m-11 2h0m-4-3h0m-2 2h0m-6 2h0m-12-1h0m-1-3h0m-5 1h0m-48-2h0m-4 1h0m-5 4h0m-19-5h0m-2 0h0m0 5h0m-1 0h0m-3 0h0m-2 3h0m87 2h0m15-1h0m1 1h0m3-2h0m11 1h0m2 1h0m1-3h0m3 4h0m11-2h0m-12 5h0m-6-2h0m-14 4h0m-8-1h0m-10-2h0m-6-1h0m-43 1h0m-7 2h0m45 3h0m14 0h0m3 2h0m3 3h0m10 0h0m10 0h0m2-3h0m1 2h0m3 1h0m3-5h0m0 3h0m18 7h0m0 1h0m-1-5h0m-20 1h0m-1 3h0m-2-3h0m-2 3h0m0 1h0m-7-4h0m-9-1h0m0 2h0m0 3h0m-2-1h0m-1 1h0m-1-2h0m-1-1h0m-5 0h0m-2-2h0m-8 5h0m-144-2h0m1 4h0m76-1h0m76 0h0m1 0h0m18 3h0m4-3h0m21 5h0m14 4h0m-99-1h0m-33-1h0m-1-1h0m30 8h0m92 5h0m-44 4h0m-13-1h0m-1-3h0m-1 4h0m-3 0h0m-4-1h0m-18-4h0m-34 11h0m48-5h0m1 2h0m2 3h0m1-5h0m0 5h0m3-5h0m2 1h0m2 2h0m2 0h0m6 2h0m1-4h0m3 2h0m6 2h0m1 0h0m36 3h0m-34-1h0m0 1h0m-1 3h0m-2-1h0m-5-4h0m-1 0h0m-1 0h0m0 4h0m-1 0h0m-2-1h0m-14-3h0m-5 3h0m-2-3h0m0 4h0m-9-3h0m-23 3h0m-4 1h0m9 2h0m21 3h0m8 0h0m3-2h0m2 3h0m6-4h0m5 1h0m7 0h0m6 1h0m0 1h0m39-1h0m25 7h0m-2-1h0m-4-2h0m-7 4h0m-9-4h0m-1 1h0m-7 1h0m-7 1h0m-14 0h0m-19 0h0m-3-3h0m-3 2h0m-8-2h0m-10 1h0m-31-1h0m41 5h0m6 0h0m29 1h0m1 3h0m1-4h0m2 0h0m1 4h0m6-2h0m1 1h0m1-3h0m3 2h0m6 2h0m3-3h0m6 1h0m2-1h0m5 2h0m5 2h0m10 0h0m2-2h0m2-2h0m3 3h0m5 1h0m1-2h0m8 2h0m-1 1h0m-2 0h0m0 1h0m-2 0h0m-2 1h0m-5-2h0m-1 5h0m-5-3h0m-4 1h0m-2-3h0m-6 0h0m-4 0h0m-5 2h0m-9-1h0m-1 1h0m0 2h0m-5-2h0m-2 1h0m-3-2h0m-4 1h0m0 2h0m-1 1h0m-1-5h0m0 5h0m-4-3h0m-1-1h0m-14 2h0m-3 0h0m-13 0h0m-20-1h0m-136 5h0m140 1h0m21 1h0m4 0h0m31-2h0m3 0h0m1 3h0m4-3h0m7 0h0m5 4h0m4-1h0m3-2h0m9 2h0m4-1h0m5-1h0m3 3h0m4-4h0m5 1h0m-10 4h0m-4 3h0m-2 2h0m-2-3h0m-5 1h0m-6 0h0m-5-3h0m-2 3h0m-7 2h0m-2-4h0m-3 0h0m-1 4h0m-1-1h0m-1-4h0m-4 1h0m-45 0h0m-22 9h0m77 1h0m1-4h0m1 3h0m2-2h0m1-2h0m14 4h0m6 1h0m16-5h0m-14 7h0m-2 1h0m-2 1h0m0 2h0m-6-5h0m-1 1h0m-12 1h0m-4-1h0m-4 2h0m-3-3h0m-1 4h0m-1-3h0m-5 4h0m-30-1h0m-1-2h0m-3-1h0m-2 1h0m-2 2h0m-4 1h0m3 1h0m1 1h0m1-1h0m2 0h0m1 2h0m4 0h0m0 3h0m3-3h0m3 2h0m0 1h0m2 0h0m2 0h0m1 3h0m-1 1h0m-6 0h0m-1-3h0m0 2h0m1 5h0m0 1h0m1 3h0m2 0h0m4-2h0m19 2h0m1-3h0m2 2h0m0 1h0m4 0h0m22 6h0m-3 0h0m-2-2h0m0 2h0m-1-3h0m-12-1h0m-9 3h0m-2-1h0m-1-3h0m-2 5h0m-1-4h0m-4 0h0m0 2h0m-1 0h0m-1 2h0m-4-2h0m-3 1h0m-172 4h0m172 0h0m4-2h0m5 4h0m4-3h0m0 4h0m1-1h0m3-2h0m5-1h0m2 1h0m8 2h0m1-4h0m1 3h0m5-2h0m-4 5h0m0 2h0m-1-1h0m-6 2h0m-1 0h0m-1-2h0m-10 1h0m12 5h0m21 5h0m-129 28h0m18 5h0m-6 7h0m-16 1h0m-2-5h0m-14 9h0m2-2h0m20 1h0m5-2h0m78 6h0m-18 2h0m0 2h0m-1 0h0m-2-2h0m-1 3h0m-1-5h0m-1 0h0m-1 2h0m-1-2h0m-1 2h0m-9-1h0m-3 3h0m-56-3h0m-1 1h0m-11-1h0m6 8h0m13 2h0m30-2h0m23-2h0m1 1h0m15-1h0m1-1h0m5 1h0m14 3h0m8 2h0m-1 0h0m-3 4h0m-10 1h0m-1-5h0m-2 4h0m-37 0h0m-16-3h0m-1 3h0m-11 1h0m-23-4h0m26 6h0m0 4h0m1-4h0m7 2h0m1 1h0m10-4h0m0 4h0m1-2h0m15-1h0m0 2h0m4-3h0m1 4h0m12 0h0m5 0h0m1-1h0m0 1h0m1-1h0m3-3h0m3 2h0m1 2h0m1 0h0m2-3h0m1 1h0m6 2h0m3-4h0m-15 7h0m-6 4h0m-3-5h0m-1 4h0m-1 1h0m-1-5h0m-5 4h0m-1 1h0m-52-4h0m-2 4h0"/>
<ellipse cx="807.4" cy="922.0" rx="98.0" ry="110.9" fill="none" stroke="#12A850" stroke-width="5.6" stroke-dasharray="13.3 4.42"/>
<text x="671.8" y="801.5" font-size="35.2">CXCL10</text>
</g>
<g>
<rect x="185.0" y="1181.3" width="362.9" height="323.0" fill="#fff" stroke="#555" stroke-width="1.2"/>
<path transform="translate(.5 .5)" fill="none" stroke="#c0c0c0" stroke-width="1.9" stroke-linecap="square" d="M365 1192h0m34 7h0m-1 0h0m-1 0h0m-7 0h0m-2 0h0m-8 0h0m-2-1h0m-2-1h0m-1 0h0m-1 1h0m-1-2h0m0 1h0m-2 1h0m0 1h0m-1-2h0m-1-1h0m-2 0h0m0 1h0m-1-2h0m0 2h0m0 2h0m-1-2h0m-1-1h0m-1-1h0m0 2h0m-1 1h0m-1-2h0m0 3h0m-3-3h0m-1 0h0m-1 2h0m-7 3h0m0 3h0m1-2h0m1-1h0m0 3h0m3-4h0m1 0h0m1 0h0m8 0h0m0 1h0m1 0h0m2 1h0m1 2h0m1-3h0m2 0h0m1-1h0m1 3h0m3-3h0m18 1h0m3-1h0m2 1h0m3 2h0m4 0h0m2 2h0m13 6h0m-2 0h0m-2-1h0m-4-2h0m-1-2h0m-44 3h0m0 1h0m-18-4h0m0 2h0m-54 1h0m-1 1h0m-5 0h0m-15 7h0m1 0h0m1-1h0m2 1h0m1-1h0m1-2h0m0 2h0m2-1h0m0 2h0m1-2h0m2 2h0m6-3h0m1-2h0m0 5h0m2-4h0m0 2h0m1-1h0m1-1h0m2 1h0m1-1h0m0 3h0m1-4h0m0 2h0m0 2h0m0 1h0m3-5h0m1 1h0m9 2h0m54-2h0m55-1h0m2 1h0m1 2h0m-107 6h0m-9 0h0m-4 2h0m-9-3h0m-1 0h0m-1-2h0m-4 0h0m-1 5h0m-2 0h0m-1 0h0m-1-4h0m0 3h0m-1-1h0m0 1h0m-1-4h0m-1 1h0m0 2h0m0 1h0m-1-4h0m-1 4h0m-1-4h0m0 4h0m-1-4h0m0 2h0m0 3h0m-1 0h0m-1-4h0m-2-1h0m0 3h0m-1-3h0m0 1h0m0 2h0m-1 2h0m0 1h0m0 2h0m1 3h0m1-5h0m0 1h0m0 2h0m0 2h0m1-3h0m0 1h0m2 1h0m1-3h0m0 4h0m1-3h0m0 3h0m1-4h0m0 2h0m2 2h0m1-4h0m1-1h0m0 1h0m0 3h0m2-1h0m1-2h0m28 2h0m2 0h0m0 2h0m1 0h0m4-4h0m0 1h0m0 2h0m0 1h0m1-5h0m0 1h0m1 3h0m2 1h0m66 0h0m6 0h0m9 0h0m1 0h0m5-1h0m3 1h0m7 0h0m23 6h0m-3-2h0m-3-1h0m-1 0h0m-4 2h0m-1 0h0m-2 0h0m0 1h0m-3-4h0m-2 2h0m-1-2h0m-3 3h0m-1-1h0m-1-1h0m-1 2h0m-1 1h0m-2-4h0m0 2h0m-1-1h0m-2-1h0m0 2h0m0 1h0m0 1h0m-1-1h0m-2 1h0m-1 0h0m-1-5h0m0 2h0m0 2h0m-1-1h0m0 1h0m-1 0h0m-1 0h0m0 1h0m-1-5h0m0 2h0m-1 1h0m-1-2h0m-2 0h0m-2 2h0m0 1h0m-1-4h0m0 2h0m-1-1h0m-1-1h0m-1 0h0m0 4h0m-1-1h0m0 2h0m-1-1h0m-2-1h0m0 1h0m-2 0h0m0 1h0m-2-4h0m-1 3h0m-2-2h0m0 1h0m0 1h0m0 1h0m-1-2h0m0 1h0m-1 0h0m-1 1h0m-3-1h0m0 1h0m-2-2h0m0 1h0m-1-2h0m-1 3h0m-1-2h0m0 2h0m-1 0h0m-46 0h0m-1-5h0m0 3h0m0 2h0m-2 0h0m-1-1h0m-2-4h0m0 3h0m-1-2h0m-2 1h0m0 1h0m-5-1h0m-29 0h0m-1 1h0m-1-2h0m-1 0h0m0 3h0m-1-2h0m-1 1h0m0 1h0m0 1h0m-1-3h0m-1-1h0m0 3h0m-2-3h0m-1-1h0m-4 9h0m7 1h0m1-2h0m1 0h0m1 1h0m1-3h0m0 2h0m1 2h0m1-1h0m0 1h0m3-3h0m0 2h0m22 1h0m3 0h0m1 1h0m1-5h0m2 1h0m1 0h0m0 2h0m1-1h0m1 1h0m2 2h0m1-4h0m0 4h0m2-5h0m0 2h0m2-1h0m1-1h0m30 4h0m6 1h0m1-1h0m1-2h0m1 0h0m0 2h0m1 0h0m1 0h0m1-1h0m1 2h0m1-2h0m0 1h0m0 1h0m1-1h0m2-3h0m0 3h0m0 1h0m2-4h0m0 1h0m0 2h0m1-1h0m0 2h0m1-3h0m1 2h0m0 1h0m1-2h0m1-3h0m0 1h0m0 2h0m0 2h0m1 0h0m1-3h0m1 3h0m1-4h0m0 2h0m0 2h0m1-5h0m0 2h0m0 2h0m1-4h0m0 1h0m0 2h0m1-3h0m0 3h0m1-2h0m1 1h0m0 1h0m0 2h0m1-5h0m0 2h0m0 3h0m1-3h0m0 1h0m0 2h0m1-2h0m1 1h0m1-4h0m0 2h0m0 1h0m1-2h0m0 2h0m1-2h0m0 2h0m1-2h0m0 1h0m0 3h0m1-5h0m1 2h0m0 3h0m1-2h0m0 1h0m1-1h0m1-3h0m0 4h0m0 1h0m1-4h0m1 2h0m1-3h0m0 5h0m1-2h0m0 1h0m1-1h0m2-3h0m0 3h0m1-3h0m0 2h0m0 3h0m1-4h0m0 1h0m0 2h0m1-3h0m1 1h0m0 3h0m1-5h0m0 5h0m1-4h0m1 4h0m1-5h0m0 3h0m0 1h0m1-2h0m1 3h0m2 0h0m1-1h0m2-1h0m3-3h0m5 0h0m1 5h0m1 0h0m1-4h0m2 0h0m3 1h0m2 3h0m1-5h0m1 0h0m0 4h0m3-1h0m0 6h0m-3-2h0m-1 2h0m-1-1h0m-6-2h0m-1 1h0m-1 4h0m-1-3h0m0 1h0m-4 1h0m0 1h0m-1-4h0m-5 2h0m-2 2h0m-2 0h0m-1-3h0m0 3h0m-1-5h0m0 2h0m0 3h0m-1-5h0m-1 2h0m-2-2h0m0 3h0m-1-2h0m0 4h0m-1-3h0m-1 1h0m-2-2h0m0 2h0m-1 1h0m-1-3h0m0 4h0m-1-2h0m0 2h0m-1-5h0m0 2h0m0 3h0m-1-5h0m-1 0h0m-1 0h0m-2 2h0m-1-2h0m0 4h0m0 1h0m-1-4h0m0 1h0m0 1h0m-1 2h0m-1-1h0m0 1h0m-1-5h0m0 5h0m-1-4h0m0 3h0m-2-3h0m-1 1h0m0 1h0m-1-3h0m0 1h0m0 4h0m-1-1h0m-2-1h0m0 1h0m-1-2h0m0 3h0m-1-4h0m0 4h0m-1-1h0m-1-4h0m0 4h0m-2-4h0m0 1h0m-1 4h0m-1-5h0m0 3h0m0 2h0m-1 0h0m-1-1h0m-1-2h0m0 2h0m-1-1h0m0 2h0m-1-4h0m0 3h0m-1-4h0m-1 3h0m-1-3h0m0 2h0m0 3h0m-1-3h0m0 2h0m-1-2h0m-1 1h0m0 2h0m-1-1h0m-1-3h0m0 4h0m-1-2h0m0 1h0m-1-2h0m-1 0h0m0 2h0m-2-3h0m-2-1h0m0 4h0m-5-2h0m-27-1h0m0 2h0m-2-3h0m0 5h0m-4-1h0m-1-4h0m0 3h0m0 1h0m-1 1h0m-1-4h0m0 3h0m-2-4h0m-2 1h0m-1 2h0m-1-2h0m0 3h0m-2-1h0m0 2h0m-2-5h0m0 2h0m-1-1h0m0 4h0m-24-5h0m-1 3h0m-2-3h0m-2 0h0m-2 4h0m-1 0h0m-4-4h0m6 11h0m1-5h0m1 1h0m2 1h0m0 2h0m1 0h0m0 1h0m1-4h0m1 4h0m24-5h0m0 3h0m1 0h0m2 0h0m1-3h0m0 5h0m3-3h0m0 3h0m2-4h0m1 0h0m0 3h0m1-2h0m0 2h0m2-4h0m0 5h0m6-4h0m18 0h0m6 3h0m0 1h0m5-1h0m1-1h0m1-1h0m1-2h0m0 4h0m0 1h0m1-5h0m1 1h0m1 0h0m2-1h0m0 3h0m0 1h0m1-2h0m1-2h0m0 2h0m0 2h0m0 1h0m1-3h0m0 1h0m0 1h0m0 1h0m2-5h0m0 5h0m1-3h0m0 3h0m1-5h0m1 0h0m0 1h0m1-1h0m0 5h0m1-3h0m0 3h0m1-4h0m0 2h0m1-3h0m1 0h0m1 1h0m0 2h0m1-1h0m1-1h0m0 2h0m2-2h0m0 2h0m1 0h0m1-2h0m0 3h0m1-3h0m0 1h0m0 3h0m1-4h0m0 2h0m0 1h0m1-2h0m0 3h0m1-5h0m0 2h0m1 2h0m1-2h0m0 1h0m1-1h0m0 3h0m1-4h0m0 1h0m1 1h0m1 0h0m1-3h0m0 2h0m1 1h0m1 1h0m0 1h0m1-5h0m0 2h0m0 2h0m1-3h0m0 3h0m1-4h0m1 0h0m2 0h0m0 4h0m1-3h0m1-1h0m0 1h0m0 1h0m0 2h0m1-4h0m0 3h0m0 1h0m1-3h0m2 0h0m0 2h0m0 2h0m1-5h0m0 2h0m0 1h0m1 0h0m1-3h0m0 4h0m2-1h0m0 1h0m0 1h0m1-1h0m0 1h0m5-2h0m0 1h0m0 1h0m1-4h0m1 1h0m2 0h0m4 2h0m1 0h0m1-2h0m1-2h0m1 0h0m0 2h0m0 2h0m1-3h0m2-1h0m2 3h0m1-1h0m3-1h0m0 1h0m0 3h0m1-5h0m1 5h0m1-4h0m2 1h0m30 9h0m-34-3h0m0 2h0m-3 0h0m-3-3h0m-1 2h0m0 1h0m-1 1h0m-2 0h0m-2-3h0m-1 0h0m0 2h0m-1-3h0m0 1h0m0 3h0m-3-1h0m-1-4h0m0 3h0m-2 0h0m-1 2h0m-1-4h0m-1-1h0m0 4h0m-1-4h0m0 4h0m-1-2h0m0 2h0m-1-1h0m0 1h0m-1-1h0m-1-2h0m-2 0h0m0 1h0m-1 1h0m0 1h0m-1-4h0m0 3h0m-1-2h0m0 1h0m0 2h0m-1 1h0m-1-5h0m0 2h0m0 2h0m-1-4h0m0 1h0m0 1h0m0 3h0m-1 0h0m-1-5h0m0 2h0m-1-1h0m0 4h0m-1-2h0m-1 0h0m0 1h0m-1-4h0m0 2h0m-1-2h0m0 3h0m0 1h0m-1-3h0m-1 2h0m-1-3h0m0 1h0m0 2h0m-2-3h0m0 4h0m-1-3h0m-1 0h0m0 3h0m0 1h0m-1-1h0m-1 1h0m-1-3h0m0 2h0m0 1h0m-1-2h0m-1-3h0m0 4h0m-1-4h0m0 1h0m0 2h0m0 2h0m-1-4h0m0 2h0m-1-3h0m-1 1h0m0 2h0m-1 2h0m-1-3h0m-2 1h0m-2-1h0m0 2h0m0 1h0m-1-3h0m0 1h0m-1 0h0m-2 1h0m0 1h0m-2-5h0m0 5h0m-1-2h0m-1 2h0m-1-4h0m0 1h0m-1-1h0m0 2h0m-1-2h0m0 1h0m-1 1h0m0 2h0m-2-5h0m0 3h0m0 1h0m0 1h0m-3-1h0m-1 0h0m-1 0h0m-4-4h0m-1 2h0m-3-1h0m-2 1h0m0 1h0m-1 2h0m-1-5h0m0 1h0m0 2h0m-2 2h0m-1 0h0m-1-2h0m-2 0h0m-1 2h0m-12-3h0m-7 0h0m0 1h0m-1 0h0m0 1h0m-1-2h0m-1 1h0m-2-2h0m-1-1h0m0 3h0m-1-1h0m-28 2h0m-1-4h0m0 5h0m-1-5h0m0 1h0m0 2h0m0 1h0m-1-1h0m-1 2h0m-1-5h0m-1 1h0m5 6h0m0 1h0m0 3h0m1-4h0m0 3h0m1-2h0m0 1h0m1-3h0m0 5h0m1-3h0m1 1h0m23-3h0m1 3h0m1 2h0m1-2h0m1-3h0m0 2h0m1-2h0m3 0h0m0 2h0m2 1h0m5-2h0m1 4h0m9 0h0m2-3h0m3-2h0m1 5h0m5 0h0m1-3h0m5 0h0m1-2h0m1 1h0m3-1h0m2 0h0m1 0h0m0 2h0m0 3h0m1-5h0m0 3h0m1 1h0m1-4h0m0 3h0m1-3h0m0 4h0m2-4h0m0 1h0m0 2h0m1-2h0m0 2h0m0 2h0m1-5h0m0 1h0m0 1h0m0 2h0m0 1h0m2-1h0m1-3h0m0 2h0m2 2h0m1-3h0m1-1h0m0 2h0m1-2h0m1-1h0m1 1h0m0 2h0m1-2h0m1 4h0m1-4h0m0 4h0m1-5h0m0 2h0m0 2h0m1-4h0m0 4h0m0 1h0m2-5h0m0 2h0m0 2h0m0 1h0m1-4h0m0 1h0m1 3h0m1-3h0m0 2h0m0 1h0m1-3h0m0 2h0m1-3h0m0 3h0m1-4h0m0 5h0m1-3h0m1 0h0m1 0h0m0 2h0m1-3h0m0 2h0m0 2h0m1-4h0m0 4h0m1-1h0m1 0h0m1-4h0m0 2h0m1-2h0m0 2h0m0 1h0m0 2h0m1-2h0m1-3h0m0 1h0m0 2h0m0 1h0m1-3h0m1 0h0m0 4h0m1-4h0m0 3h0m0 1h0m1 0h0m1-5h0m0 2h0m0 2h0m1-3h0m0 1h0m0 2h0m2-1h0m2-2h0m1 0h0m0 2h0m1 1h0m1-4h0m2 1h0m1-1h0m3 0h0m0 1h0m3 2h0m1 2h0m1-4h0m1 2h0m1 2h0m1-4h0m4 3h0m0 1h0m2-2h0m3-3h0m32 3h0m0 1h0m1-3h0m0 3h0m1-1h0m1 1h0m1-1h0m1 1h0m1-3h0m2 0h0m1 9h0m-1 0h0m0 1h0m-1-5h0m-1 4h0m-1 0h0m-1-3h0m-36-1h0m-2 4h0m-2-4h0m0 4h0m-2-4h0m0 4h0m0 1h0m-3-4h0m0 1h0m-1 1h0m0 2h0m-1-5h0m-1 0h0m0 3h0m-1 0h0m0 1h0m-1-3h0m-1 1h0m-1 0h0m-2 1h0m-6-1h0m-1-1h0m0 3h0m-2 0h0m0 1h0m-1-5h0m0 1h0m0 2h0m0 2h0m-1-5h0m0 3h0m0 1h0m-1-4h0m-1 3h0m-1-2h0m-2 2h0m-2-1h0m0 3h0m-1-5h0m-1 1h0m0 3h0m-1-4h0m0 4h0m0 1h0m-1-5h0m0 1h0m0 2h0m-1-1h0m0 2h0m-1-4h0m0 1h0m-1 1h0m-1-2h0m0 2h0m-1-2h0m0 2h0m0 2h0m0 1h0m-1-1h0m-3-4h0m0 1h0m0 2h0m-1-3h0m0 3h0m0 1h0m-1-1h0m0 1h0m-1 0h0m-1-3h0m0 2h0m-1-2h0m0 2h0m-1-2h0m0 3h0m0 1h0m-1-3h0m-1 0h0m0 3h0m-1-5h0m0 2h0m0 1h0m-1-3h0m0 4h0m-1-4h0m0 2h0m-2-1h0m-2-1h0m-1 1h0m-1 1h0m0 2h0m-2-2h0m0 1h0m0 2h0m-1-5h0m-1 2h0m0 3h0m-1-3h0m0 3h0m-1-5h0m0 2h0m0 2h0m-1 1h0m-1-3h0m-1-2h0m-1 1h0m-1 1h0m0 2h0m-2-3h0m0 2h0m-10-1h0m-4-1h0m-2 1h0m-4-1h0m-5 1h0m-1 1h0m-2 1h0m-1-1h0m-3-1h0m-7-2h0m-4 1h0m-1 1h0m0 2h0m-2 0h0m-2-2h0m0 2h0m-2-1h0m-17 0h0m-4-3h0m0 5h0m-1 0h0m-1-4h0m0 2h0m-1-2h0m0 3h0m-1-4h0m0 4h0m-2-3h0m-40 9h0m47-1h0m1-3h0m1 4h0m1-4h0m0 3h0m2 2h0m1-2h0m18-2h0m1 0h0m14 3h0m2-3h0m1-1h0m24 0h0m3 1h0m1 4h0m1 0h0m1-2h0m1-3h0m2 0h0m0 2h0m2 1h0m1-1h0m1 0h0m1-2h0m0 1h0m0 2h0m1-1h0m0 2h0m2-1h0m1-2h0m1 4h0m1-5h0m0 2h0m1-1h0m0 1h0m1 3h0m1-5h0m0 5h0m1-5h0m0 3h0m1 0h0m1-1h0m1 1h0m2 2h0m1-1h0m1-1h0m0 1h0m1-4h0m0 5h0m1-5h0m0 2h0m1 1h0m0 1h0m1-3h0m0 2h0m1 1h0m1-3h0m0 2h0m0 2h0m1-3h0m0 1h0m1-2h0m0 1h0m0 1h0m0 1h0m0 1h0m1-1h0m1-2h0m0 2h0m1-4h0m1 2h0m1 1h0m3-2h0m0 2h0m0 2h0m1-1h0m3 1h0m2 0h0m1-5h0m0 1h0m0 2h0m0 2h0m1-4h0m0 3h0m0 1h0m1-3h0m1 3h0m1-5h0m0 1h0m0 3h0m1-3h0m0 2h0m0 2h0m1-5h0m0 5h0m1-5h0m0 2h0m0 2h0m0 1h0m2-1h0m6-2h0m1-1h0m2 2h0m2-3h0m0 4h0m2 1h0m1-3h0m4-2h0m1 0h0m3 1h0m0 3h0m4-4h0m5 4h0m3 0h0m22 0h0m2-4h0m3 0h0m0 4h0m1-1h0m-3 3h0m-4 0h0m-9 2h0m-1 0h0m-7 3h0m-2-4h0m-1 0h0m0 4h0m-1-3h0m0 1h0m-1-2h0m0 1h0m0 3h0m-2 0h0m-4-3h0m-2-2h0m-10 1h0m-2 4h0m-5-3h0m0 3h0m-2-1h0m-1-3h0m-1 4h0m-1-1h0m-2-4h0m0 5h0m-2-2h0m-2 0h0m-1-2h0m-1 2h0m-2-1h0m-1-2h0m0 3h0m0 1h0m-1 1h0m-1-5h0m0 1h0m0 2h0m0 1h0m-1-3h0m0 2h0m0 1h0m-1-2h0m0 1h0m-1-3h0m0 2h0m0 2h0m-1-3h0m0 1h0m-1 2h0m-2-4h0m0 2h0m-1 2h0m-1-3h0m0 3h0m-2-3h0m0 1h0m-1-2h0m0 1h0m-1-1h0m0 2h0m-2 0h0m-1-2h0m-1 0h0m0 4h0m-1-3h0m0 3h0m-1 0h0m-1-3h0m0 2h0m0 1h0m-1-2h0m-2-2h0m0 2h0m-1-2h0m-1 2h0m-1-2h0m-12 0h0m-5 0h0m-2 1h0m-39 0h0m-25 0h0m-2 2h0m-2-2h0m-1 2h0m-2-3h0m-49 10h0m1-2h0m3 2h0m4 1h0m1 0h0m3-1h0m1-3h0m0 2h0m3 1h0m7 1h0m2 0h0m2-5h0m2 3h0m4-2h0m4 4h0m3-1h0m9-3h0m2-1h0m0 3h0m0 1h0m0 1h0m1-3h0m0 3h0m1 0h0m1-4h0m0 2h0m1 1h0m25-3h0m0 4h0m62-5h0m5 0h0m0 1h0m10-1h0m2 1h0m5-1h0m3 1h0m1-1h0m0 1h0m2 0h0m6-1h0m1 1h0m8 4h0m13 0h0m1-3h0m2 2h0m2-3h0m3-1h0m0 2h0m1 1h0m2-1h0m1 0h0m1 1h0m0 2h0m2-3h0m5 8h0m-2-1h0m-3 1h0m-1-3h0m0 1h0m0 3h0m-1-5h0m0 2h0m0 1h0m-1-3h0m0 1h0m0 3h0m-1-3h0m0 3h0m-1-2h0m0 1h0m-1-3h0m-1 2h0m-2-2h0m-8 3h0m-7 1h0m-2-3h0m-1 3h0m-1-2h0m0 3h0m-4-3h0m-12-2h0m-55 1h0m-11 0h0m-3 0h0m-2 0h0m-1 2h0m-18 2h0m-1-3h0m-2-2h0m-20 5h0m-2 0h0m-1-2h0m-2 2h0m-2-5h0m0 2h0m-3 1h0m-1-3h0m-2 1h0m0 4h0m-1-5h0m-2 1h0m0 1h0m-1 1h0m-1-2h0m-1 2h0m-1 0h0m-3-3h0m0 3h0m0 2h0m-1 0h0m-2-3h0m-1-1h0m-1 3h0m-1-4h0m-1 5h0m-1 0h0m-1-2h0m-1-2h0m-1 1h0m0 3h0m-1-1h0m-1-1h0m-1-2h0m0 3h0m-1 0h0m-1-4h0m0 2h0m-1-1h0m-1-1h0m-1 2h0m0 3h0m-1-5h0m0 4h0m-2 1h0m-1-3h0m-2 2h0m-1-1h0m-2 1h0m0 1h0m-1-2h0m-5-3h0m0 3h0m-1-3h0m-2 4h0m-1-3h0m-1 3h0m-1 0h0m-1 1h0m-4 0h0m-17 6h0m4-4h0m0 4h0m1-2h0m0 2h0m1-3h0m1 3h0m2-2h0m2 0h0m1-3h0m0 1h0m0 4h0m2-3h0m0 1h0m1-2h0m1 4h0m1-2h0m2 0h0m2-2h0m0 2h0m0 2h0m2-1h0m1-2h0m3-2h0m0 4h0m1 0h0m1 0h0m2-4h0m0 3h0m1-1h0m0 2h0m1-2h0m1 1h0m1 1h0m1-3h0m0 3h0m2-3h0m0 1h0m0 3h0m1-5h0m1 5h0m1-5h0m1 1h0m0 2h0m1 2h0m1-5h0m1 0h0m0 3h0m1-1h0m1 2h0m0 1h0m1-2h0m1-3h0m1 0h0m0 3h0m0 2h0m1-4h0m0 3h0m1-1h0m0 1h0m1-3h0m0 1h0m2-2h0m0 2h0m0 3h0m1 0h0m1-4h0m1 1h0m0 1h0m0 2h0m1 0h0m1-4h0m0 1h0m0 2h0m0 1h0m1-3h0m0 2h0m1-2h0m1 1h0m0 1h0m1 0h0m1-4h0m0 5h0m1-3h0m2-2h0m1 1h0m1 3h0m2-2h0m0 3h0m2-4h0m1 0h0m1-1h0m0 5h0m1 0h0m1 0h0m3-3h0m2 1h0m1-1h0m1-1h0m1-1h0m0 2h0m3-2h0m21 1h0m30 0h0m4-1h0m0 4h0m3 0h0m93-4h0m1 4h0m1-3h0m16 4h0m7 0h0m2 0h0m3 0h0m4-1h0m2 0h0m-9 2h0m-1 2h0m-1-2h0m-1 1h0m-1-1h0m0 2h0m-1-2h0m0 2h0m-33 3h0m-42-3h0m0 2h0m-1 1h0m-5-3h0m-3 3h0m-1-2h0m-1 0h0m0 1h0m-2-4h0m-2 3h0m-1 2h0m-1-1h0m-1-1h0m-1 0h0m0 1h0m0 1h0m-1-2h0m-1 2h0m-1-2h0m-2 2h0m-1 0h0m-3-1h0m-46 0h0m-2-2h0m-16 3h0m-5-5h0m-1 4h0m-2-2h0m-4-2h0m0 1h0m-3-1h0m0 1h0m0 2h0m-1-2h0m-3 2h0m0 1h0m-1-4h0m-1 0h0m-1 4h0m-1-2h0m-1-1h0m0 1h0m0 1h0m0 2h0m-1-3h0m0 1h0m-1 2h0m-1-5h0m-1 1h0m0 2h0m0 2h0m-1 0h0m-1-5h0m0 2h0m-1-1h0m-3 0h0m0 1h0m-1 3h0m-1-3h0m0 2h0m-1-4h0m-1 2h0m-1-1h0m0 2h0m0 2h0m-1-4h0m0 4h0m-2-2h0m-1-1h0m0 3h0m-1-4h0m-1 2h0m-1-1h0m0 2h0m-1-4h0m-1 1h0m0 4h0m-1-2h0m0 1h0m-1-4h0m0 2h0m-1 2h0m-1-2h0m-1 1h0m0 2h0m-1-5h0m0 2h0m0 3h0m-1-5h0m0 2h0m-1-1h0m-1 3h0m-1-3h0m-1 2h0m-1-1h0m0 3h0m-1 0h0m-3-5h0m0 4h0m-2 1h0m-1-1h0m-1-2h0m-1-1h0m0 2h0m-2 0h0m-2-2h0m0 3h0m-1-1h0m-2-3h0m0 4h0m-1-2h0m0 3h0m-2-2h0m-1-2h0m0 2h0m0 2h0m-2-4h0m-1-1h0m0 5h0m-1-2h0m-1 2h0m-1-4h0m-1-1h0m0 2h0m0 1h0m0 1h0m-2 0h0m0 1h0m-2-3h0m-1-1h0m-1-1h0m0 2h0m0 3h0m-2-5h0m0 2h0m0 3h0m-1 0h0m-1 0h0m-1-1h0m-1 0h0m-2 1h0m-1-2h0m-1-2h0m-2 2h0m0 2h0m-4 5h0m3 1h0m1-2h0m1-2h0m0 3h0m1-4h0m0 5h0m1-3h0m1 1h0m1-1h0m1 0h0m0 1h0m0 1h0m1-4h0m0 4h0m0 1h0m3-4h0m0 2h0m1-3h0m0 3h0m1 1h0m2-3h0m0 2h0m1-1h0m1-1h0m0 3h0m0 1h0m1-4h0m1-1h0m1 0h0m0 1h0m2 1h0m0 3h0m2-2h0m0 2h0m1-5h0m0 2h0m1-2h0m0 3h0m0 1h0m1 1h0m1-5h0m0 1h0m1 1h0m0 2h0m1 0h0m1-2h0m1 1h0m1-3h0m0 3h0m1-3h0m0 4h0m1-1h0m1-3h0m0 2h0m0 3h0m1-2h0m2-1h0m1-1h0m0 4h0m2-5h0m0 1h0m1 2h0m0 2h0m1-4h0m0 3h0m1-4h0m0 3h0m1 1h0m1-2h0m1 0h0m1 3h0m1-5h0m1 5h0m1-4h0m0 3h0m2-1h0m1-3h0m0 3h0m0 1h0m0 1h0m1-1h0m1 0h0m1-2h0m0 2h0m2-1h0m1-1h0m1-1h0m3 0h0m0 1h0m0 2h0m1-1h0m0 2h0m1-4h0m0 2h0m0 2h0m2-5h0m0 4h0m1 1h0m1-2h0m1-2h0m0 3h0m1-1h0m0 2h0m1-3h0m0 1h0m1-3h0m3 2h0m0 3h0m1-5h0m0 3h0m1 1h0m1-3h0m1 3h0m1-3h0m1 0h0m1-1h0m0 2h0m1 1h0m1 2h0m2-5h0m0 3h0m1-1h0m0 1h0m0 2h0m1-3h0m0 2h0m1-4h0m0 2h0m1 2h0m0 1h0m1-5h0m0 1h0m1 3h0m1-1h0m1-2h0m1 2h0m1-3h0m0 3h0m1-3h0m0 1h0m0 3h0m3 1h0m3-1h0m17-1h0m1 1h0m35-2h0m5 3h0m1-4h0m2 0h0m0 2h0m1-3h0m1 5h0m1-4h0m0 4h0m1-3h0m2-1h0m1 1h0m1-2h0m2 2h0m1 2h0m1-3h0m0 2h0m2-3h0m0 2h0m0 1h0m2-3h0m2 1h0m0 2h0m0 1h0m2 0h0m1-3h0m0 4h0m2-3h0m0 2h0m1 0h0m1-3h0m1 4h0m1-4h0m0 2h0m1 1h0m0 1h0m1-5h0m0 2h0m1 3h0m2-2h0m1 0h0m0 2h0m35-4h0m2 1h0m1 0h0m3-2h0m10 0h0m-11 7h0m-18 0h0m-7 4h0m-3-3h0m0 2h0m-6-4h0m-1 2h0m0 1h0m0 2h0m-1-5h0m0 4h0m-1-4h0m0 5h0m-1-2h0m-1-3h0m-1 4h0m-4-4h0m-1 1h0m0 2h0m-1 0h0m-1 0h0m-1 1h0m-2-1h0m-1-2h0m0 1h0m0 2h0m-1-2h0m-1-1h0m-2 0h0m-1 0h0m0 2h0m-1-2h0m0 1h0m0 3h0m-1-1h0m-1-2h0m0 2h0m0 1h0m-2-3h0m-1 1h0m-1 0h0m0 2h0m-1-4h0m0 4h0m-2-5h0m0 2h0m0 3h0m-1-4h0m-1-1h0m-1 2h0m-1-2h0m0 1h0m0 4h0m-2-4h0m-1 0h0m-1 1h0m-3-2h0m0 5h0m-1-1h0m-3 0h0m-1 0h0m-5 0h0m-13-2h0m-2 1h0m-4 1h0m-9 1h0m-21 0h0m-1-1h0m-1-4h0m-1 3h0m0 2h0m-1-4h0m0 4h0m-1-5h0m-1 3h0m0 1h0m-1-3h0m-1 3h0m-1 0h0m-1 1h0m-1-4h0m0 2h0m-1-2h0m0 4h0m-1-5h0m-1 2h0m0 2h0m-1-4h0m0 3h0m-2-3h0m-1 2h0m0 2h0m-1-1h0m-1-2h0m0 1h0m-2-1h0m0 3h0m-1-4h0m0 1h0m0 1h0m0 3h0m-1-3h0m-1 2h0m-1-2h0m-1-2h0m-2 1h0m0 3h0m-1-2h0m0 1h0m-1 1h0m-1-3h0m0 2h0m-1-2h0m0 2h0m-2-3h0m0 5h0m-1 0h0m-1-3h0m0 3h0m-1-1h0m-2-2h0m0 3h0m-1-3h0m-1-2h0m-1 2h0m0 1h0m0 1h0m-1-4h0m0 1h0m0 2h0m-1 1h0m-1-4h0m0 2h0m-1-2h0m0 2h0m0 3h0m-1-1h0m-1-4h0m-1 3h0m0 2h0m-1-4h0m0 1h0m-4-1h0m-1 1h0m-1 1h0m-1-3h0m0 2h0m-2 0h0m-1 1h0m0 2h0m-1-4h0m-1 2h0m-1-3h0m-1 3h0m-1 1h0m-1 0h0m-1-3h0m0 2h0m-2-2h0m0 2h0m0 1h0m-1-4h0m0 2h0m-2 0h0m0 2h0m-1-3h0m-1 0h0m0 1h0m-1-2h0m0 3h0m0 2h0m-1-4h0m0 3h0m-2 1h0m-1-5h0m0 3h0m-1-3h0m0 3h0m-1-1h0m-1-2h0m0 4h0m0 1h0m-2-5h0m-2 1h0m-2 0h0m0 1h0m-3 0h0m-1 3h0m-1-2h0m-2 1h0m-1-3h0m0 2h0m-2-3h0m0 5h0m-1-4h0m-1 2h0m-1 1h0m-1 1h0m-4-5h0m0 3h0m-1 2h0m-1 5h0m1-1h0m2 1h0m1-4h0m0 2h0m0 2h0m1-2h0m2-2h0m0 1h0m0 3h0m1 0h0m1-4h0m1 2h0m0 2h0m2 1h0m2-5h0m0 1h0m0 2h0m1 2h0m1-3h0m1 0h0m1-2h0m0 1h0m0 1h0m0 2h0m1-4h0m0 4h0m1-3h0m0 4h0m3-5h0m0 1h0m1 0h0m0 2h0m1-3h0m4 4h0m1-1h0m1-3h0m0 2h0m0 2h0m1 1h0m1 0h0m1-1h0m1-1h0m0 2h0m1-1h0m2 0h0m3-4h0m0 2h0m1 0h0m0 1h0m0 2h0m1-3h0m1-2h0m1 2h0m0 2h0m1-1h0m0 1h0m1-1h0m2-1h0m0 3h0m1-4h0m1-1h0m0 2h0m1-2h0m0 4h0m1-1h0m1-2h0m0 4h0m1-4h0m2 2h0m1-2h0m0 4h0m1-3h0m1 0h0m1 3h0m1-1h0m1-3h0m0 3h0m2-3h0m0 4h0m1-5h0m0 3h0m1-1h0m1 2h0m0 1h0m1-2h0m1-2h0m0 4h0m1-5h0m2 0h0m0 5h0m1-5h0m0 4h0m1 1h0m1-4h0m1-1h0m1 0h0m0 5h0m1-3h0m0 3h0m1-5h0m0 3h0m0 2h0m1 0h0m1-2h0m1-1h0m1-1h0m1 3h0m1 1h0m2-3h0m0 1h0m0 1h0m1-4h0m0 2h0m1 0h0m1-2h0m1 0h0m1 5h0m1-5h0m0 2h0m0 2h0m2-3h0m0 2h0m0 1h0m1 1h0m1 0h0m1-5h0m1 0h0m0 2h0m0 2h0m5-2h0m0 3h0m15 0h0m2-4h0m5-1h0m4 1h0m1-1h0m10 5h0m6-5h0m1 0h0m2 2h0m15-2h0m1 2h0m2 0h0m0 1h0m1 1h0m1-2h0m1 1h0m1-2h0m0 3h0m1-4h0m0 1h0m1 4h0m1-4h0m0 1h0m0 3h0m1-2h0m2 2h0m3-4h0m0 3h0m1-3h0m1-1h0m0 1h0m1 1h0m1 2h0m1-1h0m1-1h0m0 1h0m2-1h0m1-2h0m0 3h0m0 1h0m1-1h0m0 2h0m1-4h0m1 0h0m0 2h0m0 2h0m1-3h0m1 2h0m1-4h0m0 3h0m1-3h0m0 1h0m1 0h0m0 1h0m1-1h0m1-1h0m1 2h0m1-2h0m1 3h0m1-2h0m1-1h0m0 4h0m1 0h0m1-2h0m0 1h0m2-2h0m0 2h0m1-1h0m1-2h0m1 1h0m0 2h0m0 2h0m1-5h0m2 4h0m2-1h0m19 2h0m8-1h0m0 1h0m1-1h0m1-2h0m2 3h0m9-2h0m29 6h0m-2 2h0m-7 0h0m-2-4h0m0 3h0m0 1h0m-1-1h0m-1-2h0m0 1h0m-2-2h0m-1 3h0m-1-3h0m-4 2h0m-1-1h0m0 2h0m-1-4h0m-2 2h0m-1 0h0m-1 1h0m-1-1h0m-1 0h0m-2 0h0m0 1h0m-1 1h0m-3-1h0m-1-3h0m0 1h0m0 2h0m-1 0h0m-1-3h0m-3 0h0m0 4h0m-5-4h0m-1 0h0m-3 0h0m-1 3h0m0 2h0m-1-5h0m0 2h0m-1 1h0m-1-2h0m0 4h0m-1-4h0m-6 4h0m-2 0h0m-5-1h0m-2 0h0m-5 0h0m-4-4h0m-2 4h0m-3-2h0m0 3h0m-1-5h0m0 2h0m-1-2h0m0 1h0m0 2h0m-1 0h0m-2 0h0m-3-1h0m-3 1h0m0 2h0m-1-2h0m-1-2h0m-1-1h0m0 1h0m0 3h0m-1-4h0m-1 0h0m-1 0h0m0 4h0m-1 0h0m-1-3h0m0 2h0m0 1h0m-3 0h0m-1-2h0m0 2h0m-4 0h0m-1-3h0m-1 1h0m-4-2h0m-1 4h0m-1-3h0m-1-1h0m0 3h0m-1-1h0m-1 1h0m-7 0h0m-7-3h0m-41 3h0m-12 0h0m0 1h0m-1-1h0m-1 2h0m-2-5h0m0 2h0m0 2h0m-1-2h0m0 1h0m-2-2h0m0 1h0m0 3h0m-1-5h0m-1 5h0m-1-2h0m0 2h0m-2-4h0m0 2h0m0 1h0m-2-1h0m-1-3h0m0 2h0m0 1h0m-1 1h0m-1-1h0m-1-1h0m0 3h0m-1-2h0m-2-3h0m-2 4h0m-1-2h0m0 3h0m-1-3h0m-1 1h0m0 1h0m0 1h0m-1-3h0m-1-2h0m0 2h0m0 2h0m-1-2h0m-2 0h0m-1 0h0m0 3h0m-1-1h0m-1-2h0m0 3h0m-1-1h0m-1-3h0m0 2h0m-1-3h0m0 2h0m-1 2h0m-2 0h0m-1-3h0m0 3h0m-1 1h0m-1-2h0m0 2h0m-1-4h0m0 3h0m-1-2h0m-1-1h0m0 3h0m-1 1h0m-1-2h0m-3-2h0m-1 1h0m0 1h0m-1-1h0m-2-1h0m-1 1h0m-1-2h0m-1 5h0m-1-2h0m0 2h0m-2-4h0m0 3h0m-2 0h0m-3-3h0m0 1h0m-2 0h0m0 2h0m-1-2h0m0 3h0m-1-5h0m0 4h0m-1-4h0m0 1h0m-1 1h0m-1-1h0m0 3h0m-1-4h0m0 4h0m-1-4h0m-1 0h0m0 3h0m0 2h0m-1-2h0m-2-3h0m0 5h0m-1-3h0m0 3h0m-1-4h0m0 4h0m-1-3h0m0 2h0m-2 0h0m-2-3h0m-1 3h0m-1-4h0m0 1h0m-1 1h0m0 1h0m-1-3h0m-1 2h0m0 2h0m-1-2h0m0 3h0m-1-5h0m0 3h0m-1-2h0m-1 1h0m-2-1h0m0 3h0m-1-4h0m1 11h0m2-1h0m1-3h0m1 2h0m2-2h0m0 2h0m0 2h0m1-5h0m0 3h0m1-3h0m0 1h0m1 1h0m1-2h0m0 1h0m0 1h0m0 2h0m1-3h0m0 4h0m1-1h0m1-4h0m1 2h0m0 3h0m2-4h0m0 3h0m1 1h0m2-5h0m0 1h0m1 4h0m1-4h0m0 1h0m0 3h0m1-3h0m1 1h0m0 2h0m1-3h0m0 1h0m1 0h0m1-3h0m2 3h0m0 2h0m1-2h0m1-3h0m1 1h0m1 4h0m2-5h0m0 3h0m0 2h0m1-4h0m0 4h0m2-2h0m0 2h0m1-5h0m0 5h0m1-4h0m0 2h0m1 1h0m1 0h0m1-1h0m3-2h0m1 0h0m0 4h0m2-5h0m0 2h0m0 1h0m1-2h0m0 1h0m0 3h0m2-2h0m1-2h0m0 2h0m1 0h0m3-2h0m0 1h0m0 2h0m1-3h0m0 4h0m3-3h0m0 3h0m1-3h0m1 2h0m2-1h0m1-3h0m1 4h0m1-3h0m0 1h0m1 0h0m0 2h0m1-1h0m0 2h0m1-5h0m3 1h0m0 4h0m1-1h0m2-2h0m1 2h0m1 1h0m2-5h0m0 1h0m0 2h0m3-3h0m0 1h0m0 2h0m0 2h0m1-3h0m2 0h0m1-2h0m0 1h0m0 1h0m0 2h0m1-1h0m0 1h0m1 1h0m1 0h0m2-4h0m0 2h0m1-1h0m1 0h0m0 1h0m0 2h0m3-2h0m2-1h0m0 1h0m1-2h0m0 2h0m3-2h0m3-1h0m25 1h0m35 1h0m2-2h0m0 1h0m0 1h0m1 0h0m1-1h0m0 2h0m1 2h0m1-3h0m7 3h0m1-2h0m1-3h0m4 1h0m2 2h0m0 1h0m0 1h0m1-3h0m0 3h0m1-2h0m0 2h0m1-5h0m0 2h0m2-2h0m0 1h0m0 4h0m2 0h0m2-1h0m0 1h0m4-5h0m0 2h0m1 1h0m0 2h0m1-5h0m0 1h0m0 2h0m4 2h0m2-5h0m0 5h0m1-2h0m3-3h0m8 0h0m0 2h0m2 1h0m1 0h0m0 1h0m1 0h0m2-1h0m1 0h0m0 2h0m2-5h0m2 4h0m1-3h0m0 2h0m0 2h0m1 0h0m1-4h0m1 0h0m2 0h0m0 2h0m2-2h0m3 4h0m1-2h0m1-1h0m2 3h0m1-3h0m0 3h0m1-5h0m0 3h0m1 0h0m0 2h0m3-5h0m0 2h0m0 2h0m2-4h0m0 2h0m0 3h0m1-2h0m1-1h0m0 2h0m1-2h0m0 3h0m1-1h0m3-1h0m1 1h0m1-4h0m1 1h0m1 0h0m0 2h0m1 2h0m2-5h0m0 4h0m1-1h0m0 1h0m1-4h0m1 3h0m1 1h0m4-4h0m1 1h0m0 2h0m1 2h0m2-2h0m2 1h0m1-2h0m0 1h0m0 2h0m2 0h0m1-2h0m1-2h0m2 4h0m1-4h0m2 4h0m1-1h0m3 1h0m0 4h0m-1-3h0m0 3h0m-1-1h0m-1-1h0m-1-1h0m0 2h0m0 2h0m-1-3h0m-1 1h0m-1-1h0m0 2h0m-1-2h0m-1 1h0m-1 1h0m0 1h0m-2-1h0m-1-2h0m0 3h0m-1-3h0m-1 2h0m-4 0h0m-1-1h0m-2 1h0m-1-3h0m0 3h0m-1-2h0m-1-1h0m0 2h0m-1 1h0m0 2h0m-3-4h0m0 3h0m-1-1h0m-4 1h0m-1-4h0m0 3h0m-1-1h0m-1-2h0m-3 1h0m0 4h0m-1-3h0m-1-1h0m-1 4h0m-1-3h0m-1 3h0m-2-5h0m-1 2h0m0 1h0m-1-3h0m-1 5h0m-1 0h0m-1-4h0m0 1h0m0 1h0m-1-2h0m-1 1h0m0 2h0m-1-3h0m-1-1h0m0 1h0m0 1h0m-3 3h0m-2-3h0m0 3h0m-1-3h0m-2 2h0m-1-2h0m-3-2h0m-1 2h0m-1-2h0m0 1h0m0 2h0m0 2h0m-1-5h0m-1 2h0m-7 0h0m-3 2h0m-3-4h0m0 3h0m-2-1h0m-1-2h0m-1 3h0m-1 0h0m0 2h0m-1-4h0m-1-1h0m-1 2h0m-1 1h0m-2-2h0m-4-1h0m-1 2h0m-2 3h0m-1-5h0m0 2h0m0 2h0m-1-4h0m-2 5h0m-1 0h0m-4-1h0m-1-3h0m-2-1h0m0 3h0m-1-1h0m0 2h0m-1 0h0m-2-3h0m0 1h0m0 1h0m-1 2h0m-1-4h0m-1 0h0m0 2h0m-1-1h0m-1-2h0m0 1h0m-2 1h0m0 3h0m-2-1h0m0 1h0m-1-5h0m0 1h0m0 2h0m0 1h0m-3-4h0m0 1h0m-1 2h0m0 2h0m-2-3h0m-15 3h0m-2-2h0m-1 0h0m0 1h0m-2-2h0m0 3h0m-2-4h0m-1 1h0m-29 2h0m-2-4h0m0 5h0m-1-1h0m0 1h0m-1-5h0m-1 5h0m-1-3h0m0 3h0m-2-4h0m0 1h0m-1 3h0m-1-1h0m-1-3h0m0 3h0m-1-1h0m-2-3h0m0 2h0m0 1h0m0 2h0m-1-1h0m0 1h0m-1-3h0m-1-2h0m0 3h0m0 2h0m-1 0h0m-1-1h0m-2 0h0m-1-3h0m0 3h0m-1 0h0m-2-4h0m-1 2h0m0 2h0m-1-3h0m0 4h0m-1-2h0m-2-3h0m-1 4h0m-1-4h0m0 1h0m0 2h0m-1-2h0m0 2h0m-1-3h0m-1 3h0m-1-3h0m-1 0h0m-1 1h0m0 1h0m0 1h0m0 2h0m-2-2h0m0 2h0m-1-2h0m-1 2h0m-2-5h0m0 4h0m-1-2h0m0 1h0m-1 2h0m-1 0h0m-1-3h0m0 2h0m-1-3h0m-1 0h0m0 3h0m-1 1h0m-1-1h0m-1-2h0m0 3h0m-1-4h0m-1 0h0m0 2h0m0 2h0m-1-5h0m0 2h0m0 3h0m-1-5h0m0 1h0m0 2h0m-1-1h0m0 3h0m-1-4h0m0 2h0m0 1h0m-2-3h0m0 4h0m-1-5h0m0 2h0m0 1h0m-2-3h0m0 3h0m0 2h0m-2-1h0m0 1h0m-1-1h0m-1-4h0m0 1h0m0 4h0m-1-2h0m-1 1h0m-1-4h0m0 4h0m-3-2h0m-2 1h0m0 2h0m-1-4h0m-1 2h0m0 2h0m-1-2h0m0 2h0m-1-5h0m0 1h0m0 1h0m0 3h0m-2 0h0m-2-4h0m0 4h0m-2-4h0m0 1h0m0 2h0m-1-1h0m-4-3h0m0 5h0m-1-4h0m-3 0h0m-1 0h0m0 3h0m-1-1h0m0 1h0m0 1h0m-1-4h0m0 4h0m-1-2h0m-1-3h0m0 1h0m0 4h0m-1-3h0m0 3h0m-2-5h0m-2 3h0m-1-2h0m0 2h0m-1 0h0m0 2h0m-1 1h0m1 3h0m0 2h0m2-3h0m4-2h0m0 3h0m1-2h0m1 3h0m2-4h0m0 3h0m0 1h0m2-3h0m0 3h0m1-3h0m2-1h0m0 2h0m2-1h0m0 3h0m1-3h0m0 1h0m0 1h0m1-1h0m0 1h0m1 1h0m0 1h0m2-3h0m0 3h0m1-4h0m1 3h0m1-2h0m1-2h0m0 3h0m0 2h0m2-5h0m0 3h0m0 1h0m1-3h0m1 4h0m1 0h0m1-2h0m2-3h0m0 3h0m1-3h0m0 1h0m0 2h0m1-3h0m0 2h0m0 2h0m1-4h0m0 3h0m1-2h0m0 3h0m0 1h0m1-2h0m1-3h0m0 5h0m3-4h0m1 0h0m0 1h0m0 3h0m1-4h0m1 2h0m1-2h0m0 3h0m1 1h0m1-1h0m2-2h0m0 2h0m1-2h0m0 3h0m1-5h0m1 3h0m1 1h0m0 1h0m1-5h0m0 5h0m1-3h0m1 3h0m1-4h0m1 1h0m0 3h0m1-2h0m0 2h0m1-5h0m1 3h0m1 2h0m1 0h0m1-2h0m0 1h0m1-2h0m1 0h0m1-2h0m1 0h0m0 2h0m0 2h0m2 0h0m2-4h0m0 5h0m1-4h0m0 2h0m1-3h0m0 1h0m0 2h0m1-3h0m2 3h0m1 0h0m1-3h0m0 2h0m1-2h0m0 1h0m0 3h0m1-2h0m1-2h0m2 0h0m0 3h0m0 2h0m1-5h0m1 2h0m0 1h0m1-1h0m0 2h0m2-2h0m0 1h0m2 1h0m1-4h0m0 1h0m2 0h0m1 0h0m1 0h0m2-1h0m1 0h0m1 3h0m1-3h0m0 2h0m0 2h0m2-3h0m0 4h0m1-1h0m19-3h0m5 1h0m5 2h0m1-1h0m1 1h0m1-1h0m0 1h0m1-3h0m0 2h0m2-3h0m2 1h0m3 1h0m0 1h0m1 2h0m1-2h0m0 1h0m18-3h0m2-1h0m1 1h0m0 4h0m1 0h0m2-4h0m1 2h0m2-1h0m0 1h0m1 1h0m1-3h0m2-1h0m3 5h0m1-1h0m2-1h0m3-3h0m0 3h0m1-3h0m1 5h0m1-5h0m0 2h0m0 1h0m0 1h0m1-4h0m0 1h0m0 3h0m1-2h0m0 1h0m1-2h0m2 3h0m1-3h0m3-1h0m0 1h0m4 0h0m21-1h0m5 2h0m3-1h0m0 2h0m0 1h0m1-3h0m1-1h0m0 5h0m1-5h0m2 1h0m0 4h0m2-2h0m0 1h0m1-3h0m2 4h0m1-3h0m0 2h0m1-1h0m0 2h0m1-4h0m3 3h0m1-4h0m3 2h0m1 2h0m1-1h0m0 2h0m2 0h0m1-3h0m0 2h0m1-2h0m0 3h0m2-4h0m2-1h0m0 3h0m4 1h0m1-4h0m1 3h0m4 0h0m0 1h0m1-2h0m3-2h0m0 4h0m1 0h0m1-3h0m1 2h0m0 1h0m0 1h0m1-4h0m1 4h0m2-5h0m0 1h0m1 4h0m1-5h0m5 2h0m0 1h0m39 0h0m-21 8h0m-24 0h0m-4-3h0m-1-1h0m0 4h0m-2-5h0m0 4h0m-1-3h0m-1 0h0m0 1h0m0 2h0m-1-2h0m0 1h0m0 2h0m-1-5h0m-2 2h0m-1 3h0m-1-3h0m-2 1h0m-1-1h0m0 3h0m-1-5h0m0 3h0m-2-1h0m-1-2h0m-2 2h0m-1 2h0m-1-3h0m-1 4h0m-1-3h0m-1-1h0m0 2h0m-1-2h0m0 1h0m-2 0h0m-1 0h0m-1-2h0m-1 3h0m0 1h0m-2-4h0m0 2h0m-1 3h0m-2-5h0m0 5h0m-1-3h0m-1 0h0m0 2h0m0 1h0m-1-3h0m-2 2h0m-1-4h0m-1 5h0m-1-4h0m-2 0h0m-3 1h0m-41-2h0m0 2h0m-1-2h0m-4 0h0m0 1h0m-1-1h0m-6 0h0m-2 0h0m-2 0h0m-3 0h0m-1 0h0m-23 0h0m0 2h0m0 1h0m-1-1h0m-1-1h0m-2-1h0m-2 3h0m-1-2h0m0 2h0m-1 0h0m-1-3h0m-1 3h0m-1 0h0m0 1h0m-1-3h0m0 4h0m-1 0h0m-3 0h0m-7-4h0m-20-1h0m-1 5h0m-1-2h0m-1 1h0m-1-3h0m-1 3h0m-1-1h0m-2-3h0m0 4h0m-1-2h0m0 3h0m-1 0h0m-8-1h0m0 1h0m-3-3h0m-1-1h0m-1-1h0m-1 5h0m-1-5h0m0 2h0m-1-2h0m-1 0h0m0 1h0m0 2h0m-2-3h0m0 3h0m-2-1h0m-1-2h0m-1 1h0m0 3h0m0 1h0m-1-4h0m-1 3h0m-1-3h0m-1 0h0m0 2h0m-1-3h0m0 4h0m-2-2h0m0 3h0m-1-5h0m0 1h0m-2 3h0m0 1h0m-2-1h0m0 1h0m-3-2h0m0 1h0m-1-3h0m-2 2h0m-1-1h0m-1 2h0m-1-2h0m-1-1h0m0 4h0m-1-4h0m-1 0h0m0 2h0m-1-3h0m0 4h0m-3-4h0m0 3h0m-1-3h0m-1 1h0m0 1h0m0 3h0m-1-3h0m-1-2h0m0 4h0m-1-2h0m-1 0h0m0 1h0m-1-2h0m-1 1h0m-1 2h0m-1-3h0m0 2h0m-2-2h0m0 2h0m0 2h0m-1-3h0m0 3h0m-2-5h0m0 3h0m-1 1h0m-3-4h0m0 2h0m-1-2h0m0 3h0m-1 1h0m-2-4h0m-2 0h0m-1 4h0m-1-1h0m-2 2h0m-1-5h0m0 5h0m-3-4h0m-1-1h0m0 5h0m-1 0h0m-1-5h0m0 2h0m-1 0h0m-4 2h0m0 1h0m-1-5h0m0 2h0m0 2h0m-1-3h0m-1 3h0m-1-3h0m5 6h0m2 0h0m1 4h0m1-4h0m0 3h0m2-2h0m1-2h0m0 4h0m1-3h0m0 3h0m1-4h0m0 5h0m1-5h0m0 3h0m0 2h0m1 0h0m1 0h0m3-5h0m3 2h0m0 2h0m1-4h0m1 1h0m0 1h0m1 3h0m1-4h0m0 2h0m2-2h0m0 3h0m1-3h0m2 3h0m1-4h0m1 4h0m1-1h0m1 0h0m0 2h0m1-4h0m1-1h0m0 2h0m1 0h0m0 2h0m1-1h0m1-2h0m1 3h0m1-2h0m2 0h0m0 1h0m1-3h0m0 2h0m1-1h0m0 2h0m1-1h0m3 2h0m1-4h0m0 3h0m1 2h0m1-2h0m1-1h0m0 1h0m0 2h0m1-5h0m1 5h0m1-4h0m0 1h0m1-2h0m0 2h0m0 1h0m1-1h0m0 3h0m1-5h0m1 2h0m1-2h0m0 1h0m0 3h0m2-1h0m1 0h0m1-3h0m0 1h0m1 4h0m2-3h0m1 1h0m1-2h0m1 1h0m1-2h0m2 2h0m3 0h0m0 1h0m0 2h0m1-1h0m1 0h0m1-1h0m2 0h0m1-3h0m0 5h0m1-2h0m0 2h0m1-5h0m0 2h0m1-2h0m2 5h0m3-2h0m1 0h0m1-1h0m1-2h0m3 4h0m3-3h0m0 2h0m1-1h0m0 2h0m3 1h0m2-3h0m1-1h0m1 2h0m2 0h0m12 0h0m9-3h0m1 0h0m1 0h0m1 2h0m1-2h0m1 3h0m2 0h0m0 2h0m1-3h0m1 1h0m1 1h0m1-2h0m1 1h0m2 0h0m0 2h0m1 0h0m3-3h0m1 3h0m1-2h0m1 0h0m12 1h0m2 0h0m3 0h0m1-1h0m5 0h0m1 1h0m4 1h0m3 0h0m3 0h0m2-1h0m47-3h0m1 3h0m1 1h0m2 0h0m1-3h0m0 1h0m1-2h0m0 3h0m3 0h0m2-2h0m1-1h0m0 1h0m0 3h0m1-4h0m0 3h0m2-4h0m2 1h0m2-1h0m1 0h0m0 3h0m1 2h0m3-4h0m0 3h0m1-1h0m2 1h0m1-4h0m1 3h0m1-2h0m0 3h0m3-4h0m1 2h0m1-2h0m0 3h0m0 2h0m1-4h0m3 4h0m1-2h0m0 1h0m1 0h0m1-2h0m1 1h0m1-3h0m0 4h0m0 1h0m1-4h0m0 2h0m6-3h0m23 0h0m5 8h0m-40-2h0m0 1h0m-4 1h0m0 1h0m-1-2h0m-1 1h0m0 2h0m-2-3h0m-1-1h0m-3 1h0m-3 1h0m-1-2h0m0 5h0m-1-4h0m-2 0h0m-1 1h0m0 1h0m-1-3h0m0 1h0m-3-1h0m0 2h0m0 1h0m0 1h0m-1-3h0m-1 1h0m-1 2h0m-3-3h0m-1 2h0m-2-3h0m0 1h0m-2 0h0m0 1h0m-2-2h0m0 1h0m0 2h0m-1-2h0m-2 0h0m0 3h0m-2-2h0m-2 3h0m-4-2h0m-18 1h0m-3-3h0m-1 3h0m-5-2h0m0 2h0m0 1h0m-1-2h0m-1 0h0m-1-3h0m0 4h0m-1-1h0m-1-3h0m0 2h0m-1 2h0m-1 0h0m-4 1h0m-17-2h0m-17-2h0m-1 1h0m0 1h0m-1-2h0m0 3h0m-2-3h0m0 1h0m0 1h0m-1-3h0m-4 0h0m-1 0h0m0 1h0m0 4h0m-1-5h0m0 1h0m0 2h0m-1 1h0m-1-4h0m0 5h0m-1-2h0m0 2h0m-2-4h0m-1 4h0m-4-4h0m-1 1h0m0 3h0m-1-5h0m-1 2h0m0 3h0m-8-3h0m-12 2h0m-2-2h0m-1 0h0m-1-1h0m-1 0h0m-1 2h0m-1-3h0m-1 2h0m-1-1h0m-1 3h0m-1-4h0m0 3h0m-2 0h0m-1-2h0m0 3h0m-1 1h0m-1-1h0m0 1h0m-1-5h0m-2 3h0m-1-2h0m-3 4h0m-1-5h0m-4 3h0m-2-2h0m-1 1h0m0 1h0m-1 1h0m-2-4h0m0 2h0m0 3h0m-1-3h0m-1-1h0m0 1h0m-1 1h0m0 1h0m-1-4h0m-1 4h0m-1 1h0m-1-4h0m0 2h0m-1 2h0m-1-5h0m0 4h0m-2-4h0m0 4h0m-1 1h0m-1-3h0m0 1h0m-2-1h0m-2 0h0m0 2h0m-2 0h0m-1 1h0m-1-1h0m-1 1h0m-1-5h0m0 5h0m-1-4h0m0 3h0m-2-4h0m0 5h0m-2-5h0m0 1h0m0 1h0m0 2h0m-1 1h0m-1-2h0m0 1h0m-1-3h0m-1 0h0m0 4h0m-1-5h0m0 5h0m-2-3h0m0 2h0m-1 0h0m0 1h0m-1-2h0m-1-2h0m0 4h0m-1-5h0m0 4h0m-2-4h0m-2 4h0m-1-4h0m0 1h0m0 4h0m-1-2h0m-1-2h0m0 4h0m-1-4h0m0 3h0m-1-2h0m0 1h0m-2-3h0m0 2h0m-1 0h0m-1-1h0m0 3h0m-1-2h0m-1 1h0m-1 1h0m-1-3h0m0 1h0m0 3h0m-1-4h0m0 2h0m-4-2h0m0 3h0m-1-4h0m-1 0h0m-1 1h0m0 2h0m0 2h0m-2-5h0m-2 3h0m0 2h0m-1-4h0m-1 1h0m-1-1h0m-2 0h0m6 5h0m1 3h0m0 2h0m1-5h0m1 3h0m0 2h0m1-1h0m1-2h0m0 3h0m1-4h0m2 1h0m0 1h0m1 0h0m1-3h0m1 1h0m0 4h0m1-3h0m0 3h0m1 0h0m1-4h0m0 3h0m2 0h0m0 1h0m1-3h0m1 0h0m0 1h0m0 1h0m0 1h0m1-5h0m0 2h0m1 1h0m1 0h0m1-2h0m1-1h0m0 2h0m3 1h0m0 2h0m2-2h0m0 1h0m1-3h0m2 4h0m1-4h0m0 3h0m1-4h0m1 1h0m2 1h0m0 3h0m1-3h0m2-1h0m2 4h0m1-4h0m0 2h0m0 2h0m1-5h0m0 4h0m1-1h0m0 2h0m1-3h0m1 3h0m1-1h0m1-4h0m0 1h0m1 1h0m0 2h0m1-4h0m0 1h0m0 2h0m0 2h0m1-4h0m1 3h0m1 0h0m2-2h0m0 1h0m1 0h0m1-3h0m0 5h0m2-5h0m0 5h0m1-3h0m0 3h0m1-3h0m1 0h0m0 1h0m1-3h0m0 1h0m0 3h0m1-4h0m0 3h0m1-3h0m2 4h0m1-1h0m0 1h0m2 1h0m3-2h0m4-1h0m0 2h0m1 0h0m1 1h0m1-3h0m0 2h0m1-4h0m0 1h0m0 1h0m0 1h0m1-1h0m0 3h0m1-2h0m1 0h0m0 1h0m1-1h0m2-3h0m0 1h0m0 1h0m0 1h0m0 1h0m1 1h0m1-4h0m0 4h0m1-3h0m0 2h0m1-2h0m2-2h0m0 3h0m1-1h0m0 1h0m0 1h0m1 1h0m1-2h0m2-2h0m0 2h0m14-2h0m7 1h0m0 2h0m0 1h0m1-4h0m0 2h0m0 2h0m1-1h0m2-3h0m0 1h0m1-2h0m2 0h0m0 2h0m0 1h0m0 1h0m1-4h0m0 3h0m1-3h0m0 1h0m0 4h0m1-4h0m1 0h0m1 1h0m2-2h0m2 3h0m1 1h0m3-1h0m0 1h0m1 1h0m1-1h0m1-2h0m0 3h0m1-2h0m1-2h0m2-1h0m1 4h0m3 0h0m24 0h0m9-4h0m0 2h0m2-1h0m1 1h0m2 1h0m2-1h0m0 3h0m1-4h0m0 1h0m0 3h0m1 0h0m2-5h0m0 1h0m0 2h0m1 0h0m0 2h0m1-5h0m0 5h0m1-4h0m0 3h0m2-2h0m0 3h0m3 0h0m24-5h0m3 0h0m6 1h0m-33 7h0m0 1h0m0 2h0m-2-4h0m0 2h0m0 2h0m-1-3h0m0 1h0m0 1h0m0 1h0m-1-5h0m-1 1h0m0 1h0m0 3h0m-1 0h0m-1-4h0m0 2h0m0 2h0m-1-5h0m0 2h0m0 2h0m0 1h0m-2-4h0m-4-1h0m-10 4h0m-1-1h0m0 1h0m0 1h0m-2-5h0m0 3h0m-1 2h0m-1-3h0m-1-1h0m0 3h0m-4 0h0m-3 1h0m-12-1h0m-3-4h0m-1 1h0m-1-1h0m0 2h0m-2 0h0m-2 1h0m-1 1h0m0 1h0m-1-2h0m-1-3h0m0 3h0m-1-1h0m-1 2h0m-3-4h0m-1 0h0m-1 3h0m-1-3h0m0 2h0m-1-2h0m0 2h0m0 3h0m-1-4h0m-1 4h0m-2-5h0m-1 2h0m-8 1h0m0 2h0m-2-2h0m-1 2h0m-18-3h0m0 2h0m-2-3h0m-3 1h0m0 3h0m-1-3h0m0 2h0m-2-2h0m0 1h0m0 1h0m0 1h0m-1-5h0m-1 3h0m-1-3h0m0 2h0m-1-2h0m0 1h0m0 2h0m-1-2h0m0 2h0m0 1h0m-1 0h0m-1-1h0m0 1h0m-1-2h0m0 2h0m-1-3h0m0 2h0m-1-3h0m0 2h0m0 1h0m0 2h0m-2-1h0m-1-1h0m-1 1h0m-4 1h0m-1-4h0m-1 3h0m-1 1h0m-1-4h0m-1-1h0m0 2h0m-2 1h0m-1-1h0m-1-1h0m0 4h0m-1-2h0m-2-1h0m0 2h0m-1-2h0m-1-2h0m0 4h0m0 1h0m-2-5h0m0 3h0m-1-3h0m0 1h0m0 3h0m0 1h0m-1-5h0m0 2h0m0 1h0m-2-3h0m-1 1h0m-1 1h0m0 3h0m-1-2h0m0 1h0m-1 1h0m-1-4h0m0 4h0m-1-4h0m-1-1h0m-1 2h0m-1 0h0m0 2h0m0 1h0m-2-5h0m0 3h0m-1 0h0m-2-1h0m-1 1h0m-1 1h0m-1-4h0m0 1h0m0 1h0m-2-2h0m-1 1h0m0 1h0m0 3h0m-1-1h0m-1-4h0m-1 2h0m0 3h0m-2-3h0m-1 2h0m-1-4h0m-1 4h0m-1-1h0m0 1h0m0 1h0m-1-5h0m-3 1h0m0 2h0m-1-2h0m0 3h0m-1 1h0m-1-4h0m0 2h0m-1-3h0m-1 2h0m-1 1h0m0 2h0m-2-2h0m-1-2h0m0 2h0m-2-3h0m-4 1h0m8 5h0m0 2h0m1 1h0m0 1h0m1-3h0m2 1h0m0 2h0m2-4h0m0 2h0m1 1h0m1-3h0m0 1h0m1 0h0m0 2h0m1-2h0m2 3h0m2-1h0m0 2h0m1-4h0m0 1h0m5-1h0m5 0h0m1 1h0m1 3h0m1-2h0m0 2h0m1-4h0m1-1h0m0 4h0m1-2h0m1 0h0m1 2h0m1-4h0m0 2h0m3 0h0m1 0h0m1-1h0m0 3h0m1-2h0m1-1h0m0 1h0m0 2h0m2-3h0m0 2h0m0 2h0m1-5h0m2 3h0m0 2h0m1-1h0m1 0h0m1-4h0m0 3h0m11 0h0m1 0h0m0 2h0m1-3h0m1-1h0m1-1h0m1 1h0m4-1h0m1 0h0m0 1h0m1-1h0m2 0h0m2 0h0m3 3h0m2-3h0m1 2h0m20 3h0m3 0h0m1-4h0m0 1h0m1-1h0m0 1h0m1 0h0m1 2h0m0 1h0m1-4h0m1 0h0m0 2h0m0 1h0m2-4h0m1 4h0m1 0h0m0 1h0m2-2h0m1-2h0m1 2h0m1-3h0m1 1h0m1-1h0m0 2h0m0 2h0m1 0h0m1-4h0m1 5h0m1-5h0m1 4h0m1-2h0m0 3h0m1-5h0m0 4h0m3 0h0m0 1h0m3-5h0m1 3h0m0 1h0m2-2h0m0 1h0m1-2h0m0 2h0m1-3h0m0 3h0m2 2h0m4-1h0m8-3h0m1 3h0m1-1h0m0 1h0m1-1h0m0 2h0m1-3h0m0 3h0m1-1h0m0 1h0m1-5h0m1 0h0m1 1h0m0 1h0m1 3h0m1-3h0m3 1h0m0 2h0m1-5h0m1 3h0m2 2h0m14-2h0m1 2h0m2-4h0m0 1h0m0 1h0m0 2h0m1-2h0m1-1h0m1 2h0m1 0h0m18 1h0m2-1h0m1 0h0m4 1h0m52-3h0m2 2h0m-31 7h0m-1 0h0m-1-1h0m-3 0h0m0 1h0m-1-3h0m-2 1h0m0 1h0m-1-2h0m-1-1h0m0 4h0m-1-2h0m-1-2h0m-1 3h0m-2-2h0m-1 1h0m-2-1h0m0 1h0m0 1h0m-1-1h0m-1 1h0m0 1h0m-1 0h0m-3-1h0m-2 1h0m-1-5h0m0 3h0m-1 0h0m0 2h0m-1-4h0m0 1h0m-1 1h0m-1-3h0m0 2h0m-1 3h0m-3-2h0m-1-3h0m0 5h0m-1-2h0m-2 1h0m-3 0h0m0 1h0m-2-3h0m0 2h0m-2-2h0m-1-2h0m0 4h0m-2-2h0m0 2h0m-2-1h0m0 2h0m-1-4h0m0 3h0m-1-1h0m-20-1h0m-1 3h0m-2 0h0m-1-2h0m-2-3h0m0 2h0m-3 0h0m-1-1h0m-18 0h0m0 1h0m-2-2h0m0 5h0m-2 0h0m-1-1h0m-7-4h0m0 2h0m-1-1h0m-1-1h0m-1 1h0m0 1h0m0 1h0m-1-2h0m-1 1h0m-4 3h0m-2-2h0m-1-1h0m-1 1h0m-1 1h0m0 1h0m-2-4h0m0 1h0m-2-2h0m0 5h0m-1-4h0m0 4h0m-1-5h0m-1 1h0m-1 0h0m-1-1h0m0 2h0m-3-2h0m0 2h0m-1 3h0m-3 0h0m-1-5h0m-5 4h0m-11 0h0m-13-4h0m-3 1h0m-11-1h0m-4 0h0m-2 1h0m-2 1h0m-5 0h0m-2-2h0m-4 1h0m-4 0h0m-9 1h0m-9 1h0m-2 2h0m-1-5h0m0 4h0m-2-4h0m-3 2h0m0 2h0m-1-2h0m15 7h0m7 0h0m3 2h0m34-3h0m13-1h0m10 4h0m3-1h0m1-1h0m1-2h0m1 2h0m1-1h0m1-1h0m0 1h0m1 2h0m1-3h0m2 1h0m1-1h0m0 1h0m0 1h0m0 1h0m1-4h0m0 5h0m1-4h0m1 2h0m0 1h0m1-2h0m0 1h0m1-1h0m1-2h0m0 1h0m3 3h0m1-3h0m3-1h0m0 5h0m1-3h0m1 3h0m3-5h0m2 3h0m1 0h0m1-3h0m0 5h0m1-4h0m0 3h0m1-3h0m0 1h0m0 2h0m0 1h0m1-2h0m1 1h0m2-4h0m2 2h0m2 1h0m0 1h0m1-1h0m0 1h0m1 1h0m4-4h0m2 1h0m1 3h0m1-5h0m0 1h0m20-1h0m3 1h0m3-1h0m26 0h0m0 1h0m1 0h0m0 2h0m1-3h0m3 1h0m1 0h0m0 2h0m1-2h0m2 0h0m1-1h0m0 2h0m2 3h0m2-2h0m1-3h0m0 5h0m1-5h0m0 3h0m1 1h0m2-2h0m3 1h0m1-3h0m0 1h0m0 1h0m0 1h0m1-3h0m0 4h0m1-1h0m0 1h0m1-3h0m0 1h0m1 3h0m1-5h0m0 2h0m0 3h0m2-5h0m0 3h0m1-2h0m1 1h0m0 1h0m0 1h0m1-1h0m0 1h0m1-2h0m1-1h0m1 3h0m2-3h0m0 3h0m1 1h0m1 0h0m1-4h0m0 1h0m2 2h0m1-3h0m1-1h0m1 0h0m2 1h0m44 1h0m-17 8h0m-1 1h0m-36-4h0m-2-1h0m0 2h0m-1-1h0m-1 0h0m-2 2h0m0 2h0m-3-5h0m0 5h0m-1-2h0m-1-1h0m-1 1h0m-1-3h0m0 1h0m-1-1h0m-1 2h0m-1-2h0m0 2h0m-2-1h0m-1 1h0m-2-2h0m-1 0h0m-1 0h0m-1 0h0m-6 5h0m-62-4h0m-4-1h0m0 3h0m-1-3h0m0 2h0m0 2h0m-1 0h0m-1 0h0m-1-4h0m0 1h0m-1 1h0m0 2h0m-1-4h0m-1 3h0m0 2h0m-1-3h0m0 2h0m-1 1h0m-1-5h0m-1 0h0m0 2h0m0 2h0m-1 1h0m-1-4h0m-1 1h0m-1-2h0m0 2h0m0 3h0m-8-5h0m0 5h0m-4-5h0m0 2h0m0 3h0m-1-4h0m0 1h0m-1-1h0m0 1h0m-3-2h0m0 5h0m-2-3h0m-1-2h0m0 2h0m-4-2h0m0 5h0m-6-3h0m-1-1h0m-1 1h0m0 1h0m-1-2h0m-2 2h0m-4 2h0m-2-3h0m-5 3h0m-1-1h0m-3-1h0m0 2h0m-2-1h0m-41-1h0m-1-3h0m45 6h0m0 2h0m0 2h0m1-1h0m1-2h0m0 2h0m2-2h0m1-1h0m0 1h0m0 2h0m2 0h0m6 1h0m1-3h0m0 3h0m4-4h0m1 1h0m0 2h0m4-3h0m0 2h0m0 1h0m1-3h0m0 5h0m1 0h0m1-5h0m1 1h0m0 2h0m1 0h0m1 2h0m1 0h0m1-2h0m0 2h0m1-2h0m0 1h0m2 1h0m3 0h0m1-5h0m0 2h0m0 2h0m0 1h0m2-4h0m0 2h0m2-1h0m0 1h0m1 2h0m1-4h0m1-1h0m0 4h0m0 1h0m2-2h0m0 2h0m1 0h0m2-4h0m0 1h0m1-2h0m0 2h0m0 2h0m2-4h0m0 3h0m1 0h0m1 1h0m0 1h0m2-1h0m1-1h0m93 1h0m1-4h0m0 2h0m1-1h0m39 3h0m2-2h0m-2 9h0m-1 0h0m-1 0h0m-2-1h0m-1 0h0m-11 1h0m-49 0h0m-18-1h0m-49-3h0m-9 0h0m-4 1h0m0 1h0m-2-2h0m0 1h0m-1 3h0m-2-2h0m-1 0h0m-2-3h0m0 1h0m-1 0h0m-1 1h0m0 2h0m-1-4h0m0 4h0m-2-4h0m0 1h0m0 3h0m0 1h0m-1-1h0m-1 0h0m-1-2h0m-1 3h0m-2 0h0m-2-5h0m-1 1h0m0 1h0m-1 1h0m0 2h0m-2-4h0m-1-1h0m-1 1h0m0 3h0m-2-3h0m-2 1h0m0 2h0m-1-4h0m-1 2h0m0 2h0m-1-3h0m0 2h0m-2-2h0m0 2h0m-1-3h0m-4 1h0m-1 0h0m0 3h0m-1-1h0m-1-1h0m-1-2h0m0 2h0m0 2h0m-1-3h0m0 4h0m-1-1h0m-1-3h0m-1 4h0m-3 0h0m-3-2h0m-3 5h0m2 1h0m2-3h0m1 3h0m2-2h0m0 2h0m1 0h0m1-3h0m0 2h0m0 3h0m1-5h0m1 5h0m2-3h0m1-1h0m1-1h0m1 1h0m5 1h0m1 1h0m1-1h0m1-2h0m1 3h0m2-2h0m0 2h0m4-1h0m1-2h0m0 1h0m1 0h0m1 2h0m1-2h0m1 2h0m1-2h0m1 1h0m3 1h0m1 2h0m1-1h0m1-1h0m1-2h0m0 1h0m1 0h0m2-2h0m1 1h0m3 2h0m6 0h0m2-3h0m2 1h0m26 2h0m12 2h0m1 0h0m1-2h0m3 0h0m21-1h0m7 2h0m2 0h0m1-1h0m1 1h0m2 0h0m1-1h0m1 0h0m1 2h0m1-1h0m2-2h0m0 3h0m1-2h0m4 2h0m34-1h0m13-3h0m1 0h0m4 2h0m3-2h0m-22 7h0m-27 2h0m-5 0h0m-2-2h0m-1 1h0m-1-2h0m0 4h0m-2-4h0m0 4h0m-2-1h0m-1-1h0m-1-3h0m0 4h0m0 1h0m-1-5h0m-2 0h0m0 3h0m-1-1h0m-1-2h0m0 4h0m-6 0h0m-24-4h0m0 1h0m-1 3h0m-2-4h0m0 3h0m-1-2h0m-1 4h0m-2-5h0m0 3h0m0 1h0m-2-4h0m0 2h0m0 2h0m-1 0h0m-2-4h0m-1 2h0m-2-2h0m0 2h0m-1 0h0m-1 3h0m-41-5h0m-7 0h0m-1 0h0m-2 0h0m-3 1h0m-2-1h0m0 1h0m0 3h0m-4-2h0m-1 0h0m-1-1h0m0 2h0m-2-2h0m-1-1h0m0 2h0m-1-1h0m-15-1h0m-4 1h0m86 5h0m0 1h0m0 2h0m2-3h0m0 1h0m3 3h0m2-4h0m0 5h0m2-5h0m0 2h0m0 2h0m2-1h0m0 2h0m4-3h0m1 2h0m1-4h0m0 2h0m1-1h0m0 1h0m0 2h0m0 1h0m1-5h0m0 1h0m0 2h0m2-3h0m2 1h0m1 1h0m2 2h0m20-2h0m0 2h0m1-2h0m1-2h0m0 4h0m0 1h0m1-4h0m1-1h0m0 2h0m2-2h0m0 4h0m1-2h0m1-2h0m0 2h0m0 2h0m1-2h0m2-2h0m0 3h0m2 0h0m0 2h0m1-3h0m2 1h0m4 0h0m0 2h0m4 0h0m32 0h0m2-3h0m1 8h0m-4-3h0m-1 1h0m0 1h0m-1-1h0m0 2h0m-1-2h0m0 3h0m-1-4h0m0 4h0m-3 0h0m-1-2h0m-1 1h0m-11-1h0m-7 2h0m-1-4h0m0 3h0m-1 1h0m-1-5h0m0 2h0m0 3h0m-3-5h0m0 2h0m-2-1h0m0 2h0m-1-3h0m-1 3h0m0 2h0m-1-5h0m-1 3h0m0 1h0m-1-2h0m0 3h0m-2-2h0m0 2h0m-1-1h0m0 1h0m-1-4h0m0 3h0m-1 1h0m-1-1h0m-1-3h0m0 4h0m-2-3h0m0 2h0m-2-2h0m0 1h0m-1 2h0m-1-5h0m0 1h0m-10-1h0m-2 2h0m-8-2h0m-9 1h0m0 2h0m-1-2h0m-1 1h0m-1-1h0m-44 4h0m-4-3h0m-5 3h0m-2 0h0m-1-3h0m0 2h0m-56 1h0m49 6h0m1-2h0m1 1h0m1-2h0m0 2h0m1-2h0m1 3h0m1-5h0m0 3h0m1-3h0m0 2h0m1-2h0m1 1h0m0 3h0m0 1h0m1-5h0m0 4h0m0 1h0m2-4h0m0 3h0m0 1h0m3 0h0m1-5h0m0 1h0m3 1h0m0 2h0m1-2h0m1-1h0m0 2h0m1 1h0m0 1h0m1-2h0m2-1h0m0 1h0m2-1h0m0 1h0m1-3h0m0 3h0m1-3h0m0 1h0m70-1h0m0 5h0m1-5h0m0 1h0m0 2h0m1-1h0m1-2h0m8 4h0m4 1h0m1-4h0m2-1h0m2 0h0m1 1h0m3 4h0m1-1h0m1-3h0m0 3h0m4-4h0m0 1h0m4 0h0m1 0h0m-19 9h0m-70 0h0m-3 0h0m-3 1h0m-2 0h0m-13-4h0m0 2h0m-2-1h0m-1 0h0m-3-2h0m-1 3h0m0 1h0m-1-4h0m-1 3h0m0 2h0m-1-5h0m0 5h0m-1-5h0m-1 0h0m-3 2h0m-1-1h0m-1 1h0m0 2h0m-1-3h0m-1 0h0m0 4h0m-1-5h0m0 1h0m-1 1h0m0 1h0m-1-3h0m-7 4h0m-2-1h0m-1 1h0m-24 1h0m-1 1h0m21 5h0m1-1h0m1-1h0m1-2h0m1 1h0m1-1h0m0 2h0m2-2h0m0 2h0m0 1h0m1-4h0m0 3h0m0 1h0m1-3h0m0 3h0m1-2h0m1-1h0m1 2h0m0 2h0m1-4h0m1 3h0m1-3h0m0 1h0m1-2h0m0 2h0m1-1h0m0 2h0m0 2h0m1-4h0m0 4h0m2-2h0m0 2h0m1-1h0m3-3h0m0 2h0m0 2h0m1-4h0m1 1h0m0 3h0m3-2h0m1-3h0m0 2h0m1 3h0m1-1h0m1-3h0m1-1h0m0 5h0m2 0h0m2-4h0m8-1h0m13 4h0m2-4h0m23 4h0m76 7h0m-2 0h0m-50-3h0m-1 1h0m-17 2h0m-1 0h0m-1 0h0m-2-3h0m0 1h0m-1-3h0m0 5h0m-1-4h0m-1 1h0m0 1h0m-1 0h0m-7 0h0m-1 1h0m-2-2h0m-1 1h0m0 2h0m-15-4h0m-2 2h0m-20-2h0m-1 3h0m-2-1h0m-2-3h0m0 2h0m0 2h0m-1-3h0m-1-1h0m0 3h0m0 2h0m-1-3h0m-1 1h0m0 2h0m-1-4h0m-1 4h0m-1-5h0m0 5h0m-1 0h0m-4-4h0m0 4h0m-4 0h0m-2-5h0m0 2h0m0 2h0m-1-4h0m0 5h0m-1-4h0m-1-1h0m0 4h0m-3-4h0m-2 2h0m-2 0h0m-2 1h0m-1 0h0m4 4h0m0 1h0m1-2h0m3 2h0m0 1h0m0 2h0m2-2h0m0 1h0m1 0h0m1-2h0m1 2h0m1-2h0m2-2h0m0 2h0m0 1h0m1-3h0m0 2h0m3 1h0m3 0h0m0 2h0m1-5h0m0 1h0m0 4h0m1-3h0m0 2h0m1-3h0m1 4h0m1-5h0m0 2h0m0 3h0m1-4h0m1 0h0m0 4h0m2-5h0m1 0h0m1 1h0m4 3h0m2-4h0m1 3h0m1 2h0m2-1h0m5-4h0m2 2h0m6-1h0m3 4h0m11-5h0m2 2h0m1 1h0m2-1h0m1 1h0m2 0h0m2 2h0m2 0h0m3-4h0m1 2h0m2 0h0m1 2h0m3-4h0m0 3h0m1-2h0m1 2h0m1-1h0m49 1h0m1 0h0m1-3h0m0 1h0m0 1h0m2-2h0m0 2h0m2-2h0m0 1h0m1 0h0m1 1h0m1 2h0m1-4h0m0 1h0m0 1h0m2-3h0m0 2h0m0 3h0m2-4h0m2-1h0m0 2h0m1 1h0m2-2h0m-5 5h0m-2 1h0m-2-1h0m-1 3h0m-1-3h0m-1 0h0m-2 0h0m-1 0h0m-31 1h0m0 4h0m-1-1h0m-2-2h0m0 2h0m-4 0h0m-3-3h0m0 2h0m-2 1h0m-1-4h0m-1 2h0m-7-1h0m-25 4h0m-1-2h0m-17-2h0m-1 0h0m-1 0h0m0 2h0m-2-1h0m-1-2h0m0 2h0m0 2h0m-1-3h0m0 3h0m-2-4h0m0 4h0m-3-1h0m-1-1h0m0 1h0m-3 0h0m0 1h0m-1-2h0m0 2h0m-2 1h0m-1-1h0m-2 0h0m-2-1h0m-1-2h0m0 1h0m0 2h0m-1-1h0m0 2h0m-1-3h0m-1-1h0m0 4h0m-2-5h0m0 4h0m-3-3h0m-1 0h0m0 2h0m-1-3h0m-2 0h0m-1 2h0m-2-1h0m-2-1h0m0 3h0m13 7h0m1-2h0m1 0h0m0 2h0m2-3h0m1-1h0m0 2h0m2-2h0m0 5h0m2-2h0m1-2h0m0 3h0m0 1h0m1-4h0m0 2h0m0 2h0m1-5h0m0 1h0m1 0h0m2-1h0m0 4h0m1-2h0m1 0h0m2-2h0m0 5h0m1-3h0m4-2h0m0 4h0m1-3h0m1 2h0m1-2h0m0 3h0m2 0h0m0 1h0m1-4h0m3 3h0m1 0h0m5-4h0m8 1h0m1-1h0m0 3h0m0 1h0m1-1h0m3-1h0m11 2h0m4 1h0m1-1h0m2 0h0m1 0h0m2-1h0m1-2h0m0 4h0m2-3h0m3-1h0m0 3h0m1-1h0m0 2h0m1-1h0m1-3h0m1 2h0m1-2h0m0 3h0m2-4h0m0 4h0m1 1h0m2-5h0m0 3h0m1-2h0m3 0h0m1 2h0m-4 3h0m-2 4h0m-2-3h0m-2 3h0m-1-3h0m-1 0h0m0 2h0m-1 2h0m-1-4h0m0 1h0m0 1h0m-1-2h0m-1-1h0m-4 1h0m-2-1h0m0 5h0m-2-1h0m-1-2h0m-1-2h0m-1 0h0m0 2h0m-2 0h0m-1-1h0m0 2h0m-5 2h0m-2-1h0m-4-4h0m-19 0h0m-3 0h0m-1 0h0m-4 1h0m0 3h0m-1-3h0m-1 2h0m-1-3h0m-1 2h0m0 3h0m-7-5h0m-2 3h0m-1-3h0m0 2h0m-1-1h0m-3 2h0m-2-1h0m0 1h0m-1 0h0m-2-1h0m0 3h0m-1-5h0m-1 7h0m2-1h0m18 0h0m1 5h0m1-4h0m1 1h0m1-1h0m1-1h0m31 1h0m3-1h0m2 1h0m5-1h0m1 0h0m1 0h0m2 1h0"/>
<path fill="none" stroke="#d84a58" stroke-width="2.5" stroke-linecap="square" d="M373 1239h0m-55 16h0m89 20h0m55 19h0"/>
<path fill="none" stroke="#e5252a" stroke-width="3" stroke-linecap="square" d="M409 1313h0m33-3h0m-106 9h0m127 7h0m-13 0h0m-18 5h0m0 4h0m38-3h0m-35 17h0m2 0h0m24 0h0m-10 4h0m-8 5h0m1 4h0m-1 5h0m-10 0h0m-24 1h0m-3 7h0m-16 11h0m39 42h0m-45 41h0m3-1h0m14-3h0m24 8h0m-18 8h0m2 1h0m-15 4h0"/>
<ellipse cx="432.3" cy="1294.0" rx="97.8" ry="110.2" fill="none" stroke="#12A850" stroke-width="5.6" stroke-dasharray="13.3 4.42"/>
<text x="314.6" y="1177.0" font-size="35.2">CXCL11</text>
</g>
<g>
<rect x="560.6" y="1181.9" width="363.2" height="321.8" fill="#fff" stroke="#555" stroke-width="1.2"/>
<path transform="translate(.5 .5)" fill="none" stroke="#c0c0c0" stroke-width="1.9" stroke-linecap="square" d="M702 1193h0m38-1h0m33 7h0m-1 0h0m-7 0h0m-2 0h0m-8 0h0m-1 0h0m-4-2h0m0 1h0m-1 0h0m-1-2h0m0 1h0m-1 2h0m-1-1h0m-1-1h0m-1-1h0m0 1h0m-2-2h0m-1 0h0m0 2h0m-2-1h0m-1-1h0m-1 3h0m-1 1h0m-3-3h0m-3 3h0m-2 0h0m-5 4h0m1-2h0m1 0h0m0 1h0m1 2h0m2-4h0m1 0h0m0 2h0m2-2h0m1 2h0m2-1h0m1-1h0m0 1h0m2-1h0m1 2h0m1-2h0m1 1h0m2-1h0m1 4h0m1-3h0m1-1h0m2 0h0m0 2h0m1 1h0m2-1h0m19-1h0m3-1h0m3 2h0m2 1h0m19 8h0m-2 0h0m-2-1h0m-1-1h0m-3-1h0m-1-2h0m-1 0h0m-40 4h0m-3-4h0m0 3h0m-18-3h0m0 2h0m18 5h0m55-1h0m3 3h0m2 3h0m0 3h0m-106 2h0m-7 0h0m-4 1h0m5 3h0m2 0h0m1 1h0m0 1h0m4-4h0m0 1h0m0 2h0m0 1h0m4 0h0m66 0h0m9 0h0m7 0h0m5-1h0m3 1h0m7 0h0m20 4h0m-3-1h0m-1-1h0m0 1h0m-3 0h0m0 2h0m-1 0h0m-1-2h0m-2 2h0m-3-3h0m-2 2h0m-3 0h0m-1 1h0m-3 0h0m-1 1h0m-2-5h0m0 1h0m0 2h0m-2-1h0m0 3h0m-1-4h0m0 2h0m0 1h0m0 1h0m-2-1h0m-1-1h0m-1-2h0m-1-1h0m0 2h0m0 2h0m-1-1h0m0 1h0m0 1h0m-1-3h0m0 2h0m-1 0h0m0 1h0m-1-3h0m0 3h0m-1-2h0m-1-2h0m0 4h0m-3-3h0m0 2h0m-1 0h0m-1-4h0m-1 1h0m-1-1h0m0 5h0m-1-5h0m-1 3h0m-1 1h0m-2-1h0m-1-1h0m-1 3h0m-1 0h0m-1-4h0m-1 1h0m0 2h0m-1-3h0m0 2h0m-1-1h0m0 2h0m0 1h0m-1-1h0m-2 0h0m-1-1h0m-1 0h0m-3-3h0m-1 2h0m0 2h0m-1 0h0m0 1h0m-1-2h0m0 2h0m-46-2h0m0 2h0m-1-3h0m0 2h0m-1-4h0m0 5h0m-1-2h0m-1-2h0m0 2h0m0 1h0m0 1h0m-2-5h0m-1 1h0m0 2h0m0 2h0m-2-5h0m-1 3h0m-7 7h0m1 1h0m1 0h0m2-2h0m3-3h0m0 1h0m0 2h0m1 1h0m1 1h0m1-4h0m0 1h0m0 3h0m2-5h0m2 3h0m0 2h0m38-3h0m1 1h0m1 1h0m1 0h0m1-4h0m0 2h0m0 2h0m2 0h0m0 1h0m1-2h0m0 1h0m0 1h0m3-4h0m0 1h0m0 1h0m1 0h0m1-2h0m0 1h0m1-1h0m1 4h0m1-5h0m0 4h0m0 1h0m1-2h0m0 2h0m1-5h0m0 5h0m1-3h0m2-2h0m0 5h0m1 0h0m1-3h0m0 1h0m0 1h0m1-3h0m1-1h0m0 3h0m2 0h0m1-3h0m0 2h0m1 0h0m0 1h0m1-1h0m0 1h0m0 2h0m1-5h0m0 1h0m1 2h0m1-2h0m0 1h0m0 1h0m0 1h0m1-4h0m0 1h0m1 0h0m1-1h0m1 2h0m0 1h0m1-1h0m0 1h0m0 1h0m1 0h0m1-3h0m0 1h0m2 1h0m1 2h0m4-5h0m1 0h0m1 5h0m1-4h0m0 4h0m1-3h0m0 1h0m1-3h0m1 1h0m0 1h0m0 2h0m2-1h0m2-1h0m1 2h0m1 1h0m1-1h0m4-3h0m2 1h0m3 0h0m0 3h0m1-1h0m1 1h0m1 0h0m3-5h0m0 1h0m6 3h0m1-3h0m3 2h0m-4 6h0m-1-1h0m-7-1h0m0 2h0m-1 2h0m-1-3h0m0 1h0m-8 2h0m-2-4h0m-1 0h0m0 2h0m-2-2h0m-1 4h0m-1-3h0m0 3h0m-1-5h0m0 2h0m0 3h0m-3-3h0m0 2h0m-1-1h0m0 1h0m-1-3h0m0 3h0m-1-2h0m0 2h0m-1-1h0m-1 1h0m-3-3h0m0 2h0m0 2h0m-1-3h0m0 1h0m0 2h0m-1-3h0m-1-2h0m-1 0h0m0 2h0m0 1h0m-1-3h0m-1 3h0m-1-1h0m0 3h0m-1-1h0m0 1h0m-1-3h0m0 1h0m-1-3h0m0 1h0m0 2h0m0 2h0m-1-2h0m-1 0h0m0 2h0m-1-5h0m0 1h0m0 1h0m-2 0h0m0 3h0m-2-2h0m0 1h0m0 1h0m-1-4h0m0 2h0m-1-3h0m-1 0h0m0 3h0m-1-3h0m0 5h0m-1-2h0m0 2h0m-1-2h0m0 1h0m-1-4h0m0 4h0m-1-3h0m0 4h0m-1-5h0m0 1h0m-1 4h0m-1-5h0m0 5h0m-2-5h0m0 1h0m0 3h0m-1-4h0m0 2h0m-1 1h0m-1 1h0m-1-4h0m-1 3h0m-1-3h0m0 3h0m0 2h0m-1-3h0m0 2h0m-1-3h0m0 3h0m-1-1h0m0 2h0m-1-1h0m-1 1h0m-2-3h0m-1 2h0m-2-3h0m-2 3h0m-2-4h0m-30 3h0m-1 0h0m-1 2h0m-1-5h0m0 3h0m-3 1h0m-1-4h0m0 1h0m0 2h0m0 1h0m-2-1h0m0 1h0m-1-2h0m-1-2h0m-1 1h0m0 1h0m-1-1h0m-1 4h0m-3-2h0m0 2h0m-1-3h0m-1-2h0m-4 0h0m4 6h0m1 1h0m2 2h0m1 2h0m3-3h0m0 3h0m1-1h0m2 0h0m1-2h0m0 2h0m2-4h0m0 2h0m6-1h0m18 0h0m0 2h0m3 0h0m1 1h0m2 1h0m5-1h0m1-1h0m1-1h0m1 2h0m0 1h0m1-5h0m0 4h0m1-3h0m1 0h0m0 1h0m0 2h0m0 1h0m1-5h0m0 5h0m1-5h0m1 2h0m0 2h0m1-4h0m0 2h0m0 2h0m1 0h0m1-3h0m0 1h0m1-1h0m0 4h0m1-4h0m0 1h0m1-2h0m0 4h0m1-4h0m0 3h0m0 2h0m1-5h0m0 5h0m1-1h0m1-3h0m1-1h0m0 4h0m1-4h0m0 3h0m0 2h0m1-5h0m0 1h0m0 1h0m1 0h0m0 1h0m0 2h0m2-4h0m0 2h0m1-2h0m0 2h0m1-2h0m0 2h0m1-2h0m1 0h0m1 1h0m0 1h0m0 2h0m1-3h0m0 2h0m1-4h0m0 2h0m0 2h0m3-2h0m1 3h0m1-1h0m2-4h0m0 2h0m2-2h0m0 4h0m1-2h0m0 3h0m1-4h0m0 3h0m1-4h0m1 0h0m0 5h0m2-5h0m0 4h0m1-3h0m1-1h0m0 1h0m0 3h0m1-1h0m0 1h0m1-1h0m1 1h0m1-3h0m0 2h0m1-3h0m0 2h0m0 2h0m1-1h0m1-3h0m0 3h0m0 1h0m0 1h0m1-4h0m0 1h0m1 3h0m1-4h0m0 2h0m0 1h0m0 1h0m2-4h0m1 3h0m1-4h0m0 1h0m0 3h0m1-3h0m0 2h0m0 1h0m0 1h0m1-4h0m1 1h0m2 0h0m0 2h0m4 0h0m1 0h0m1 0h0m2-4h0m0 4h0m1-3h0m0 4h0m3-3h0m2 0h0m3-1h0m2 0h0m0 3h0m1-2h0m34 7h0m-12 2h0m-9-3h0m-10 0h0m-5 1h0m0 1h0m-5-3h0m-1 0h0m-1 2h0m0 1h0m-3-2h0m-1 2h0m-1-2h0m0 3h0m-1-3h0m-1-1h0m-3 3h0m-1-3h0m-2 2h0m-1-1h0m0 3h0m-1-4h0m-1-1h0m0 2h0m0 2h0m-1-4h0m-1 2h0m0 2h0m-1-4h0m0 4h0m0 1h0m-1-2h0m-1-2h0m-1 0h0m-1 0h0m0 1h0m-1 1h0m0 2h0m-1-5h0m-1 1h0m0 3h0m-2-4h0m0 2h0m-1-2h0m0 2h0m0 3h0m-1 0h0m-1-5h0m0 2h0m-1-1h0m0 4h0m-3-5h0m0 2h0m-1-2h0m0 3h0m0 1h0m0 1h0m-1-1h0m0 1h0m-1-4h0m-1-1h0m0 1h0m0 4h0m-1-5h0m0 2h0m-1-2h0m0 4h0m-1-3h0m0 1h0m-1-1h0m0 3h0m0 1h0m-2 0h0m-1-3h0m0 2h0m0 1h0m-1-2h0m0 1h0m-1 0h0m-1-4h0m0 5h0m-1-5h0m-1 0h0m-1 5h0m-1-3h0m-1-2h0m0 2h0m-3 2h0m-1-4h0m0 2h0m0 2h0m0 1h0m-1-3h0m0 1h0m-1-2h0m-2 3h0m0 1h0m-5-4h0m0 3h0m-1-3h0m0 2h0m-1-1h0m-1 0h0m0 1h0m0 2h0m-1-2h0m0 2h0m-1-5h0m0 3h0m0 1h0m0 1h0m-2 0h0m-1-1h0m-2 0h0m-1-3h0m-3-1h0m-4 1h0m-1 4h0m-1-3h0m0 1h0m-1-3h0m0 1h0m-1-1h0m0 1h0m0 2h0m-1-1h0m0 2h0m-1 0h0m0 1h0m-3-3h0m0 3h0m-1-2h0m-13-3h0m-5 2h0m-2-2h0m0 3h0m-1-2h0m0 2h0m-1 2h0m-4-2h0m-2 3h0m1 3h0m1-1h0m1 1h0m1-3h0m0 2h0m1 3h0m3-5h0m0 5h0m2-2h0m5 0h0m11 0h0m1-1h0m1-2h0m2 0h0m1 1h0m2 1h0m3 3h0m1-3h0m5 0h0m1-2h0m3 1h0m2 1h0m2-2h0m0 2h0m0 3h0m1-5h0m0 3h0m1-1h0m0 1h0m0 1h0m1-4h0m0 2h0m1-2h0m2 0h0m0 3h0m1-3h0m0 1h0m0 4h0m1-3h0m0 2h0m2-4h0m0 4h0m1-3h0m0 1h0m0 1h0m1-3h0m0 3h0m0 2h0m1-2h0m0 2h0m1-1h0m0 1h0m1-4h0m0 4h0m1-4h0m0 1h0m0 1h0m0 1h0m1-1h0m1-3h0m0 1h0m0 2h0m0 2h0m2-1h0m0 1h0m1-4h0m0 2h0m1-3h0m0 2h0m0 2h0m0 1h0m1-1h0m0 1h0m2-5h0m0 4h0m1-3h0m0 2h0m1-3h0m0 4h0m1-3h0m0 1h0m0 2h0m0 1h0m1-4h0m0 2h0m0 1h0m1-3h0m1-1h0m0 5h0m1-3h0m1-1h0m0 1h0m1 0h0m0 1h0m0 1h0m1-1h0m0 2h0m1-4h0m1 0h0m0 1h0m0 2h0m1 0h0m2-1h0m0 2h0m1-5h0m0 4h0m1-4h0m0 1h0m0 2h0m0 1h0m1-1h0m1 0h0m1-2h0m0 2h0m0 2h0m1 0h0m1-3h0m0 1h0m1-2h0m0 3h0m2-1h0m1-3h0m1 1h0m0 3h0m0 1h0m1-5h0m0 2h0m2 0h0m3-2h0m3 0h0m3 3h0m0 1h0m1 1h0m2-2h0m1 1h0m1-3h0m1 3h0m1-2h0m2 2h0m0 1h0m9-2h0m4-2h0m24 2h0m0 1h0m1-4h0m0 1h0m1 2h0m2-3h0m4 1h0m3 9h0m-1 1h0m-2-1h0m0 1h0m-1-5h0m-35 1h0m-1 3h0m-3-4h0m-2 4h0m-2 0h0m-2 1h0m-3-4h0m0 1h0m-1 1h0m0 2h0m-1-5h0m-1 0h0m0 5h0m-1-1h0m-2-2h0m-1 2h0m-2-1h0m-4-2h0m-1 1h0m-1 0h0m0 2h0m-2-3h0m0 2h0m-1 1h0m-1-3h0m0 4h0m-1-2h0m-1-3h0m-1 0h0m0 3h0m0 2h0m-1-4h0m0 4h0m-3-5h0m0 1h0m0 2h0m-1-1h0m0 3h0m-2-3h0m0 2h0m-1-4h0m0 2h0m0 3h0m-1-5h0m0 3h0m-1-1h0m0 2h0m-1-4h0m0 1h0m-1 0h0m0 1h0m0 2h0m-1-4h0m-1 0h0m0 2h0m0 2h0m0 1h0m-1-3h0m0 2h0m0 1h0m-1-3h0m-1 2h0m-1-4h0m0 1h0m0 1h0m0 1h0m-1 0h0m0 1h0m-1-1h0m-1-3h0m0 4h0m-1-3h0m0 2h0m0 2h0m-1-4h0m0 2h0m-1-2h0m0 4h0m-1-3h0m-1 0h0m0 1h0m-1-3h0m0 2h0m0 1h0m-1-3h0m0 4h0m-1-2h0m-1-2h0m-1 3h0m-1-3h0m0 3h0m0 1h0m-1-4h0m0 3h0m0 2h0m-1-4h0m0 4h0m-1-1h0m-1 1h0m-1-3h0m0 3h0m-1-5h0m-1 2h0m-1-1h0m0 4h0m-1-2h0m0 1h0m-1-3h0m0 4h0m-1-3h0m-1-2h0m0 2h0m0 3h0m-1-4h0m-1 1h0m0 2h0m-1-4h0m0 5h0m-1-2h0m-5-1h0m-5 0h0m-6 0h0m-4-1h0m-5-1h0m0 2h0m-2 2h0m-1 0h0m-4-2h0m-11-1h0m-1-1h0m0 2h0m-2 2h0m-2-3h0m0 5h0m1 1h0m1 0h0m5 0h0m8 4h0m4-4h0m28 0h0m1 4h0m1 0h0m1-2h0m1-2h0m1 1h0m1 0h0m2 0h0m1 2h0m1-2h0m0 2h0m1-3h0m1 1h0m1-1h0m1 1h0m1-2h0m0 1h0m1 4h0m1-5h0m1 1h0m0 1h0m2 1h0m1-3h0m1 2h0m0 1h0m1-1h0m0 1h0m1 0h0m1 2h0m1-3h0m0 1h0m0 2h0m1-1h0m1-4h0m0 2h0m0 1h0m0 1h0m0 1h0m1-5h0m1 2h0m0 1h0m1-1h0m0 2h0m1-3h0m0 2h0m1 1h0m1-3h0m0 4h0m1-1h0m1-3h0m0 1h0m0 1h0m0 2h0m1-5h0m0 2h0m0 2h0m1 0h0m0 1h0m1-5h0m0 1h0m1 1h0m2 0h0m0 3h0m1-5h0m0 3h0m1-3h0m0 1h0m0 4h0m1-3h0m0 2h0m1 0h0m1-4h0m0 1h0m0 4h0m1-2h0m0 2h0m1-3h0m1 3h0m1-2h0m0 1h0m1 0h0m0 1h0m2-2h0m0 2h0m1-5h0m0 1h0m0 2h0m0 1h0m1-1h0m0 2h0m1 0h0m1-3h0m0 3h0m2-1h0m0 1h0m2-5h0m2 4h0m2-4h0m0 2h0m0 2h0m1-3h0m0 4h0m1-3h0m0 1h0m1 0h0m1-2h0m0 4h0m3-5h0m0 3h0m0 2h0m1-3h0m2-1h0m2-1h0m1 0h0m3 1h0m0 3h0m4-4h0m0 4h0m8 0h0m22 0h0m3-4h0m0 2h0m1 0h0m1-2h0m0 1h0m0 2h0m1 0h0m-3 3h0m-4 0h0m-9 2h0m-3 0h0m-5 3h0m-2-4h0m0 3h0m-1-3h0m0 4h0m-1-3h0m0 3h0m-1-4h0m0 1h0m-2 1h0m0 2h0m-2-2h0m-1 2h0m-15 0h0m-3-4h0m-3 3h0m-1 0h0m-1-3h0m0 4h0m-1 0h0m-1-1h0m-1-3h0m-1 0h0m0 4h0m-1-3h0m-1 3h0m-1-5h0m0 3h0m-1-1h0m0 2h0m-2-2h0m0 1h0m-2-1h0m-1-2h0m0 1h0m0 2h0m0 1h0m-1-1h0m0 2h0m-1-4h0m0 3h0m-1-4h0m0 3h0m0 1h0m-1-2h0m-1-2h0m0 4h0m-1-3h0m-1-1h0m0 2h0m0 2h0m-2-4h0m0 2h0m-1 0h0m0 2h0m-1-3h0m0 3h0m-2-3h0m-1 0h0m-1 3h0m-2-2h0m-1-2h0m-1 0h0m0 1h0m0 3h0m-1-3h0m-1 3h0m0 1h0m-1-4h0m0 2h0m-1-1h0m-2 0h0m-1-2h0m0 1h0m-1-1h0m-1 0h0m-10 2h0m-2-2h0m-8 1h0m-4 4h0m-33-5h0m-1 1h0m-1 1h0m-1 2h0m-7-3h0m-72 0h0m1 5h0m0 2h0m72-2h0m1 4h0m1-1h0m5-2h0m0 4h0m62-5h0m15 0h0m2 0h0m0 1h0m2 0h0m3-1h0m3 1h0m1 0h0m2 0h0m5 3h0m2-3h0m5-1h0m13 3h0m4-1h0m2 2h0m2-3h0m3-1h0m0 2h0m1 1h0m1-2h0m1 1h0m1 0h0m1-2h0m0 3h0m0 2h0m1-4h0m0 4h0m1-3h0m0 2h0m4 3h0m-1 3h0m-1-4h0m0 1h0m0 2h0m-2 1h0m-1-3h0m-1-1h0m0 2h0m-1-1h0m0 3h0m-1 1h0m-1-3h0m0 3h0m-4-5h0m-10 2h0m-7-1h0m-2 1h0m0 3h0m-5-5h0m-71 5h0m-2-2h0m-9-2h0m-1 2h0m-17-3h0m-1 5h0m-81-5h0m83 7h0m29-1h0m5 0h0m0 4h0m71-3h0m23 2h0m0 2h0m20 0h0m7 0h0m5 0h0m-2 1h0m-1 0h0m-1 2h0m-1-2h0m-1 1h0m-1-1h0m0 2h0m-1-2h0m0 2h0m-30-2h0m-3 5h0m-41 0h0m-2 0h0m-4 0h0m-1-3h0m-4 1h0m-1 0h0m-1 0h0m-1 0h0m-2 1h0m-1 1h0m-1-1h0m-1-4h0m-1 4h0m0 1h0m-1-4h0m0 1h0m0 1h0m-1 2h0m-1-2h0m-1-1h0m-2 1h0m0 2h0m-1 0h0m-1-1h0m-49-2h0m1 7h0m36-1h0m2 2h0m4-3h0m1 1h0m0 2h0m2 0h0m3-2h0m2-1h0m1 1h0m1-2h0m1 4h0m1-2h0m0 3h0m2-2h0m1 2h0m1-5h0m0 3h0m2-1h0m0 2h0m2-3h0m0 2h0m0 1h0m1-4h0m0 2h0m1 2h0m1 1h0m1-2h0m1-3h0m0 2h0m0 2h0m1 0h0m1-3h0m0 2h0m2 0h0m0 2h0m1 0h0m5-2h0m2-2h0m1 0h0m2 4h0m2-1h0m1 1h0m27-4h0m6-1h0m10 0h0m-11 7h0m-25 4h0m-3-3h0m0 2h0m-2-1h0m-5-2h0m0 1h0m0 1h0m-1 1h0m-1-4h0m0 3h0m-1-1h0m-1-2h0m0 4h0m-1 0h0m-4-2h0m-3 1h0m-2-2h0m-1 2h0m-1-1h0m0 2h0m-1-2h0m-1-1h0m-4 1h0m-1 2h0m-1-2h0m-1-1h0m-1 1h0m0 2h0m-1-3h0m0 2h0m-2-2h0m0 4h0m-1-2h0m0 1h0m-1-4h0m0 2h0m-2-2h0m-1 4h0m-1-3h0m0 2h0m-2-1h0m0 3h0m-1-4h0m-1 1h0m-3 0h0m-1-2h0m0 4h0m-1 0h0m-2 0h0m-1 0h0m0 1h0m-5-1h0m-13-2h0m-2 1h0m-2 1h0m-2 0h0m-17 3h0m1 0h0m3 0h0m1-1h0m2 1h0m2 0h0m1 4h0m3-5h0m13 0h0m1 0h0m5 1h0m9 0h0m2 2h0m2-1h0m0 3h0m1-3h0m2 2h0m2-1h0m1 1h0m1-4h0m0 1h0m1 1h0m0 3h0m1-4h0m0 3h0m2-4h0m1 5h0m1-1h0m1 0h0m1-1h0m0 2h0m2-5h0m2 4h0m0 1h0m1-5h0m1 3h0m3-3h0m2 1h0m1 0h0m0 2h0m0 2h0m1-4h0m0 1h0m1-2h0m0 2h0m1 0h0m0 1h0m1-3h0m0 1h0m1 0h0m0 1h0m2-2h0m1 2h0m1-1h0m1 2h0m1-3h0m0 1h0m1-1h0m0 2h0m0 2h0m1-4h0m1 3h0m0 1h0m3 0h0m1-4h0m0 4h0m1 1h0m1-5h0m2 4h0m20-1h0m1 2h0m7-3h0m1 2h0m0 1h0m5-2h0m0 2h0m37 4h0m-2 2h0m-2-1h0m-3 0h0m-2 1h0m-1-2h0m-1-2h0m0 3h0m-1 0h0m-1 1h0m-1-5h0m-2 4h0m-1-3h0m0 1h0m-4 0h0m0 1h0m-1-1h0m0 2h0m-2 1h0m-1-3h0m-1 2h0m-2-2h0m0 3h0m-1-3h0m-2 0h0m-1 2h0m-1 0h0m-3-4h0m0 3h0m-1 0h0m-1-3h0m-3 1h0m-3 4h0m-1 0h0m-2-3h0m-1-2h0m-1 3h0m0 2h0m-2-3h0m0 3h0m-1-5h0m0 2h0m-1 1h0m-1-2h0m0 4h0m-1-4h0m-2 0h0m-1 2h0m-3 0h0m0 2h0m-6-2h0m-1 1h0m-2 0h0m-5 0h0m-2-2h0m0 1h0m0 2h0m-2-5h0m0 2h0m-3 2h0m-1-2h0m-1 3h0m-1-5h0m0 2h0m-1 1h0m-1 0h0m-3-3h0m0 4h0m-1-3h0m-3 4h0m-1-2h0m-1 0h0m-1-2h0m-1 3h0m-1-4h0m-1 0h0m-1 0h0m0 4h0m-2-3h0m0 2h0m-1-3h0m-2 4h0m-1-2h0m0 2h0m-1-1h0m-1-3h0m-3 0h0m0 1h0m-4 4h0m-1-5h0m-1 1h0m-1 0h0m-1 0h0m0 2h0m0 2h0m-9-2h0m-3-1h0m-6-2h0m-4 0h0m-12 2h0m-23 1h0m20 5h0m1 3h0m1-4h0m2-1h0m33 2h0m2-2h0m0 1h0m0 1h0m1 0h0m1 1h0m1 1h0m0 1h0m4 0h0m1 0h0m2-1h0m1 1h0m1-2h0m0 2h0m1-5h0m2 0h0m0 5h0m1-2h0m1-2h0m1 4h0m1-2h0m0 2h0m2-4h0m0 2h0m0 2h0m1-5h0m0 2h0m0 1h0m2-3h0m0 1h0m0 2h0m0 2h0m1-3h0m1 3h0m2-1h0m0 1h0m2-1h0m1-3h0m0 4h0m1-3h0m1-1h0m0 2h0m1-2h0m0 4h0m2-4h0m1 4h0m3-5h0m1 3h0m1-3h0m2 0h0m6 3h0m3-3h0m1 3h0m1 0h0m3 0h0m1-2h0m0 1h0m2-2h0m0 3h0m2-2h0m0 3h0m1-3h0m0 1h0m0 1h0m0 2h0m1-1h0m1-1h0m1-2h0m0 4h0m1-2h0m1-2h0m0 2h0m3 1h0m3-1h0m2 0h0m1-1h0m2-2h0m0 3h0m2-3h0m1 5h0m1-5h0m0 1h0m0 3h0m0 1h0m1-2h0m1-3h0m0 2h0m3 0h0m0 3h0m1-3h0m0 2h0m1-3h0m0 1h0m0 2h0m1 1h0m2-3h0m0 2h0m2-3h0m0 4h0m1-2h0m1 2h0m1 0h0m1-5h0m2 0h0m0 3h0m2 1h0m1-2h0m1 2h0m1 0h0m1-4h0m1 1h0m0 1h0m0 1h0m2-3h0m1 4h0m1-3h0m1 3h0m1-2h0m0 1h0m0 2h0m1-5h0m2 3h0m1-2h0m0 3h0m2 1h0m1-4h0m3 4h0m1-1h0m2 5h0m-1 0h0m-2-2h0m-1-1h0m0 2h0m-1-1h0m-1 3h0m-1-3h0m0 2h0m0 1h0m-1-3h0m-1 1h0m-1-1h0m0 2h0m0 1h0m-1-3h0m0 4h0m-1-2h0m-1 1h0m-1-3h0m-1 2h0m-1-3h0m-5 4h0m-1-1h0m-1-3h0m-1 1h0m-1-1h0m-1 5h0m-1-1h0m0 1h0m-3-4h0m-1 0h0m0 3h0m-4-2h0m0 1h0m-4 1h0m-1-3h0m0 4h0m-1-3h0m-1-1h0m-1-1h0m-2 1h0m0 4h0m-2-5h0m-1 3h0m-2-2h0m0 1h0m0 3h0m-1 0h0m-1-4h0m0 1h0m0 1h0m-2-1h0m-1-1h0m0 3h0m-1-4h0m-1 0h0m-1 2h0m-1 0h0m0 3h0m-1-4h0m-1 1h0m0 3h0m-1-5h0m0 2h0m-2-1h0m0 3h0m-1-2h0m-1-2h0m-2 1h0m-2-1h0m-1 0h0m-1 1h0m0 1h0m-2-2h0m-11 0h0m-3 0h0m-2 5h0m-2-5h0m-3 1h0m-1 0h0m0 4h0m-2-3h0m-1-1h0m-2 1h0m-3-2h0m0 2h0m0 2h0m-1 0h0m-4-2h0m-1 2h0m0 1h0m-1-3h0m-1 3h0m-1-2h0m0 2h0m-1-3h0m0 2h0m-1-4h0m0 3h0m-1-1h0m0 2h0m0 1h0m-1-2h0m0 1h0m-2-2h0m0 1h0m-2 0h0m-1-2h0m0 2h0m-1-1h0m0 1h0m-1-2h0m-1 0h0m-1 1h0m0 3h0m-1-5h0m-1 4h0m0 1h0m-1-4h0m0 3h0m-1-3h0m0 2h0m-1-1h0m0 3h0m-1-5h0m-1 5h0m-2-3h0m-16 2h0m-1-1h0m-1 0h0m0 1h0m0 1h0m-1-1h0m0 1h0m-1-3h0m-2 3h0m-2 0h0m-103 4h0m2-2h0m96 1h0m4-1h0m1 1h0m1-2h0m1 4h0m1-4h0m0 4h0m1-3h0m1 2h0m1 0h0m1 1h0m1-1h0m1 0h0m1 0h0m1 0h0m2 0h0m0 1h0m16-3h0m2 0h0m1 0h0m2 0h0m0 4h0m1-3h0m2 0h0m1 1h0m0 1h0m2-2h0m0 1h0m1-2h0m0 3h0m1-3h0m0 1h0m1 0h0m1-2h0m1 0h0m2 1h0m1-1h0m0 2h0m1 0h0m1 1h0m2 0h0m1-3h0m1 0h0m1 5h0m1-5h0m1 1h0m0 1h0m1 0h0m1-1h0m3-1h0m0 1h0m1 0h0m0 3h0m2-4h0m0 1h0m0 2h0m2-1h0m2-1h0m25-1h0m4 4h0m0 1h0m2-3h0m1-2h0m2 1h0m0 4h0m1-1h0m1-4h0m0 4h0m3 1h0m1-4h0m0 1h0m1 3h0m1-4h0m2 0h0m0 4h0m1-1h0m4-2h0m2 1h0m0 1h0m0 1h0m2-2h0m1-1h0m0 2h0m1-2h0m0 3h0m1 0h0m1-5h0m0 1h0m2 2h0m4 0h0m0 1h0m2-1h0m1 0h0m2 2h0m1-1h0m1-2h0m1-1h0m0 4h0m2-3h0m1 2h0m1-3h0m0 2h0m1 0h0m0 1h0m1 1h0m1-2h0m0 2h0m2-4h0m1 1h0m0 1h0m1-3h0m1 5h0m1-1h0m3-2h0m38 0h0m1 1h0m-21 8h0m-2-2h0m-19-2h0m-2 1h0m0 2h0m-2-2h0m-1 1h0m-1-3h0m-1 5h0m-1-4h0m-2-1h0m0 4h0m-1-3h0m0 2h0m0 2h0m-2-2h0m0 2h0m-1-5h0m-2 2h0m-1 3h0m-1-4h0m0 1h0m0 2h0m-2 1h0m-1-5h0m-1 3h0m-1 0h0m-1-1h0m-2 0h0m-1 0h0m-1 0h0m0 3h0m-2-2h0m-1 2h0m-1-4h0m0 3h0m-1-2h0m-3 0h0m-1-2h0m-1 3h0m-1 0h0m-1-3h0m-1 5h0m-3-3h0m-2-1h0m0 3h0m-1-4h0m0 5h0m-2-5h0m-1 5h0m-1-4h0m-1 1h0m-1-1h0m0 1h0m-1-2h0m-2 2h0m-41 0h0m-1-2h0m-5 1h0m-5-1h0m-1 0h0m0 1h0m-4-1h0m0 2h0m-3 1h0m-1-3h0m0 2h0m-1-2h0m-20 4h0m-2-1h0m-1-1h0m-1-2h0m0 3h0m-2-3h0m0 1h0m-1 3h0m-2-3h0m0 2h0m-1 0h0m-1-1h0m-1 1h0m-1-2h0m0 2h0m0 1h0m-1 0h0m-2 0h0m-1 3h0m1-1h0m1 2h0m0 2h0m1-2h0m1-2h0m2 3h0m4-3h0m0 2h0m0 2h0m1 1h0m2-2h0m1-3h0m0 4h0m0 1h0m3-3h0m1 3h0m1-5h0m0 3h0m1 0h0m12 1h0m2 0h0m3 0h0m1-1h0m3 0h0m2 0h0m1-2h0m3 3h0m2 0h0m2 1h0m1 0h0m2 0h0m2-1h0m48 0h0m3 1h0m1-3h0m0 1h0m1-3h0m0 1h0m0 3h0m1-1h0m0 2h0m2-1h0m1-3h0m2 0h0m0 1h0m0 3h0m1-4h0m0 3h0m1-2h0m1-2h0m2 1h0m2-1h0m0 3h0m1-3h0m1 5h0m1-2h0m2-2h0m1 4h0m2-3h0m0 2h0m1-4h0m2 1h0m0 1h0m0 2h0m2-4h0m0 4h0m1 1h0m2-5h0m0 3h0m1-2h0m3 3h0m3-2h0m1 1h0m1-2h0m0 3h0m1-1h0m6-3h0m28 8h0m-36-2h0m-4 1h0m-1 0h0m-3 1h0m0 1h0m-1-2h0m-1 1h0m0 2h0m-2-3h0m-1-1h0m-1 0h0m-2 1h0m-2-1h0m-1 2h0m-2-1h0m-2 1h0m-1 0h0m-4 0h0m0 1h0m-1-3h0m0 1h0m-1 3h0m-4-3h0m-1 2h0m0 1h0m-2-3h0m-1 4h0m-1-4h0m-2-1h0m0 1h0m0 2h0m-1-2h0m0 1h0m-2-1h0m0 3h0m-5-2h0m-21 2h0m0 1h0m-2 0h0m-2-1h0m-2 0h0m-1 0h0m-2-2h0m-1 1h0m-1 0h0m-1-3h0m0 5h0m-1-2h0m-1-3h0m-1 2h0m0 2h0m-1 0h0m-1-3h0m0 1h0m-3-2h0m0 5h0m-17-2h0m-17-2h0m0 3h0m-1-1h0m0 1h0m-1-3h0m-2 0h0m0 2h0m-1-3h0m-1 0h0m-3 0h0m0 1h0m-2 4h0m-1-3h0m0 1h0m0 1h0m-1 1h0m-1-5h0m0 3h0m-2-2h0m-6 1h0m0 3h0m-1-5h0m0 4h0m-1-2h0m-8 0h0m6 6h0m0 2h0m1-3h0m0 2h0m0 2h0m3-3h0m3 0h0m1-2h0m1 5h0m1-4h0m0 1h0m1-1h0m0 4h0m1-3h0m2 0h0m2-2h0m0 1h0m1 2h0m0 1h0m1 1h0m1-5h0m1 3h0m2 0h0m0 1h0m1-2h0m0 3h0m2-4h0m1-1h0m1 4h0m1-3h0m0 1h0m3 2h0m24 0h0m8-4h0m0 1h0m1 1h0m3 0h0m2 1h0m2-3h0m0 1h0m0 1h0m0 3h0m1-4h0m0 4h0m1 0h0m1-4h0m0 1h0m0 1h0m1-3h0m0 3h0m1 2h0m1-5h0m1 0h0m0 4h0m1-4h0m0 3h0m1 2h0m1-1h0m1-2h0m1 3h0m25-5h0m2 0h0m6 1h0m-18 7h0m-8 1h0m-7-1h0m0 1h0m-1 1h0m-2-1h0m-1-3h0m-1 2h0m0 1h0m-1 2h0m-1-5h0m0 3h0m0 2h0m-1-5h0m0 2h0m0 2h0m-6-4h0m-10 4h0m-1 0h0m0 1h0m-2 0h0m-1-2h0m-6 1h0m-3 1h0m-15-3h0m-1-1h0m-1-1h0m-5 1h0m0 3h0m-1-1h0m-2-1h0m-4-2h0m-2 2h0m-1-2h0m0 2h0m-1-1h0m0 1h0m0 3h0m-1-4h0m-3 2h0m-1-1h0m-5-2h0m0 2h0m-1-2h0m0 2h0m0 3h0m-1-4h0m0 3h0m-1-1h0m0 2h0m-2-2h0m0 4h0m0 1h0m1-1h0m0 1h0m1-2h0m0 2h0m0 3h0m1 0h0m2-1h0m2-1h0m2-3h0m3 1h0m0 2h0m1-3h0m0 3h0m2-2h0m1 3h0m1-2h0m1-2h0m0 2h0m1 3h0m1-5h0m1 4h0m2-4h0m0 4h0m3 0h0m0 1h0m2-3h0m0 3h0m2-3h0m0 1h0m2 0h0m1 0h0m0 1h0m1-4h0m0 3h0m6 1h0m4-1h0m4-2h0m1 4h0m1-1h0m1-1h0m1 0h0m0 2h0m1-2h0m1-3h0m0 1h0m0 1h0m2 2h0m1 1h0m1-5h0m0 2h0m0 1h0m3 2h0m2-5h0m14 1h0m1 4h0m2-3h0m0 3h0m2-4h0m0 2h0m1-2h0m0 2h0m1-3h0m1 5h0m21-1h0m5 1h0m9-1h0m41-2h0m2 0h0m2 2h0m2 2h0m-33 5h0m-2-1h0m-3 0h0m-3-1h0m-2 2h0m-2-4h0m-1 3h0m-2-3h0m0 3h0m-1-1h0m-2-1h0m0 1h0m0 1h0m-1-1h0m-1-1h0m0 3h0m-1 0h0m-1-1h0m-2-2h0m0 2h0m-2 1h0m-1-5h0m0 1h0m-1 2h0m0 2h0m-1-4h0m0 1h0m0 2h0m-2-4h0m-1 2h0m0 3h0m-2-4h0m-3 2h0m-1-2h0m0 3h0m-1 0h0m-7-2h0m0 1h0m-1-3h0m0 4h0m-2-2h0m0 2h0m-1-3h0m-1 2h0m-4-2h0m-18-1h0m0 3h0m-1 2h0m-1-4h0m0 2h0m-1 2h0m-1-5h0m0 3h0m0 2h0m-1-3h0m-1 0h0m0 2h0m-1 1h0m-2-5h0m-15 0h0m-4 2h0m-2-1h0m-1-1h0m0 3h0m-1 0h0m0 2h0m-1-4h0m0 3h0m-1-3h0m-1 1h0m-5 0h0m-1-1h0m-1-1h0m-1 3h0m-1-2h0m0 4h0m-1-4h0m0 1h0m-1-2h0m-1 1h0m-2 2h0m0 2h0m-2-2h0m-1 1h0m-1-1h0m-1 1h0m-1-3h0m-1 0h0m0 1h0m-2-2h0m0 5h0m-1 0h0m-2-4h0m-1 0h0m-1-1h0m0 2h0m-1 0h0m-1-1h0m-1-1h0m0 2h0m-1 3h0m-1-4h0m-19 3h0m-71 0h0m9 5h0m71 0h0m1-2h0m1 3h0m2-2h0m2-2h0m0 3h0m1-3h0m1 2h0m1-1h0m0 1h0m0 3h0m1-5h0m0 5h0m1-4h0m1 2h0m0 1h0m1-1h0m1-1h0m0 1h0m2 1h0m2 0h0m3 1h0m1-5h0m0 2h0m0 3h0m2-5h0m0 5h0m2-2h0m1-3h0m1 2h0m0 2h0m1-1h0m1-2h0m0 2h0m1-3h0m0 2h0m0 3h0m1-4h0m1 0h0m0 1h0m0 2h0m0 1h0m1-5h0m0 3h0m1 1h0m1-4h0m3 4h0m1-1h0m1 1h0m1-3h0m1-1h0m0 3h0m0 2h0m1 0h0m2-3h0m1-1h0m1-1h0m0 1h0m3 2h0m0 1h0m2 0h0m18-4h0m2 0h0m2 0h0m2 0h0m1 0h0m25 0h0m0 1h0m1 0h0m1-1h0m3 1h0m0 1h0m1 1h0m2-3h0m1 1h0m0 3h0m1-4h0m0 2h0m1 2h0m1-2h0m2-2h0m0 2h0m1-2h0m1 0h0m0 1h0m0 2h0m0 2h0m1-3h0m1-1h0m1-1h0m0 2h0m1-2h0m1 3h0m0 1h0m1-1h0m1 1h0m1-4h0m0 4h0m3-2h0m1 2h0m0 1h0m1-1h0m1-4h0m2 4h0m1-2h0m0 2h0m1-4h0m0 2h0m2 0h0m1 3h0m1-4h0m0 2h0m0 1h0m1-1h0m0 2h0m1-3h0m0 3h0m1-3h0m0 2h0m1-2h0m1 2h0m1-3h0m1-1h0m1 2h0m2-1h0m44 1h0m-17 8h0m-1 1h0m-35-5h0m-3 1h0m0 1h0m-2-1h0m0 2h0m0 1h0m-1-4h0m0 3h0m-1 2h0m-1 0h0m-1-2h0m-1-3h0m0 2h0m-1 1h0m-2 0h0m-1-2h0m-1-1h0m0 3h0m-1-1h0m-1 0h0m-2-1h0m-2 0h0m-4-1h0m-3 2h0m-67-1h0m-1 0h0m-1-1h0m-1 0h0m0 2h0m-3-1h0m0 4h0m-1-3h0m0 2h0m-1-4h0m-1 3h0m0 2h0m-1-3h0m0 2h0m-1 1h0m-1-5h0m-1 0h0m0 4h0m-1 1h0m-2-3h0m0 3h0m-1-5h0m0 2h0m-5-1h0m-3-1h0m0 1h0m-1 4h0m-1-5h0m0 4h0m-2-2h0m-1-1h0m-1 1h0m-1 0h0m-3 1h0m-2-3h0m0 2h0m0 2h0m-1-2h0m-1 3h0m-2-5h0m-7 1h0m-1 1h0m0 1h0m-1-2h0m0 2h0m-4 2h0m-12-1h0m-1 1h0m-2 0h0m-40 0h0m37 4h0m1-1h0m5-2h0m0 1h0m0 1h0m0 2h0m0 1h0m2-4h0m0 2h0m0 2h0m1-2h0m2-3h0m0 1h0m0 1h0m0 1h0m2-3h0m0 2h0m4-1h0m1 2h0m1-3h0m0 4h0m1 0h0m2-4h0m2 0h0m2 1h0m1-1h0m0 1h0m0 1h0m1 0h0m1-2h0m1 0h0m0 2h0m1 0h0m0 3h0m1-5h0m0 1h0m0 3h0m1-3h0m0 2h0m0 2h0m1-5h0m0 3h0m1 2h0m3-2h0m0 1h0m2-1h0m1 0h0m2 2h0m1-3h0m0 2h0m1-3h0m0 1h0m0 2h0m3-1h0m1 0h0m1-2h0m0 2h0m1-3h0m0 5h0m2-3h0m0 1h0m0 2h0m1-5h0m1 2h0m1-1h0m0 4h0m1-5h0m0 2h0m1-1h0m0 4h0m1-5h0m0 3h0m2 1h0m0 1h0m1-1h0m1 0h0m1 0h0m3-3h0m0 2h0m90 1h0m1-2h0m0 3h0m1-4h0m1 1h0m41-2h0m-1 11h0m-2 0h0m-2-5h0m0 5h0m-2 0h0m-1-1h0m-11 1h0m-3-4h0m-64 3h0m-49-3h0m-5 0h0m-3-1h0m-1 1h0m-1 1h0m-1-1h0m-1 1h0m-1 0h0m-2-1h0m-1 4h0m-3-2h0m-1 0h0m0 2h0m-2-4h0m0 4h0m-1-5h0m-1 1h0m0 2h0m-1 1h0m-1 0h0m0 1h0m-2-1h0m-1-2h0m-3-1h0m0 4h0m-2-5h0m-1 1h0m0 4h0m-1-1h0m0 1h0m-1-4h0m-1 0h0m-4 0h0m-1 0h0m-1 1h0m0 2h0m-1-4h0m0 1h0m-1 3h0m-1-1h0m-1-1h0m0 3h0m-1-2h0m-1-3h0m0 3h0m0 2h0m-2-1h0m0 1h0m-2-4h0m-1 3h0m-1-1h0m-1-3h0m0 2h0m0 2h0m-1-2h0m-1-1h0m0 3h0m0 1h0m-1-3h0m0 2h0m-1-3h0m-1 4h0m-3-2h0m0 1h0m0 1h0m-2-5h0m0 1h0m-2 1h0m-4 5h0m2 3h0m4-4h0m1 3h0m1-3h0m1 1h0m0 2h0m1 0h0m1-3h0m0 2h0m1-2h0m1 5h0m2-3h0m1-1h0m2 0h0m2-1h0m2 4h0m2-4h0m1 2h0m1-2h0m0 4h0m1-1h0m0 1h0m2-1h0m1 1h0m4-4h0m2 0h0m0 2h0m1-1h0m1 2h0m0 1h0m2-2h0m2-1h0m0 1h0m1 1h0m3 0h0m1-2h0m0 1h0m3-2h0m1 1h0m2 2h0m3-3h0m1 3h0m0 1h0m2-2h0m1 1h0m1-2h0m29 2h0m3 2h0m9 0h0m23-5h0m3 2h0m6-1h0m1 3h0m2 0h0m4-2h0m0 2h0m1-1h0m3 1h0m2 1h0m1-2h0m4 2h0m34-1h0m0 1h0m1-3h0m13-1h0m1-1h0m3 1h0m0 2h0m3-2h0m3 0h0m-47 5h0m-3 1h0m-9 1h0m-1 1h0m-3-3h0m0 5h0m-1-1h0m-1 0h0m-1-1h0m-1-3h0m-1 0h0m0 5h0m-1-4h0m-1-1h0m0 4h0m-1-3h0m-1-1h0m-1 0h0m-5 4h0m-23 1h0m-1-5h0m0 1h0m0 3h0m-3-3h0m0 2h0m0 2h0m-1-4h0m0 2h0m-3 0h0m0 1h0m0 1h0m-2-5h0m0 2h0m0 1h0m-3-2h0m-1 1h0m-2-2h0m0 2h0m-1-1h0m-1 3h0m0 1h0m-41-5h0m-4 0h0m-9 1h0m-2 0h0m0 3h0m-2-3h0m-2 1h0m-1 0h0m-1-1h0m0 2h0m-2-2h0m-1-1h0m0 2h0m-2-2h0m-3 0h0m-4 0h0m-11 1h0m-1-1h0m-2 0h0m88 11h0m1-4h0m1 1h0m1-2h0m0 2h0m1-1h0m3-1h0m1 1h0m0 2h0m0 2h0m1-2h0m1-3h0m0 2h0m0 2h0m1-2h0m1 1h0m0 2h0m2-5h0m1 5h0m2-1h0m1 1h0m1-3h0m0 2h0m0 1h0m1-5h0m0 1h0m2-1h0m2 1h0m1 1h0m17 0h0m4-2h0m1 2h0m0 2h0m1 0h0m1 0h0m1 1h0m1-5h0m0 2h0m3-2h0m0 2h0m1-2h0m0 2h0m0 2h0m1-2h0m0 2h0m2-1h0m1-2h0m0 3h0m2-2h0m0 2h0m2-3h0m0 2h0m0 2h0m1-2h0m29-3h0m2 3h0m8 2h0m1-2h0m2-3h0m0 10h0m-3-3h0m0 2h0m-2-1h0m0 1h0m-1-1h0m0 2h0m-1 1h0m-1-4h0m0 1h0m0 1h0m0 1h0m-2-4h0m-1 5h0m-1-2h0m-3 2h0m-9-2h0m-7-1h0m-1-1h0m0 3h0m-1 1h0m-1-5h0m-3 0h0m0 2h0m-1 1h0m-1-2h0m-1 1h0m-1 3h0m-1-5h0m-1 3h0m-1-1h0m0 1h0m-2-2h0m-1 3h0m0 1h0m-1-4h0m-2 0h0m0 2h0m0 1h0m-1-3h0m-1-1h0m-1 0h0m0 2h0m0 2h0m-2 1h0m-1 0h0m-1-5h0m0 1h0m-10-1h0m-10 0h0m-8 0h0m0 1h0m-1 0h0m-1 0h0m0 1h0m0 3h0m-2-4h0m-1 4h0m-42-1h0m-6 0h0m-7-2h0m0 2h0m-1 1h0m-55 0h0m50 4h0m4 2h0m1-5h0m0 3h0m1-2h0m0 1h0m2 2h0m0 1h0m2-2h0m1-2h0m0 3h0m0 1h0m1-3h0m1 2h0m1-1h0m0 1h0m1-4h0m0 1h0m1 0h0m0 4h0m2-5h0m0 2h0m1 0h0m1-1h0m0 2h0m2 0h0m3 0h0m2-3h0m0 4h0m1-3h0m0 2h0m69 2h0m1-5h0m0 5h0m1-5h0m1 2h0m1-2h0m1 1h0m3 0h0m1-1h0m3 4h0m4 1h0m1-3h0m4-2h0m1 1h0m2 1h0m1 3h0m1-3h0m1 0h0m0 2h0m2-4h0m0 3h0m2-3h0m0 1h0m2 1h0m2-1h0m13 0h0m-101 9h0m-6 1h0m-2 0h0m-10-3h0m-2 1h0m-1 0h0m-2 0h0m0 1h0m-3-4h0m-2 3h0m-1-3h0m-2 0h0m0 5h0m-1-5h0m-2 1h0m-3 0h0m-1 3h0m-1-1h0m-4-3h0m-2 0h0m0 4h0m-1 1h0m-1-1h0m-5-1h0m-1 1h0m-25 2h0m21 5h0m1-1h0m1-1h0m2-1h0m1 1h0m1-3h0m0 2h0m1-1h0m1-1h0m1 2h0m0 3h0m3-2h0m0 2h0m1-4h0m0 3h0m3-4h0m1 1h0m0 3h0m0 1h0m1-4h0m1-1h0m1 1h0m0 4h0m1-5h0m0 2h0m3 3h0m1-4h0m1 4h0m1 0h0m1-5h0m2 1h0m0 1h0m1 3h0m3-3h0m0 3h0m1-4h0m1 4h0m10-5h0m2 0h0m11 4h0m1-2h0m27 2h0m0 1h0m73 6h0m-2 0h0m-2-2h0m0 1h0m-1 1h0m-47-3h0m-2 1h0m-16 1h0m-1 1h0m-2 0h0m-1-3h0m0 1h0m-1-3h0m0 5h0m-3-2h0m-1-1h0m0 1h0m-7 1h0m-1 1h0m-2-2h0m0 2h0m-2-1h0m-15-1h0m0 2h0m-19-5h0m-2 0h0m-2 2h0m0 1h0m-2-3h0m0 2h0m0 2h0m-1-3h0m-2 1h0m-1 1h0m-1-2h0m0 1h0m-1 3h0m-1-5h0m-1 5h0m-4-4h0m-1 2h0m-3 2h0m-1-2h0m-1-3h0m0 4h0m-1-4h0m0 5h0m-3-4h0m-2-1h0m-2 0h0m0 2h0m0 2h0m-2-3h0m0 1h0m-2 1h0m-1 0h0m3 4h0m1 0h0m3 1h0m1 1h0m2 0h0m0 1h0m1 0h0m1-2h0m2 2h0m1-3h0m0 3h0m1-4h0m1 0h0m0 4h0m1-4h0m2 0h0m0 5h0m1-2h0m2 0h0m0 2h0m2-3h0m0 2h0m1-3h0m2-1h0m0 2h0m2-1h0m0 1h0m0 3h0m2-2h0m1-3h0m1 1h0m3 1h0m1 2h0m1 0h0m1-4h0m2 5h0m2-3h0m0 1h0m0 1h0m4-3h0m0 2h0m1-3h0m2 2h0m0 2h0m1-2h0m1 3h0m4-4h0m1 2h0m1 1h0m7 0h0m1 1h0m4-5h0m1 0h0m1 2h0m0 3h0m1-5h0m1 0h0m0 3h0m1-1h0m0 2h0m1-1h0m2-3h0m4 5h0m3-4h0m1 2h0m2-2h0m0 2h0m1-3h0m0 1h0m1 1h0m3 0h0m1 2h0m1-1h0m49 0h0m0 1h0m3-3h0m1 2h0m1-2h0m0 2h0m2-1h0m1 0h0m1 3h0m1-4h0m0 1h0m3 1h0m1-3h0m0 3h0m1-1h0m1 0h0m0 1h0m1-1h0m0 1h0m2-3h0m0 1h0m-3 7h0m-4-1h0m-1 1h0m-1-2h0m-1 1h0m0 2h0m-1-3h0m0 2h0m-1-1h0m-1-1h0m-4 0h0m-29 1h0m-1 3h0m-2-2h0m0 2h0m-1-1h0m0 2h0m-1-1h0m-2 0h0m-3-3h0m0 2h0m-1-2h0m0 1h0m0 2h0m0 1h0m-2-5h0m-1 5h0m-1-1h0m-1 1h0m-2-1h0m-28-1h0m0 2h0m-15-5h0m0 3h0m-2-2h0m-1 0h0m-2 0h0m0 2h0m-1 2h0m-1-3h0m-1 0h0m0 2h0m-3-4h0m0 4h0m-2-1h0m-2-1h0m0 1h0m-3 1h0m-1-2h0m-3 2h0m0 1h0m-1 0h0m-1-5h0m0 4h0m-2-4h0m-1 1h0m-1 2h0m-1-1h0m-1-1h0m0 4h0m-2-5h0m0 2h0m-4-1h0m0 2h0m-4-1h0m-1 0h0m-1-1h0m-2-1h0m0 3h0m13 7h0m2 0h0m1-4h0m0 2h0m0 3h0m2-3h0m0 3h0m2 0h0m1-1h0m2 0h0m0 1h0m1-2h0m0 2h0m1-5h0m0 1h0m1-1h0m0 1h0m1 2h0m0 1h0m1 0h0m1-2h0m2 0h0m1-2h0m1 2h0m0 1h0m1-3h0m0 3h0m0 2h0m1-2h0m1 2h0m1-5h0m1 1h0m2 0h0m0 1h0m5 3h0m1-3h0m14-1h0m1-1h0m0 3h0m0 1h0m0 1h0m1-2h0m0 2h0m13-2h0m1 1h0m4 0h0m3 0h0m4 1h0m2-3h0m2 2h0m1-3h0m0 1h0m0 2h0m1-1h0m0 2h0m2-4h0m2 3h0m2-4h0m0 4h0m1 1h0m2-5h0m1 1h0m3 0h0m0 1h0m-3 4h0m-2 4h0m-1-3h0m-1 0h0m-2 2h0m0 1h0m-1-3h0m0 4h0m-1-4h0m0 2h0m-1-3h0m-1 1h0m0 2h0m-6-2h0m-2-1h0m0 5h0m-2-1h0m-3-2h0m-1 0h0m-1-2h0m0 2h0m-1-1h0m0 2h0m-5 2h0m-4-1h0m-1-3h0m0 1h0m-22-2h0m-1 2h0m0 1h0m-1-3h0m0 1h0m-2 3h0m-1-2h0m0 1h0m-1-2h0m0 3h0m-2-4h0m0 1h0m0 2h0m0 1h0m-1-4h0m-1 2h0m0 2h0m-1 1h0m-2-3h0m-6 1h0m-1-1h0m-1 1h0m-2 0h0m-1 0h0m-2-1h0m0 1h0m-1 0h0m-1-3h0m-2 0h0m0 4h0m-2 0h0m1 3h0m3 0h0m17-1h0m1 3h0m0 2h0m2-3h0m1 1h0m1-2h0m31 0h0m1 0h0m4 0h0m3-1h0m0 1h0m0 1h0m1-1h0m1-1h0m2 0h0m3 1h0"/>
<path fill="none" stroke="#fb1414" stroke-width="3" stroke-linecap="square" d="M671 1209h0m0 1h0m0 1h0m-1-1h0m0 1h0m-1-5h0m0 3h0m-4 1h0m-15 7h0m1 0h0m1-2h0m0 1h0m0 1h0m1-2h0m1 2h0m1-1h0m1-2h0m0 2h0m0 1h0m2-2h0m0 2h0m1-2h0m2 2h0m2-1h0m1-2h0m1 1h0m1-3h0m1 2h0m0 2h0m1-4h0m0 4h0m0 1h0m2-4h0m0 2h0m1-1h0m1-1h0m1 0h0m0 3h0m1-2h0m0 2h0m1-3h0m0 3h0m1-4h0m0 2h0m0 2h0m0 1h0m1-3h0m2-2h0m1 1h0m9 2h0m1-2h0m-4 8h0m-5 2h0m-6-5h0m-3 2h0m-1-1h0m0 1h0m-1-2h0m-2 4h0m-2-4h0m-1 5h0m-1-3h0m0 1h0m-1 0h0m0 2h0m-1 0h0m-1-4h0m0 3h0m-1-3h0m0 2h0m0 1h0m-1-4h0m-1 1h0m0 1h0m0 1h0m0 1h0m-1-4h0m-1 4h0m-1-4h0m0 1h0m0 2h0m0 1h0m-1-4h0m0 1h0m0 1h0m0 1h0m0 2h0m-1 0h0m-1-4h0m0 1h0m-1 1h0m-1-3h0m0 2h0m0 1h0m-1-3h0m0 1h0m0 2h0m-1 2h0m-1-1h0m0 3h0m1-1h0m0 2h0m0 2h0m1-1h0m0 2h0m1-5h0m0 1h0m0 1h0m0 1h0m0 2h0m1-5h0m0 2h0m0 1h0m0 1h0m1-2h0m0 1h0m1 1h0m1-3h0m0 2h0m0 2h0m1-3h0m0 3h0m1-4h0m0 2h0m0 2h0m1-5h0m0 2h0m0 2h0m1 1h0m1-4h0m1-1h0m0 1h0m0 3h0m2-4h0m0 3h0m1-2h0m3 0h0m-7 7h0m0 3h0m-1-2h0m-1-2h0m0 3h0m-1-3h0m0 3h0m-1-2h0m0 3h0m-1-4h0m0 2h0m0 1h0m0 1h0m-1-5h0m0 2h0m0 1h0m-1-2h0m0 3h0m-1-2h0m-1-1h0m-1-1h0m-4 9h0m5-3h0m2 4h0m1-2h0m0 2h0m1-3h0m0 1h0m1 1h0m0 1h0m0 1h0m1-5h0m0 2h0m0 1h0m1-3h0m0 1h0m0 3h0m1-1h0m0 1h0m1 1h0m2-4h0m0 2h0m-4 3h0m-1 1h0m0 2h0m-1-2h0m-1-1h0m-2 0h0m-2 4h0m-1 0h0m-1-2h0m-2-1h0m-1-1h0m6 6h0m0 5h0m1-5h0m0 3h0m1-2h0m0 2h0m1-2h0m1 1h0m0 2h0m1-3h0m0 3h0m0 1h0m1-4h0m1 4h0m2 5h0m-1-2h0m0 2h0m-1-4h0m0 5h0m-1-5h0m0 1h0m0 2h0m0 1h0m-1-1h0m-1-3h0m0 1h0m0 4h0m-1-5h0m0 3h0m-1-2h0m4 9h0m1-3h0m0 1h0m0 3h0m1-4h0m0 1h0m0 2h0m1-4h0m0 2h0m0 1h0m0 1h0m1-4h0m0 3h0m0 2h0m1-3h0m1 1h0m0 1h0m2 0h0m3 5h0m-1 2h0m-1-3h0m-1 1h0m0 2h0m-1-5h0m0 5h0m-1-4h0m0 3h0m0 1h0m-1-4h0m0 2h0m-1-2h0m0 1h0m0 2h0m-1-4h0m0 4h0m-2-3h0m7 7h0m0 1h0m1-3h0m1 0h0m0 1h0m0 1h0m0 2h0m1-4h0m0 3h0m0 2h0m2-4h0m0 4h0m1-2h0m4 4h0m0 4h0m-2-2h0m0 1h0m-1 0h0m-1-3h0m0 3h0m0 1h0m-1-4h0m0 2h0m-1-1h0m0 1h0m-1-3h0m0 3h0m-30 2h0m-19 5h0m4 0h0m4 1h0m1 0h0m1-2h0m1-2h0m1 3h0m1-3h0m0 2h0m1 1h0m0 1h0m1-3h0m1 2h0m7-2h0m0 1h0m0 2h0m2-2h0m0 2h0m2-5h0m2 3h0m4-2h0m1 4h0m1-1h0m2 1h0m3-1h0m9-3h0m1 1h0m0 3h0m1-5h0m0 3h0m0 1h0m0 1h0m1-3h0m0 2h0m0 1h0m1-5h0m0 5h0m1-4h0m0 2h0m1-2h0m0 3h0m2-3h0m1 9h0m-2 1h0m-2 0h0m-1-3h0m0 1h0m-1-3h0m-1 0h0m0 2h0m0 3h0m-2-5h0m0 2h0m-2 2h0m-1-1h0m-1-3h0m0 1h0m-2 0h0m0 2h0m0 2h0m-1-5h0m0 1h0m-1 4h0m-1-4h0m0 1h0m-1 1h0m0 1h0m-1-3h0m0 4h0m-1-3h0m0 1h0m0 2h0m-1-4h0m0 2h0m-1-1h0m-2-2h0m0 3h0m0 2h0m-1-3h0m0 3h0m-1-1h0m-1-2h0m-1-1h0m0 1h0m0 3h0m-1-4h0m0 3h0m-1-4h0m-1 1h0m0 4h0m-1-4h0m0 1h0m0 2h0m0 1h0m-1-2h0m-1-2h0m-1 1h0m0 1h0m0 2h0m-1-5h0m0 4h0m-1-1h0m-1-3h0m0 1h0m0 1h0m0 2h0m-1-2h0m0 2h0m-1-4h0m0 2h0m-1-1h0m-1-1h0m-1 2h0m0 3h0m-1-5h0m0 4h0m-1-3h0m0 1h0m0 3h0m-1-4h0m0 4h0m-1-3h0m-1 3h0m-1-1h0m-1-1h0m0 2h0m-1 0h0m-1-1h0m0 1h0m-1-3h0m0 1h0m0 1h0m-2-4h0m0 1h0m-3-1h0m0 3h0m0 1h0m0 1h0m-1-2h0m-2 1h0m-1-3h0m-1 3h0m-1-1h0m-1 0h0m0 2h0m-1-1h0m-1 1h0m-2 0h0m-2-2h0m-16 2h0m-7 6h0m2 0h0m6 0h0m3-3h0m1-1h0m0 2h0m0 2h0m1-2h0m0 2h0m1-3h0m1 1h0m0 2h0m2-2h0m1 1h0m1-1h0m0 2h0m1-5h0m0 1h0m0 4h0m2-5h0m0 2h0m0 1h0m1-2h0m1 4h0m1-2h0m0 2h0m1-1h0m1-3h0m0 2h0m0 2h0m1 0h0m1-4h0m0 2h0m0 2h0m1 0h0m1-5h0m0 4h0m1-2h0m0 2h0m2-2h0m0 2h0m1-4h0m0 2h0m0 2h0m0 1h0m1-3h0m0 2h0m1-3h0m0 3h0m1-3h0m0 3h0m1-4h0m0 3h0m1-1h0m0 2h0m1-2h0m1-1h0m0 1h0m0 1h0m1-3h0m0 2h0m0 2h0m1-3h0m0 1h0m0 2h0m1 0h0m1-3h0m0 1h0m0 3h0m1-5h0m1 1h0m0 2h0m0 2h0m1-5h0m0 2h0m0 3h0m1-4h0m0 2h0m0 1h0m0 1h0m1-3h0m0 3h0m1-5h0m0 3h0m1-3h0m0 3h0m1-2h0m0 1h0m0 2h0m1-4h0m0 3h0m0 1h0m0 1h0m1-2h0m0 1h0m1-4h0m1 0h0m0 3h0m0 2h0m1-4h0m0 3h0m0 1h0m1-2h0m0 1h0m1-4h0m0 1h0m0 1h0m0 3h0m2-5h0m0 2h0m0 3h0m1-2h0m0 2h0m1-4h0m1 1h0m0 1h0m0 2h0m1-5h0m0 5h0m1-4h0m0 1h0m0 2h0m0 1h0m1-3h0m0 2h0m1-4h0m0 2h0m0 1h0m0 2h0m1-2h0m0 1h0m1-2h0m0 2h0m1-4h0m0 1h0m0 4h0m1-3h0m0 2h0m1 0h0m1-4h0m0 1h0m1 0h0m0 2h0m0 2h0m1-1h0m1-2h0m0 1h0m0 1h0m1-4h0m0 2h0m0 1h0m0 2h0m1-1h0m1-3h0m1 0h0m0 2h0m1-3h0m0 3h0m0 2h0m1 0h0m1 0h0m1-1h0m1-4h0m1 2h0m2-1h0m0 2h0m1-1h0m1-1h0m0 1h0m1-2h0m0 2h0m2 3h0m1-5h0m0 3h0m6 8h0m-5-5h0m0 3h0m-1 1h0m-1-3h0m-1 1h0m-1-1h0m-2 2h0m0 2h0m-1-5h0m0 1h0m-1 2h0m-1-1h0m0 2h0m-1-4h0m0 1h0m0 2h0m-1-2h0m0 4h0m-1-3h0m0 1h0m-1-1h0m0 2h0m-1-3h0m0 2h0m0 1h0m-1-4h0m0 2h0m0 3h0m-1-5h0m0 2h0m-1-2h0m0 4h0m0 1h0m-1-3h0m-1-1h0m0 1h0m0 1h0m0 2h0m-1-5h0m0 2h0m0 1h0m-1-2h0m0 4h0m-1-5h0m0 2h0m0 2h0m-1-3h0m0 2h0m0 2h0m-1-3h0m0 2h0m0 1h0m-1-5h0m0 2h0m0 2h0m-1-3h0m0 2h0m-1 0h0m0 1h0m-1 0h0m0 1h0m-1-4h0m0 1h0m0 3h0m-1-5h0m0 5h0m-1-3h0m0 2h0m-1-4h0m-1 2h0m0 1h0m0 2h0m-1-4h0m0 2h0m0 2h0m-1-5h0m0 1h0m0 4h0m-2-5h0m0 3h0m-1-1h0m0 3h0m-1-4h0m0 3h0m-1-4h0m0 3h0m-1-1h0m0 2h0m-1-4h0m0 2h0m-1-1h0m0 3h0m0 1h0m-1-3h0m0 1h0m0 1h0m0 1h0m-1-5h0m0 2h0m-1 1h0m0 1h0m-1-2h0m0 3h0m-1-2h0m0 2h0m-1-5h0m0 2h0m0 3h0m-1-5h0m0 2h0m-1-1h0m0 2h0m-1-3h0m0 4h0m-1-3h0m0 3h0m-1-3h0m0 2h0m0 1h0m-1-2h0m0 3h0m-1-4h0m0 2h0m0 2h0m-1-2h0m-1-3h0m0 2h0m-1-2h0m0 2h0m0 2h0m-1-2h0m0 2h0m-1-3h0m0 4h0m-1-4h0m0 3h0m-1-2h0m0 2h0m0 1h0m-1-5h0m0 1h0m0 2h0m0 1h0m-1-4h0m-1 0h0m0 1h0m0 2h0m0 1h0m-2-3h0m0 3h0m-1-2h0m0 1h0m-1-1h0m0 1h0m0 1h0m-1-4h0m0 4h0m-1-3h0m0 1h0m0 3h0m-1-4h0m-1 1h0m0 1h0m-1-3h0m0 1h0m0 2h0m0 2h0m-2-4h0m0 1h0m0 2h0m-1-4h0m0 5h0m-1-2h0m0 2h0m-1-4h0m0 4h0m-1-4h0m0 2h0m-1-3h0m0 2h0m0 1h0m0 1h0m-2-4h0m0 3h0m0 1h0m0 1h0m-1-4h0m-1 1h0m-1-1h0m-1-1h0m0 2h0m0 3h0m-2-5h0m0 1h0m0 1h0m0 3h0m-1 0h0m-1-2h0m0 2h0m-1-1h0m-1 0h0m0 1h0m-1-4h0m-1 1h0m0 3h0m-1-5h0m0 3h0m-1-2h0m-2 0h0m0 2h0m0 2h0m-4 5h0m2-2h0m1 2h0m0 1h0m1-2h0m1-3h0m0 1h0m0 3h0m1-4h0m0 3h0m0 2h0m1-3h0m1 1h0m0 2h0m1-3h0m1 0h0m0 1h0m0 1h0m0 1h0m1-5h0m0 4h0m0 1h0m1-5h0m0 3h0m1 2h0m1-4h0m0 1h0m0 1h0m1-3h0m0 2h0m0 1h0m1-1h0m0 2h0m1 0h0m1-3h0m0 2h0m1-3h0m0 2h0m0 2h0m1-3h0m0 3h0m0 1h0m1-4h0m0 1h0m1-2h0m1 0h0m0 1h0m0 1h0m1 0h0m1 0h0m0 3h0m1-4h0m0 3h0m1-4h0m0 2h0m0 1h0m0 2h0m1-5h0m0 2h0m0 2h0m1-4h0m0 2h0m0 1h0m0 1h0m1 1h0m1-5h0m0 1h0m0 2h0m1-1h0m0 2h0m0 1h0m1-1h0m0 1h0m1-3h0m0 2h0m0 1h0m1-4h0m0 2h0m1-3h0m0 3h0m0 2h0m1-5h0m0 4h0m1-4h0m0 3h0m1-3h0m0 2h0m0 3h0m1-5h0m0 3h0m1-2h0m1-1h0m0 2h0m0 2h0m1-3h0m0 4h0m1-4h0m0 3h0m0 1h0m1-5h0m0 1h0m1 1h0m0 1h0m0 2h0m1-4h0m0 1h0m0 2h0m1-4h0m0 1h0m0 2h0m1-3h0m0 4h0m1-3h0m0 1h0m1 0h0m0 2h0m1-2h0m0 1h0m0 2h0m1-5h0m0 3h0m1 2h0m1-4h0m0 3h0m0 1h0m2-4h0m0 2h0m0 2h0m1-5h0m0 3h0m0 1h0m0 1h0m1-4h0m0 1h0m0 2h0m1-3h0m0 3h0m1-2h0m0 2h0m1 0h0m1-3h0m0 1h0m0 1h0m1-3h0m0 2h0m1-1h0m0 3h0m1-4h0m0 3h0m1-1h0m0 3h0m1-5h0m0 1h0m0 1h0m0 2h0m0 1h0m1-2h0m0 2h0m1-4h0m0 2h0m0 2h0m1-2h0m0 1h0m1-4h0m0 4h0m1-4h0m0 5h0m1-3h0m0 1h0m1-2h0m0 2h0m0 1h0m1-1h0m0 2h0m1-4h0m0 1h0m0 1h0m0 2h0m1-5h0m0 5h0m1-1h0m1-2h0m1-2h0m0 2h0m0 3h0m1-5h0m0 3h0m0 1h0m1 0h0m0 1h0m1-4h0m1-1h0m0 4h0m1-3h0m0 3h0m1-3h0m0 1h0m0 2h0m1-4h0m0 2h0m0 1h0m1 0h0m0 1h0m0 1h0m1-4h0m0 1h0m0 3h0m1-3h0m0 1h0m0 2h0m1-5h0m0 1h0m0 2h0m0 2h0m1-3h0m0 1h0m0 2h0m1-5h0m0 2h0m0 2h0m1-4h0m0 2h0m0 2h0m1 0h0m0 1h0m1-5h0m0 1h0m0 4h0m1-2h0m0 1h0m1-4h0m0 3h0m1-2h0m1 2h0m0 2h0m1-5h0m0 2h0m0 1h0m1-3h0m0 1h0m0 2h0m0 1h0m1 0h0m1-3h0m0 1h0m0 2h0m1 1h0m3-1h0m-2 3h0m0 4h0m-1-4h0m0 3h0m-1-4h0m-1 3h0m0 2h0m-1-5h0m0 1h0m0 4h0m-1-5h0m-1 3h0m0 1h0m0 1h0m-1-5h0m0 1h0m0 4h0m-1-4h0m0 3h0m-1 0h0m-1-3h0m0 4h0m-1-4h0m0 2h0m0 2h0m-1-4h0m0 1h0m0 3h0m-1-5h0m-1 2h0m0 2h0m-1-4h0m0 3h0m-1 0h0m-1-3h0m0 1h0m0 2h0m0 1h0m-1-2h0m0 2h0m0 1h0m-1-5h0m0 3h0m0 1h0m-1-3h0m0 1h0m-2-1h0m0 2h0m0 1h0m-1-4h0m0 1h0m0 1h0m0 3h0m-1-3h0m0 1h0m-1 1h0m-1-4h0m0 2h0m-1-2h0m0 1h0m0 3h0m-1-3h0m0 2h0m-1-2h0m0 1h0m0 2h0m-1-3h0m0 1h0m0 1h0m-1-3h0m0 4h0m0 1h0m-1-4h0m0 2h0m-1-2h0m0 2h0m0 2h0m-1-2h0m-1-3h0m0 5h0m-1-2h0m0 2h0m-1-5h0m0 2h0m0 2h0m0 1h0m-1-4h0m0 3h0m-1-1h0m0 1h0m-1-4h0m0 2h0m0 3h0m-1-4h0m0 1h0m-1-2h0m0 4h0m-1-2h0m0 1h0m0 1h0m-1-4h0m0 1h0m0 2h0m0 2h0m-1-1h0m-1-4h0m0 2h0m-1-2h0m0 2h0m0 1h0m0 2h0m-1-1h0m-1-4h0m0 3h0m-1 0h0m0 2h0m-1-4h0m0 1h0m0 2h0m-1-3h0m0 4h0m-1-1h0m-1-3h0m0 1h0m0 2h0m-1-4h0m0 1h0m0 2h0m-1-3h0m0 2h0m0 3h0m-1-4h0m0 2h0m-1-3h0m0 1h0m0 1h0m0 1h0m-1-3h0m0 5h0m-1-3h0m0 3h0m-1-5h0m0 3h0m0 2h0m-1-4h0m-1 2h0m0 1h0m-1-4h0m-1 3h0m0 2h0m-1-3h0m0 2h0m-1 0h0m-1-3h0m0 1h0m0 1h0m0 2h0m-1-3h0m-1-1h0m0 2h0m0 1h0m-1-4h0m0 2h0m0 2h0m-1-3h0m0 2h0m-1-1h0m0 2h0m-1-3h0m-1 0h0m0 1h0m0 3h0m-1-5h0m0 3h0m0 2h0m-1-4h0m0 3h0m-1-4h0m0 3h0m-1-3h0m0 5h0m-1-5h0m0 3h0m0 1h0m-1-4h0m0 1h0m0 2h0m0 2h0m-1-3h0m0 2h0m-1-4h0m0 4h0m0 1h0m-1-4h0m0 4h0m-1-5h0m0 2h0m0 2h0m-1-3h0m-1-1h0m0 1h0m-1 1h0m0 1h0m0 1h0m-1-3h0m0 1h0m0 2h0m-1-1h0m-1-3h0m0 3h0m-1-1h0m0 3h0m-1-4h0m0 2h0m0 2h0m-1-4h0m0 2h0m0 1h0m-1-1h0m-1-1h0m0 2h0m0 1h0m-1-4h0m0 2h0m-1-3h0m0 1h0m-1-1h0m0 2h0m0 3h0m-1-5h0m0 1h0m-1 2h0m-1-3h0m0 1h0m0 3h0m-1-4h0m0 3h0m0 1h0m0 1h0m-1-2h0m-1-1h0m-2-2h0m0 3h0m-1 2h0m-1 0h0m-3 6h0m3-5h0m0 4h0m1-1h0m0 2h0m1-3h0m1 2h0m1-4h0m0 2h0m0 2h0m0 1h0m1-3h0m1 1h0m1-3h0m0 1h0m0 3h0m1-3h0m0 1h0m0 2h0m1-4h0m0 2h0m0 1h0m1-1h0m0 2h0m2-4h0m0 5h0m2-5h0m0 1h0m0 2h0m1-2h0m0 4h0m1-3h0m1 0h0m0 2h0m1-4h0m0 1h0m0 1h0m0 2h0m1-4h0m0 1h0m0 3h0m1-3h0m0 1h0m0 3h0m1-4h0m0 3h0m1-1h0m1-3h0m0 1h0m0 3h0m1-3h0m0 1h0m0 1h0m0 2h0m1-5h0m0 2h0m1-1h0m0 4h0m1-3h0m0 2h0m2-2h0m0 2h0m1-1h0m0 2h0m1-5h0m0 2h0m0 2h0m1 1h0m1-4h0m0 4h0m1-3h0m0 2h0m1-1h0m0 2h0m1-1h0m2-3h0m0 3h0m1-4h0m0 1h0m0 4h0m2-5h0m0 2h0m1-2h0m0 2h0m0 1h0m0 2h0m1-4h0m0 1h0m1-2h0m0 4h0m1-3h0m0 1h0m0 2h0m1-2h0m0 1h0m0 1h0m1-1h0m1-2h0m0 3h0m1-2h0m0 2h0m0 1h0m1-4h0m1-1h0m0 2h0m0 2h0m1-4h0m0 4h0m0 1h0m1-4h0m0 2h0m1-2h0m0 4h0m1-4h0m0 1h0m0 2h0m1 0h0m1-3h0m0 2h0m1-3h0m0 1h0m0 2h0m0 2h0m1-3h0m1 0h0m1-1h0m0 3h0m0 1h0m1-3h0m0 2h0m1-3h0m0 3h0m1-4h0m1 0h0m0 1h0m0 4h0m1-5h0m0 1h0m0 2h0m1-1h0m0 1h0m1 1h0m0 1h0m1-4h0m0 2h0m0 2h0m1-4h0m0 4h0m1-5h0m0 2h0m0 1h0m1-1h0m1-2h0m0 1h0m0 4h0m1-5h0m0 2h0m0 1h0m0 1h0m1-4h0m0 3h0m0 2h0m1-4h0m1-1h0m0 2h0m0 2h0m1-4h0m0 3h0m0 2h0m1-3h0m0 3h0m1-5h0m0 3h0m0 1h0m0 1h0m1-5h0m0 2h0m0 3h0m1-2h0m0 2h0m1-5h0m0 2h0m1-1h0m0 2h0m1-3h0m0 2h0m0 2h0m0 1h0m1-4h0m0 4h0m2-3h0m0 1h0m0 1h0m1-4h0m0 2h0m1-2h0m0 2h0m0 1h0m1-3h0m0 1h0m0 4h0m1-5h0m0 1h0m0 1h0m0 2h0m1 1h0m1-5h0m0 2h0m0 2h0m1-4h0m0 1h0m0 4h0m1-4h0m0 2h0m0 1h0m1 1h0m1-5h0m0 1h0m0 4h0m1-5h0m0 2h0m1-2h0m0 2h0m0 2h0m1-3h0m1 0h0m1 3h0m1-1h0m1-1h0m0 3h0m1 0h0m-1 2h0m0 2h0m-2 0h0m-1-3h0m-2 0h0m0 5h0m-2-4h0m0 2h0m0 1h0m-1-1h0m-1 2h0m-1-3h0m0 2h0m-1-4h0m0 2h0m0 2h0m0 1h0m-1-5h0m0 1h0m0 1h0m0 1h0m-1-3h0m-1 1h0m0 1h0m0 1h0m0 2h0m-1-5h0m-1 0h0m0 2h0m0 2h0m0 1h0m-1-4h0m0 2h0m0 2h0m-2-4h0m0 2h0m0 1h0m-1 0h0m-1-3h0m0 2h0m-1-3h0m0 2h0m0 1h0m0 1h0m-1 0h0m-1-3h0m0 1h0m0 1h0m-1-2h0m0 1h0m0 3h0m-1-2h0m-1-1h0m-1-2h0m-1 3h0m-1 1h0m0 1h0m-1-5h0m0 2h0m0 3h0m-1-3h0m-1 1h0m0 1h0m0 1h0m-1-3h0m0 2h0m-1-4h0m0 2h0m0 1h0m0 1h0m-1-3h0m0 1h0m-1 1h0m0 1h0m0 1h0m-1-3h0m-1-2h0m0 2h0m0 3h0m-1-1h0m-1-4h0m0 2h0m0 3h0m-1-1h0m-1-3h0m0 2h0m-1-3h0m0 2h0m-1-2h0m0 3h0m0 1h0m-2 0h0m-1-3h0m0 3h0m-1-1h0m0 2h0m-1-5h0m0 2h0m0 1h0m0 2h0m-1-4h0m0 3h0m-1-2h0m-1-1h0m0 3h0m0 1h0m-1-2h0m0 2h0m-1-2h0m-1-3h0m0 5h0m-1-5h0m-1 1h0m0 1h0m-1-1h0m0 1h0m0 1h0m0 2h0m-1-3h0m0 2h0m-1-4h0m0 5h0m-1-5h0m0 1h0m0 3h0m-1-3h0m0 1h0m0 3h0m-1-5h0m0 3h0m0 2h0m-1-4h0m0 4h0m-1-2h0m0 2h0m-1-4h0m0 2h0m0 2h0m-1-4h0m0 3h0m0 1h0m-1-2h0m0 2h0m-1-5h0m0 4h0m0 1h0m-1-2h0m-2-2h0m0 1h0m0 2h0m-1-4h0m0 5h0m-1-3h0m0 2h0m-1-2h0m0 2h0m0 1h0m-1-5h0m0 1h0m0 3h0m-1-4h0m0 1h0m0 2h0m-1-1h0m-1-1h0m0 2h0m0 1h0m-1-4h0m0 4h0m-1-4h0m0 2h0m-1-2h0m0 3h0m0 2h0m-1-2h0m-1-1h0m0 2h0m-1-4h0m0 5h0m-1-3h0m0 1h0m0 2h0m-1-4h0m0 4h0m-1-3h0m0 2h0m-1 1h0m-1-1h0m-1-4h0m0 2h0m0 1h0m-1-2h0m0 1h0m-1-1h0m0 3h0m-1-4h0m0 1h0m0 1h0m-1-1h0m0 1h0m0 1h0m0 1h0m-1-4h0m0 3h0m-1-1h0m0 2h0m-1-4h0m0 2h0m0 3h0m-1-5h0m0 3h0m-1-2h0m0 2h0m0 2h0m-1-3h0m0 2h0m-1 1h0m-1-4h0m0 3h0m-1-4h0m-2 1h0m1 8h0m0 2h0m2-5h0m0 3h0m0 1h0m0 1h0m1 0h0m1-1h0m1-3h0m0 1h0m1-2h0m0 3h0m0 1h0m0 1h0m2-4h0m0 2h0m0 2h0m1-5h0m0 3h0m0 2h0m1-5h0m0 1h0m0 4h0m1-5h0m0 2h0m0 3h0m1-5h0m0 1h0m0 1h0m0 2h0m1-3h0m0 4h0m1-1h0m1-4h0m0 2h0m1 0h0m0 1h0m0 2h0m1 0h0m1-4h0m0 3h0m1-4h0m0 2h0m0 1h0m0 2h0m1-4h0m0 2h0m0 2h0m1-5h0m0 1h0m0 2h0m1 2h0m1-4h0m0 1h0m0 3h0m1-3h0m1 1h0m0 2h0m1-3h0m0 1h0m1 0h0m0 1h0m1-4h0m0 1h0m1 2h0m1-3h0m0 1h0m0 2h0m0 2h0m1-2h0m0 1h0m1-4h0m0 2h0m0 3h0m1-4h0m0 2h0m1-3h0m0 5h0m1-4h0m1-1h0m0 2h0m0 1h0m0 2h0m1-4h0m0 4h0m1-2h0m1 0h0m0 2h0m1-5h0m0 2h0m0 3h0m1-4h0m0 2h0m0 1h0m1-3h0m0 3h0m1-4h0m0 1h0m0 3h0m1-1h0m1 1h0m0 1h0m1-2h0m1-3h0m0 1h0m1 0h0m0 4h0m1-2h0m0 2h0m1-5h0m0 2h0m0 1h0m1-2h0m0 1h0m0 2h0m0 1h0m1-1h0m1-4h0m0 3h0m1-2h0m0 1h0m0 1h0m1-2h0m0 2h0m1-3h0m0 2h0m0 3h0m1-4h0m1-1h0m0 1h0m0 1h0m0 2h0m1-3h0m0 1h0m0 3h0m1-2h0m0 2h0m1-4h0m0 2h0m1-3h0m0 2h0m0 3h0m1-3h0m0 2h0m0 1h0m1-4h0m0 3h0m1-3h0m0 1h0m1-1h0m0 2h0m0 2h0m1-5h0m0 1h0m1-1h0m0 4h0m1-3h0m0 1h0m0 2h0m0 1h0m1-5h0m0 2h0m0 2h0m1-4h0m0 2h0m0 1h0m0 2h0m1-5h0m1 2h0m1-2h0m0 1h0m0 3h0m1-3h0m0 4h0m1-1h0m1-3h0m0 4h0m1-3h0m0 2h0m1-4h0m0 4h0m1 0h0m0 1h0m1-5h0m1 0h0m0 1h0m0 2h0m1 1h0m1-2h0m0 2h0m1-4h0m0 1h0m0 2h0m0 2h0m1-3h0m1-2h0m1 2h0m1-2h0m0 1h0m0 1h0m0 2h0m0 1h0m1-4h0m0 2h0m0 1h0m1-1h0m0 1h0m0 1h0m1-5h0m0 2h0m0 3h0m1-5h0m1 1h0m0 2h0m0 1h0m0 1h0m1-3h0m0 2h0m1-4h0m0 2h0m0 1h0m0 2h0m1-1h0m1-4h0m0 2h0m1 1h0m2-1h0m0 1h0m0 2h0m1-4h0m0 2h0m2-3h0m0 5h0m1-4h0m1-1h0m2 0h0m3 10h0m-2-4h0m0 5h0m-1-1h0m0 1h0m-1-5h0m-1 1h0m0 1h0m0 3h0m-1-5h0m0 2h0m0 3h0m-1-3h0m-1-1h0m0 1h0m0 3h0m-1-4h0m0 2h0m0 2h0m-1-1h0m-1-3h0m0 3h0m-1-3h0m0 2h0m-1-3h0m-1 0h0m0 2h0m0 1h0m0 2h0m-1-5h0m0 4h0m0 1h0m-1-3h0m-1-2h0m0 3h0m0 2h0m-1-4h0m0 4h0m-1-5h0m0 4h0m-1-3h0m-1-1h0m0 1h0m0 3h0m-1-3h0m0 3h0m-1 0h0m-1-4h0m0 2h0m0 3h0m-1-5h0m-1 1h0m0 1h0m0 2h0m-1-3h0m0 4h0m-1-4h0m0 2h0m0 2h0m-1-5h0m0 1h0m-1-1h0m-1 4h0m-1-4h0m0 1h0m0 2h0m-1-2h0m0 2h0m0 1h0m-1-4h0m-1 1h0m0 2h0m-1-3h0m0 1h0m0 3h0m-1-4h0m0 1h0m0 4h0m-1-4h0m0 1h0m0 1h0m0 2h0m-1-4h0m-1 2h0m0 2h0m-1-2h0m-1-2h0m0 1h0m0 3h0m-1-3h0m0 3h0m-1-5h0m0 4h0m-1-2h0m0 1h0m-1-3h0m0 5h0m-1 0h0m-1-3h0m0 2h0m-1-3h0m-1 0h0m0 2h0m0 1h0m0 1h0m-1 0h0m-1-3h0m0 2h0m-1-4h0m0 2h0m0 3h0m-1-4h0m0 3h0m-1-3h0m0 2h0m0 1h0m0 1h0m-1-5h0m0 2h0m0 3h0m-1-5h0m0 1h0m0 2h0m-1-3h0m0 2h0m0 3h0m-1-5h0m0 1h0m0 2h0m0 1h0m-2-4h0m0 1h0m0 3h0m0 1h0m-1-5h0m0 2h0m0 1h0m-1-2h0m0 3h0m-1-4h0m0 2h0m0 1h0m0 2h0m-1-5h0m0 2h0m-1-1h0m0 1h0m0 2h0m0 1h0m-1-2h0m0 1h0m-1-4h0m0 1h0m0 4h0m-1-5h0m0 1h0m0 2h0m-1-2h0m0 3h0m-1-4h0m0 4h0m-1-4h0m0 2h0m0 2h0m-1 0h0m-1-2h0m0 2h0m0 1h0m-1-4h0m-1 2h0m0 2h0m-1-4h0m0 3h0m-1-1h0m0 2h0m-1-2h0m0 2h0m-1-5h0m0 1h0m0 1h0m0 3h0m-1 0h0m-1-5h0m0 2h0m0 3h0m-1-3h0m-1-1h0m0 1h0m0 3h0m-1-5h0m-1 1h0m0 1h0m0 2h0m0 1h0m-1-2h0m0 2h0m-1-4h0m0 2h0m-1-1h0m0 2h0m0 1h0m-1-3h0m0 3h0m-1-5h0m0 4h0m0 1h0m-1-4h0m0 2h0m-1-3h0m0 2h0m-1 1h0m0 1h0m-1-3h0m-1 0h0m0 2h0m0 1h0m-1-4h0m0 3h0m0 1h0m0 1h0m-1-4h0m0 4h0m-1-5h0m0 2h0m0 1h0m-1-3h0m0 1h0m0 3h0m0 1h0m-1-5h0m0 2h0m0 2h0m0 1h0m-2-5h0m0 3h0m0 1h0m-1-3h0m0 4h0m-1-2h0m-1-2h0m0 2h0m-1-3h0m0 3h0m0 2h0m-1-5h0m0 6h0m1 3h0m0 2h0m2-3h0m1-1h0m0 1h0m1-2h0m0 2h0m2-2h0m0 3h0m1-2h0m0 3h0m1-3h0m0 1h0m0 2h0m1-2h0m1-2h0m0 3h0m0 1h0m1-4h0m0 2h0m0 3h0m1-4h0m0 2h0m0 1h0m1-4h0m0 1h0m0 3h0m1-3h0m0 2h0m0 1h0m1-4h0m0 2h0m0 3h0m1-1h0m1-3h0m0 3h0m0 1h0m1-4h0m0 1h0m0 1h0m1-3h0m0 2h0m0 1h0m1-1h0m0 2h0m0 1h0m1-5h0m1 1h0m0 1h0m0 3h0m1-4h0m0 4h0m1-1h0m1-2h0m0 1h0m1-3h0m0 2h0m0 1h0m0 2h0m2-5h0m0 3h0m0 1h0m1-3h0m0 1h0m1-1h0m0 4h0m1-1h0m0 1h0m1-4h0m1 1h0m1-2h0m0 3h0m0 2h0m1-5h0m0 1h0m0 2h0m0 2h0m1-5h0m0 2h0m0 2h0m1-4h0m0 3h0m1-2h0m0 3h0m0 1h0m1-3h0m0 1h0m1-3h0m0 2h0m0 3h0m1-1h0m0 1h0m1-5h0m1 1h0m0 2h0m1-2h0m0 1h0m0 3h0m1-4h0m0 1h0m0 3h0m1-3h0m0 1h0m1-2h0m0 2h0m0 1h0m1 1h0m1-3h0m0 2h0m1-4h0m0 5h0m1-3h0m0 2h0m1-2h0m0 1h0m0 2h0m1-5h0m0 4h0m0 1h0m1-4h0m0 2h0m1 1h0m0 1h0m1-5h0m0 2h0m0 3h0m1-3h0m0 1h0m1-3h0m0 5h0m1-5h0m0 1h0m0 2h0m1-1h0m0 3h0m1-2h0m0 2h0m1-5h0m1 3h0m0 1h0m1-3h0m0 1h0m0 3h0m1 0h0m1-2h0m0 1h0m1-3h0m0 1h0m0 2h0m1-2h0m0 3h0m1-5h0m0 1h0m0 2h0m1-3h0m0 2h0m0 2h0m1-1h0m0 2h0m1-1h0m1-1h0m0 2h0m1-5h0m0 5h0m1-4h0m0 2h0m0 1h0m1-4h0m0 1h0m0 2h0m1-3h0m0 3h0m2 0h0m0 2h0m1-5h0m0 3h0m1-3h0m0 2h0m0 2h0m0 1h0m1-5h0m0 1h0m0 3h0m1-2h0m0 1h0m0 1h0m0 1h0m1-5h0m1 4h0m1-4h0m0 3h0m0 2h0m1-5h0m1 2h0m0 1h0m1-1h0m0 2h0m1-2h0m0 3h0m1-3h0m0 1h0m2 1h0m1-4h0m0 1h0m0 4h0m1-3h0m0 1h0m0 1h0m1-4h0m0 1h0m0 2h0m1-2h0m0 2h0m0 2h0m1-4h0m0 4h0m1-4h0m1-1h0m0 5h0m1-5h0m1 1h0m0 2h0m0 2h0m1-5h0m0 2h0m0 2h0m2-3h0m0 4h0m1-1h0m0 1h0m0 2h0m-1-1h0m-1 5h0m-1-2h0m-1 1h0m-1-3h0m-1 3h0m-1-1h0m0 2h0m-2-5h0m0 3h0m0 1h0m-1-2h0m0 3h0m-1-5h0m0 4h0m0 1h0m-6-3h0m-1 0h0m-1-2h0m0 4h0m0 1h0m-1-3h0m-1-1h0m-1 1h0m0 2h0m-1-3h0m0 1h0m-1-2h0m-1 2h0m0 3h0m-1-5h0m0 2h0m0 3h0m-1-5h0m-1 0h0m0 1h0m0 2h0m0 1h0m-1-4h0m0 2h0m0 2h0m-1-4h0m0 3h0m0 2h0m-1-3h0m0 1h0m0 1h0m0 1h0m-1-3h0m-1-2h0m-1 1h0m0 3h0m0 1h0m-1-4h0m-1 2h0m0 1h0m-1-3h0m-1 0h0m0 2h0m0 2h0m-1-5h0m0 3h0m0 1h0m-1-3h0m-1-1h0m0 2h0m0 1h0m0 2h0m-1-5h0m0 1h0m0 4h0m-2-1h0m0 1h0m-1-1h0m-1-2h0m0 2h0m0 1h0m-2-4h0m0 2h0m0 2h0m-1-2h0m0 1h0m-1-3h0m0 4h0m-1-3h0m0 2h0m-1-3h0m0 2h0m-1-1h0m-1-1h0m0 2h0m0 1h0m-1-2h0m0 2h0m-1-3h0m0 3h0m0 1h0m-1-5h0m0 1h0m0 1h0m-1-1h0m0 2h0m-1-3h0m0 4h0m-1-4h0m-1 3h0m-1-3h0m0 2h0m0 1h0m-1-3h0m0 4h0m-1-3h0m0 1h0m0 2h0m0 1h0m-1-3h0m0 2h0m-1-4h0m0 4h0m0 1h0m-1-3h0m-1-1h0m0 1h0m0 1h0m0 2h0m-1-5h0m0 1h0m-1 0h0m0 1h0m-1-1h0m0 1h0m0 2h0m-1-3h0m0 2h0m-1-2h0m-1 0h0m0 2h0m0 2h0m-1-3h0m0 3h0m-1-4h0m0 2h0m0 2h0m-1-5h0m0 3h0m-1 1h0m-1-3h0m0 1h0m0 2h0m-1-4h0m0 5h0m-1-5h0m0 2h0m0 1h0m-1-3h0m0 3h0m0 2h0m-1-1h0m-1-3h0m0 2h0m-1-3h0m0 3h0m-1-3h0m-1 0h0m0 1h0m0 1h0m0 2h0m-1 0h0m-1-3h0m0 2h0m0 2h0m-1-4h0m-1 0h0m0 4h0m-1-5h0m0 1h0m0 1h0m0 3h0m-1-5h0m0 4h0m-1-3h0m0 3h0m-1-3h0m0 1h0m0 2h0m-1-4h0m0 2h0m0 3h0m-1-1h0m0 1h0m-1-5h0m0 2h0m-1 0h0m0 2h0m0 1h0m-1-1h0m0 1h0m-1-5h0m-1 0h0m0 3h0m-1 1h0m0 1h0m-1-5h0m0 2h0m0 2h0m-1-3h0m-1 3h0m-1-3h0m5 6h0m1 1h0m1-1h0m0 1h0m1-1h0m0 4h0m1-4h0m0 3h0m2-2h0m1-2h0m0 2h0m0 1h0m0 1h0m1-3h0m0 3h0m1-4h0m0 5h0m1-5h0m0 3h0m0 2h0m1-3h0m0 3h0m1-4h0m0 1h0m0 1h0m0 2h0m1-5h0m0 2h0m0 1h0m2-3h0m0 2h0m1 2h0m0 1h0m1-5h0m0 4h0m1-4h0m0 1h0m0 1h0m0 2h0m0 1h0m1-5h0m0 2h0m0 1h0m1-2h0m0 1h0m0 1h0m0 2h0m1-2h0m0 2h0m1-4h0m0 2h0m0 1h0m2-4h0m0 1h0m0 3h0m0 1h0m1-4h0m1 2h0m1-1h0m0 1h0m0 1h0m1-4h0m0 2h0m0 1h0m1-2h0m0 3h0m1-3h0m0 2h0m1 0h0m0 2h0m1-5h0m0 1h0m0 2h0m1-3h0m0 2h0m0 1h0m0 2h0m1-3h0m0 2h0m1-1h0m0 2h0m1-4h0m1-1h0m0 2h0m0 2h0m1-2h0m1-2h0m0 2h0m0 2h0m1-2h0m0 1h0m1-3h0m0 2h0m0 1h0m0 2h0m1-4h0m0 2h0m0 1h0m1-3h0m0 1h0m1 1h0m0 1h0m1-1h0m1 1h0m0 1h0m1-5h0m0 3h0m1-3h0m0 5h0m1-4h0m0 2h0m0 2h0m1-5h0m0 2h0m0 1h0m0 2h0m1-5h0m0 1h0m0 2h0m0 2h0m1 0h0m1-4h0m0 1h0m1-2h0m0 2h0m0 1h0m0 1h0m1-2h0m0 3h0m1-5h0m0 3h0m1-1h0m0 2h0m1-4h0m0 1h0m0 1h0m0 2h0m1-1h0m1-1h0m0 1h0m0 2h0m1-2h0m0 2h0m1-5h0m0 1h0m1 1h0m0 1h0m0 2h0m1-1h0m1-4h0m0 2h0m1-1h0m0 2h0m0 2h0m1-4h0m0 1h0m0 1h0m1-1h0m0 3h0m1-5h0m0 1h0m0 3h0m1-1h0m0 1h0m0 1h0m1-3h0m0 3h0m1-2h0m1-3h0m0 2h0m1 0h0m0 1h0m0 2h0m1-5h0m0 4h0m1 0h0m1-1h0m0 1h0m1-2h0m0 3h0m1-5h0m0 3h0m1-3h0m0 5h0m1-4h0m0 2h0m0 2h0m1-5h0m0 2h0m1-2h0m0 4h0m1 0h0m1 1h0m1 0h0m1-3h0m1 1h0m1-1h0m0 1h0m1-1h0m1-2h0m1 3h0m2-3h0m0 4h0m1-1h0m0 2h0m1-4h0m1 0h0m0 2h0m1-1h0m0 2h0m1 1h0m1-5h0m0 3h0m1 2h0m2-3h0m0 1h0m1-2h0m1 2h0m0 1h0m2-1h0m0 7h0m-1-2h0m-1 0h0m-1 0h0m-1-1h0m-1 0h0m0 1h0m-1 1h0m-1-3h0m-1 2h0m-1-1h0m-1 2h0m0 1h0m0 1h0m-1-5h0m0 2h0m0 1h0m-2-3h0m0 3h0m0 1h0m0 1h0m-1-4h0m0 3h0m0 1h0m-1-3h0m0 2h0m0 1h0m-1-1h0m0 1h0m-1-5h0m0 3h0m-1-1h0m-1 1h0m-1-2h0m0 3h0m-2-4h0m0 2h0m-1 3h0m-1-5h0m-4 3h0m-1-2h0m0 3h0m-1-3h0m-1 1h0m0 1h0m-1-3h0m0 2h0m0 2h0m0 1h0m-2-5h0m0 2h0m0 3h0m-1-3h0m0 2h0m-1-3h0m0 1h0m0 1h0m-1-1h0m0 1h0m0 1h0m-1-4h0m0 2h0m-1-2h0m0 2h0m0 2h0m-1-4h0m0 5h0m-1-4h0m0 1h0m0 1h0m-1-3h0m0 3h0m0 2h0m-1-5h0m0 1h0m0 3h0m-1-3h0m0 2h0m0 2h0m-1-5h0m0 2h0m0 2h0m-1-3h0m0 2h0m0 2h0m-1-3h0m0 1h0m-1 0h0m0 2h0m-1-3h0m0 2h0m-1-4h0m-1 2h0m0 2h0m0 1h0m-1-4h0m-1-1h0m0 4h0m-1-2h0m0 3h0m-1-1h0m-1-4h0m0 2h0m0 3h0m-1-5h0m0 5h0m-1-4h0m0 3h0m-1 0h0m-1-4h0m0 5h0m-1 0h0m-1-5h0m0 1h0m0 1h0m0 1h0m0 1h0m-1 1h0m-1-2h0m0 1h0m-1-3h0m0 2h0m0 2h0m-1-4h0m0 3h0m0 1h0m-1-5h0m0 5h0m-1-3h0m0 3h0m-1-3h0m0 2h0m-1-4h0m0 1h0m0 3h0m0 1h0m-1-4h0m0 2h0m-1-2h0m0 4h0m-1-5h0m0 2h0m0 2h0m-1-1h0m0 1h0m-1-4h0m-1 0h0m-1 0h0m0 2h0m0 2h0m-1-4h0m0 1h0m0 4h0m-1-2h0m0 1h0m-1-3h0m0 4h0m-1-5h0m0 1h0m0 3h0m-1-2h0m0 1h0m-1 2h0m-1-5h0m0 2h0m0 1h0m0 1h0m-1-2h0m0 1h0m-1-2h0m0 3h0m-1-2h0m-1 1h0m0 2h0m-1-4h0m0 3h0m-1-3h0m0 1h0m0 3h0m-1-4h0m0 2h0m0 2h0m-1-4h0m0 2h0m-1 2h0m-1-5h0m0 1h0m0 2h0m-1-2h0m0 3h0m-1-4h0m0 3h0m-1-3h0m0 4h0m0 1h0m-1-4h0m0 2h0m0 2h0m-2-5h0m-1 3h0m-1-3h0m0 1h0m0 2h0m0 2h0m-1-4h0m-1 1h0m0 3h0m-1-4h0m-2 0h0m4 6h0m1 0h0m1-1h0m0 1h0m1 2h0m0 2h0m1-5h0m1 3h0m0 2h0m1-5h0m0 4h0m1-2h0m0 3h0m1-5h0m0 1h0m1-1h0m0 5h0m1-3h0m0 1h0m1-2h0m0 2h0m1-3h0m0 3h0m1-2h0m0 3h0m0 1h0m1-5h0m0 2h0m0 1h0m0 2h0m1-3h0m0 3h0m1-4h0m0 3h0m1-4h0m0 2h0m1-2h0m0 4h0m0 1h0m1-3h0m1-2h0m0 2h0m0 1h0m0 1h0m0 1h0m1-5h0m0 2h0m1 1h0m0 2h0m1-5h0m0 3h0m1-2h0m0 4h0m1-5h0m0 2h0m0 3h0m1-3h0m0 2h0m1-4h0m0 3h0m1-1h0m0 1h0m0 2h0m1-4h0m1 2h0m0 1h0m1-3h0m1-1h0m0 2h0m0 2h0m1 1h0m1-4h0m0 3h0m1-4h0m0 1h0m1 0h0m0 4h0m1-5h0m0 2h0m1 0h0m0 1h0m0 2h0m1-3h0m1 1h0m1-2h0m0 4h0m1-4h0m0 2h0m1 2h0m1-4h0m0 2h0m0 2h0m1-5h0m0 2h0m0 2h0m1-4h0m0 3h0m0 2h0m1-3h0m1-2h0m0 3h0m0 2h0m1-1h0m1-4h0m0 1h0m0 1h0m0 3h0m1-5h0m0 2h0m0 2h0m1-4h0m0 1h0m0 2h0m0 2h0m1-4h0m0 2h0m0 1h0m1-2h0m0 2h0m1 0h0m2-2h0m0 1h0m0 1h0m1-1h0m1-3h0m0 2h0m0 2h0m0 1h0m1-3h0m0 2h0m1-4h0m0 3h0m0 2h0m1-5h0m0 2h0m0 1h0m0 2h0m1-3h0m1 0h0m0 1h0m0 1h0m1-4h0m0 1h0m0 3h0m1-4h0m0 3h0m1-3h0m0 1h0m1 1h0m0 3h0m1-1h0m1-4h0m0 2h0m0 1h0m0 1h0m2 1h0m3-2h0m0 2h0m2-5h0m1 0h0m0 3h0m1-1h0m0 2h0m1 0h0m1-2h0m0 1h0m0 2h0m1-3h0m0 2h0m1-4h0m0 1h0m0 1h0m0 1h0m0 2h0m1-5h0m0 2h0m0 1h0m0 1h0m0 1h0m1-3h0m0 1h0m1-2h0m0 2h0m0 1h0m0 1h0m1-5h0m0 3h0m0 2h0m1-4h0m0 3h0m0 1h0m1-5h0m0 1h0m0 1h0m0 1h0m0 1h0m1-4h0m0 5h0m1-5h0m0 1h0m0 2h0m0 2h0m1-3h0m0 2h0m1-3h0m0 1h0m0 1h0m0 2h0m1-5h0m0 1h0m0 2h0m0 2h0m1-5h0m0 3h0m0 1h0m1-4h0m0 2h0m0 1h0m0 1h0m1-2h0m0 3h0m1-4h0m0 2h0m0 1h0m2-3h0m0 2h0m1 4h0m-1 1h0m0 2h0m-1-4h0m-1 1h0m0 1h0m0 3h0m-1-2h0m-1-3h0m0 2h0m0 1h0m-1-3h0m0 1h0m0 1h0m0 3h0m-1-5h0m0 2h0m0 2h0m0 1h0m-1-3h0m-1-1h0m0 1h0m0 1h0m0 1h0m0 1h0m-1-5h0m0 2h0m0 1h0m0 2h0m-1-4h0m0 2h0m-1-3h0m0 2h0m-1-2h0m0 1h0m0 2h0m0 2h0m-1-4h0m0 2h0m0 1h0m-1-4h0m0 2h0m0 1h0m0 1h0m-1-4h0m0 3h0m0 1h0m-1-4h0m0 2h0m0 1h0m0 1h0m-1-4h0m0 1h0m0 1h0m0 1h0m-1-3h0m0 1h0m0 1h0m0 1h0m0 1h0m0 1h0m-1-3h0m-1-2h0m0 3h0m0 1h0m-1-3h0m0 1h0m0 1h0m0 2h0m-1-3h0m0 2h0m-4-2h0m0 3h0m-1-4h0m-1 3h0m-1 1h0m-1-5h0m0 1h0m-1-1h0m0 2h0m-1 1h0m0 1h0m-1-1h0m-1-1h0m-1-1h0m0 2h0m0 2h0m-1-5h0m0 3h0m-1-3h0m0 2h0m-1-1h0m0 1h0m0 2h0m-1-2h0m-1-2h0m0 4h0m0 1h0m-1-3h0m-1-2h0m0 3h0m-1-3h0m0 1h0m0 2h0m0 1h0m0 1h0m-1-5h0m0 2h0m0 1h0m-2-3h0m0 2h0m0 3h0m-1-4h0m-1 1h0m0 2h0m0 1h0m-1-2h0m0 1h0m-1-2h0m0 3h0m-1-4h0m0 2h0m0 1h0m0 1h0m-1-4h0m-1-1h0m-1 2h0m-1-1h0m0 1h0m0 2h0m0 1h0m-1-1h0m-1-4h0m0 3h0m-1 0h0m0 2h0m-1 0h0m-1-3h0m-1-1h0m0 2h0m0 2h0m-1-1h0m-1-4h0m0 1h0m0 1h0m0 3h0m-1-1h0m-1-4h0m0 2h0m-1-1h0m0 1h0m0 2h0m0 1h0m-1-5h0m0 4h0m-1-4h0m0 2h0m-1-1h0m0 1h0m0 2h0m0 1h0m-2-3h0m-1-2h0m0 2h0m0 2h0m-1-4h0m0 1h0m-1 1h0m0 2h0m-1-3h0m0 2h0m0 1h0m0 1h0m-1-5h0m-1 4h0m-1-4h0m0 2h0m0 2h0m-1-3h0m0 2h0m-1-2h0m0 2h0m0 1h0m-1 0h0m0 1h0m-1-4h0m0 2h0m-1-3h0m0 1h0m0 4h0m-1-5h0m0 2h0m0 3h0m-1-4h0m0 2h0m0 2h0m-1-4h0m0 3h0m-1-1h0m-1-2h0m0 2h0m-1-3h0m0 2h0m-1-2h0m0 3h0m-1-2h0m-1 0h0m-2 0h0m-3 0h0m11 5h0m0 2h0m1 1h0m0 1h0m1-3h0m1 2h0m1-1h0m0 2h0m0 1h0m1-1h0m1-4h0m0 2h0m0 3h0m1-4h0m0 2h0m1-3h0m0 1h0m1 0h0m0 2h0m0 2h0m1-4h0m1 2h0m0 1h0m1-4h0m0 2h0m0 2h0m2-1h0m0 2h0m1-4h0m0 1h0m2 0h0m1-2h0m2 1h0m0 3h0m1-4h0m1 2h0m3-1h0m1-1h0m0 2h0m1 0h0m0 3h0m1-2h0m0 2h0m1-5h0m0 1h0m0 1h0m0 2h0m1-4h0m0 4h0m1-2h0m1 0h0m0 1h0m0 2h0m1-2h0m0 1h0m1-4h0m0 2h0m1 1h0m1-2h0m0 2h0m1-2h0m0 1h0m0 1h0m1-1h0m1-1h0m0 3h0m1-2h0m0 1h0m0 2h0m1-4h0m0 1h0m0 2h0m1-4h0m1 1h0m0 2h0m0 2h0m1-5h0m1 4h0m1-1h0m0 2h0m1-1h0m1 0h0m1-4h0m0 1h0m0 2h0m1 1h0m1-4h0m0 3h0m2-3h0m1 1h0m6-1h0m0 3h0m1-2h0m0 2h0m0 2h0m1-3h0m1-1h0m0 3h0m1-4h0m0 2h0m1-2h0m0 1h0m1-1h0m3 0h0m1 0h0m0 1h0m1-1h0m1 4h0m1-4h0m2 0h0m2 0h0m1 3h0m2-3h0m1 2h0m-11 9h0m-3-3h0m-1-2h0m-3 1h0m-2 3h0m-1-4h0m-8 0h0m-4 0h0m-2 1h0m-2 0h0m0 1h0m-1-2h0m-2 0h0m0 3h0m-1-1h0m-1-2h0m0 2h0m-1 1h0m-1-3h0m-4 1h0m-2-1h0m-2 1h0m-1-1h0m-1 4h0m-16-1h0m-1-3h0m0 1h0m-1 3h0m0 1h0m-1-5h0m0 4h0m-2-4h0m0 3h0m-2-1h0m0 3h0m-1-4h0m0 1h0m0 2h0m-1-2h0m59 6h0"/>
<path fill="none" stroke="#ee3a3a" stroke-width="2.6" stroke-linecap="square" d="M740 1192h0m33 7h0m-8 0h0m-2 0h0m-8 0h0m-4-2h0m-1 0h0m-1 1h0m-1-2h0m0 1h0m-1 2h0m-1 0h0m-1-2h0m-1 0h0m0 2h0m-2-4h0m0 1h0m-1-1h0m0 2h0m-2 2h0m-3-1h0m0 1h0m-3-3h0m-1 0h0m-1 1h0m-3 2h0m-5 4h0m1-2h0m0 3h0m2 0h0m4-4h0m0 2h0m5-2h0m1 1h0m1-1h0m1 2h0m1-2h0m1 1h0m3 3h0m1-3h0m0 1h0m2-1h0m1-1h0m0 2h0m3 0h0m10-2h0m9 1h0m3-1h0m5 3h0m4 0h0m2 2h0m13 6h0m-2 0h0m-6-3h0m-2-2h0m-61 0h0m0 5h0m73 1h0m2 1h0m1 2h0m2 3h0m-109 3h0m-4 2h0m-4 1h0m5 3h0m2 0h0m0 2h0m5-1h0m0 1h0m1-5h0m0 1h0m1 3h0m2 1h0m66 0h0m9 0h0m6 0h0m9 0h0m30 6h0m-3-2h0m-4-2h0m0 1h0m-2 0h0m-2 2h0m-1 0h0m-2 0h0m-3-3h0m-3 0h0m-1-1h0m0 2h0m0 2h0m-1-1h0m-1 1h0m-1-1h0m-2 1h0m-1-1h0m-2-3h0m-1 2h0m0 3h0m-1-3h0m0 3h0m-1-4h0m0 2h0m0 1h0m-1 0h0m-1 0h0m-1-1h0m-2 1h0m-1-1h0m0 2h0m-1-3h0m0 2h0m-1 0h0m0 1h0m-1 0h0m-1-2h0m-1-2h0m-2 0h0m-1 1h0m0 2h0m-1-2h0m0 2h0m-1-2h0m-1 0h0m-1-2h0m0 5h0m-1-5h0m0 4h0m-1-2h0m0 1h0m0 2h0m-1-1h0m-1 0h0m-1-1h0m0 1h0m-1-2h0m-1 2h0m0 1h0m-1 0h0m-1-4h0m-1 1h0m0 2h0m-1-1h0m-1-1h0m0 1h0m0 2h0m-1-1h0m-2 1h0m-2-2h0m-1 0h0m0 1h0m0 1h0m-2-5h0m0 3h0m0 1h0m-1 0h0m-1-2h0m0 2h0m0 1h0m-1 0h0m-1 0h0m-45 0h0m-1-3h0m0 2h0m-1-4h0m-1 3h0m-1 0h0m-2-3h0m-1 3h0m0 2h0m-1-4h0m-2 1h0m0 1h0m-5-1h0m2 5h0m1 0h0m0 2h0m1 2h0m2-1h0m2 0h0m0 1h0m2-5h0m0 2h0m2-1h0m0 2h0m0 2h0m1-5h0m36 5h0m1-1h0m1-2h0m1 2h0m1 0h0m1-3h0m0 1h0m2 0h0m0 2h0m1 0h0m0 1h0m1-1h0m0 1h0m1-5h0m1 3h0m0 2h0m1-3h0m0 3h0m1-4h0m0 4h0m1-4h0m0 2h0m1-1h0m0 3h0m1-1h0m0 1h0m1-5h0m0 3h0m0 2h0m1-5h0m0 3h0m0 2h0m2-3h0m1-2h0m0 5h0m1-5h0m0 1h0m0 2h0m0 2h0m1-5h0m0 2h0m0 3h0m1-5h0m0 1h0m0 2h0m1-3h0m0 1h0m0 2h0m0 1h0m1-3h0m1 2h0m1-1h0m0 3h0m1-3h0m0 1h0m1-1h0m0 1h0m1-3h0m0 4h0m2-2h0m0 2h0m1-4h0m0 3h0m2-3h0m2 2h0m0 1h0m1 0h0m0 1h0m1-4h0m0 2h0m1 1h0m0 1h0m1-2h0m0 1h0m1-3h0m0 5h0m1-2h0m1 0h0m2-2h0m0 1h0m1-2h0m1 2h0m0 2h0m1-3h0m1 1h0m0 1h0m1-3h0m1 1h0m0 1h0m1 3h0m1-3h0m0 1h0m0 1h0m1-2h0m3 3h0m1-1h0m3-3h0m1 0h0m2 1h0m3-1h0m1-1h0m0 4h0m1 1h0m2-1h0m2-3h0m3 1h0m3 2h0m1-3h0m0 3h0m3-1h0m-5 5h0m-2 3h0m-4-5h0m-1 1h0m0 2h0m-2-1h0m0 1h0m-1-3h0m-1 3h0m-2 1h0m0 1h0m-1-4h0m-4 3h0m-1-1h0m-1-2h0m0 2h0m-1-1h0m0 3h0m-1-5h0m0 1h0m-1-1h0m-1 2h0m-1 0h0m0 3h0m-1-5h0m-1 3h0m-1-1h0m0 2h0m-1-4h0m0 3h0m0 1h0m-1-3h0m0 3h0m-1-2h0m-1-2h0m0 3h0m-1-2h0m0 3h0m-3-1h0m0 2h0m-1-3h0m0 1h0m-1-3h0m0 2h0m0 3h0m-1-5h0m-1 0h0m0 3h0m-1-3h0m-1 3h0m-1-1h0m-1-2h0m0 4h0m-1-2h0m0 1h0m-1-3h0m-1 3h0m-1-3h0m0 3h0m0 2h0m-1-5h0m0 1h0m0 1h0m0 2h0m-1-3h0m0 1h0m-1-1h0m0 1h0m0 1h0m0 2h0m-1-2h0m-1 0h0m0 1h0m-1 0h0m-1-1h0m0 1h0m-1-1h0m-1-3h0m0 2h0m-1-1h0m0 2h0m0 1h0m0 1h0m-1-1h0m-1-4h0m0 2h0m0 2h0m-2-4h0m0 1h0m-2-1h0m0 5h0m-1-3h0m0 3h0m-1-5h0m0 1h0m0 3h0m-1-4h0m0 2h0m0 2h0m-1 1h0m-1-4h0m0 1h0m0 2h0m0 1h0m-1-5h0m-1 3h0m-1-3h0m-1 4h0m-1-2h0m0 2h0m-1-1h0m-1 1h0m-1-3h0m0 2h0m-1 0h0m0 1h0m-1-2h0m-1 2h0m-4-4h0m0 4h0m-2-4h0m-3 2h0m-27-1h0m0 2h0m-2-3h0m0 5h0m-1-5h0m0 3h0m-4-3h0m0 1h0m0 2h0m-3-1h0m0 2h0m-3-3h0m0 1h0m0 2h0m-1-1h0m0 2h0m-1-4h0m-1-1h0m-1 5h0m-1-3h0m-1-2h0m-1 2h0m-3-2h0m2 10h0m2-4h0m0 3h0m1-2h0m2 2h0m1 2h0m1-3h0m2 0h0m1 2h0m1-3h0m1 0h0m0 3h0m1 0h0m2-2h0m0 3h0m6-3h0m16 1h0m2-2h0m0 2h0m0 2h0m3-2h0m2-1h0m6 2h0m1-1h0m2-3h0m0 4h0m0 1h0m1-5h0m2 1h0m0 1h0m0 2h0m1-4h0m0 5h0m1-5h0m0 3h0m1-2h0m0 3h0m1-2h0m0 2h0m0 1h0m1-2h0m0 1h0m0 1h0m1-4h0m0 1h0m0 2h0m1-4h0m0 1h0m0 4h0m1-2h0m0 2h0m1-5h0m1 1h0m0 1h0m0 1h0m1 2h0m1-3h0m0 3h0m1-2h0m1-3h0m1 0h0m0 5h0m1-5h0m0 1h0m0 1h0m1-1h0m0 2h0m0 2h0m1-4h0m0 2h0m1-3h0m0 3h0m0 2h0m1-4h0m1 0h0m1 0h0m0 3h0m1-2h0m0 3h0m1-5h0m0 1h0m0 1h0m0 2h0m0 1h0m1-3h0m0 2h0m0 1h0m1-5h0m0 1h0m0 3h0m2-2h0m0 1h0m1-1h0m0 2h0m0 1h0m1-3h0m0 1h0m0 2h0m1-4h0m0 2h0m1-2h0m0 2h0m1-1h0m1 0h0m0 1h0m1-3h0m0 5h0m1-3h0m0 3h0m1-1h0m1-4h0m1 0h0m0 3h0m0 2h0m1 0h0m1-1h0m2-4h0m0 2h0m0 2h0m1-1h0m1 0h0m2-2h0m0 4h0m2-3h0m0 1h0m1-3h0m0 4h0m0 1h0m2-1h0m0 1h0m1-2h0m0 2h0m2-4h0m1 3h0m1-4h0m0 4h0m1-3h0m1 0h0m0 2h0m0 1h0m3-2h0m0 2h0m4 0h0m1 0h0m1 0h0m1-4h0m0 2h0m1 0h0m1-1h0m0 4h0m1-3h0m1-2h0m1 2h0m1 1h0m4-2h0m1-1h0m1 1h0m1 0h0m0 1h0m34 7h0m-18 0h0m-13-1h0m-5 1h0m-3-3h0m0 4h0m-2-3h0m-1 0h0m-1 3h0m-1 1h0m-2-4h0m-1 3h0m-1-3h0m0 4h0m-1-3h0m-1-1h0m0 4h0m-4-5h0m0 1h0m0 2h0m-3-1h0m0 3h0m-1-4h0m-1-1h0m0 2h0m-1-2h0m0 4h0m-1-2h0m0 2h0m-1-1h0m0 1h0m0 1h0m-1-2h0m0 2h0m-1-4h0m0 3h0m0 1h0m-1-4h0m-1 0h0m0 1h0m-1 1h0m0 1h0m0 1h0m-1-5h0m0 3h0m-1-1h0m0 2h0m0 1h0m-1-5h0m0 2h0m-1 2h0m-1-2h0m0 3h0m-2-5h0m0 2h0m-1-1h0m-1 2h0m-1 0h0m-1-1h0m-1-2h0m0 3h0m0 1h0m0 1h0m-1-4h0m0 4h0m-1-3h0m0 1h0m-1-3h0m0 3h0m0 2h0m-1-3h0m-1-1h0m0 3h0m-1-3h0m-1 3h0m0 1h0m-1-1h0m-2 1h0m-1-2h0m-1-3h0m0 4h0m-1-4h0m0 1h0m0 4h0m-1-2h0m-2 2h0m-1-4h0m0 1h0m-1-2h0m0 2h0m-1-1h0m0 2h0m-1 0h0m0 2h0m-1-1h0m-1 1h0m-1-3h0m0 2h0m-1-1h0m-1 2h0m-1-1h0m0 1h0m-1-2h0m-1-3h0m0 5h0m-1-4h0m0 1h0m-3-1h0m0 2h0m0 2h0m-1-3h0m-1 1h0m-1 0h0m0 2h0m-1-5h0m0 3h0m0 1h0m-2 1h0m-1-1h0m-3-3h0m-9 1h0m-1-2h0m-1 0h0m0 1h0m0 4h0m-2-1h0m0 1h0m-3-3h0m-2 3h0m-18-5h0m-1 3h0m-1-2h0m0 2h0m0 1h0m-1 1h0m-3-4h0m0 3h0m-1-1h0m-1-1h0m-6-2h0m6 9h0m1 2h0m3-5h0m5 3h0m5-2h0m0 2h0m11 0h0m2-3h0m2 0h0m1 1h0m11 1h0m1-2h0m1 1h0m0 2h0m2-2h0m1-1h0m3 0h0m0 2h0m0 3h0m1-5h0m0 3h0m1 0h0m0 1h0m1-2h0m0 1h0m0 2h0m1-5h0m0 1h0m0 3h0m1-2h0m1-2h0m0 1h0m0 4h0m1-4h0m1 0h0m0 1h0m0 3h0m1-1h0m1-4h0m0 4h0m1-2h0m0 1h0m0 2h0m1-5h0m1 3h0m1-3h0m0 2h0m0 2h0m0 1h0m1-2h0m0 2h0m1-4h0m0 1h0m0 2h0m1-4h0m1 1h0m2 4h0m1-4h0m0 2h0m0 2h0m1-5h0m0 4h0m0 1h0m1-5h0m0 4h0m2-2h0m0 2h0m0 1h0m1-4h0m0 2h0m0 1h0m1-4h0m0 5h0m1-4h0m0 3h0m1-3h0m0 2h0m0 1h0m1-3h0m1-1h0m0 5h0m1-3h0m0 2h0m2-2h0m0 2h0m1-3h0m0 2h0m0 2h0m1-4h0m0 4h0m1-4h0m0 3h0m1-4h0m0 1h0m0 2h0m1-3h0m0 2h0m1-2h0m0 2h0m0 1h0m1-3h0m0 3h0m1-3h0m0 3h0m0 1h0m1-3h0m1-1h0m0 1h0m0 2h0m0 2h0m1-4h0m1 0h0m0 1h0m0 3h0m1-5h0m0 3h0m0 2h0m1-3h0m0 2h0m0 1h0m2-2h0m1-3h0m1 1h0m0 3h0m0 1h0m1-5h0m0 3h0m2-3h0m1 3h0m1-2h0m4-1h0m3 3h0m1-1h0m0 3h0m1-4h0m2 3h0m0 1h0m1-3h0m1 2h0m1-2h0m2 3h0m1-3h0m1 1h0m1-1h0m10-1h0m24 2h0m0 1h0m1-3h0m1-1h0m1 1h0m0 1h0m1-2h0m0 2h0m1 2h0m1-3h0m2 0h0m0 9h0m0 1h0m-3-2h0m0 1h0m0 1h0m-34-1h0m-3-4h0m-6 0h0m0 4h0m0 1h0m-3-4h0m0 1h0m-1 1h0m-2-3h0m0 3h0m-1 0h0m0 1h0m-1-3h0m-1 1h0m-1 0h0m-2 1h0m-1 1h0m-2 0h0m-1-3h0m-2 2h0m-1 1h0m-1-3h0m0 2h0m-1 1h0m0 1h0m-1-5h0m0 1h0m-1 1h0m0 1h0m0 2h0m-1-5h0m-1 3h0m0 2h0m-1-4h0m-1 0h0m-1 2h0m-1-2h0m0 2h0m-1-1h0m0 3h0m-1-5h0m0 3h0m-1-3h0m0 1h0m0 1h0m-1-2h0m0 5h0m-1-4h0m-1 1h0m-1-1h0m-1 0h0m0 1h0m0 2h0m-1-4h0m0 2h0m-1-2h0m0 4h0m0 1h0m-1-1h0m-1-2h0m-1 2h0m-1-4h0m0 1h0m0 1h0m-1-2h0m0 4h0m-1-1h0m0 1h0m-2-3h0m0 4h0m-1-4h0m-1 0h0m0 3h0m0 1h0m-1-3h0m0 3h0m-1-4h0m0 1h0m0 1h0m0 2h0m-1-3h0m0 3h0m-1-5h0m0 4h0m-1-4h0m0 2h0m-1-2h0m-1 5h0m-1-5h0m0 3h0m0 1h0m-1-1h0m-1-2h0m-1 1h0m0 2h0m-1-3h0m0 4h0m-1-3h0m0 1h0m0 2h0m-2-4h0m0 2h0m-1-2h0m0 4h0m-1-5h0m0 2h0m0 1h0m-1 1h0m0 1h0m-1-1h0m-1-4h0m0 5h0m-1-4h0m-1 1h0m0 2h0m-1-4h0m-1 1h0m0 2h0m-5-1h0m-1 2h0m-4-2h0m-6 0h0m-10 1h0m-2 1h0m-11-4h0m-4 1h0m-1-1h0m-4 2h0m-2 1h0m4 4h0m5 0h0m8 4h0m4-4h0m25-1h0m3 1h0m4-1h0m0 1h0m1 1h0m1-2h0m0 2h0m2-2h0m0 1h0m0 1h0m0 1h0m1-3h0m1 2h0m0 2h0m1-3h0m1 1h0m1-1h0m1 1h0m1-2h0m0 1h0m1 1h0m0 2h0m0 1h0m1-5h0m0 2h0m1-1h0m0 1h0m2-2h0m0 2h0m0 3h0m1-5h0m1 2h0m0 1h0m0 1h0m1-2h0m2 3h0m1-2h0m0 2h0m1-1h0m1-2h0m0 1h0m0 1h0m0 1h0m1-3h0m0 3h0m1-2h0m1-1h0m0 1h0m0 1h0m1-3h0m1 3h0m1-1h0m0 2h0m1-2h0m0 1h0m1-3h0m0 1h0m0 1h0m0 1h0m0 1h0m1-3h0m0 2h0m1-2h0m0 2h0m0 1h0m1-1h0m1-4h0m0 1h0m0 1h0m2 0h0m1-2h0m0 3h0m1-3h0m0 3h0m0 2h0m1-5h0m0 2h0m0 2h0m2 1h0m4-2h0m0 2h0m1-4h0m0 4h0m1-3h0m1-2h0m0 5h0m1-4h0m0 2h0m0 1h0m1-1h0m0 1h0m0 1h0m1-3h0m0 1h0m1-3h0m0 2h0m0 2h0m0 1h0m2-1h0m0 1h0m2-5h0m2 2h0m2-2h0m1 1h0m1 2h0m2-2h0m1 3h0m2-4h0m0 5h0m1-3h0m2-1h0m6 0h0m0 3h0m4-4h0m0 4h0m5 0h0m2 0h0m1 0h0m24-4h0m1 0h0m0 2h0m2-2h0m0 4h0m-2 2h0m-4 0h0m-9 2h0m-1 0h0m-5 0h0m-4-1h0m-1 0h0m-1 4h0m-1-3h0m-2 3h0m-2-2h0m-1 2h0m-3-5h0m-10 1h0m-2 4h0m-1-2h0m-4-1h0m0 3h0m-3-4h0m-1-1h0m-3 0h0m0 1h0m-2 2h0m-1-3h0m0 1h0m-1 1h0m-1-1h0m-1 1h0m0 1h0m-1-1h0m-1 0h0m-1-2h0m0 1h0m0 2h0m-1 0h0m0 2h0m-1-4h0m0 2h0m0 1h0m-1-4h0m0 1h0m0 2h0m0 1h0m-1-2h0m0 1h0m-1-3h0m0 4h0m-1-3h0m-1-1h0m0 2h0m0 2h0m-2-4h0m-1 2h0m-1-1h0m-2 1h0m-1-1h0m-1-1h0m0 2h0m0 2h0m-3-4h0m0 1h0m0 2h0m-1-3h0m-1 4h0m-1 1h0m-1-1h0m-1-2h0m-2 0h0m-1-2h0m-1 0h0m0 2h0m-11 0h0m-2-2h0m-5 0h0m-42 2h0m-8-2h0m0 1h0m-72 0h0m1 5h0m0 2h0m73 2h0m1-1h0m5-2h0m0 4h0m62-5h0m5 0h0m0 1h0m13-1h0m4 0h0m2 0h0m1 1h0m1-1h0m7 2h0m0 2h0m1-4h0m6 0h0m3 5h0m10-2h0m3 2h0m1-3h0m7-2h0m1 3h0m1-2h0m2 1h0m0 3h0m1-5h0m0 1h0m0 4h0m1 0h0m1-1h0m4 3h0m-1 3h0m-1-3h0m-1 3h0m-1-3h0m0 3h0m-1-3h0m0 2h0m0 2h0m-1-5h0m-1 1h0m0 3h0m-1 0h0m-1-2h0m0 3h0m-12-2h0m-2-1h0m-2-1h0m-5 0h0m-6 1h0m-1-2h0m-11 0h0m-55 1h0m-5 4h0m-29-5h0m-4 0h0m-78 0h0m-5 4h0m88 3h0m0 1h0m29-2h0m5 4h0m3 0h0m95-3h0m1 1h0m15 3h0m7 0h0m2 0h0m7-1h0m-6 2h0m-3 0h0m-1 1h0m-1-1h0m0 2h0m-1 0h0m-30-2h0m-1 2h0m-2 3h0m-41 0h0m-5-3h0m-2 0h0m-4 1h0m-1 0h0m-2-3h0m0 3h0m-2 0h0m0 1h0m-1 1h0m-3 0h0m-1-4h0m0 2h0m-1 1h0m-2-2h0m-1 3h0m-2-3h0m-1 2h0m-1 0h0m-46 0h0m-2-4h0m0 2h0m37 6h0m2 2h0m3 1h0m1-3h0m1 0h0m1 1h0m2 2h0m1 0h0m3-4h0m2-1h0m1 3h0m1-1h0m0 3h0m2-2h0m2-1h0m2-2h0m0 2h0m0 2h0m2-3h0m0 2h0m0 1h0m0 1h0m1-5h0m0 2h0m1 3h0m1-4h0m1 2h0m1-3h0m0 2h0m0 2h0m1 0h0m1-3h0m1 4h0m1-5h0m0 1h0m0 2h0m2-3h0m1 5h0m2-2h0m1 0h0m0 2h0m1-2h0m2-2h0m0 3h0m4 0h0m28-3h0m2 1h0m1 0h0m3-2h0m10 0h0m-11 7h0m-18 0h0m-7 4h0m-3-3h0m0 2h0m-2-1h0m-1-2h0m-4 0h0m0 1h0m0 3h0m-1-5h0m-1 3h0m-1-3h0m0 3h0m-1-3h0m-1 4h0m-1-4h0m0 4h0m-2 0h0m-1-4h0m0 2h0m-1-1h0m0 2h0m0 1h0m-2-1h0m-1-1h0m-1-1h0m-1 2h0m-2-1h0m-1-1h0m-3 2h0m-1-2h0m0 1h0m0 3h0m-2-5h0m0 2h0m0 2h0m0 1h0m-1-4h0m-2 0h0m0 2h0m-1 2h0m-1-5h0m-1 4h0m-1-4h0m0 2h0m-2 0h0m-1 2h0m-2 1h0m-1-4h0m0 1h0m0 3h0m-1-4h0m-3 1h0m-1-2h0m0 2h0m-1 2h0m-1-4h0m-21 2h0m-15 3h0m-10 6h0m2-4h0m1 0h0m3 0h0m1-1h0m4 1h0m1-1h0m3 0h0m7 5h0m7-5h0m5 1h0m1-1h0m8 1h0m3-1h0m2 2h0m1 1h0m2-1h0m1 1h0m2 0h0m1-1h0m0 3h0m1-3h0m0 2h0m0 1h0m1-2h0m5 1h0m1-3h0m1-1h0m0 1h0m2 3h0m1-4h0m1 3h0m1-3h0m1 2h0m3-1h0m0 3h0m1-3h0m0 4h0m1-4h0m0 1h0m1-2h0m0 4h0m1-1h0m1-2h0m1 0h0m3 1h0m1-2h0m0 1h0m2 0h0m1-1h0m0 4h0m1-4h0m0 2h0m1 1h0m0 1h0m2-3h0m1 3h0m1-4h0m1 3h0m23 0h0m1 2h0m3 0h0m4-3h0m1 3h0m1-1h0m1-2h0m1 1h0m0 2h0m1 0h0m1-2h0m0 2h0m13 0h0m22 6h0m-6-1h0m-1 1h0m-2-4h0m0 3h0m-2-1h0m0 2h0m-1-5h0m-2 4h0m-1-3h0m-4-1h0m0 3h0m-4-1h0m0 3h0m-1-3h0m0 2h0m-1-1h0m0 2h0m-1-3h0m0 3h0m-1-3h0m-1 2h0m-1-2h0m0 1h0m-1 1h0m-3-2h0m0 1h0m-1-3h0m0 1h0m0 2h0m0 1h0m-1-1h0m-1-3h0m-1 2h0m-2-2h0m0 1h0m0 3h0m-3-4h0m-1 5h0m-1-2h0m-1-1h0m-1-2h0m0 5h0m-1 0h0m-2-2h0m0 2h0m-1-3h0m-1 1h0m-1-2h0m-4 2h0m-3 0h0m-2 2h0m-5-1h0m-3 0h0m-1-2h0m-3-1h0m0 3h0m-2-1h0m0 2h0m-2-5h0m0 2h0m0 2h0m-2 0h0m-1 0h0m-2-3h0m-1-1h0m0 2h0m-1 1h0m-2 2h0m-1-5h0m0 3h0m-1-3h0m-1 1h0m-1 1h0m-2 3h0m-1-4h0m0 4h0m-3-4h0m-1-1h0m-1 0h0m-1 0h0m0 4h0m0 1h0m-2-2h0m0 1h0m-1-3h0m-3 1h0m-1 1h0m-1-3h0m-4 2h0m-2-1h0m-2-1h0m0 4h0m-3 1h0m-12-3h0m-4-2h0m-6 0h0m-35 3h0m21 8h0m36-3h0m2-2h0m0 1h0m0 1h0m1 0h0m1-1h0m0 2h0m6 2h0m3-2h0m0 2h0m1 0h0m2-4h0m2 2h0m0 1h0m1-4h0m2 4h0m1-2h0m0 3h0m2-5h0m2 1h0m0 4h0m1-3h0m1 3h0m2 0h0m2-1h0m1 1h0m1-5h0m1 1h0m0 2h0m2-3h0m0 4h0m1-3h0m2 4h0m2 0h0m1-2h0m17 0h0m3 0h0m2-2h0m1 1h0m0 1h0m1-1h0m0 3h0m1-4h0m1 0h0m0 4h0m1-5h0m0 3h0m1-2h0m0 2h0m5 2h0m1-2h0m2 0h0m1-2h0m1 1h0m0 2h0m0 1h0m1-5h0m3 5h0m1-5h0m0 1h0m0 3h0m0 1h0m1-2h0m1-3h0m0 2h0m0 3h0m1-2h0m1-1h0m2 0h0m1 0h0m0 2h0m2-1h0m1-3h0m1 0h0m1 1h0m0 4h0m1-2h0m1 2h0m1 0h0m1-5h0m1 1h0m0 2h0m1 1h0m1-1h0m2-1h0m0 1h0m4-2h0m0 2h0m1-2h0m0 4h0m1-5h0m0 5h0m1-2h0m0 1h0m2 0h0m1-4h0m0 2h0m0 1h0m1-1h0m0 3h0m1 0h0m1-2h0m1-2h0m2 0h0m1 0h0m1 1h0m1 3h0m1-1h0m0 1h0m3 4h0m-1 0h0m-1-1h0m-2-2h0m0 2h0m-2 0h0m0 2h0m-1-1h0m-1-2h0m-1 1h0m-1 2h0m-1-3h0m0 4h0m-2-4h0m0 3h0m-1-4h0m0 1h0m-1 2h0m-4 0h0m-1-1h0m-1 2h0m-1-1h0m0 1h0m-1-4h0m0 3h0m-2-1h0m-1 1h0m0 2h0m-1-1h0m0 1h0m-1-4h0m-1 0h0m-1 2h0m-1 1h0m-3-4h0m0 1h0m0 3h0m-1-2h0m0 1h0m-1-1h0m-3-1h0m-1 0h0m0 4h0m-3-5h0m0 5h0m-4-5h0m-1 3h0m-1-1h0m0 3h0m-1-4h0m0 4h0m-1 0h0m-1-4h0m0 1h0m-2 2h0m-1-3h0m0 3h0m-1-4h0m0 1h0m0 4h0m-1-5h0m-1 2h0m-1 0h0m0 1h0m-2 2h0m-1-5h0m0 2h0m-1-2h0m-4 2h0m-1-2h0m-1 2h0m-1-1h0m0 1h0m0 3h0m-1-5h0m-8 2h0m-6-2h0m0 3h0m-3-3h0m-2 2h0m0 1h0m-1-1h0m-3-2h0m-2 1h0m0 4h0m-4-5h0m-3 3h0m-1 1h0m0 1h0m-3-2h0m-1 2h0m-3-3h0m0 1h0m-2 0h0m0 2h0m-1-3h0m0 2h0m-3 0h0m-1 1h0m-1-4h0m0 1h0m-1 3h0m-2-4h0m-1 1h0m-1-2h0m-2 0h0m0 2h0m-1-2h0m-1 2h0m0 2h0m0 1h0m-1-5h0m0 1h0m0 2h0m-1-2h0m0 2h0m-1-1h0m0 3h0m-1-4h0m-1 4h0m-2-3h0m-17 1h0m-1 0h0m0 1h0m0 1h0m-1 0h0m-1-3h0m0 3h0m-1-2h0m-1-2h0m0 2h0m0 2h0m-1-3h0m-1 3h0m-6-4h0m-4 1h0m-91 5h0m96 1h0m3 1h0m2 1h0m1-4h0m1 4h0m1-4h0m0 3h0m1 1h0m2-1h0m2 0h0m1 0h0m1 0h0m3 0h0m0 1h0m18-3h0m1 0h0m2 0h0m3 1h0m3 0h0m0 1h0m1-2h0m1 0h0m1 1h0m5-2h0m1 2h0m4 1h0m1-3h0m2 2h0m0 1h0m1-3h0m0 2h0m1 0h0m0 1h0m4-2h0m0 1h0m1-1h0m0 1h0m4 0h0m4-1h0m23-1h0m4 1h0m0 2h0m2-3h0m0 2h0m1-2h0m2 1h0m0 4h0m1-1h0m1-4h0m0 4h0m1-3h0m2 4h0m1-4h0m0 1h0m0 2h0m1-1h0m0 2h0m1-4h0m3 3h0m1-4h0m1 0h0m0 4h0m2-2h0m0 2h0m2-1h0m0 1h0m2-1h0m0 1h0m0 1h0m1-3h0m0 2h0m1-2h0m1 3h0m1-5h0m0 1h0m2-1h0m0 3h0m0 2h0m2 0h0m2-2h0m0 1h0m1-4h0m1 3h0m4 0h0m0 1h0m1-2h0m1-1h0m2-1h0m0 2h0m0 2h0m1 0h0m1-3h0m1 2h0m0 2h0m1-4h0m0 4h0m1-5h0m2 1h0m1 2h0m0 2h0m2-2h0m0 2h0m4-3h0m39 1h0m-42 4h0m-2-1h0m0 2h0m0 2h0m-2-2h0m-1 1h0m-2 0h0m0 2h0m-1-4h0m0 2h0m0 2h0m-2-5h0m-1 1h0m-1 0h0m0 1h0m0 2h0m-1 1h0m-1-5h0m-3 3h0m-1-2h0m0 3h0m-1-3h0m-1 2h0m-1-3h0m0 2h0m0 3h0m-1-5h0m-2 2h0m-2 0h0m-1 0h0m-1 2h0m-2 1h0m-1-3h0m-1 2h0m-1-3h0m-2-1h0m0 2h0m0 1h0m-1-1h0m0 3h0m-1-5h0m-1 0h0m0 3h0m-1 0h0m-1-3h0m0 2h0m-1 3h0m-1-3h0m0 2h0m-1-4h0m0 5h0m-1-5h0m-1 2h0m0 3h0m-1-3h0m-2 2h0m-3-3h0m-1 1h0m-1-1h0m-44 1h0m-1-2h0m-4 1h0m-1 0h0m-5-1h0m-1 0h0m0 1h0m-5-1h0m-2 0h0m-1 0h0m-2 1h0m-2 1h0m-16 1h0m-3-1h0m-5 2h0m-4-4h0m-2 1h0m0 3h0m-1-3h0m0 4h0m-11-4h0m-112 9h0m119-4h0m0 2h0m1-1h0m1-1h0m1 2h0m1-2h0m3 3h0m1 1h0m2 0h0m1-4h0m0 4h0m4 1h0m5-2h0m1 0h0m14 1h0m6-1h0m1 0h0m3 1h0m3 0h0m1 1h0m3 0h0m1 0h0m52-1h0m1 1h0m2 0h0m1-3h0m0 3h0m1-5h0m1 3h0m2 1h0m1-3h0m3 0h0m1 1h0m3-1h0m2-1h0m0 5h0m2 0h0m1-2h0m2-2h0m0 3h0m3 0h0m1 0h0m0 1h0m1-2h0m1-2h0m0 1h0m0 2h0m2-4h0m0 4h0m1-4h0m0 5h0m1-1h0m1-4h0m0 3h0m1-2h0m3 3h0m0 1h0m1-2h0m2-1h0m2-1h0m0 3h0m1-3h0m6-1h0m23 0h0m-31 6h0m-4 0h0m-1 1h0m-3 1h0m-1-1h0m-1 0h0m0 1h0m0 2h0m-4-4h0m-2 0h0m-2 0h0m-4 0h0m-1 1h0m0 1h0m-1 0h0m-1-2h0m0 1h0m-3-1h0m0 2h0m-1-2h0m0 1h0m-1 3h0m-1 0h0m-4-1h0m0 1h0m-1-4h0m-1 0h0m-2 1h0m0 1h0m-2-2h0m-1 2h0m0 2h0m-2-3h0m0 3h0m-2-2h0m-1 1h0m-1 2h0m-1-3h0m0 1h0m-3 0h0m-18 2h0m-2 0h0m-1-4h0m-1 3h0m-2 0h0m-2 1h0m-1-3h0m0 3h0m-1-2h0m-2-3h0m0 5h0m-1-2h0m-2-1h0m0 2h0m-2-3h0m-3-1h0m0 5h0m-34-1h0m-2-3h0m-2 0h0m-1-1h0m-1 0h0m-3 0h0m-1 0h0m0 5h0m-1-5h0m0 1h0m0 4h0m-2-5h0m-1 5h0m-1-2h0m-2 2h0m-4-4h0m-1 1h0m0 3h0m-1-5h0m-1 0h0m0 4h0m0 1h0m-8-3h0m6 8h0m1-3h0m0 2h0m2-2h0m4-1h0m0 2h0m0 1h0m0 1h0m2-4h0m1 1h0m4 1h0m2 1h0m1 0h0m2-3h0m1 4h0m3-2h0m1 1h0m1 1h0m1-4h0m1 4h0m1-3h0m0 1h0m3 2h0m32-4h0m0 1h0m1-1h0m2 1h0m3 1h0m0 1h0m1-3h0m0 3h0m1-2h0m0 1h0m1-1h0m0 1h0m0 3h0m1 0h0m1-4h0m0 1h0m1-1h0m0 2h0m1 0h0m0 2h0m1 0h0m1-5h0m0 4h0m1-4h0m1 5h0m2 0h0m25-5h0m1 0h0m1 1h0m1-1h0m-12 8h0m-5 2h0m-10-2h0m-2-1h0m0 1h0m0 1h0m-1-1h0m0 3h0m-2-4h0m0 1h0m0 1h0m0 2h0m-1 0h0m-1-4h0m-1 0h0m0 3h0m-2-3h0m-4-1h0m-14 3h0m-7 2h0m-2 0h0m-1 0h0m-13-4h0m-1-1h0m-2 0h0m0 2h0m-4 1h0m-1-2h0m-1 0h0m-1 2h0m-2 1h0m-4-4h0m-1 2h0m-1-2h0m0 2h0m-1-1h0m0 1h0m0 3h0m-2 0h0m-3-3h0m-3 1h0m-2-1h0m-1-2h0m0 2h0m-1-1h0m-1 2h0m-3 2h0m-7-2h0m6 4h0m0 3h0m1 1h0m1-4h0m0 1h0m1-1h0m0 4h0m1-5h0m1 4h0m0 1h0m1-5h0m3 5h0m2-2h0m0 2h0m2-2h0m1-2h0m1-1h0m0 3h0m1-3h0m2 0h0m4 0h0m1 4h0m1-4h0m0 5h0m1-1h0m3 1h0m3-5h0m0 4h0m1-4h0m1 0h0m0 1h0m2 0h0m0 2h0m0 1h0m1-1h0m10 0h0m4-2h0m1 3h0m1 0h0m1-4h0m0 5h0m7-5h0m0 2h0m19-1h0m1 1h0m0 3h0m1-2h0m1 2h0m1 0h0m1-4h0m0 4h0m1-4h0m1-1h0m1 4h0m19 1h0m1-3h0m1 2h0m5 1h0m9-1h0m43-2h0m4 4h0m-33 5h0m-5-1h0m-1-2h0m0 3h0m-1-3h0m0 2h0m-2-2h0m-2 1h0m-1-2h0m0 2h0m-1 1h0m-2-3h0m0 1h0m0 2h0m-1-1h0m-2-1h0m0 1h0m-2-1h0m0 2h0m-1 1h0m-1-1h0m-2-2h0m-1 2h0m-1 1h0m-1-2h0m-2-1h0m0 2h0m-1-1h0m-3 1h0m-2-1h0m-1-3h0m0 5h0m-1-2h0m-1-2h0m-4 4h0m-2-3h0m0 2h0m-2-1h0m-1-3h0m0 4h0m-1-4h0m0 2h0m-1 2h0m-1 1h0m-1-5h0m0 3h0m-1-2h0m0 3h0m-1-1h0m-2-2h0m0 1h0m-18 0h0m0 1h0m-2-2h0m-2 2h0m-3 2h0m-2-5h0m0 4h0m-15-4h0m-4 1h0m0 1h0m-1 0h0m-1-1h0m-1-1h0m0 3h0m-2-2h0m-1-1h0m-6 2h0m-1-1h0m-1 2h0m-1-2h0m0 1h0m-2-1h0m-1-1h0m-1 1h0m-4 2h0m-1-1h0m0 3h0m-2-1h0m-2-3h0m0 1h0m0 2h0m-2-4h0m-1 5h0m-1-5h0m-1 5h0m-2-3h0m-1 0h0m-2-2h0m-1 5h0m-3 0h0m-6-1h0m-11 0h0m-61 5h0m6 0h0m3 2h0m47-4h0m14 2h0m6-3h0m3 5h0m1-2h0m1-2h0m1 3h0m1-2h0m1 0h0m5-1h0m2 4h0m1-5h0m0 5h0m2-5h0m2 5h0m1-5h0m1 2h0m0 2h0m2-3h0m1-1h0m0 2h0m1 2h0m1-3h0m2 4h0m5 0h0m1-2h0m0 1h0m1-3h0m0 3h0m1 1h0m4-4h0m2-1h0m1 5h0m1-2h0m22-3h0m30 0h0m0 2h0m1-1h0m1-1h0m3 1h0m1-1h0m1 1h0m1-1h0m1 1h0m1 1h0m2 3h0m2-5h0m0 3h0m1-3h0m0 5h0m1-4h0m1 3h0m1-3h0m0 3h0m1-4h0m0 2h0m0 2h0m2-1h0m0 1h0m1-1h0m1-2h0m0 1h0m0 1h0m0 1h0m1 0h0m1-2h0m1-1h0m0 1h0m1 0h0m0 1h0m0 2h0m1-5h0m0 1h0m0 1h0m0 2h0m2-4h0m1 1h0m1 3h0m1-3h0m0 1h0m0 1h0m0 1h0m1-2h0m2 2h0m1 1h0m1-1h0m1-4h0m0 5h0m2-4h0m0 1h0m0 2h0m2 0h0m1-3h0m1-1h0m1 0h0m0 2h0m29 8h0m-1 1h0m-35-5h0m-1 1h0m-2 0h0m0 1h0m0 2h0m-1-3h0m-1 2h0m0 1h0m-1-4h0m-1 3h0m0 2h0m-1-5h0m0 2h0m0 1h0m-2-3h0m0 2h0m-1 1h0m-1-1h0m-2-1h0m-1 2h0m-1-1h0m-1-2h0m-2 1h0m-1 1h0m-1-1h0m-1 2h0m-1-3h0m-1 0h0m-4 2h0m-3 3h0m-64-4h0m-2 2h0m-1-1h0m-2 3h0m-1-5h0m0 3h0m0 2h0m-1-3h0m-1-2h0m-1 3h0m0 2h0m-1-3h0m0 2h0m-2-4h0m-1 0h0m0 2h0m-1 3h0m-1-4h0m-1 1h0m0 3h0m-1-3h0m-5-2h0m0 1h0m-3 4h0m-1 0h0m-1-5h0m0 4h0m0 1h0m-2-4h0m0 1h0m-1 0h0m-4 0h0m0 3h0m-1-3h0m0 2h0m-1-2h0m-1-2h0m0 2h0m0 2h0m-3 0h0m-1-4h0m0 5h0m-1 0h0m-3 0h0m-2-3h0m-1-2h0m0 1h0m-1 2h0m-1-2h0m-1 2h0m-1 0h0m-2 2h0m-2 0h0m-1-1h0m-2-2h0m-4 3h0m-1-1h0m-3-1h0m-2 1h0m-42-4h0m40 8h0m2 1h0m3-2h0m0 3h0m0 1h0m2-5h0m0 1h0m0 2h0m3-3h0m0 1h0m0 1h0m2-2h0m0 2h0m0 1h0m4-2h0m2-1h0m0 5h0m1-2h0m1-1h0m1-2h0m0 3h0m1 1h0m1-4h0m0 1h0m1 0h0m1 0h0m1 1h0m1 0h0m1 2h0m1-4h0m0 3h0m0 2h0m1-4h0m0 1h0m1-1h0m1 1h0m0 1h0m0 2h0m2-2h0m2 2h0m3-2h0m0 2h0m1-2h0m3 2h0m2-2h0m2 0h0m1 0h0m2 2h0m2-3h0m0 3h0m1 0h0m1-5h0m1 2h0m2-1h0m0 4h0m1-5h0m0 3h0m1 2h0m1 0h0m2-1h0m0 1h0m4-2h0m90 1h0m1-4h0m0 2h0m0 3h0m2-3h0m38 2h0m0 7h0m-2-5h0m0 5h0m-2 0h0m-1-1h0m-14-3h0m-115-1h0m-1 0h0m-10 2h0m-2-1h0m0 1h0m-1 0h0m0 3h0m-5-5h0m0 1h0m-1 4h0m-1-5h0m0 2h0m0 2h0m-1-3h0m0 2h0m-1 1h0m-1 0h0m-1 0h0m-5 1h0m-2-5h0m-1 1h0m-1 2h0m-3-3h0m-1 4h0m-3-3h0m-1 1h0m-3-1h0m-2 2h0m-1 0h0m-1-2h0m-1 3h0m-3-3h0m-2-1h0m0 2h0m0 2h0m-1-4h0m0 2h0m-1 3h0m-1-3h0m-1-1h0m-4 3h0m-2-4h0m-1 3h0m-3 3h0m5 3h0m1-3h0m0 2h0m2 0h0m0 1h0m1-1h0m0 3h0m1-5h0m1 3h0m2-3h0m0 2h0m1-1h0m1-1h0m1 1h0m2-1h0m1 1h0m0 2h0m1 1h0m2-1h0m1 2h0m9-4h0m1-1h0m1 0h0m0 2h0m2 1h0m0 1h0m1-3h0m6 3h0m1-1h0m4-3h0m3 3h0m3-3h0m1 3h0m2-1h0m3-2h0m0 1h0m31 4h0m9 0h0m3 0h0m2-2h0m24-2h0m12 2h0m1 1h0m0 1h0m2-2h0m1 2h0m1-2h0m4 2h0m34 0h0m13-4h0m1 0h0m4 0h0m0 2h0m6-3h0m-26 10h0m-31 0h0m-2 0h0m-2-3h0m0 3h0m0 1h0m-2 0h0m-3-2h0m-2 1h0m-1-3h0m0 3h0m-1-1h0m-1-1h0m0 3h0m-1-1h0m-1-4h0m0 4h0m-29-2h0m-1-1h0m-2-1h0m0 3h0m-1-2h0m-3 2h0m0 1h0m-2-4h0m-1 4h0m-2-4h0m0 1h0m-2 3h0m-1-2h0m-2 3h0m-41-5h0m-4 0h0m-3 0h0m-1 0h0m-5 1h0m-2 0h0m-2 0h0m-2 1h0m-2 1h0m-2-2h0m-1 1h0m-2-1h0m70 6h0m1 0h0m0 4h0m2-1h0m1-4h0m1 0h0m0 1h0m2 3h0m1-2h0m2 2h0m1-4h0m3 4h0m1-1h0m1-1h0m0 3h0m1-4h0m0 2h0m7 1h0m15-2h0m4-2h0m1 5h0m1-5h0m0 2h0m0 2h0m1 0h0m0 1h0m1-4h0m1-1h0m0 3h0m0 1h0m2 0h0m1-2h0m1 0h0m2 2h0m2-3h0m1 2h0m3 0h0m0 2h0m1-2h0m3 0h0m4 2h0m22-5h0m5 5h0m7-3h0m1-2h0m0 10h0m-6-3h0m0 1h0m-1 0h0m-1-1h0m0 1h0m0 2h0m0 1h0m-5-1h0m-2 1h0m-9-2h0m-6 1h0m-2-3h0m0 3h0m-2-4h0m0 5h0m-1-2h0m-4 0h0m-1-1h0m-1 3h0m-1-5h0m-1 2h0m0 1h0m-3-2h0m0 2h0m0 2h0m-1-1h0m-4-3h0m-1 2h0m-1 1h0m-1-4h0m-13 0h0m-20 2h0m0 3h0m-1-3h0m-1-1h0m-3 3h0m-45 1h0m-5 0h0m-2 0h0m-2 0h0m-55 0h0m48 6h0m1 0h0m3-3h0m0 2h0m1-2h0m2 1h0m1-3h0m0 1h0m0 1h0m1-2h0m1 1h0m1 4h0m1-2h0m1-2h0m0 4h0m3-2h0m0 1h0m1-4h0m1 1h0m2 1h0m0 2h0m1-2h0m0 1h0m1-2h0m4 2h0m1 0h0m0 2h0m1-2h0m1 0h0m1-2h0m0 2h0m69-1h0m0 3h0m2-4h0m0 2h0m1-1h0m2-1h0m8-1h0m2 0h0m2 1h0m2-1h0m2 0h0m3 2h0m3-1h0m0 1h0m0 2h0m8-3h0m1 0h0m12 0h0m-101 9h0m-3 0h0m-3 1h0m-2 0h0m-12-2h0m-1-2h0m-1 4h0m-1-3h0m0 1h0m0 1h0m-4-4h0m-1 3h0m-1-3h0m-1 5h0m-1-5h0m-3 1h0m0 2h0m-2-1h0m-2 0h0m-1-1h0m0 2h0m-1-2h0m-1 2h0m-1-1h0m0 1h0m-1-3h0m-2 0h0m0 5h0m-1-4h0m0 4h0m-1-1h0m-5-1h0m-26 3h0m23 3h0m1-2h0m0 3h0m3-4h0m0 2h0m0 1h0m1 0h0m0 1h0m1-4h0m1 5h0m1-3h0m2 3h0m1-1h0m3-4h0m0 2h0m0 1h0m1 2h0m1 0h0m1-5h0m1 1h0m0 2h0m1-3h0m1 5h0m4 0h0m1-4h0m0 4h0m1-3h0m2-1h0m0 1h0m1-1h0m0 4h0m3-5h0m1 3h0m1 2h0m12-5h0m10 5h0m1-1h0m1-2h0m24 2h0m76 7h0m-1-1h0m-1-1h0m0 2h0m-50-3h0m-2 1h0m-16 1h0m-1-2h0m0 3h0m-3-2h0m-1-3h0m-2 1h0m0 1h0m-1 1h0m-1 0h0m-8 2h0m-1-3h0m-1 3h0m-1-1h0m-1 0h0m-32-2h0m-3-1h0m0 1h0m-3 0h0m-2 0h0m-1-1h0m-1 4h0m-1-3h0m-4-2h0m0 4h0m0 1h0m-1 0h0m-4-4h0m-1 2h0m-1-1h0m-2 1h0m0 2h0m-1-2h0m-1-3h0m-1 0h0m0 5h0m-1-4h0m-1-1h0m-3 0h0m-1 1h0m-1-1h0m0 4h0m-1-3h0m-3 2h0m-1 0h0m4 5h0m1-2h0m2 2h0m1-1h0m0 4h0m2-2h0m0 1h0m4-2h0m0 2h0m1-3h0m0 3h0m2-4h0m1 0h0m0 5h0m2-5h0m0 3h0m0 2h0m1-2h0m3-3h0m1 2h0m2 0h0m5 1h0m1-3h0m4 2h0m2 2h0m1 0h0m2 1h0m1-2h0m5-1h0m3 0h0m2 3h0m1-4h0m12 3h0m7-2h0m0 3h0m1-5h0m2 4h0m1-4h0m13 0h0m0 5h0m3-4h0m2 3h0m1-1h0m4-1h0m46 2h0m1-1h0m2 0h0m1-2h0m0 2h0m1-1h0m1 0h0m0 1h0m1-3h0m0 2h0m0 1h0m0 2h0m1 0h0m1-4h0m0 1h0m1 2h0m1-4h0m0 2h0m0 3h0m2-5h0m0 1h0m0 3h0m1-2h0m1 0h0m1 1h0m-1 5h0m-2-2h0m-2 1h0m-2 2h0m-1-2h0m-1-1h0m-1 1h0m-1-1h0m0 3h0m-1-3h0m-1 0h0m-2 0h0m-28 2h0m-4 2h0m-4 0h0m-4-3h0m-1 2h0m-1-3h0m0 2h0m-1 0h0m-2 3h0m-2-1h0m-2 1h0m-26-2h0m-15-3h0m-6 4h0m-1-2h0m-2-1h0m0 2h0m0 1h0m-1-4h0m-3 3h0m-3 2h0m-1-3h0m0 3h0m-1-1h0m-1 0h0m-2 1h0m-2 0h0m-3-5h0m0 3h0m-1-3h0m0 1h0m0 1h0m-2 0h0m-3-2h0m0 2h0m-1 2h0m-3-1h0m-4-1h0m-1 0h0m-3-2h0m12 6h0m1 4h0m3-4h0m1 1h0m1-1h0m2 4h0m1 0h0m2-1h0m0 2h0m1-2h0m1 1h0m1-3h0m0 2h0m1 2h0m2-3h0m1 0h0m1 0h0m2 0h0m1-2h0m0 1h0m0 2h0m2 2h0m1-5h0m0 4h0m3-3h0m0 3h0m2 0h0m0 1h0m1-4h0m2 2h0m16-3h0m0 4h0m0 1h0m1 0h0m15 0h0m4-1h0m5 1h0m1-4h0m0 4h0m2-3h0m2 2h0m1-3h0m0 3h0m1-1h0m1 1h0m6 1h0m3-4h0m3 0h0m0 1h0m-5 8h0m-4 0h0m-1-3h0m-1 0h0m-2 1h0m0 1h0m-2 0h0m-6-3h0m0 5h0m-3-3h0m0 1h0m-4-1h0m-1-1h0m0 2h0m-3 2h0m-2 0h0m-5-3h0m-1-2h0m-19 0h0m-3 0h0m0 3h0m-1-2h0m-1 2h0m-2-1h0m-1 2h0m-1-3h0m-1 2h0m-2-3h0m-1 5h0m-1-3h0m-1 0h0m-6-1h0m-2 0h0m-5 1h0m-1 1h0m-1-3h0m-1 5h0m-1-1h0m-1 3h0m2-1h0m18 0h0m1 3h0m0 2h0m1-4h0m1 3h0m1-1h0m1-3h0m32 1h0m1 0h0m1-1h0m3 2h0m2-2h0m1 1h0m2-1h0m1 0h0m2 1h0m1 0h0"/>
<ellipse cx="807.3" cy="1294.4" rx="97.8" ry="110.6" fill="none" stroke="#12A850" stroke-width="5.6" stroke-dasharray="13.3 4.42"/>
<text x="703.3" y="1178.3" font-size="35.2">CCL5</text>
</g>
<g>
<rect x="946.0" y="995.2" width="358.7" height="316.8" fill="#fff" stroke="#555" stroke-width="1.2"/>
<path transform="translate(.5 .5)" fill="none" stroke="#c0c0c0" stroke-width="1.9" stroke-linecap="square" d="M1050 1022h0m1 2h0m2-1h0m1-2h0m0 2h0m1-3h0m0 4h0m1-1h0m0 1h0m1 1h0m2-1h0m5 0h0m11 1h0m-13 1h0m-2 0h0m0 1h0m0 2h0m-1-2h0m-1 0h0m0 1h0m-2 2h0m-7-3h0m0 4h0m-4-2h0m-1-2h0m0 2h0m-1 1h0m-1-3h0m-1 1h0m0 1h0m-1-3h0m0 3h0m-1-1h0m0 2h0m-1-3h0m0 2h0m-1-1h0m0 3h0m-1-5h0m0 3h0m-1-1h0m0 3h0m-2-2h0m0 1h0m-1 4h0m2-2h0m0 4h0m1-4h0m0 5h0m1-4h0m1 2h0m0 2h0m1-4h0m1 3h0m1-3h0m1 0h0m1-1h0m0 4h0m1-3h0m2-1h0m1 2h0m0 1h0m1-1h0m2-2h0m1 4h0m3-2h0m16-1h0m1 3h0m9-4h0m3 3h0m0 2h0m3 0h0m1 4h0m-2-1h0m-1 2h0m-1-1h0m-1 0h0m-1 1h0m-1-2h0m0 2h0m-1 1h0m-1-5h0m0 2h0m-1-2h0m-4 0h0m0 5h0m-26-4h0m-1 0h0m-3 1h0m0 3h0m-1-4h0m0 4h0m-1-5h0m0 2h0m-1-1h0m0 2h0m0 1h0m0 1h0m-2-4h0m0 2h0m-1-1h0m-1 3h0m-1-2h0m-1 1h0m2 5h0m2-2h0m0 4h0m1-5h0m1 1h0m0 3h0m2-3h0m1-1h0m0 5h0m3-1h0m27 0h0m5-4h0m1 0h0m0 4h0m2-4h0m0 2h0m0 3h0m2-3h0m2-1h0m0 1h0m0 2h0m0 1h0m1-5h0m0 3h0m1 2h0m1-5h0m1 0h0m-2 7h0m-1-1h0m-1 2h0m0 1h0m-1-2h0m-1 0h0m0 2h0m-1-3h0m-1 1h0m-1 1h0m-3-1h0m-3 2h0m0 2h0m-1-5h0m0 4h0m-4-1h0m-3 1h0m-23-2h0m-1-2h0m0 1h0m-1-1h0m0 2h0m-1-1h0m0 2h0m-1-1h0m-1-1h0m0 2h0m-4 2h0m-2-1h0m-2-4h0m6 7h0m1 2h0m4 1h0m1-4h0m25 1h0m0 1h0m1 1h0m0 1h0m1-2h0m0 1h0m2-2h0m1-1h0m0 4h0m1-4h0m4 1h0m0 3h0m0 1h0m1-5h0m0 3h0m0 1h0m2-3h0m0 4h0m2-1h0m3-2h0m1 2h0m0 1h0m0 6h0m-5-4h0m0 4h0m-1-3h0m-1 1h0m0 2h0m-1-4h0m0 3h0m-1-3h0m0 4h0m-2-4h0m0 3h0m-2-1h0m-2-2h0m-1-1h0m-27 4h0m-1-3h0m0 1h0m0 1h0m-1 0h0m-1 0h0m-1-3h0m-1 4h0m-1-4h0m0 2h0m3 6h0m3-2h0m0 4h0m1-2h0m0 3h0m1-1h0m1 1h0m1 0h0m27-5h0m0 1h0m0 3h0m2-2h0m0 3h0m1-5h0m0 4h0m1-4h0m1 0h0m0 2h0m2 1h0m5 1h0m9 7h0m-7 0h0m-6-5h0m-3 2h0m-2-1h0m-1 1h0m-3 0h0m0 2h0m-1-4h0m-20 5h0m-2-2h0m-2-3h0m-1 2h0m-1-1h0m-2 3h0m-2-3h0m5 5h0m0 1h0m2 0h0m0 1h0m1 0h0m1 1h0m1 0h0m0 1h0m1 1h0m2-2h0m17-3h0m0 2h0m1 1h0m3 0h0m16-3h0m1 1h0m141 6h0m-158 3h0m0 1h0m-17 0h0m-2-2h0m-2 0h0m-1 1h0m-1-3h0m-38 9h0m4 0h0m5-2h0m5 3h0m8-1h0m16-1h0m1-3h0m1 0h0m0 3h0m1-1h0m0 3h0m1-5h0m0 3h0m1 0h0m0 2h0m1-1h0m1 0h0m1 0h0m16-2h0m7 2h0m25 5h0m-2 1h0m-2-1h0m-20-1h0m-25-1h0m-2 0h0m0 4h0m-1-2h0m0 2h0m-2-4h0m0 1h0m-1 3h0m-4-1h0m-2-1h0m0 2h0m-2-2h0m-1-3h0m0 5h0m-1 0h0m-3-3h0m-1-1h0m0 4h0m-3-3h0m0 3h0m-2 0h0m-1-2h0m-2 1h0m-1-2h0m0 2h0m-4-2h0m-1 3h0m-2 0h0m-1-3h0m-1 2h0m-1-1h0m0 2h0m-2-3h0m-1-1h0m0 2h0m-1 1h0m0 1h0m-2 0h0m-6-5h0m0 4h0m0 1h0m-3-2h0m-1-2h0m-1 4h0m-4-1h0m-2 1h0m-23 3h0m4 2h0m1-1h0m7-1h0m0 3h0m3-3h0m1 2h0m3-2h0m1 3h0m2-4h0m2-1h0m0 2h0m3-2h0m1 1h0m1 3h0m1 0h0m2-2h0m0 3h0m2 0h0m1-5h0m0 3h0m1 0h0m0 1h0m2-4h0m1 3h0m2-2h0m1 0h0m0 3h0m1-3h0m0 3h0m0 1h0m1-3h0m1 1h0m1-1h0m1-2h0m0 5h0m1-3h0m1 3h0m1-3h0m1-2h0m0 3h0m1-3h0m0 5h0m1-5h0m1 1h0m0 1h0m0 1h0m0 1h0m1-4h0m0 1h0m0 3h0m3-4h0m0 3h0m0 2h0m1-1h0m1-4h0m0 4h0m1-3h0m2 0h0m0 4h0m1 0h0m1-1h0m1-2h0m1-2h0m0 5h0m1-3h0m1 3h0m1-2h0m1 2h0m1-1h0m0 1h0m1-3h0m0 3h0m1-1h0m1-4h0m1 5h0m1-5h0m0 3h0m3-2h0m2 4h0m1-4h0m2 2h0m0 1h0m1-1h0m0 1h0m3-2h0m19-1h0m2 2h0m1 1h0m16-4h0m9 0h0m2 1h0m136 6h0m-92 4h0m-1-1h0m-5 0h0m-2-2h0m0 3h0m-1-2h0m0 2h0m-4-4h0m-1 4h0m-1-1h0m-1 1h0m-19-5h0m-3 1h0m-33 3h0m-28 0h0m0 1h0m-3-3h0m-1-2h0m0 3h0m-1-1h0m0 2h0m-1-4h0m0 5h0m-1-4h0m0 2h0m0 2h0m-1-3h0m-1-2h0m0 2h0m0 2h0m-1-3h0m-1 0h0m0 2h0m-2-1h0m-1-1h0m0 1h0m0 1h0m-1 0h0m0 2h0m-1-5h0m-1 1h0m0 3h0m-1-4h0m0 5h0m-1-5h0m0 3h0m-1-3h0m0 5h0m-1-4h0m-1 0h0m-1 0h0m0 4h0m-1-2h0m-2-2h0m0 4h0m-1-4h0m0 2h0m0 2h0m-2-3h0m-1-2h0m0 1h0m0 4h0m-1-4h0m0 2h0m-1-3h0m0 2h0m0 3h0m-1-4h0m0 4h0m-1-4h0m0 1h0m-1 2h0m-1-2h0m0 2h0m-3-3h0m-1 4h0m-1-2h0m-2-1h0m0 1h0m-1-2h0m0 1h0m0 3h0m-1-5h0m-1 3h0m0 2h0m-1-5h0m0 4h0m-1-1h0m-1-3h0m0 5h0m-1-3h0m0 3h0m-2-1h0m-1-3h0m0 2h0m-1-3h0m-1 1h0m0 4h0m-1-4h0m0 1h0m-1 1h0m0 2h0m-1-2h0m-1-3h0m0 4h0m-1-3h0m0 2h0m-1 1h0m-1-3h0m0 3h0m-1-2h0m-1 2h0m-1-3h0m0 2h0m-2 1h0m0 1h0m-2-5h0m0 5h0m-1-3h0m-1-1h0m0 4h0m-1-5h0m-1 3h0m0 2h0m-1-3h0m0 2h0m-1-4h0m0 1h0m0 4h0m-1-3h0m0 3h0m-2-1h0m-2-2h0m0 2h0m-2-3h0m0 3h0m0 1h0m-5-2h0m-1-2h0m0 3h0m-1-2h0m-1-1h0m-2 3h0m1 5h0m1-3h0m0 3h0m1 1h0m1-3h0m1-1h0m0 4h0m1-3h0m0 4h0m1-5h0m1 1h0m0 1h0m0 3h0m1-4h0m0 3h0m1-3h0m0 4h0m1-1h0m1 0h0m4-3h0m1 2h0m0 1h0m1-3h0m0 1h0m0 3h0m3-4h0m0 3h0m1-1h0m1-3h0m1 2h0m1-1h0m0 1h0m0 2h0m0 1h0m2-2h0m0 2h0m1-4h0m0 3h0m1 1h0m1-5h0m1 4h0m1-4h0m0 2h0m0 3h0m2-5h0m0 2h0m1 0h0m1 0h0m2 3h0m2-5h0m0 2h0m0 2h0m1-3h0m0 3h0m1-1h0m1 2h0m1-5h0m0 1h0m1 2h0m1-2h0m0 2h0m0 1h0m1 0h0m1-4h0m0 5h0m1 0h0m1-4h0m1 1h0m2 0h0m0 1h0m1-3h0m0 5h0m2-2h0m2-2h0m2 3h0m1-2h0m1-1h0m0 4h0m1-5h0m0 2h0m1-1h0m0 2h0m0 1h0m2-1h0m0 2h0m1-4h0m1 1h0m1-2h0m0 1h0m0 1h0m0 2h0m2-1h0m0 2h0m1-5h0m1 3h0m0 2h0m1-5h0m0 2h0m2 0h0m0 2h0m1-1h0m1-1h0m1-1h0m1 1h0m1-1h0m1 2h0m0 1h0m1-1h0m0 2h0m1-3h0m1-2h0m0 2h0m1 3h0m1 0h0m1-5h0m1 1h0m0 3h0m0 1h0m2-5h0m0 2h0m2-1h0m0 2h0m1 2h0m1 0h0m2-1h0m0 1h0m1 0h0m1-2h0m1-3h0m0 3h0m1 1h0m3-2h0m18 3h0m35-1h0m6-1h0m4 2h0m1-5h0m0 3h0m2-3h0m0 1h0m1 2h0m1 0h0m3-2h0m2-1h0m1 5h0m1-5h0m0 2h0m0 2h0m1-3h0m1-1h0m0 3h0m0 1h0m3-2h0m0 2h0m0 1h0m1-5h0m0 1h0m1-1h0m0 4h0m1 1h0m1-1h0m4-2h0m0 2h0m2-3h0m0 3h0m2-4h0m0 1h0m3-1h0m1 3h0m1 1h0m32-1h0m2 1h0m3 5h0m-18 0h0m-10 1h0m-2 1h0m-1-2h0m-1-2h0m-3 0h0m0 4h0m-1-4h0m-1 1h0m-1 0h0m0 2h0m0 1h0m-2-4h0m-1-1h0m-2 1h0m-1 1h0m-1-1h0m0 2h0m-2 2h0m-1-5h0m-2 1h0m0 4h0m-1-2h0m0 1h0m-1-3h0m-1 3h0m-2-1h0m-3 1h0m-1-2h0m0 2h0m-3-4h0m0 5h0m-1-4h0m0 4h0m-1-1h0m-3-1h0m-1 1h0m-1-2h0m0 2h0m-3-4h0m0 3h0m-1-2h0m-1 3h0m-2-2h0m-1 0h0m-2 0h0m-3 1h0m-18 1h0m-16-4h0m-20 3h0m-2-3h0m0 2h0m-1-2h0m-1 0h0m-1 1h0m0 1h0m-3-2h0m-1 3h0m-1-3h0m0 3h0m-2 0h0m-1-2h0m0 3h0m-1 0h0m-1-2h0m-1-1h0m-1-1h0m-1 4h0m-1-4h0m0 2h0m0 1h0m0 2h0m-1-5h0m0 4h0m-2 0h0m-1-1h0m0 2h0m-4-4h0m0 2h0m0 2h0m-1-4h0m0 3h0m-1-3h0m0 2h0m0 1h0m0 1h0m-1-2h0m-1-1h0m-2-1h0m0 4h0m-2 0h0m-1-5h0m0 1h0m0 1h0m0 2h0m-1-3h0m-1 0h0m0 2h0m0 2h0m-1-5h0m0 2h0m-1 1h0m-1-3h0m0 4h0m-1 0h0m-2-4h0m0 5h0m-2-5h0m0 2h0m0 3h0m-1-3h0m-1-2h0m-1 0h0m0 5h0m-2-5h0m0 1h0m-1 1h0m0 1h0m-1 0h0m0 1h0m-1-1h0m-1 0h0m0 1h0m-1-1h0m-3-1h0m-1-2h0m0 2h0m0 2h0m-2-4h0m0 5h0m-1-4h0m-1 4h0m-1 0h0m-2-4h0m-2 2h0m0 2h0m-1-4h0m0 3h0m-1-1h0m-1-3h0m0 4h0m-1-1h0m-3 0h0m-1 1h0m0 1h0m-1-5h0m0 2h0m-1 0h0m0 3h0m-1 0h0m-3-2h0m-1-1h0m0 2h0m-1-1h0m-1-3h0m0 2h0m-1-2h0m0 4h0m-2 1h0m-1-4h0m0 4h0m-1-1h0m-2-3h0m-1 4h0m-1-3h0m-1-1h0m-1 2h0m-1-2h0m-1 1h0m0 1h0m-1-2h0m0 4h0m-1-5h0m0 4h0m-1-2h0m-2-2h0m0 4h0m-2-4h0m0 2h0m-2 5h0m1 4h0m1-1h0m2-2h0m0 2h0m2-3h0m1 2h0m1 0h0m1-1h0m0 2h0m0 1h0m5-3h0m0 3h0m1-4h0m0 2h0m0 1h0m1-3h0m1 3h0m1-2h0m0 2h0m1-2h0m1-2h0m0 3h0m0 1h0m1-4h0m0 3h0m1 2h0m1-2h0m1 0h0m0 2h0m1-3h0m1-1h0m1-1h0m0 4h0m1-3h0m2 4h0m1-3h0m0 3h0m1-5h0m1 1h0m1 3h0m2-4h0m2 0h0m1 2h0m1-2h0m1 2h0m0 2h0m1-2h0m0 2h0m0 1h0m1-4h0m1 1h0m0 2h0m1 0h0m0 1h0m2-2h0m1-2h0m0 4h0m1-4h0m0 2h0m1-2h0m0 1h0m2 1h0m3-3h0m0 3h0m2-2h0m0 4h0m1-5h0m0 5h0m1-4h0m1-1h0m0 4h0m1-1h0m1-2h0m2-1h0m0 2h0m1-2h0m0 2h0m0 3h0m1-3h0m1-2h0m0 4h0m3-4h0m1 2h0m0 2h0m0 1h0m1-4h0m1 0h0m0 1h0m1-2h0m0 1h0m0 1h0m1 0h0m0 1h0m0 2h0m1-4h0m0 3h0m1-4h0m0 2h0m0 3h0m1-3h0m0 2h0m1 0h0m1-4h0m1 2h0m0 2h0m2-4h0m0 2h0m2 2h0m2-4h0m1 2h0m0 3h0m1-3h0m0 2h0m1-4h0m0 2h0m0 3h0m2-5h0m0 3h0m2-3h0m0 2h0m0 2h0m1-2h0m0 1h0m1-2h0m0 2h0m0 2h0m1-4h0m0 1h0m0 1h0m1-2h0m0 3h0m1-2h0m1 1h0m1 0h0m2 2h0m1-4h0m0 3h0m1 0h0m3-3h0m13 2h0m2 0h0m4-1h0m1 1h0m1-2h0m1 2h0m0 2h0m1-3h0m8-1h0m1-1h0m7 2h0m2 0h0m4 1h0m2-1h0m2-2h0m5 0h0m1 0h0m1 3h0m0 2h0m2-3h0m2 2h0m4-1h0m1-2h0m0 1h0m1-1h0m1 2h0m1-3h0m0 4h0m1-2h0m2-2h0m1 1h0m0 2h0m1-2h0m0 2h0m1 0h0m1-1h0m2 0h0m1 0h0m0 3h0m1-5h0m0 1h0m0 3h0m0 1h0m1-3h0m2 3h0m1-3h0m1 1h0m0 1h0m1-4h0m0 2h0m0 3h0m1-2h0m0 1h0m1-4h0m0 5h0m1-3h0m0 3h0m1-3h0m1 1h0m0 1h0m2-2h0m1-2h0m0 4h0m2 1h0m1-3h0m1 2h0m1-2h0m0 2h0m0 1h0m2-1h0m1-3h0m0 2h0m0 2h0m3 0h0m1-3h0m3-2h0m1 5h0m-2 1h0m-3 1h0m-1-1h0m0 3h0m-1-3h0m-1 3h0m0 2h0m-2-5h0m0 2h0m0 2h0m-2-4h0m0 5h0m-4-3h0m0 2h0m-1-2h0m0 3h0m-3 0h0m-1-3h0m-5-1h0m0 1h0m0 1h0m-1 0h0m-3-1h0m-1 0h0m-1-2h0m0 1h0m0 1h0m-1 1h0m-1 2h0m-1-2h0m-1-3h0m-1 5h0m-3-3h0m-1 1h0m-1-3h0m0 1h0m0 1h0m-1 1h0m-1 1h0m-1-4h0m0 3h0m-2-2h0m-1 1h0m0 1h0m-2 0h0m-1 0h0m-1-2h0m-1 4h0m-20-3h0m-2-1h0m-37 0h0m-1 2h0m0 2h0m-2 0h0m-2-5h0m-1 2h0m-1 3h0m-2-5h0m0 1h0m-1 3h0m-1-4h0m0 1h0m-1 4h0m-1-5h0m0 2h0m0 3h0m-1-4h0m0 3h0m-2-2h0m0 2h0m-1-2h0m-1-2h0m0 3h0m-1 0h0m0 2h0m-2 0h0m-1 0h0m-1-4h0m0 3h0m-1-1h0m-1-3h0m0 5h0m-1-4h0m0 2h0m0 1h0m-2-2h0m-2-1h0m-1-1h0m-1 2h0m-1-1h0m0 3h0m-1 0h0m-1-3h0m0 1h0m-1 3h0m-1-5h0m-1 4h0m0 1h0m-1-3h0m-3-2h0m0 2h0m0 1h0m-1-3h0m0 3h0m-1-3h0m0 3h0m-3-2h0m-2-1h0m0 2h0m-1-2h0m0 3h0m0 1h0m-1-3h0m0 2h0m0 2h0m-2-5h0m0 4h0m-1-3h0m0 2h0m-3-2h0m0 1h0m-1 1h0m-1-3h0m0 2h0m0 2h0m-1-4h0m-1 0h0m-1 2h0m0 1h0m0 2h0m-1-4h0m0 3h0m-1-2h0m0 1h0m0 1h0m-1-1h0m-1-2h0m-1 2h0m-1-3h0m-1 0h0m-1 2h0m0 3h0m-1-5h0m0 1h0m0 3h0m-1-3h0m-1 0h0m0 2h0m-1-3h0m0 2h0m-1-1h0m-1-1h0m-1 2h0m0 1h0m-1-3h0m0 3h0m0 2h0m-1-4h0m0 3h0m-1-1h0m0 2h0m-1-4h0m-2 0h0m-1 4h0m-1 0h0m-1-3h0m-1 3h0m-2-1h0m-3-2h0m0 2h0m-1 0h0m-1-1h0m-1-1h0m0 1h0m0 1h0m-1 1h0m-1-4h0m0 4h0m-1-5h0m0 4h0m-3 1h0m-1-5h0m0 4h0m-2-3h0m0 2h0m-1-3h0m0 2h0m-2 1h0m-1-2h0m4 7h0m0 3h0m1-4h0m1-1h0m1 1h0m0 2h0m0 1h0m1 0h0m1-1h0m0 1h0m1-4h0m2 0h0m0 2h0m1 1h0m0 1h0m1-2h0m0 2h0m1-1h0m2 1h0m1 1h0m1-5h0m1 1h0m0 3h0m0 1h0m1-4h0m0 2h0m0 2h0m1-4h0m1 1h0m0 1h0m4 2h0m1-2h0m0 2h0m1 0h0m1-4h0m0 2h0m1 2h0m1-5h0m1 4h0m1-3h0m0 3h0m1-4h0m0 3h0m1-1h0m1 1h0m1-2h0m0 1h0m0 2h0m0 1h0m1-4h0m0 2h0m1-3h0m0 5h0m1-4h0m1-1h0m0 2h0m0 2h0m1-3h0m0 2h0m0 1h0m0 1h0m1-4h0m0 4h0m1-4h0m0 1h0m1 3h0m1-4h0m0 4h0m1-5h0m0 3h0m0 2h0m1-5h0m0 2h0m1 1h0m2 0h0m0 2h0m1-3h0m0 2h0m1-3h0m0 4h0m1-5h0m0 1h0m0 4h0m1-2h0m1 0h0m2-2h0m0 2h0m0 1h0m1-4h0m0 1h0m1-1h0m0 4h0m1 1h0m1-2h0m0 2h0m2-1h0m1-1h0m1-3h0m0 4h0m2-4h0m2 4h0m1-2h0m0 2h0m1-2h0m1-2h0m0 4h0m1-4h0m1 2h0m0 1h0m1-2h0m0 2h0m1-3h0m1 4h0m1-2h0m3 1h0m1-2h0m0 4h0m3 0h0m1-5h0m0 4h0m2-3h0m0 4h0m1-4h0m0 4h0m1-4h0m0 2h0m1 2h0m1-1h0m1-1h0m0 2h0m1-1h0m1-2h0m2-2h0m1 2h0m1-2h0m1 1h0m0 4h0m1 0h0m4-3h0m3 0h0m22 2h0m2-2h0m36 1h0m1 0h0m0 1h0m0 1h0m2-5h0m0 1h0m0 2h0m1 0h0m7 2h0m1-5h0m0 5h0m2-3h0m0 3h0m2-2h0m1-3h0m0 4h0m1-3h0m1 1h0m1 2h0m1-4h0m1 2h0m1 2h0m2-3h0m0 1h0m0 1h0m4-3h0m4 2h0m1 1h0m0 2h0m1-4h0m0 1h0m0 1h0m0 2h0m1-5h0m0 2h0m1-2h0m0 3h0m5-2h0m1 1h0m1 3h0m1-3h0m4-2h0m-5 11h0m-2-3h0m-3-1h0m0 3h0m-1-3h0m0 3h0m-4-1h0m0 1h0m-2-3h0m-1 3h0m-2-4h0m0 1h0m-3 4h0m-1-3h0m0 1h0m0 2h0m-1-3h0m-1 3h0m-1-4h0m-1-1h0m0 1h0m-3 2h0m0 2h0m-1-5h0m0 3h0m-1-2h0m0 4h0m-2-1h0m-1-3h0m0 3h0m-1 1h0m-2-2h0m0 1h0m-1-4h0m0 4h0m-1-3h0m0 2h0m0 2h0m-2-2h0m-2-3h0m0 3h0m-1-2h0m0 1h0m0 2h0m-2-1h0m0 1h0m0 1h0m-1-4h0m-1 2h0m0 2h0m-1-1h0m-1-1h0m-20 1h0m-1 0h0m-1 1h0m-1-1h0m-2 0h0m-7-1h0m-1-2h0m-25 1h0m-1 2h0m-1-1h0m-1-1h0m0 1h0m-2 1h0m-1-1h0m0 2h0m-1-2h0m-1 2h0m-1-2h0m-1-3h0m-1 2h0m-1-2h0m0 4h0m-1-2h0m-1 1h0m-1-3h0m-2 0h0m-1 0h0m0 3h0m-2-1h0m-2-1h0m-1-1h0m-1 0h0m0 2h0m-2-1h0m-1 0h0m-1-1h0m0 1h0m-1-1h0m0 5h0m-2-4h0m0 1h0m-1 0h0m0 1h0m-1-2h0m-1 0h0m0 4h0m-1-3h0m-1 3h0m-1 0h0m-1-3h0m-1-2h0m0 1h0m-1 1h0m0 3h0m-1-4h0m-1 1h0m-2-2h0m0 1h0m-1 0h0m0 2h0m-1-2h0m0 4h0m-1-4h0m0 2h0m-3-1h0m0 1h0m-1 0h0m-1-3h0m0 2h0m0 1h0m-1-1h0m0 3h0m-1-1h0m-1-2h0m0 3h0m-2-4h0m0 2h0m0 2h0m-1-3h0m-1 0h0m0 3h0m-1-3h0m0 3h0m-2-4h0m0 3h0m-1-1h0m-1-3h0m0 1h0m0 2h0m-1 0h0m-1 0h0m-2-3h0m0 4h0m0 1h0m-2-4h0m0 2h0m-2 2h0m-1-4h0m0 2h0m-1 1h0m-1-3h0m0 4h0m-1-5h0m0 1h0m0 3h0m-2-4h0m-1 2h0m-1-2h0m-1 2h0m0 1h0m-1-2h0m0 3h0m0 1h0m-1 0h0m-1-5h0m0 5h0m-1-4h0m-1 3h0m-1-3h0m0 2h0m-1 1h0m-1-4h0m0 4h0m-1-3h0m0 4h0m-2 0h0m-1-5h0m0 5h0m-1-4h0m0 2h0m-1 2h0m-1-3h0m0 1h0m-1-2h0m-1 0h0m-1 3h0m0 1h0m-2-5h0m0 1h0m-1 2h0m-2-3h0m0 1h0m-3 0h0m4 5h0m0 5h0m3-5h0m0 1h0m0 2h0m0 1h0m1-3h0m0 2h0m2-2h0m0 1h0m1-1h0m0 2h0m1 0h0m0 1h0m1 0h0m1-3h0m0 4h0m1-3h0m0 3h0m1-5h0m0 3h0m1-2h0m0 2h0m0 2h0m1-2h0m0 2h0m1-1h0m1-4h0m0 1h0m0 2h0m1 0h0m1-3h0m1 3h0m1 2h0m1-4h0m1 3h0m1-4h0m1 1h0m2 4h0m1-3h0m1-2h0m0 4h0m1-3h0m0 1h0m1 0h0m1 1h0m2-2h0m1 1h0m1 0h0m0 1h0m1-2h0m1-1h0m0 2h0m0 2h0m0 1h0m1-3h0m1 1h0m1-1h0m1-2h0m1 2h0m0 1h0m1 2h0m1-2h0m1 1h0m0 1h0m1-4h0m1 1h0m1-1h0m2-1h0m0 2h0m1 3h0m1-5h0m0 2h0m1 1h0m0 2h0m1-4h0m1 0h0m1 2h0m1-3h0m0 4h0m1-3h0m1-1h0m0 5h0m1-4h0m0 2h0m1-2h0m0 3h0m1 0h0m1-1h0m2-2h0m1 0h0m0 1h0m1 2h0m1 1h0m1-4h0m0 1h0m0 2h0m1 0h0m1 1h0m2-5h0m0 1h0m1 2h0m1-1h0m0 2h0m0 1h0m1-5h0m0 2h0m0 2h0m1-3h0m2 3h0m1 1h0m2-2h0m0 2h0m1-3h0m0 2h0m0 1h0m1-5h0m2 4h0m1 1h0m2-2h0m1-3h0m1 5h0m3-2h0m0 1h0m1-4h0m0 3h0m4-2h0m0 1h0m1 0h0m1-2h0m0 1h0m0 4h0m3-5h0m0 1h0m1 0h0m0 2h0m0 2h0m1-5h0m18 3h0m5 1h0m1 0h0m2 0h0m1-1h0m1-2h0m0 3h0m1-3h0m0 2h0m0 2h0m1-4h0m0 4h0m1 0h0m1-3h0m0 3h0m3 0h0m2-5h0m0 3h0m0 1h0m1-3h0m20-1h0m2 3h0m1 0h0m1-2h0m3 2h0m0 1h0m2-4h0m0 4h0m0 1h0m1 0h0m1-1h0m1-1h0m1-3h0m1 2h0m3-1h0m1 1h0m0 3h0m1-2h0m1 1h0m0 1h0m2-4h0m0 4h0m1 0h0m1-3h0m1-2h0m0 2h0m1 0h0m1-2h0m0 2h0m0 1h0m1-2h0m0 2h0m0 1h0m1-1h0m3-3h0m0 1h0m0 3h0m2-1h0m1 0h0m0 1h0m2 0h0m2-3h0m8-1h0m118 5h0m-134 1h0m-2 0h0m-3 2h0m0 1h0m-5-2h0m-5 0h0m-1 0h0m-1 1h0m-1-2h0m-2 0h0m-1 2h0m-1-2h0m-3 2h0m-2-1h0m0 1h0m-18 2h0m-3-3h0m-1 1h0m0 1h0m-1 1h0m-2-3h0m0 1h0m-2-2h0m-1 5h0m-1-3h0m0 2h0m-2-2h0m0 3h0m-1 0h0m-1 0h0m-11-3h0m-19 0h0m-3-2h0m-1 1h0m0 2h0m-1 2h0m-1-1h0m-2 0h0m-1-4h0m-2 1h0m0 4h0m-2-5h0m-4 3h0m-1-2h0m0 2h0m0 2h0m-1-4h0m0 3h0m-1-2h0m-1 2h0m-2-4h0m0 1h0m0 1h0m0 1h0m-2-2h0m0 2h0m-1-2h0m0 1h0m0 2h0m-1-3h0m-2 3h0m0 1h0m-1-4h0m0 2h0m-1-3h0m-3 3h0m-1-1h0m-1 0h0m0 3h0m-2-3h0m0 3h0m-1-5h0m-1 1h0m-1 1h0m0 1h0m-1-2h0m-4 0h0m-1 0h0m0 4h0m-1-2h0m0 1h0m-2-4h0m0 1h0m0 1h0m0 1h0m-1-1h0m0 3h0m-1-1h0m-1-3h0m0 4h0m-2-2h0m0 1h0m-2-1h0m-1-3h0m-1 1h0m-1 0h0m0 4h0m-1-4h0m0 4h0m-1-3h0m-1 1h0m0 1h0m-2-4h0m-1 5h0m-1-3h0m0 2h0m-1 1h0m-1-5h0m0 3h0m0 1h0m-1-4h0m-1 2h0m-1 3h0m-2-4h0m-1-1h0m0 3h0m-3-3h0m0 4h0m-2-3h0m0 1h0m0 3h0m-2 0h0m-1-4h0m0 2h0m0 2h0m-1-3h0m-1-2h0m0 1h0m0 4h0m-1 0h0m-1-4h0m-1-1h0m0 1h0m0 2h0m-1 0h0m-1-3h0m-1 2h0m0 2h0m-2-1h0m-1-2h0m0 2h0m0 2h0m-2-4h0m0 2h0m0 2h0m-1-5h0m-1 0h0m0 4h0m-3-3h0m0 3h0m-1 1h0m-1-4h0m0 4h0m-1-2h0m-1 2h0m4 4h0m1-1h0m1-2h0m0 1h0m1-1h0m0 3h0m1 0h0m0 2h0m1-5h0m1 4h0m1-3h0m0 3h0m1-1h0m1 2h0m1-5h0m0 1h0m1 3h0m2-1h0m0 2h0m1-5h0m1 1h0m2 3h0m1-2h0m0 1h0m1-2h0m0 2h0m0 1h0m1-2h0m0 1h0m2-1h0m0 2h0m2-2h0m0 1h0m0 2h0m1-2h0m1-2h0m0 3h0m1-3h0m0 4h0m1-2h0m1 0h0m0 1h0m2-4h0m0 5h0m1-4h0m0 1h0m0 1h0m0 1h0m1-2h0m0 3h0m1-2h0m2-1h0m1 0h0m1 1h0m1-2h0m1 0h0m0 2h0m1 0h0m0 1h0m1 0h0m1-4h0m0 3h0m1 1h0m1-4h0m0 4h0m1 1h0m1-5h0m1 1h0m2 2h0m1 1h0m1-3h0m0 3h0m1-2h0m0 1h0m1 1h0m1 0h0m1 1h0m1-5h0m0 4h0m1-4h0m0 3h0m1 0h0m0 2h0m2 0h0m1-3h0m0 1h0m3 0h0m1 1h0m1-4h0m0 2h0m1 2h0m1-2h0m0 1h0m1-2h0m0 3h0m0 1h0m2-4h0m0 2h0m1 1h0m1-4h0m3 1h0m1 2h0m1-1h0m2 2h0m1-2h0m0 3h0m1-5h0m0 5h0m3-2h0m3 1h0m1-1h0m1 2h0m1-5h0m0 1h0m1 1h0m1 3h0m2-3h0m1 0h0m0 1h0m0 1h0m1 1h0m1-3h0m5 2h0m2 0h0m13 0h0m8-2h0m1-2h0m0 1h0m1-1h0m1 4h0m0 1h0m1 0h0m1-5h0m1 0h0m4 5h0m1-1h0m1 1h0m1-2h0m1 2h0m2-4h0m2-1h0m2 4h0m19 0h0m6 0h0m0 1h0m19 4h0m-2 0h0m-2-1h0m0 1h0m-3-1h0m-2-1h0m-2 0h0m-3-1h0m-2 0h0m-8 4h0m-5-4h0m-2 2h0m-10 0h0m-1 1h0m0 2h0m-1-2h0m0 2h0m-1-2h0m-1 0h0m0 1h0m-1-1h0m-1-1h0m-2-2h0m-1 2h0m-1-1h0m0 1h0m-1-2h0m0 3h0m0 1h0m-1-4h0m0 5h0m-1-4h0m-1 3h0m-1 0h0m-1-3h0m-2-1h0m-4 3h0m-1-2h0m0 4h0m-1-1h0m-8-1h0m-13 0h0m-1 1h0m-1-2h0m0 2h0m-1 0h0m-2-4h0m-1 4h0m-1-4h0m-1 4h0m0 1h0m-1-4h0m-1-1h0m0 3h0m0 1h0m-1 1h0m-1-3h0m0 3h0m-1-3h0m0 1h0m-2-2h0m-3 1h0m-2 0h0m-1-1h0m0 3h0m-1-2h0m-2-2h0m-2 1h0m0 4h0m-1-5h0m-1 3h0m-1-3h0m0 2h0m-1-1h0m0 3h0m-1-4h0m-1 2h0m0 1h0m-1 1h0m-1-2h0m-2 0h0m-1-2h0m0 3h0m-1 0h0m-2-1h0m-1 3h0m-1-5h0m0 1h0m0 1h0m0 2h0m-1-3h0m-1 0h0m0 1h0m-2 2h0m-1-4h0m-1 0h0m0 2h0m0 2h0m-1-1h0m0 2h0m-1-4h0m0 1h0m-2-1h0m-2 1h0m-1-2h0m0 2h0m-2-2h0m0 5h0m-1-3h0m-1-2h0m-1 3h0m-1 1h0m-1 1h0m-1-5h0m0 2h0m-1 1h0m-1-1h0m-1 1h0m-1 1h0m-1-3h0m-1 2h0m0 2h0m-1-4h0m-1 1h0m-1 3h0m-2-4h0m-1 4h0m-1-5h0m-1 5h0m-1-2h0m0 1h0m-1-3h0m0 4h0m-4-2h0m0 2h0m-1-4h0m-2 3h0m-1-2h0m-1 0h0m0 1h0m-1-3h0m0 4h0m-2-2h0m-1 0h0m0 2h0m-1-4h0m0 5h0m-1-5h0m0 5h0m-1-4h0m0 1h0m0 3h0m-1-4h0m0 2h0m-2-3h0m0 2h0m-2 0h0m0 2h0m-1-1h0m-2-3h0m0 2h0m1 4h0m1 2h0m2 0h0m1 3h0m1-4h0m1 3h0m2-3h0m0 2h0m2 0h0m1-3h0m0 4h0m1-4h0m1 1h0m0 3h0m1-1h0m0 2h0m1-5h0m0 1h0m0 3h0m1-3h0m0 1h0m0 1h0m2-2h0m1 0h0m0 4h0m1-1h0m1 1h0m1-4h0m0 2h0m1-3h0m0 2h0m0 3h0m2-3h0m1 0h0m0 2h0m2-2h0m1 2h0m2 0h0m0 1h0m1-5h0m0 4h0m1-3h0m0 2h0m2 2h0m1-4h0m0 1h0m1-2h0m1 1h0m1-1h0m1 3h0m1 1h0m3-4h0m0 1h0m1 1h0m4 0h0m1-1h0m0 2h0m1-1h0m0 2h0m1-4h0m0 2h0m0 1h0m0 1h0m1-2h0m1 0h0m1 3h0m2-2h0m4-2h0m0 3h0m1-1h0m1 1h0m1-1h0m2-2h0m0 1h0m0 3h0m1-5h0m0 5h0m2-5h0m1 2h0m0 3h0m1-2h0m0 1h0m1-3h0m4 3h0m2-3h0m0 1h0m0 2h0m1 1h0m1-2h0m0 2h0m1-4h0m0 4h0m1-1h0m1-4h0m0 3h0m0 1h0m1-3h0m0 2h0m0 2h0m1-2h0m0 1h0m1 0h0m1-3h0m0 4h0m1-5h0m0 4h0m1-3h0m1-1h0m1 2h0m0 2h0m1 0h0m1-4h0m0 2h0m0 1h0m0 2h0m1-2h0m0 1h0m1-3h0m0 1h0m0 2h0m0 1h0m1-1h0m2 0h0m1 0h0m1 0h0m4-4h0m10 3h0m9-1h0m1-1h0m0 1h0m1-1h0m0 1h0m0 1h0m2-2h0m1 1h0m0 1h0m1 2h0m1-4h0m0 2h0m0 1h0m1-4h0m0 2h0m0 3h0m1-3h0m0 2h0m1-3h0m2-1h0m0 3h0m1-1h0m1-1h0m0 3h0m1 1h0m2-4h0m0 4h0m3-5h0m0 5h0m1-2h0m0 2h0m1-1h0m1-2h0m0 3h0m1-4h0m1 0h0m1 2h0m1 2h0m2 0h0m11-3h0m56 7h0m-39 2h0m-1 0h0m-2-1h0m-2-1h0m0 2h0m-1-3h0m-19 3h0m-3-4h0m0 2h0m-2 0h0m-3 1h0m-1 0h0m0 1h0m-2-5h0m0 3h0m-1-2h0m0 2h0m-1-3h0m0 5h0m-1-2h0m-2-2h0m-2 0h0m0 2h0m0 2h0m-1-3h0m-1-1h0m-1 3h0m-2-4h0m0 1h0m-1 2h0m0 1h0m-1-4h0m-6 3h0m-1-3h0m0 1h0m-1-1h0m0 1h0m-11 3h0m-10-2h0m0 3h0m-1-1h0m-1-3h0m-1-1h0m-1 1h0m0 2h0m0 1h0m-2-3h0m-1 2h0m0 1h0m-2-4h0m0 2h0m0 2h0m0 1h0m-1-1h0m-1-2h0m-1-2h0m0 2h0m0 1h0m0 1h0m-1-4h0m0 2h0m0 2h0m-1-3h0m0 2h0m0 2h0m-1-4h0m-1 4h0m-1-4h0m0 1h0m-1-2h0m0 1h0m0 1h0m0 2h0m-1 0h0m-1-4h0m0 1h0m0 1h0m0 2h0m-2 0h0m-1 1h0m-3-2h0m-2-1h0m-2-1h0m0 2h0m-1-3h0m0 1h0m-1 2h0m-1-3h0m0 4h0m-2-1h0m-1 0h0m0 1h0m-1-3h0m0 3h0m-1 0h0m0 1h0m-1-5h0m-1 3h0m-1-2h0m0 2h0m-1-2h0m-1 1h0m0 2h0m-1-1h0m0 2h0m-1-5h0m0 1h0m0 3h0m-1-2h0m-2-2h0m-1 3h0m0 1h0m-1-1h0m-1-3h0m0 5h0m-1-5h0m-1 1h0m0 2h0m-1 0h0m-1 2h0m-1-1h0m0 1h0m-1-1h0m-2-3h0m0 3h0m-2-1h0m0 2h0m-1-5h0m-1 1h0m0 4h0m-1-5h0m0 5h0m-1-1h0m-1-2h0m0 3h0m-1-4h0m0 1h0m-1-2h0m0 3h0m-1-3h0m0 1h0m0 1h0m-3-2h0m0 5h0m-1-4h0m0 1h0m0 2h0m-1 0h0m-1-2h0m0 3h0m-1-5h0m0 1h0m-1 4h0m-1-5h0m0 5h0m-1-3h0m-1-2h0m0 3h0m0 2h0m-1-1h0m0 1h0m-2-4h0m0 1h0m-1-1h0m0 3h0m-1-4h0m-2 0h0m0 2h0m-1 0h0m0 2h0m-1-3h0m-1 0h0m0 2h0m0 1h0m-1-4h0m0 2h0m-2-2h0m-2 0h0m-2 0h0m0 2h0m11 4h0m0 2h0m0 1h0m1-1h0m0 3h0m1-5h0m2 3h0m1 2h0m2-3h0m0 2h0m1-3h0m0 1h0m1 0h0m0 3h0m1-3h0m0 2h0m1-4h0m1 2h0m0 1h0m0 2h0m2-2h0m0 1h0m2-1h0m3-3h0m2 2h0m1 1h0m3-3h0m1 4h0m1-4h0m0 3h0m1-3h0m0 3h0m2-2h0m0 4h0m1-2h0m1 0h0m0 2h0m1-1h0m0 1h0m1-4h0m1-1h0m1 4h0m1-4h0m0 2h0m1 0h0m1 1h0m0 2h0m1-5h0m0 2h0m0 2h0m3-2h0m0 3h0m2 0h0m2 0h0m1-3h0m1 2h0m2-4h0m0 1h0m0 3h0m2-2h0m1-2h0m3 0h0m3 0h0m0 1h0m1 1h0m0 2h0m2-3h0m2-1h0m1 1h0m4 0h0m0 1h0m1-2h0m1 5h0m1-4h0m1 1h0m2-2h0m0 1h0m4-1h0m16 3h0m6 2h0m1-5h0m1 1h0m6 2h0m1-3h0m0 1h0m0 3h0m1 0h0m1-3h0m0 3h0m2 0h0m1-2h0m1-1h0m0 2h0m0 1h0m1-4h0m1 1h0m0 2h0m1 0h0m0 2h0m2 0h0m2-4h0m3 0h0m0 4h0m3-5h0m1 5h0m3-4h0m0 2h0m0 1h0m0 1h0m1-3h0m1-1h0m0 2h0m1 1h0m1-3h0m0 4h0m14-5h0m0 3h0m1 2h0m1-5h0m0 4h0m0 1h0m2-4h0m0 2h0m0 1h0m1-2h0m0 3h0m1-2h0m1-3h0m1 2h0m0 1h0m0 2h0m1-5h0m0 1h0m1 0h0m0 3h0m2-4h0m2 1h0m0 3h0m1-3h0m99 3h0m4 3h0m-101-1h0m-2 3h0m-2-2h0m0 3h0m0 1h0m-1-3h0m-1 2h0m-2-2h0m-1 1h0m-1-3h0m0 2h0m0 1h0m0 2h0m-2-5h0m-1 1h0m0 4h0m-1-4h0m0 1h0m-2-1h0m-11 0h0m-5 1h0m0 1h0m-1-2h0m0 2h0m-2-2h0m0 3h0m-2-4h0m-1 2h0m0 3h0m-1-4h0m-2 0h0m-4 0h0m0 1h0m0 2h0m-2-2h0m0 1h0m0 1h0m-1-2h0m-1 0h0m0 1h0m-1-3h0m-1 2h0m-1 3h0m-2-2h0m-1-3h0m0 4h0m-1-3h0m0 4h0m-1-1h0m-1-2h0m0 3h0m-1-3h0m-1 1h0m0 2h0m-1-5h0m-1 3h0m-1-3h0m-1 0h0m-1 3h0m-1-3h0m-1 1h0m0 1h0m0 1h0m-1-3h0m-1 2h0m-3 0h0m-2 0h0m-5 3h0m-12 0h0m-13-4h0m-4 4h0m-9-4h0m-7-1h0m-1 2h0m0 2h0m-4-4h0m0 3h0m0 1h0m-1-3h0m0 2h0m-1 1h0m-2-3h0m-4-1h0m-3 2h0m-1-2h0m0 1h0m-2-1h0m-6 3h0m-12-2h0m-2-1h0m-2 0h0m0 3h0m-3 0h0m3 3h0m13 3h0m53-3h0m3 2h0m14 2h0m0 1h0m2-4h0m0 3h0m1-2h0m1 0h0m0 1h0m3-2h0m1-1h0m0 3h0m0 1h0m1 1h0m2-4h0m0 1h0m1 3h0m1-2h0m2 0h0m2-3h0m1 5h0m1-5h0m3 3h0m0 2h0m1-5h0m0 3h0m1 2h0m1-5h0m1 4h0m2-4h0m1 5h0m1-3h0m1-1h0m0 2h0m0 1h0m0 1h0m1-1h0m1-2h0m0 3h0m1-4h0m0 2h0m1 2h0m1-4h0m3 2h0m1 1h0m1 1h0m1-1h0m0 1h0m4-5h0m0 3h0m0 1h0m1-2h0m1-2h0m3 1h0m1 3h0m19-4h0m1 1h0m2-1h0m1 0h0m0 1h0m0 1h0m2-2h0m0 1h0m1 0h0m-29 7h0m-3 0h0m-1-2h0m0 5h0m-1-5h0m0 5h0m-1 0h0m-2-5h0m-2 1h0m0 3h0m0 1h0m-2-1h0m-2-4h0m0 3h0m0 2h0m-1-2h0m-1-3h0m0 2h0m-3 1h0m-4-3h0m-1 2h0m-1-2h0m-2 1h0m-1 0h0m-1-1h0m-1 3h0m-1-1h0m-4-1h0m0 2h0m-1 0h0m0 1h0m-2-3h0m-1 2h0m-1-3h0m-2 5h0m-1 0h0m-5-2h0m-1-1h0m-1-1h0m0 2h0m0 1h0m-2-3h0m-1-1h0m-1 3h0m-1-2h0m-4 4h0m-11 0h0m-42-4h0m43 5h0m1 3h0m0 1h0m1-2h0m0 2h0m2-3h0m0 1h0m0 2h0m1 0h0m1-1h0m2-3h0m0 3h0m5 2h0m1-4h0m0 4h0m2 0h0m1-4h0m1 2h0m1 1h0m2-2h0m1 1h0m2-2h0m0 2h0m1-1h0m2-2h0m0 2h0m0 2h0m1-4h0m0 1h0m0 2h0m2 0h0m2 0h0m0 1h0m1-4h0m0 3h0m0 2h0m1-3h0m0 3h0m3-1h0m1 1h0m2-2h0m1-3h0m0 2h0m0 3h0m1-5h0m0 1h0m0 3h0m1-1h0m2-1h0m0 2h0m1-3h0m0 3h0m2-1h0m1-2h0m1 0h0m1 1h0m0 1h0m1-3h0m0 1h0m0 1h0m2-2h0m1 1h0m1 3h0m0 1h0m1-1h0m1-4h0m0 5h0m2 0h0m2-1h0m132-1h0m3-3h0m-5 11h0m-5 0h0m-13-3h0m-63 3h0m-50-4h0m-1-1h0m-2 0h0m-2 2h0m-2-1h0m-1-1h0m-1 2h0m-1-2h0m0 3h0m-1-1h0m-1 1h0m-1-3h0m-1 3h0m-1 2h0m-1-2h0m-1-3h0m-1 4h0m0 1h0m-3-3h0m-1-2h0m-1 3h0m-1-2h0m0 2h0m0 1h0m-1 1h0m-1-4h0m0 1h0m0 2h0m-1 1h0m-1-2h0m-3-3h0m0 1h0m-1-1h0m0 5h0m-2-3h0m0 3h0m-1-4h0m0 2h0m0 2h0m-1-5h0m0 2h0m0 1h0m-4-1h0m0 3h0m-1-2h0m-2-1h0m-1-1h0m-5 1h0m-6 3h0m-1-4h0m0 3h0m-1-3h0m0 4h0m-1-3h0m0 1h0m0 1h0m-1 0h0m-1-1h0m-4 0h0m-1-1h0m-2-1h0m0 2h0m-3 4h0m0 1h0m0 3h0m2-2h0m3-2h0m0 1h0m1-2h0m1 2h0m0 2h0m1-4h0m0 1h0m0 3h0m1 1h0m1-4h0m0 2h0m1-3h0m0 3h0m1-3h0m1 2h0m1 0h0m2 1h0m1-2h0m2-1h0m0 2h0m0 3h0m1-5h0m0 2h0m0 3h0m1-4h0m1-1h0m0 5h0m1-2h0m1-2h0m1 3h0m0 1h0m1-2h0m1-2h0m1 1h0m2 0h0m1-2h0m0 2h0m0 2h0m0 1h0m1-4h0m1 3h0m1-3h0m0 2h0m1-1h0m1-2h0m0 3h0m1-2h0m2 0h0m2 3h0m1-3h0m1 2h0m1-2h0m3-1h0m2 0h0m1 4h0m1-1h0m3 0h0m0 1h0m2-1h0m1 0h0m1-1h0m1-1h0m0 1h0m2-1h0m40 3h0m3 0h0m19-3h0m5 0h0m3 0h0m0 4h0m3-2h0m0 2h0m1-1h0m1 0h0m1-4h0m1 4h0m1-2h0m0 1h0m2 1h0m2 0h0m0 1h0m1-2h0m39 2h0m1-2h0m11-2h0m2-1h0m0 2h0m1 0h0m2-2h0m0 3h0m1-1h0m2-1h0m1 0h0m-22 5h0m-1 2h0m0 3h0m-22-4h0m-2 0h0m-7 3h0m-1-4h0m-2 4h0m-1-3h0m-2 1h0m-2 3h0m-1-5h0m-1 2h0m0 2h0m-2-2h0m0 3h0m-1-4h0m0 3h0m-1-1h0m0 2h0m-1-5h0m0 4h0m0 1h0m-29 0h0m-1-4h0m0 3h0m-1-3h0m-2 4h0m-1-3h0m-1-2h0m0 5h0m-2-2h0m0 1h0m-1-3h0m0 4h0m-1-3h0m-1 3h0m-2-5h0m0 4h0m-2-1h0m0 1h0m-1-4h0m-1 2h0m0 1h0m-1 1h0m0 1h0m-45-5h0m-2 0h0m-1 2h0m-2-1h0m-4 1h0m-6 0h0m-1 0h0m-1 1h0m-3-2h0m-2 1h0m-1-1h0m-1 0h0m-9-1h0m-2 0h0m-5 2h0m-1-1h0m-2 0h0m89 5h0m0 3h0m2 0h0m2-2h0m1 3h0m1-3h0m1-1h0m0 5h0m1-1h0m1-2h0m2 1h0m2-3h0m1 5h0m1-3h0m2 0h0m0 1h0m1 0h0m0 2h0m1-4h0m0 1h0m0 3h0m2-4h0m2 1h0m2 1h0m1 2h0m16 0h0m3-4h0m1 2h0m0 1h0m1-2h0m1-2h0m0 4h0m1 1h0m1-3h0m0 2h0m0 1h0m1-5h0m0 1h0m2 1h0m1-2h0m1 0h0m0 2h0m0 2h0m1-1h0m0 2h0m1-5h0m0 1h0m0 4h0m1-1h0m1-4h0m1 1h0m2 1h0m0 2h0m1-1h0m3 1h0m26-3h0m2 3h0m3 1h0m6-1h0m2-4h0m0 10h0m-3 0h0m-1-3h0m-1 2h0m0 1h0m-1-3h0m0 3h0m-2 0h0m0 1h0m-1-4h0m0 3h0m-3 0h0m-1 0h0m-18-1h0m0 1h0m-3-3h0m-1 2h0m-2-1h0m-1-2h0m0 4h0m-1-4h0m0 2h0m0 2h0m-2-1h0m0 2h0m-2-5h0m0 1h0m0 2h0m0 1h0m-1-2h0m0 1h0m-2-3h0m0 1h0m0 4h0m-2-4h0m0 3h0m-2-2h0m0 2h0m-1-4h0m0 5h0m-1-5h0m0 3h0m-1-3h0m0 2h0m0 3h0m-1-5h0m-1 3h0m0 2h0m-2-4h0m0 1h0m-10-1h0m-10-1h0m-8 0h0m-2 1h0m-1-1h0m-3 1h0m-14-1h0m-31 2h0m0 3h0m-2-1h0m-4 1h0m-1 0h0m-2-3h0m-8 9h0m3-2h0m1-1h0m0 2h0m1-2h0m1 1h0m0 2h0m1-3h0m1-1h0m1 1h0m1 0h0m0 2h0m0 1h0m1-1h0m1-3h0m0 2h0m0 2h0m1-4h0m0 3h0m1-2h0m0 3h0m1-1h0m2-2h0m0 1h0m1-3h0m1 1h0m0 4h0m1-2h0m0 1h0m3-3h0m0 4h0m1-1h0m2-4h0m0 2h0m0 1h0m1 0h0m0 2h0m2 0h0m1-5h0m0 3h0m36-3h0m33 1h0m0 2h0m1 2h0m1-5h0m0 1h0m0 2h0m2-3h0m3 0h0m0 1h0m5 3h0m4-2h0m1-1h0m3-1h0m1 0h0m4 2h0m1 3h0m1-4h0m0 1h0m0 2h0m1-1h0m1-3h0m0 1h0m2-1h0m4 2h0m8-2h0m6 0h0m-24 6h0m-81 4h0m-15-1h0m-3 2h0m-2-1h0m-1-2h0m0 3h0m-1-5h0m-2 4h0m-1-1h0m-1-3h0m-2 0h0m-3 3h0m-4-2h0m-1 2h0m-1-2h0m0 2h0m-2-1h0m-1-2h0m-2 4h0m-1 1h0m-1-1h0m-1-1h0m-3-1h0m0 2h0m-1-1h0m-1 1h0m-2 5h0m3-2h0m0 2h0m1-1h0m1 1h0m1-3h0m2 1h0m0 1h0m0 2h0m1 0h0m1-1h0m3 1h0m1-4h0m1 2h0m1 1h0m0 1h0m1-3h0m0 4h0m2-5h0m0 5h0m3-2h0m1 2h0m2 0h0m1-4h0m1 2h0m1-3h0m0 1h0m1 1h0m0 1h0m0 2h0m1-1h0m2-4h0m12 0h0m5 0h0m8 5h0m1-1h0m26-2h0m1 2h0m73 7h0m-1-1h0m-1 1h0m-68-1h0m0 1h0m-1-3h0m-1 0h0m-1 3h0m-1-3h0m0 1h0m-1 2h0m-2-3h0m0 1h0m-2-1h0m0 1h0m-6 0h0m-2 2h0m-1 0h0m-1 0h0m-1-1h0m-1 0h0m-34-4h0m-1 2h0m0 2h0m-1-4h0m-1 3h0m-1-1h0m-1 3h0m-1-3h0m-1-1h0m0 4h0m-1-5h0m0 3h0m-3-2h0m0 1h0m-2-2h0m0 4h0m0 1h0m-2-3h0m-4 1h0m-1-3h0m0 2h0m-1 2h0m-2-1h0m-1-3h0m0 1h0m0 1h0m-1-2h0m0 5h0m-1-5h0m0 1h0m-1-1h0m0 1h0m-3 3h0m-1 0h0m-1-4h0m0 2h0m-1-1h0m-1 1h0m0 2h0m-1-1h0m-2 0h0m5 4h0m0 1h0m1-2h0m2 2h0m0 3h0m1-4h0m0 2h0m1 1h0m0 1h0m2-3h0m0 2h0m1-1h0m1 1h0m1-3h0m0 1h0m0 2h0m1-4h0m0 3h0m0 2h0m1-5h0m0 2h0m1 0h0m1-2h0m0 4h0m0 1h0m1 0h0m1-2h0m1 0h0m1 0h0m0 2h0m1-5h0m1 1h0m0 4h0m1-4h0m0 1h0m0 2h0m3-3h0m0 1h0m0 3h0m3-5h0m0 2h0m2-1h0m4 1h0m0 2h0m1 0h0m2-1h0m2-1h0m0 3h0m1-1h0m1-2h0m3-1h0m0 2h0m2-3h0m0 4h0m7-3h0m1 2h0m1 1h0m1 1h0m6-1h0m5-4h0m1 0h0m2 0h0m1 0h0m0 3h0m2-1h0m0 1h0m2 0h0m8 0h0m1-3h0m1 1h0m0 2h0m1-3h0m0 1h0m0 1h0m1 0h0m2-1h0m0 3h0m3-1h0m3 1h0m1-2h0m45 1h0m0 1h0m1 0h0m1-2h0m0 1h0m1-2h0m0 4h0m1-4h0m1 0h0m0 1h0m0 1h0m1 0h0m1-1h0m1 0h0m0 3h0m2-4h0m0 1h0m0 1h0m2 0h0m0 2h0m1-5h0m0 2h0m0 2h0m1-1h0m1-3h0m0 2h0m4-1h0m-3 7h0m-2-2h0m-3 2h0m-1-2h0m-1 1h0m-1-1h0m0 1h0m-2-1h0m0 3h0m-1-3h0m-1 0h0m-2 0h0m-28 2h0m-1-1h0m0 4h0m-1-1h0m-2-2h0m-1 3h0m-1-1h0m-5-1h0m0 2h0m-1-3h0m0 3h0m-1-2h0m-1-3h0m-1 5h0m-1-1h0m-5 0h0m-26-1h0m-1 0h0m-14 0h0m-3-2h0m-1 0h0m-2 3h0m-1-2h0m0 2h0m-1-4h0m0 5h0m-1-1h0m-1-4h0m0 3h0m-1 2h0m-2-3h0m-1 0h0m-4-1h0m0 2h0m-1 1h0m-1-2h0m0 3h0m-2 0h0m-1 0h0m-1-5h0m0 3h0m-1 0h0m0 2h0m-1-1h0m-1-4h0m-1 1h0m-1 0h0m-2 1h0m-1-2h0m0 4h0m-1 0h0m-2-3h0m0 2h0m-2-3h0m0 2h0m-1-2h0m-2 1h0m-2 0h0m-2 2h0m14 3h0m0 4h0m1-3h0m0 3h0m0 1h0m2-4h0m1 1h0m2-2h0m2 1h0m0 2h0m2-3h0m0 3h0m1-3h0m0 1h0m1-1h0m1 2h0m0 2h0m1-4h0m0 4h0m0 1h0m1-4h0m0 4h0m2-4h0m2 1h0m0 1h0m0 2h0m1-2h0m1 0h0m1 2h0m1-5h0m0 5h0m2-4h0m0 2h0m2 1h0m1-4h0m0 4h0m0 1h0m3-2h0m0 2h0m16-5h0m0 3h0m1 0h0m1 2h0m2-3h0m11 2h0m1 1h0m1 0h0m2 0h0m3-5h0m3 2h0m0 3h0m1-4h0m0 4h0m1 0h0m1 0h0m3-4h0m0 1h0m0 1h0m1 2h0m1-1h0m1-4h0m1 3h0m1-2h0m1-1h0m1 4h0m1-3h0m0 4h0m1-2h0m1-3h0m0 3h0m1-2h0m3-1h0m-4 6h0m-1 4h0m-1-3h0m0 2h0m-1-2h0m-3 0h0m-1 2h0m-1 2h0m-1-4h0m0 1h0m-1-2h0m-1 2h0m-4-1h0m-2 4h0m-1-5h0m-1 4h0m-2-4h0m-3 2h0m-1-1h0m0 2h0m-3 2h0m-2-1h0m0 1h0m-2-2h0m-3-2h0m0 1h0m-1-2h0m-2 0h0m-18 0h0m-2 0h0m0 1h0m-2-1h0m0 4h0m-2-1h0m-2 2h0m-1-4h0m0 1h0m0 2h0m-2-1h0m0 2h0m-1-1h0m-9-2h0m-1 1h0m-2-1h0m-2 1h0m-2 0h0m-2 2h0m-1-2h0m-2 0h0m4 3h0m1 1h0m17 4h0m2-4h0m3-1h0m30 1h0m1 0h0m4 0h0m3 0h0m2 0h0"/>
<path fill="none" stroke="#fb1414" stroke-width="3.2" stroke-linecap="square" d="M1133 1007h0m-7-1h0m-1 0h0m-1-2h0m-2 2h0m0 1h0m-4 0h0m-10 5h0m2 0h0m1 1h0m1-2h0m0 1h0m1-2h0m0 2h0m0 1h0m1-2h0m0 1h0m1-3h0m0 1h0m0 2h0m0 1h0m1-3h0m1-2h0m1 2h0m0 3h0m1-2h0m0 2h0m1-5h0m0 2h0m0 1h0m0 2h0m1-4h0m0 3h0m1-3h0m0 1h0m1-2h0m0 2h0m0 2h0m0 1h0m1-5h0m0 2h0m0 2h0m1-4h0m0 3h0m1-3h0m0 2h0m0 2h0m1-3h0m1-1h0m0 1h0m0 1h0m0 3h0m1-5h0m0 4h0m1-3h0m0 2h0m1-1h0m0 2h0m1-3h0m0 2h0m0 1h0m1-2h0m0 2h0m1-3h0m0 1h0m1-1h0m0 3h0m2-2h0m0 2h0m1-2h0m2 0h0m2 1h0m2 0h0m3 0h0m2 0h0m4 2h0m3-1h0m1-1h0m1 0h0m0 2h0m14 6h0m-1-1h0m-1 0h0m-3-1h0m-1-1h0m-1-1h0m-4-1h0m-2 0h0m-7 0h0m-18 0h0m-2 1h0m-1-1h0m-1 0h0m-2 3h0m-1-1h0m0 1h0m-1-3h0m-4 0h0m-5 0h0m-5 0h0m-2 0h0m0 2h0m0 2h0m-2-3h0m-1 0h0m2 5h0m0 3h0m18-3h0m0 2h0m0 2h0m3-3h0m44-1h0m2 1h0m2 1h0m2 0h0m1 1h0m1 1h0m2 1h0m3 5h0m-2-4h0m2 7h0m13 10h0m-2-1h0m-1 1h0m-1 0h0m-2 0h0m-2 0h0m-3 0h0m-3 0h0m-1-1h0m-2-2h0m-2 3h0m-4-2h0m0 2h0m-1-3h0m-1 3h0m-1 0h0m-1-4h0m-3 3h0m-1-1h0m0 2h0m-1-3h0m-1 0h0m-2 2h0m0 1h0m-2-1h0m-2-2h0m0 2h0m-2 1h0m-1-3h0m0 1h0m-1 1h0m-1-1h0m-1 0h0m0 1h0m-1 1h0m-2-3h0m-2 3h0m-1-1h0m-2 0h0m0 1h0m-2-1h0m-1 1h0m-4-2h0m-1 2h0m-1 0h0m-2-2h0m-1 2h0m-1 0h0m-12 6h0m2 0h0m2-1h0m0 1h0m2 0h0m3-3h0m0 1h0m1-1h0m0 2h0m1-4h0m0 2h0m0 3h0m1-4h0m0 1h0m0 2h0m0 1h0m1-4h0m0 3h0m0 1h0m1-5h0m0 5h0m1-4h0m0 2h0m1-2h0m0 2h0m1-3h0m0 2h0m0 3h0m1-3h0m0 1h0m1-2h0m0 1h0m0 3h0m1-2h0m1-2h0m0 1h0m0 1h0m0 1h0m1-3h0m0 1h0m0 1h0m0 2h0m1-5h0m0 1h0m0 1h0m0 2h0m1-2h0m0 1h0m0 1h0m1-1h0m0 2h0m1-4h0m0 1h0m0 2h0m1-3h0m0 1h0m0 3h0m1-2h0m0 2h0m1-4h0m0 1h0m0 3h0m1-3h0m0 1h0m0 1h0m1-3h0m0 2h0m1-2h0m0 1h0m0 2h0m0 1h0m1-5h0m0 1h0m0 2h0m0 1h0m1-2h0m0 2h0m1-4h0m0 4h0m1-4h0m0 5h0m1-5h0m0 1h0m0 3h0m0 1h0m1-5h0m0 1h0m1 3h0m0 1h0m1-1h0m1-2h0m0 3h0m1-5h0m0 1h0m0 3h0m1-4h0m0 3h0m1-2h0m0 1h0m1-2h0m0 1h0m0 1h0m1-2h0m0 1h0m0 1h0m0 1h0m0 1h0m0 1h0m1-4h0m0 2h0m0 2h0m1-3h0m0 2h0m1-4h0m0 2h0m0 2h0m1-3h0m0 4h0m1-4h0m0 2h0m1-3h0m0 1h0m0 2h0m0 1h0m0 1h0m1-4h0m0 1h0m1-2h0m0 2h0m0 1h0m0 2h0m1-5h0m0 5h0m1 0h0m1-4h0m0 1h0m0 1h0m1-2h0m2-1h0m1 2h0m1-1h0m0 4h0m1-5h0m0 2h0m0 2h0m1 0h0m0 1h0m1-4h0m1 4h0m2-1h0m0 1h0m1-4h0m0 3h0m1-1h0m1-2h0m1 3h0m1-3h0m1 0h0m0 2h0m0 1h0m3-4h0m0 5h0m2-4h0m1 2h0m1-3h0m0 3h0m0 2h0m3-3h0m0 4h0m-3 1h0m0 3h0m-1-3h0m0 2h0m-1-1h0m-6-1h0m-1 0h0m0 2h0m0 1h0m-1-2h0m-1 0h0m0 2h0m-1 0h0m0 1h0m-1-4h0m0 1h0m-3 2h0m-4-4h0m-1 4h0m-1-3h0m0 3h0m-1-2h0m0 3h0m-1-4h0m0 2h0m0 1h0m-1-2h0m0 1h0m-1 2h0m-1-5h0m0 1h0m0 2h0m0 2h0m-1-3h0m0 2h0m-1-3h0m0 4h0m-1-3h0m0 3h0m-1-5h0m0 3h0m-1-1h0m0 2h0m-1-4h0m0 1h0m0 1h0m0 3h0m-1-2h0m-1-3h0m0 4h0m-1-3h0m0 2h0m0 1h0m-1-4h0m-1 0h0m0 1h0m0 3h0m-1-2h0m0 3h0m-1-5h0m0 1h0m0 2h0m0 1h0m0 1h0m-1-4h0m0 2h0m-1-2h0m0 1h0m0 1h0m0 2h0m-1-5h0m0 2h0m0 1h0m-1-3h0m0 1h0m0 1h0m-1-2h0m0 2h0m0 3h0m-1-5h0m0 3h0m0 2h0m-1-5h0m0 2h0m0 1h0m0 1h0m-1-4h0m0 3h0m0 1h0m-1-4h0m0 1h0m-1-1h0m0 3h0m0 1h0m-1-3h0m0 3h0m0 1h0m-1-5h0m0 2h0m0 2h0m0 1h0m-1-4h0m0 1h0m0 2h0m0 1h0m-1-5h0m0 2h0m0 2h0m0 1h0m-1-5h0m0 2h0m0 1h0m0 1h0m-1-3h0m0 3h0m-1-4h0m0 1h0m0 1h0m0 1h0m-1-3h0m0 1h0m0 2h0m-1-3h0m0 2h0m0 1h0m0 2h0m-1-5h0m0 4h0m-1-1h0m-1-1h0m0 1h0m0 2h0m-1-1h0m-1-4h0m0 2h0m0 2h0m-1-4h0m0 1h0m0 1h0m0 1h0m-1-3h0m0 1h0m0 1h0m0 1h0m-1-1h0m0 3h0m-1-5h0m0 2h0m0 1h0m0 1h0m-1-4h0m0 1h0m0 1h0m0 2h0m0 1h0m-1-4h0m0 1h0m0 3h0m-1-5h0m0 2h0m0 2h0m-1-1h0m0 1h0m-1-3h0m0 1h0m0 1h0m-1-2h0m0 3h0m0 1h0m-1-2h0m-1-3h0m0 2h0m0 3h0m-2-4h0m-1 0h0m0 2h0m0 1h0m-1-4h0m-1 1h0m0 4h0m-1-3h0m0 3h0m-1-4h0m-1 3h0m-2-1h0m-2-2h0m0 2h0m-2 2h0m-9 5h0m5 1h0m8 0h0m1-4h0m0 2h0m1 0h0m0 1h0m1 0h0m0 1h0m1-4h0m0 2h0m1 1h0m1-4h0m0 1h0m0 4h0m1-5h0m0 2h0m0 1h0m0 1h0m0 1h0m1 0h0m1-4h0m0 1h0m0 2h0m0 1h0m1-5h0m0 3h0m0 1h0m1-3h0m0 4h0m1-5h0m0 1h0m0 1h0m0 1h0m0 1h0m1-4h0m0 3h0m0 2h0m1-5h0m0 1h0m0 2h0m0 1h0m1-3h0m0 1h0m0 3h0m1-5h0m0 1h0m0 1h0m0 2h0m1-3h0m0 1h0m0 1h0m0 2h0m1-4h0m1 1h0m0 1h0m0 1h0m0 1h0m1-5h0m0 2h0m0 3h0m1-5h0m0 2h0m0 2h0m0 1h0m1-4h0m0 3h0m1-1h0m0 1h0m0 1h0m1-4h0m0 1h0m0 2h0m1-4h0m0 1h0m0 3h0m1-4h0m0 1h0m0 1h0m0 2h0m0 1h0m1-2h0m0 1h0m0 1h0m1-5h0m0 2h0m0 3h0m1-5h0m0 1h0m0 2h0m0 2h0m1-5h0m0 1h0m0 1h0m0 2h0m1-4h0m0 2h0m0 3h0m1-4h0m0 4h0m1-5h0m0 3h0m0 1h0m0 1h0m1-5h0m0 4h0m1-3h0m0 3h0m1-4h0m0 2h0m0 1h0m0 2h0m1-5h0m0 1h0m0 1h0m0 3h0m1-5h0m0 3h0m1-2h0m0 1h0m0 1h0m0 2h0m1-4h0m0 1h0m0 2h0m1-2h0m0 1h0m1-3h0m0 2h0m0 1h0m2-3h0m0 3h0m1 1h0m1-2h0m0 1h0m0 1h0m0 1h0m1-5h0m0 2h0m0 1h0m1-3h0m0 2h0m0 2h0m1-3h0m1-1h0m0 4h0m1-3h0m0 2h0m0 2h0m1-5h0m0 1h0m0 4h0m1-4h0m0 2h0m1-2h0m0 1h0m0 2h0m0 1h0m1-5h0m0 1h0m1 0h0m0 3h0m1-4h0m1 2h0m0 2h0m1-2h0m1 0h0m0 1h0m0 1h0m1-2h0m0 2h0m1 0h0m1-2h0m0 3h0m1-4h0m1-1h0m0 3h0m0 2h0m1-4h0m1 1h0m1-1h0m3 0h0m0 1h0m0 3h0m1-2h0m0 2h0m1-5h0m0 3h0m1-3h0m0 4h0m1 1h0m1-3h0m0 1h0m0 2h0m1-5h0m2 5h0m2-3h0m1 2h0m0 1h0m1-2h0m1-3h0m0 4h0m1-3h0m0 3h0m0 1h0m2 0h0m2-5h0m9 11h0m-10 0h0m-4-4h0m0 1h0m-1 3h0m-1-3h0m-2 1h0m-2 1h0m-1-4h0m0 4h0m-3-2h0m-1-2h0m0 1h0m0 3h0m-1 0h0m-1-3h0m0 4h0m-1-4h0m0 3h0m0 1h0m-1-4h0m0 3h0m0 1h0m-2-1h0m-2-3h0m0 2h0m0 1h0m-2-1h0m0 2h0m-1-5h0m0 1h0m0 4h0m-1-5h0m0 1h0m0 1h0m0 2h0m-1-3h0m0 2h0m0 2h0m-1-4h0m0 2h0m-1 0h0m0 2h0m-1-5h0m0 3h0m-1-3h0m0 1h0m0 1h0m-1-2h0m0 1h0m0 1h0m0 2h0m-1 0h0m-1-4h0m0 1h0m0 1h0m0 1h0m0 2h0m-1-5h0m-1 0h0m0 1h0m0 2h0m0 1h0m-1-4h0m0 2h0m0 2h0m0 1h0m-1-4h0m0 2h0m0 2h0m-1-5h0m0 3h0m0 2h0m-1-5h0m0 1h0m0 2h0m0 1h0m0 1h0m-1-4h0m0 2h0m-1 0h0m0 2h0m-1-4h0m0 3h0m-1-2h0m-1-2h0m0 2h0m0 1h0m-1 0h0m0 1h0m0 1h0m-1-4h0m0 2h0m-1-3h0m0 1h0m0 1h0m0 2h0m-1-3h0m0 1h0m0 2h0m0 1h0m-1-5h0m0 3h0m-1 0h0m0 1h0m0 1h0m-1-5h0m0 1h0m0 1h0m-1-2h0m0 1h0m0 3h0m0 1h0m-1-3h0m0 2h0m-1-3h0m0 1h0m-1-2h0m0 3h0m-1-2h0m0 3h0m0 1h0m-1-4h0m-1 0h0m0 1h0m0 1h0m-1-3h0m0 1h0m0 1h0m0 2h0m-1-2h0m0 1h0m-1-2h0m0 2h0m-1-3h0m0 4h0m-1-4h0m0 4h0m-1-4h0m0 2h0m0 1h0m0 2h0m-1-5h0m0 4h0m-1-4h0m0 2h0m0 1h0m-1-3h0m-1 0h0m0 1h0m0 1h0m0 1h0m0 2h0m-1-5h0m0 5h0m-1-3h0m0 1h0m-1-2h0m-1 1h0m-1-2h0m0 2h0m-1-1h0m0 2h0m0 1h0m-1-4h0m0 2h0m0 3h0m-1-3h0m0 2h0m-1-3h0m0 4h0m-1-5h0m0 1h0m0 1h0m0 2h0m-1-3h0m0 1h0m0 2h0m0 1h0m-1-4h0m0 2h0m0 2h0m-1-5h0m0 1h0m0 2h0m-1-1h0m0 3h0m-1-4h0m0 1h0m-2-1h0m0 1h0m-1-1h0m-1-1h0m0 4h0m-2-3h0m-2 2h0m0 2h0m-1-5h0m-2 1h0m0 1h0m0 3h0m-1-1h0m-1-3h0m-1-1h0m0 5h0m-1-2h0m0 1h0m-1-4h0m0 3h0m0 1h0m0 1h0m-1-5h0m0 2h0m-1 3h0m-1-5h0m0 5h0m-1 0h0m-2 3h0m0 3h0m1-5h0m0 2h0m0 1h0m1 0h0m1-1h0m0 2h0m1-3h0m0 1h0m1-1h0m0 4h0m1-5h0m0 2h0m1 0h0m1-2h0m1 0h0m0 2h0m0 3h0m1-5h0m4 5h0m1-2h0m1 1h0m1 1h0m1-4h0m0 1h0m0 2h0m1-1h0m1-3h0m1 1h0m0 1h0m0 1h0m0 2h0m1-2h0m0 2h0m1-5h0m0 1h0m0 1h0m0 1h0m0 2h0m1-5h0m0 2h0m0 3h0m1-5h0m0 2h0m0 1h0m0 2h0m1-3h0m0 1h0m0 1h0m0 1h0m1-5h0m0 1h0m0 4h0m1-4h0m0 1h0m0 2h0m0 1h0m1-3h0m0 1h0m0 2h0m1-1h0m0 1h0m1-5h0m0 2h0m0 1h0m0 1h0m1-4h0m0 3h0m1-2h0m0 1h0m0 1h0m0 2h0m1-3h0m0 1h0m1-3h0m0 3h0m0 1h0m1-4h0m0 1h0m0 2h0m0 2h0m1-5h0m0 2h0m0 1h0m1-2h0m0 2h0m0 2h0m1-4h0m0 1h0m0 1h0m1-3h0m0 3h0m0 2h0m1-3h0m0 2h0m1-2h0m0 2h0m1-4h0m0 2h0m0 2h0m1-1h0m0 1h0m0 1h0m1-5h0m0 3h0m1-3h0m0 2h0m1-1h0m0 1h0m0 3h0m1-5h0m0 1h0m0 2h0m0 1h0m0 1h0m1-4h0m0 1h0m1 0h0m0 2h0m0 1h0m1-4h0m0 3h0m0 1h0m1-4h0m0 1h0m0 2h0m1-1h0m1-2h0m0 4h0m1-2h0m0 1h0m0 1h0m1-5h0m0 2h0m0 3h0m1-5h0m0 2h0m0 2h0m1-3h0m0 1h0m0 1h0m0 2h0m1-5h0m0 1h0m0 1h0m0 2h0m1-1h0m0 1h0m1-4h0m0 1h0m0 4h0m1-5h0m0 3h0m0 2h0m1-4h0m0 2h0m1 0h0m0 1h0m0 1h0m1-3h0m0 2h0m1-2h0m0 1h0m0 1h0m1-4h0m0 1h0m0 3h0m1-2h0m0 2h0m0 1h0m1-4h0m0 1h0m0 1h0m0 1h0m1-4h0m0 4h0m0 1h0m1-5h0m0 1h0m0 1h0m1 3h0m1-4h0m0 1h0m1-1h0m0 1h0m0 1h0m1-3h0m0 2h0m0 1h0m0 1h0m0 1h0m1-5h0m0 1h0m0 1h0m1-1h0m0 2h0m0 2h0m1-4h0m1 0h0m0 3h0m1-1h0m1-1h0m2 0h0m0 2h0m1-4h0m1 1h0m2 4h0m1-3h0m0 2h0m1-3h0m1 0h0m0 1h0m1 2h0m0 1h0m1-3h0m1 3h0m1-3h0m1-2h0m0 1h0m1 4h0m1 0h0m1-3h0m0 3h0m1-5h0m0 1h0m0 2h0m3-3h0m0 1h0m6 3h0m12-4h0m-16 6h0m0 3h0m-4-1h0m-4 1h0m-1-2h0m0 1h0m-1 0h0m-3-2h0m0 4h0m0 1h0m-1-4h0m0 4h0m-1-3h0m0 1h0m-1-3h0m0 3h0m-1-2h0m-1-1h0m0 1h0m0 3h0m-1 1h0m-1-2h0m0 1h0m-2 1h0m-4-5h0m0 3h0m0 2h0m-1-1h0m-1-3h0m0 4h0m-1-3h0m0 2h0m-1-3h0m0 1h0m0 2h0m0 1h0m-2-2h0m0 1h0m-1-1h0m0 2h0m-1-5h0m0 2h0m0 1h0m-1-3h0m0 1h0m0 1h0m0 3h0m-1-3h0m0 2h0m-1-4h0m0 1h0m0 1h0m-1-2h0m0 1h0m-1-1h0m0 2h0m0 2h0m-1-3h0m0 1h0m0 2h0m0 1h0m-1-5h0m0 1h0m0 2h0m-1-3h0m0 2h0m0 1h0m0 1h0m0 1h0m-1-3h0m0 3h0m-1-5h0m0 1h0m0 1h0m0 1h0m-1-3h0m0 1h0m0 3h0m0 1h0m-1-4h0m0 1h0m0 1h0m0 1h0m-1-4h0m0 2h0m0 2h0m0 1h0m-1-5h0m0 1h0m0 2h0m0 2h0m-1-4h0m0 1h0m0 1h0m0 1h0m0 1h0m-1-2h0m-1-1h0m0 3h0m-1-5h0m0 1h0m0 1h0m-1-2h0m0 1h0m0 2h0m0 1h0m-1-3h0m0 1h0m0 1h0m0 2h0m-1-5h0m0 2h0m-1-2h0m0 1h0m0 2h0m-1-3h0m0 1h0m0 1h0m0 1h0m-1 1h0m-1-3h0m0 3h0m0 1h0m-1-4h0m0 1h0m0 2h0m-1-4h0m0 2h0m0 1h0m0 1h0m0 1h0m-1-4h0m0 1h0m0 3h0m-1-2h0m0 1h0m-1-4h0m0 1h0m0 1h0m0 3h0m-1-5h0m0 3h0m-1-3h0m0 1h0m0 3h0m-1-2h0m0 1h0m0 2h0m-1-4h0m0 1h0m0 1h0m-1-3h0m0 2h0m0 1h0m0 1h0m-1-2h0m0 3h0m-1-5h0m0 2h0m0 1h0m-1-2h0m0 2h0m0 2h0m-1-4h0m0 2h0m-1-2h0m0 1h0m0 2h0m0 1h0m-1-1h0m0 1h0m-1-3h0m0 1h0m0 1h0m0 1h0m-1-4h0m-1 1h0m0 1h0m0 1h0m-1-4h0m0 1h0m0 2h0m0 2h0m-1-5h0m0 3h0m-1 2h0m-1-3h0m-1 1h0m-1 0h0m-1-2h0m-2 4h0m-1-5h0m-3 0h0m-2 5h0m-2-3h0m-2 2h0m-2 1h0m-2-4h0m-2 3h0m-2-4h0m-2 2h0m0 1h0m-1 2h0m-5 6h0m2-1h0m1-3h0m0 1h0m1-2h0m20 1h0m2 2h0m3 0h0m2-3h0m0 2h0m1-2h0m0 1h0m1-1h0m0 2h0m0 2h0m1-2h0m0 2h0m1-1h0m0 1h0m1-3h0m0 1h0m1 1h0m0 1h0m0 1h0m1-4h0m0 1h0m0 1h0m0 1h0m1-4h0m0 2h0m1 0h0m0 2h0m1-4h0m0 1h0m0 3h0m0 1h0m1-4h0m0 1h0m0 2h0m1-4h0m0 3h0m0 1h0m0 1h0m1-4h0m0 2h0m0 1h0m1-4h0m0 2h0m0 1h0m0 1h0m1-4h0m0 3h0m0 2h0m1-5h0m0 1h0m0 3h0m0 1h0m2-2h0m0 2h0m1-4h0m0 1h0m0 2h0m1-3h0m0 2h0m1-3h0m0 1h0m0 3h0m0 1h0m1-5h0m0 2h0m0 3h0m1-4h0m0 1h0m1-2h0m0 4h0m0 1h0m1-5h0m0 1h0m0 4h0m1-4h0m0 2h0m0 2h0m1-5h0m0 1h0m0 4h0m1-4h0m0 1h0m0 1h0m0 1h0m0 1h0m1 0h0m1-5h0m0 1h0m0 3h0m1-1h0m1-2h0m0 1h0m0 1h0m0 2h0m1-5h0m0 5h0m1-3h0m0 2h0m0 1h0m1-4h0m0 1h0m0 2h0m1 0h0m1-4h0m0 1h0m0 2h0m1-3h0m0 3h0m0 1h0m1-3h0m0 1h0m1-2h0m0 5h0m1-5h0m0 1h0m0 2h0m1-2h0m0 1h0m0 1h0m0 1h0m0 1h0m1-5h0m0 3h0m0 2h0m1-5h0m0 1h0m0 4h0m1-5h0m0 3h0m0 1h0m1-2h0m0 3h0m1-5h0m0 4h0m1-2h0m1-2h0m0 1h0m0 1h0m0 1h0m0 1h0m1-4h0m0 2h0m0 1h0m1-2h0m0 1h0m0 2h0m1-3h0m0 1h0m0 1h0m0 2h0m1-4h0m0 3h0m1-4h0m0 4h0m0 1h0m1-2h0m0 2h0m1-2h0m0 1h0m1-3h0m2 0h0m1 2h0m2-2h0m0 4h0m2-3h0m0 3h0m1-5h0m0 1h0m0 3h0m1-4h0m0 2h0m0 2h0m0 1h0m1-2h0m1-1h0m0 1h0m0 2h0m1-2h0m2-3h0m0 3h0m1-1h0m0 2h0m2-4h0m0 3h0m2-2h0m0 1h0m1 1h0m3 1h0m1-3h0m2 2h0m21 7h0m-2 1h0m-1 0h0m-3-1h0m-4 0h0m-2 0h0m0 1h0m-1-5h0m0 1h0m0 3h0m-1 1h0m-1-5h0m-4 5h0m-1-5h0m-1 3h0m-3-2h0m-7 3h0m-2-2h0m-1-2h0m0 5h0m-1-4h0m-1 1h0m0 2h0m-1-4h0m-1 5h0m-1-4h0m-1-1h0m-1 3h0m-1-2h0m0 1h0m-2 2h0m-1-2h0m0 2h0m-1-4h0m0 1h0m0 4h0m-2-5h0m0 2h0m0 2h0m-1-2h0m0 3h0m-1-5h0m0 1h0m0 3h0m-1-4h0m0 1h0m0 3h0m-1-2h0m0 1h0m0 1h0m-1 0h0m0 1h0m-1-4h0m0 2h0m-1-3h0m0 1h0m0 1h0m-1-1h0m0 2h0m0 2h0m-1-3h0m0 1h0m0 1h0m-1-4h0m0 2h0m0 2h0m0 1h0m-1-3h0m0 1h0m0 2h0m-1-4h0m0 3h0m0 1h0m-1-5h0m0 1h0m0 2h0m0 2h0m-1-3h0m0 1h0m0 1h0m-1-4h0m0 1h0m0 1h0m0 2h0m-1-4h0m0 1h0m0 1h0m0 2h0m-1-1h0m0 1h0m-2-3h0m0 3h0m-1-4h0m0 1h0m0 1h0m0 1h0m0 2h0m-1-5h0m0 3h0m0 1h0m0 1h0m-1-5h0m0 1h0m0 1h0m-1-2h0m0 1h0m0 1h0m0 2h0m0 1h0m-1-3h0m0 3h0m-1-4h0m0 2h0m0 2h0m-1-5h0m0 4h0m-1-3h0m-1-1h0m0 3h0m0 2h0m-1-3h0m0 2h0m0 1h0m-1-5h0m0 1h0m0 1h0m-1-1h0m0 1h0m0 1h0m0 2h0m-1-5h0m0 2h0m0 1h0m0 1h0m-1-2h0m0 1h0m0 2h0m-1-5h0m0 3h0m-2-3h0m0 1h0m0 1h0m-1-2h0m-1 0h0m0 1h0m0 1h0m-1-1h0m-2 1h0m-1-1h0m-2-1h0m0 5h0m-1-5h0m-1 2h0m-1-2h0m0 1h0m-2 0h0m-1-1h0m-1 2h0m-1 1h0m-2 1h0m-1-4h0m-1 2h0m-1-1h0m-30-1h0m-2 1h0m-2 1h0m0 1h0m-1 2h0m-80-1h0m-1-3h0m1 9h0m1-2h0m113 0h0m27 1h0m0 1h0m3-3h0m1-1h0m0 1h0m1 0h0m0 1h0m0 2h0m1-3h0m0 3h0m4-3h0m4 0h0m1 0h0m0 2h0m2-1h0m0 1h0m1-2h0m0 1h0m1 2h0m1-4h0m1 0h0m1 0h0m0 1h0m0 1h0m1-2h0m1 0h0m0 3h0m1-3h0m0 1h0m0 2h0m0 1h0m1-1h0m2-3h0m0 4h0m2-4h0m1 0h0m1 0h0m0 2h0m1 2h0m1-2h0m0 1h0m1 0h0m1-3h0m1 1h0m1 1h0m1-2h0m1 1h0m0 2h0m1-3h0m0 2h0m0 1h0m5-2h0m11 3h0m3-3h0m0 3h0m1-4h0m0 2h0m0 1h0m2-2h0m0 2h0m1-3h0m0 2h0m0 2h0m1-1h0m1-1h0m0 2h0m1-4h0m0 2h0m1 0h0m0 3h0m1-4h0m0 1h0m0 2h0m1 0h0m1-2h0m0 3h0m4 4h0m-2-1h0m-1 2h0m-1-4h0m0 3h0m0 1h0m-1-2h0m0 2h0m0 1h0m-1-5h0m0 3h0m0 1h0m-1-3h0m0 1h0m0 2h0m-1-2h0m0 1h0m-1-3h0m0 5h0m-1-5h0m-1 2h0m0 2h0m-2-2h0m-4-2h0m-3 1h0m-2-1h0m-1 4h0m-2 0h0m-5-1h0m-2-1h0m0 2h0m-4 0h0m-1-2h0m-5-2h0m-6 2h0m-171 1h0m-4 3h0m190 2h0m2-2h0m0 3h0m3-2h0m7-1h0m12 0h0m0 1h0m1-1h0m0 1h0m1-1h0m0 3h0m1-3h0m1 0h0m0 1h0m0 1h0m1 2h0m1-3h0m0 4h0m1-5h0m1 0h0m0 1h0m2-1h0m29 7h0m-6 0h0m-1 3h0m-1 0h0m-1-3h0m0 1h0m0 1h0m-1 1h0m-1-3h0m0 3h0m-1-2h0m0 1h0m-1-1h0m0 3h0m-1-3h0m0 1h0m0 1h0m-4-3h0m-17-1h0m-3 4h0m-1-4h0m0 1h0m-5 1h0m-1 3h0m-7 4h0m2 1h0m3-3h0m1 2h0m8-3h0m1 2h0m-10 7h0m-19 0h0m10 8h0m8-1h0m2 0h0m2 1h0m2 0h0m8 0h0m29 6h0m-10 0h0m-1 0h0m-1-2h0m-1 1h0m0 1h0m-1-4h0m-1 2h0m-2 0h0m-1 1h0m-3-1h0m-1-1h0m0 2h0m0 1h0m-1-3h0m-2-1h0m0 3h0m-1 0h0m-1 1h0m-1-1h0m-2 0h0m-1-1h0m0 2h0m-4-1h0m0 1h0m-1-3h0m0 1h0m0 2h0m-1-4h0m0 4h0m-1-4h0m0 1h0m-1-2h0m0 4h0m-2-4h0m0 2h0m0 1h0m-1-2h0m-1-1h0m-2 2h0m-1 0h0m0 3h0m-1-4h0m0 1h0m0 2h0m-1-2h0m-1 3h0m-1-4h0m0 1h0m-1 2h0m0 1h0m-1-3h0m-1 2h0m0 1h0m-1-2h0m-1-1h0m-2 1h0m-1 2h0m-3 0h0m-2-1h0m-4 1h0m-100-4h0m-9 4h0m108 1h0m0 5h0m2-4h0m0 3h0m1-2h0m0 3h0m2-4h0m0 4h0m2-4h0m0 2h0m1 0h0m0 2h0m1-1h0m0 1h0m2-3h0m0 3h0m2-2h0m1-2h0m0 2h0m0 1h0m0 1h0m1-3h0m0 2h0m0 1h0m1-4h0m0 2h0m0 1h0m1-1h0m1-3h0m0 2h0m0 3h0m1-4h0m0 2h0m0 2h0m1-4h0m1 2h0m1 2h0m1-4h0m1-1h0m1 5h0m1-2h0m1-3h0m0 4h0m0 1h0m1-3h0m1 0h0m0 2h0m1 1h0m1-5h0m1 2h0m1 0h0m0 2h0m1-1h0m1-3h0m0 1h0m0 3h0m0 1h0m1-5h0m0 2h0m0 2h0m1 1h0m1-5h0m0 4h0m1-3h0m0 3h0m1-3h0m0 2h0m0 1h0m1-3h0m0 3h0m0 1h0m1-5h0m0 1h0m0 4h0m1-3h0m0 1h0m0 2h0m1-4h0m1 1h0m0 1h0m1-3h0m1 2h0m0 3h0m3-3h0m0 3h0m1-2h0m1-3h0m0 2h0m0 3h0m1 0h0m2-4h0m0 3h0m0 1h0m1-5h0m1 1h0m1 0h0m0 1h0m0 2h0m0 1h0m1-5h0m0 3h0m0 1h0m1-1h0m1-3h0m0 2h0m1 3h0m1-2h0m1-3h0m0 2h0m0 2h0m1-4h0m0 4h0m1-2h0m0 1h0m2 0h0m0 2h0m2-2h0m0 1h0m1-2h0m1 1h0m1 1h0m5 7h0m-1-4h0m0 4h0m-1-3h0m0 2h0m-1-4h0m0 1h0m-1-1h0m0 2h0m0 1h0m0 2h0m-1-4h0m0 2h0m-2 1h0m0 1h0m-1-4h0m0 2h0m-1-3h0m0 2h0m0 2h0m-1-2h0m0 2h0m-1-3h0m-1 0h0m0 2h0m0 2h0m-1-4h0m0 2h0m-1-3h0m0 1h0m-1 0h0m0 1h0m0 1h0m0 1h0m-1-3h0m-1-1h0m-1 1h0m-1-1h0m0 3h0m0 2h0m-1-2h0m0 1h0m-1-4h0m-1 4h0m0 1h0m-1-5h0m0 2h0m0 2h0m-1-4h0m0 3h0m-1-2h0m0 3h0m-1-4h0m0 5h0m-1-5h0m-1 0h0m0 3h0m-1-2h0m0 1h0m0 2h0m0 1h0m-1-2h0m0 1h0m-1-3h0m0 2h0m-1-3h0m-2 0h0m0 2h0m-1 0h0m0 1h0m0 1h0m0 1h0m-1-4h0m-1 1h0m0 1h0m-2-3h0m0 3h0m-1-3h0m0 1h0m0 2h0m-1 0h0m0 1h0m-1-3h0m-1 1h0m-1-1h0m0 1h0m-1-2h0m0 3h0m0 1h0m-1-3h0m-1 0h0m0 1h0m-1 0h0m0 3h0m-1-5h0m0 1h0m0 1h0m0 1h0m0 1h0m-1-3h0m0 2h0m0 2h0m-1-1h0m-1-2h0m0 2h0m-1-2h0m0 3h0m-1-4h0m0 3h0m-1-1h0m-1-1h0m0 1h0m0 1h0m-1-2h0m-1-2h0m0 3h0m-1-1h0m0 2h0m0 1h0m-1-4h0m0 1h0m-1-1h0m0 3h0m-1-2h0m0 2h0m-1-3h0m0 1h0m-1-1h0m0 2h0m0 2h0m-1-5h0m0 4h0m-1-3h0m-2 0h0m0 1h0m0 2h0m-1-4h0m0 4h0m-1-4h0m0 2h0m0 1h0m0 1h0m0 1h0m-1-3h0m-1-2h0m0 2h0m0 2h0m-1-4h0m-1 2h0m-187 9h0m2-3h0m189-1h0m1 0h0m3-1h0m1 0h0m0 2h0m1 1h0m3-3h0m0 2h0m0 2h0m0 1h0m1-2h0m0 1h0m1-4h0m0 2h0m0 1h0m1-1h0m2-1h0m0 1h0m0 3h0m1-5h0m1 0h0m0 1h0m0 4h0m1-3h0m0 1h0m1-3h0m2 0h0m0 1h0m0 2h0m0 1h0m1-4h0m0 3h0m0 2h0m3-2h0m1-3h0m1 2h0m1-1h0m0 1h0m2 1h0m0 1h0m1-4h0m1 0h0m0 4h0m2 1h0m1-3h0m0 2h0m1 0h0m1-4h0m1 2h0m0 1h0m1 1h0m0 1h0m1-5h0m0 2h0m1 0h0m1 0h0m1-2h0m1 1h0m0 1h0m0 3h0m1-4h0m1 3h0m1 1h0m1-4h0m1 3h0m1-4h0m0 4h0m1-1h0m1 0h0m0 2h0m1-2h0m1-1h0m0 3h0m1-2h0m1 2h0m1-1h0m1-4h0m0 3h0m1-1h0m0 3h0m1-4h0m0 1h0m0 1h0m1-3h0m0 2h0m0 1h0m1-1h0m0 2h0m0 1h0m1-5h0m1 5h0m1-5h0m2 0h0m0 3h0m1 1h0m16 7h0m-19-5h0m-1 0h0m0 2h0m-1 0h0m0 1h0m-1-3h0m-1 3h0m-2-2h0m0 3h0m-1-4h0m0 2h0m0 1h0m0 2h0m-1-4h0m0 1h0m0 3h0m-2-4h0m0 4h0m-1-2h0m-1-3h0m0 3h0m0 2h0m-1-4h0m0 1h0m0 1h0m0 1h0m0 1h0m-1-5h0m-1 0h0m0 1h0m-1 0h0m0 3h0m-1-2h0m0 3h0m-1-2h0m-1-1h0m-1 1h0m-1-2h0m0 2h0m0 1h0m-1-4h0m0 5h0m-1-3h0m0 2h0m-1-3h0m0 3h0m-1-4h0m0 2h0m-1 2h0m-1 0h0m-1-4h0m0 3h0m0 2h0m-1-4h0m0 4h0m-1-5h0m0 3h0m-1-2h0m0 2h0m0 1h0m-1-3h0m0 2h0m0 1h0m-1-4h0m0 1h0m0 2h0m-1-3h0m0 4h0m-1-4h0m0 4h0m0 1h0m-1-3h0m0 2h0m-1-4h0m0 2h0m-1 0h0m0 3h0m-1-5h0m0 4h0m-1-3h0m0 1h0m0 1h0m0 1h0m0 1h0m-2-2h0m-1-2h0m0 1h0m-1-2h0m0 3h0m-1-3h0m0 2h0m-1 0h0m0 2h0m0 1h0m-1-3h0m0 1h0m-1 1h0m0 1h0m-1-5h0m0 1h0m-1 0h0m-1-1h0m0 3h0m-1 1h0m-1-3h0m0 1h0m0 2h0m-2-4h0m0 2h0m-1 2h0m-218 7h0m219-5h0m3 2h0m0 1h0m2-2h0m3-1h0m0 3h0m0 1h0m0 1h0m1-4h0m1-1h0m0 5h0m2-5h0m0 1h0m1 1h0m0 2h0m1-4h0m0 3h0m0 2h0m1-3h0m0 2h0m1-1h0m0 1h0m0 1h0m1-5h0m1 2h0m1-2h0m0 2h0m3-2h0m0 1h0m0 3h0m1-3h0m0 3h0m1-4h0m1 1h0m0 4h0m1-5h0m1 3h0m0 2h0m1-1h0m2-1h0m0 2h0m1-3h0m0 3h0m1-2h0m0 1h0m1-3h0m0 1h0m0 3h0m1-4h0m0 4h0m1-4h0m0 1h0m2-2h0m0 1h0m0 2h0m1-3h0m0 2h0m0 3h0m1-2h0m3-3h0m0 2h0m0 3h0m1-5h0m0 4h0m1 1h0m1-2h0m1 2h0m1-5h0m0 2h0m0 1h0m0 2h0m1-5h0m0 2h0m0 3h0m4-5h0m0 1h0m1 0h0m22-1h0m2 1h0m-30 6h0m-2 0h0m-2-1h0m-1 2h0m-1-1h0m0 1h0m-1 0h0m-1 0h0m-1-1h0m0 2h0m0 1h0m-1-4h0m0 2h0m0 2h0m-1-4h0m0 2h0m-1 2h0m-1-2h0m-1 0h0m-1-2h0m-1 0h0m0 2h0m-1-1h0m0 1h0m-2-2h0m0 2h0m-1 2h0m-1-2h0m-1 1h0m-1-3h0m0 2h0m-1 0h0m0 1h0m-1-3h0m0 3h0m0 2h0m-1-4h0m0 2h0m-1-2h0m-2 1h0m0 1h0m0 1h0m0 1h0m-1-2h0m-1-2h0m0 2h0m0 2h0m-1-4h0m0 4h0m-2-1h0m-1-4h0m0 2h0m0 2h0m0 1h0m-1-4h0m0 4h0m-1-5h0m0 1h0m-1 2h0m-1-3h0m0 1h0m0 3h0m-1-4h0m0 2h0m0 1h0m-1 0h0m-1-3h0m0 2h0m0 3h0m-1-5h0m0 1h0m0 1h0m0 2h0m-1-1h0m-1-1h0m-2 2h0m-1 0h0m-2-1h0m0 1h0m-3 0h0m-18 1h0m-3-2h0m-1 2h0m-3 0h0m-2-2h0m0 2h0m-1 0h0m-1-1h0m-1-2h0m0 1h0m0 2h0m-1-1h0m-1-3h0m0 2h0m-1 2h0m-5 2h0m3 0h0m0 2h0m1-3h0m0 1h0m1 2h0m1-1h0m1-1h0m0 2h0m1-2h0m0 1h0m1 1h0m0 2h0m1-3h0m0 1h0m0 1h0m1-4h0m0 2h0m0 1h0m1-3h0m0 1h0m0 1h0m0 1h0m1-2h0m1-1h0m0 2h0m0 1h0m0 2h0m1-4h0m0 2h0m0 2h0m1-1h0m0 1h0m1-5h0m0 1h0m1 0h0m0 1h0m0 1h0m0 2h0m1-3h0m0 2h0m1-4h0m0 4h0m1 1h0m1-2h0m20-3h0m4 0h0m1 1h0m1-1h0m0 2h0m1-1h0m0 1h0m3-2h0m3 0h0m1 2h0m14-2h0m10 0h0m-51 10h0m-6-4h0m0 2h0m0 1h0m0 1h0m-1-4h0m-1 2h0m0 1h0m0 2h0m-1-5h0m0 1h0m0 2h0m0 1h0m0 1h0m-1-3h0m-1-2h0m0 2h0m0 1h0m0 1h0m-2-4h0m0 2h0m0 1h0m0 2h0m-1-4h0m0 1h0m0 1h0m0 2h0m-1-5h0m-1 3h0m-1-3h0m-1 0h0m-2 1h0m6 5h0m0 2h0m0 2h0m1-4h0m0 3h0m1-3h0m0 4h0m1-4h0m0 3h0m2-2h0m0 1h0m0 1h0m0 1h0m1-4h0m0 2h0m0 2h0m1-4h0m0 2h0m0 1h0m1-3h0m0 5h0m1 0h0m19-1h0m1 1h0m1 0h0m12 0h0m13 6h0m-4 0h0m-1-2h0m0 2h0m-1-2h0m0 1h0m0 1h0m-1-2h0m0 1h0m-2-2h0m0 2h0m0 1h0m-1-3h0m0 2h0m-1 1h0m-2-3h0m0 1h0m0 2h0m-1-1h0m-2-1h0m0 1h0m0 1h0m-2-1h0m0 1h0m-1-2h0m-1 2h0m-1-5h0m-1 5h0m-1-2h0m-1 2h0m-1-4h0m0 1h0m0 2h0m-1 0h0m-1-1h0m0 2h0m-1-5h0m0 2h0m0 2h0m-1-3h0m0 2h0m-1 0h0m-1-2h0m0 4h0m-1-3h0m-2-1h0m0 3h0m-1 0h0m-1-2h0m0 3h0m-1 0h0m-3 0h0m-2-2h0m0 2h0m-2-2h0m0 1h0m-1-3h0m0 4h0m-1-2h0m0 1h0m-1-4h0m0 1h0m0 2h0m0 2h0m-1-5h0m0 2h0m-1-1h0m0 3h0m-1-4h0m0 2h0m0 3h0m-1-5h0m0 4h0m-1-4h0m-1 2h0m0 1h0m-1-3h0m5 6h0m1 0h0m1 2h0m1-1h0m0 2h0m1-1h0m0 2h0m1-3h0m1-1h0m1 0h0m1 2h0m0 1h0m1-3h0m0 1h0m0 3h0m1-2h0m1-1h0m0 2h0m1-1h0m0 3h0m1-4h0m0 1h0m0 1h0m1-2h0m0 2h0m0 1h0m1-4h0m0 3h0m1 1h0m1-3h0m0 2h0m1-2h0m0 3h0m1-4h0m0 1h0m0 1h0m0 2h0m1-1h0m0 2h0m1-3h0m0 1h0m0 2h0m1-4h0m0 4h0m1-5h0m0 1h0m1 2h0m0 1h0m0 1h0m1-5h0m0 1h0m0 3h0m1-4h0m0 2h0m0 1h0m0 1h0m0 1h0m1-4h0m0 4h0m1-2h0m0 1h0m0 1h0m1-3h0m0 1h0m1-3h0m0 3h0m0 1h0m1-4h0m0 1h0m0 1h0m0 1h0m0 1h0m1-3h0m0 2h0m0 2h0m1-1h0m1-2h0m0 3h0m1-2h0m0 1h0m1-2h0m0 1h0m0 1h0m0 1h0m1-4h0m0 2h0m1-3h0m0 2h0m0 2h0m1-1h0m0 2h0m1 0h0m1-5h0m0 2h0m0 2h0m1-3h0m0 3h0m1-1h0m1-3h0m0 2h0m0 1h0m0 2h0m1-5h0m0 3h0m1 2h0m1-4h0m0 1h0m1-1h0m0 2h0m1-3h0m0 1h0m1-1h0m0 2h0m27 9h0m-32-4h0m-3-1h0m-1 0h0m0 1h0m0 1h0m-1-2h0m-1 1h0m0 1h0m0 1h0m-1-1h0m0 3h0m-1-3h0m0 2h0m0 1h0m-1-4h0m0 3h0m-1 0h0m-1-4h0m0 2h0m0 2h0m0 1h0m-1-3h0m-1 1h0m0 1h0m-1-4h0m0 1h0m0 3h0m-1-4h0m0 2h0m-1 2h0m-1-3h0m0 1h0m-1-1h0m0 3h0m-1-1h0m-1-2h0m0 2h0m-2-1h0m-1 0h0m-1 0h0m-1-1h0m0 3h0m-1-4h0m-1 0h0m0 1h0m-1 0h0m-2-1h0m-1 2h0m-3 4h0m20 0h0m1 2h0m0 3h0m1-4h0m1 0h0m1-1h0m0 3h0m-170 32h0m16 12h0m0 1h0m128 8h0m-1 1h0m-1 0h0m-35 8h0m3-1h0m5 1h0m2 0h0m7 0h0m5-1h0m2 3h0"/>
<path fill="none" stroke="#ea3030" stroke-width="2.8" stroke-linecap="square" d="M1086 1005h0m-50 28h0m4 10h0m-3-4h0m4 6h0m0 2h0m31 1h0m2 0h0m3-4h0m-2 7h0m-10 3h0m12 6h0m2-1h0m-1 8h0m-35-3h0m-1 2h0m0 2h0m43 4h0m139-2h0m3 1h0m2 0h0m1-1h0m0 2h0m1-1h0m1 0h0m1 0h0m0 1h0m1-2h0m0 1h0m0 2h0m1-5h0m1 4h0m0 1h0m2-1h0m-1 5h0m-2-2h0m-1-1h0m0 4h0m-1-3h0m-1-1h0m-1 1h0m-1-1h0m0 1h0m-136 4h0m-8-4h0m-17 5h0m166 0h0m0 1h0m0 2h0m1-2h0m0 2h0m0 1h0m1-3h0m1 0h0m0 1h0m0 3h0m1-4h0m0 1h0m0 2h0m0 1h0m1-5h0m0 6h0m-1 0h0m-2 0h0m0 2h0m-220 7h0m40 2h0m60 4h0m-143 5h0m40 1h0m100-1h0m4 0h0m43 8h0m-4 0h0m-1 1h0m-1-1h0m-5 0h0m-1 1h0m-1-3h0m0 3h0m-1-2h0m0 2h0m-1 0h0m-3-4h0m0 2h0m0 2h0m-2-1h0m-1 1h0m-1-1h0m-18-4h0m0 1h0m-69 1h0m-5 2h0m-3 0h0m-23-2h0m-7 0h0m-30 8h0m9 0h0m29 0h0m16-1h0m12-1h0m6 0h0m66 2h0m6-1h0m0 2h0m1-1h0m1-1h0m0 2h0m1-3h0m1 3h0m1-5h0m0 3h0m1 1h0m1-4h0m1 0h0m0 2h0m0 1h0m1 0h0m0 1h0m1-2h0m2-1h0m1 4h0m1-5h0m0 1h0m1 4h0m1-5h0m0 2h0m0 2h0m0 1h0m1-4h0m1-1h0m0 3h0m0 1h0m2-4h0m0 4h0m1-2h0m0 2h0m0 1h0m1-5h0m0 1h0m1-1h0m0 4h0m1-3h0m0 4h0m1-2h0m0 1h0m3-2h0m0 2h0m1-2h0m0 2h0m0 1h0m2-4h0m0 1h0m0 2h0m2-3h0m2 4h0m1-5h0m1 3h0m1 1h0m32-1h0m2 1h0m3-3h0m-28 9h0m-2 1h0m-1-2h0m-4 0h0m0 1h0m0 1h0m-1-4h0m-1-1h0m-1 0h0m0 2h0m0 3h0m-2-4h0m-1-1h0m-2 1h0m-1 1h0m0 2h0m-1-4h0m0 3h0m-1 2h0m-1-3h0m-1-2h0m-1 3h0m-1-2h0m-1 2h0m-1 1h0m-1-2h0m0 2h0m-2-3h0m0 2h0m0 2h0m-2-5h0m0 3h0m0 1h0m-2 0h0m-2 0h0m-1-4h0m0 5h0m-1-4h0m0 4h0m-1-5h0m0 2h0m0 2h0m-2-2h0m-1 1h0m-2-1h0m0 2h0m-1 1h0m-1-4h0m-1-1h0m0 3h0m0 1h0m-1-3h0m0 2h0m-1-3h0m0 4h0m-2-2h0m-1 0h0m-2 0h0m-21 2h0m-2 1h0m-63-1h0m-14-2h0m-43 2h0m-3-4h0m-4 1h0m-14 6h0m41 4h0m32-3h0m47 1h0m2 0h0m4-1h0m4 0h0m5-1h0m3 0h0m10 1h0m6 0h0m7-2h0m0 1h0m1-1h0m1 2h0m2 2h0m1-3h0m1 4h0m1-2h0m2 1h0m1-3h0m1 0h0m0 2h0m1-2h0m1-1h0m0 3h0m0 1h0m1 1h0m1-3h0m3 1h0m1 0h0m1 0h0m1-3h0m0 2h0m0 1h0m1-2h0m0 3h0m2-3h0m0 4h0m2-3h0m1 2h0m2-2h0m1 1h0m1-3h0m0 2h0m0 1h0m2-3h0m0 2h0m0 2h0m0 1h0m3-2h0m1-3h0m1 2h0m1 2h0m1-2h0m0 1h0m3 1h0m1-2h0m0 2h0m0 1h0m1 0h0m1-1h0m1-1h0m0 2h0m1-1h0m1-2h0m1 1h0m4-3h0m-1 6h0m-1 4h0m-4-4h0m-9 2h0m-6-2h0m-4 3h0m-1 0h0m-5-3h0m0 1h0m-1 2h0m-1-1h0m-5-1h0m-1 1h0m-1 1h0m-1-3h0m0 1h0m-1 0h0m0 2h0m-5-3h0m-4 1h0m-10 3h0m-6-2h0m-5 0h0m-58 3h0m-15-1h0m-5-1h0m-12 0h0m-23-3h0m-3 2h0m-17 9h0m30-4h0m8-1h0m135 0h0m6 4h0m1 0h0m20-4h0m5 0h0m-10 10h0m-5 0h0m-3-4h0m-5 5h0m-1-4h0m-9 2h0m-3-2h0m-16 2h0m-64 2h0m-10-3h0m-12 3h0m-11-1h0m-9-3h0m-10-1h0m-7 3h0m-5-2h0m-17 2h0m4 7h0m17-2h0m19 0h0m10 0h0m64 2h0m30-4h0m11 3h0m2 2h0m2-3h0m9 2h0m0 1h0m8-2h0m4-3h0m0 3h0m15-3h0m-63 6h0m-46 0h0m-15 5h0m-67 6h0m1-1h0m4 0h0m59-1h0m10-2h0m46 3h0m5-1h0m48 6h0m-10-3h0m-38 2h0m-3 0h0m-62-2h0m0 4h0m-25-1h0m-12 0h0m-13 2h0m0 1h0m13 1h0m4 2h0m9 1h0m1-1h0m9 1h0m6-1h0m4 1h0m26 0h0m118 7h0m-68-1h0m-14 0h0m-34-4h0m-7 0h0m-2 2h0m-15 0h0m-2-1h0m-13-1h0m0 1h0m-13 3h0m-13-2h0m-13 2h0m-3 7h0m14-3h0m16 1h0m4 1h0m35-3h0m47 3h0m1 0h0m35 1h0m11-5h0m2 1h0m-35 7h0m-5-2h0m-4 2h0m-18 1h0m-59-3h0m-22 10h0m105 0h0m3 2h0m-6 3h0m-28 0h0m-11 5h0m26 2h0m12-4h0m140 0h0m-10 11h0m-183-4h0m17 7h0m5 0h0m3 1h0m147-3h0m12 2h0m6-2h0m-57 7h0m-7-1h0m-3 3h0m-31-2h0m-2 2h0m-1-2h0m-11 2h0m-1-3h0m3 11h0m21-2h0m22-1h0m7 1h0m9 1h0m39 6h0m-12 1h0m-23-1h0m-14-4h0m-36 1h0m-53 8h0m1 1h0m5-4h0m86 1h0m22 1h0m8 0h0m-91 8h0m-24-4h0m-12 3h0m0 2h0m4 3h0m2 1h0m5 0h0m59 5h0m-3-1h0m0 4h0m-2-2h0m-12 2h0m-55-2h0m15 3h0m26 4h0m7 0h0m1 1h0m6-3h0m2-2h0m0 3h0m2 0h0m9-2h0m4 0h0m4 1h0m51 2h0m3-3h0m4 1h0m7 4h0m-94 5h0m-8-2h0m-9 1h0m-10-2h0m-5 7h0m19-2h0m21 0h0m1 4h0m34 4h0m-28-2h0m-50-1h0m53 7h0"/>
<ellipse cx="1191.2" cy="1102.4" rx="98.1" ry="110.9" fill="none" stroke="#12A850" stroke-width="5.6" stroke-dasharray="13.3 4.42"/>
<text x="1073.2" y="991.0" font-size="35.2">CD163</text>
</g>
</svg>
</body></html>
